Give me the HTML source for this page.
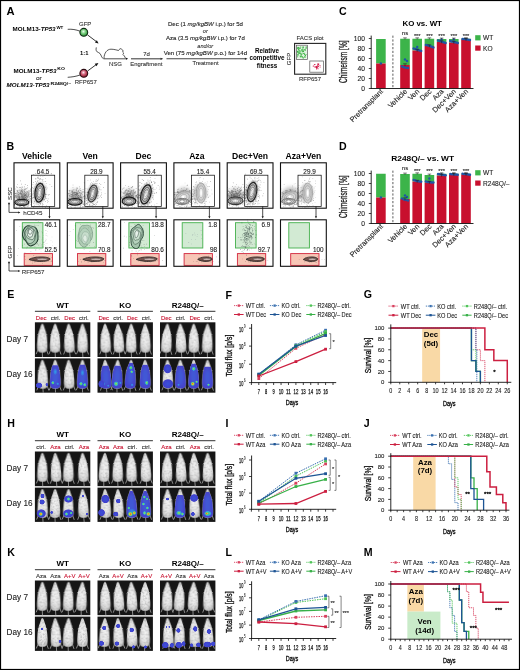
<!DOCTYPE html>
<html><head><meta charset="utf-8"><title>Figure</title>
<style>
html,body{margin:0;padding:0;background:#fff;}
body{width:520px;height:670px;overflow:hidden;font-family:"Liberation Sans", sans-serif;}
svg{display:block;will-change:transform;}
</style></head><body>
<svg width="520" height="670" viewBox="0 0 520 670" font-family='"Liberation Sans", sans-serif'>
<defs>
<radialGradient id="gG" cx="0.45" cy="0.4" r="0.6"><stop offset="0" stop-color="#e8fae8"/><stop offset="0.45" stop-color="#7ad080"/><stop offset="1" stop-color="#2a8a34"/></radialGradient>
<radialGradient id="gR" cx="0.45" cy="0.4" r="0.6"><stop offset="0" stop-color="#fce8ec"/><stop offset="0.45" stop-color="#d06078"/><stop offset="1" stop-color="#8a1828"/></radialGradient>
<radialGradient id="mouseG" cx="0.5" cy="0.5" r="0.62"><stop offset="0" stop-color="#f4f4f4"/><stop offset="0.55" stop-color="#e4e4e4"/><stop offset="0.85" stop-color="#c6c6c6"/><stop offset="1" stop-color="#8a8a8a"/></radialGradient>
<radialGradient id="blobB" cx="0.5" cy="0.5" r="0.5"><stop offset="0" stop-color="#3a50d8"/><stop offset="0.8" stop-color="#4040cc"/><stop offset="1" stop-color="#4646cc" stop-opacity="0"/></radialGradient>
<radialGradient id="blobL" cx="0.5" cy="0.5" r="0.5"><stop offset="0" stop-color="#30a0e8"/><stop offset="0.6" stop-color="#3a70dc"/><stop offset="1" stop-color="#4646cc" stop-opacity="0"/></radialGradient>
<radialGradient id="blobC" cx="0.5" cy="0.5" r="0.5"><stop offset="0" stop-color="#c8e040"/><stop offset="0.35" stop-color="#50d080"/><stop offset="0.7" stop-color="#30a0e0"/><stop offset="1" stop-color="#4646cc" stop-opacity="0"/></radialGradient>
<radialGradient id="blobH" cx="0.5" cy="0.5" r="0.5"><stop offset="0" stop-color="#e83020"/><stop offset="0.3" stop-color="#f0c020"/><stop offset="0.6" stop-color="#50d080"/><stop offset="1" stop-color="#4646cc" stop-opacity="0"/></radialGradient>
<filter id="mot0" x="-20%" y="-5%" width="140%" height="110%" color-interpolation-filters="sRGB"><feTurbulence type="fractalNoise" baseFrequency="0.5" numOctaves="2" seed="3" result="n"/><feColorMatrix in="n" type="matrix" values="0 0 0 0 0.55  0 0 0 0 0.55  0 0 0 0 0.55  1.1 0 0 0 -0.47" result="dk"/><feComposite in="dk" in2="SourceAlpha" operator="in" result="dk2"/><feMerge><feMergeNode in="SourceGraphic"/><feMergeNode in="dk2"/></feMerge></filter>
<filter id="mot1" x="-20%" y="-5%" width="140%" height="110%" color-interpolation-filters="sRGB"><feTurbulence type="fractalNoise" baseFrequency="0.5" numOctaves="2" seed="10" result="n"/><feColorMatrix in="n" type="matrix" values="0 0 0 0 0.55  0 0 0 0 0.55  0 0 0 0 0.55  1.1 0 0 0 -0.47" result="dk"/><feComposite in="dk" in2="SourceAlpha" operator="in" result="dk2"/><feMerge><feMergeNode in="SourceGraphic"/><feMergeNode in="dk2"/></feMerge></filter>
<filter id="mot2" x="-20%" y="-5%" width="140%" height="110%" color-interpolation-filters="sRGB"><feTurbulence type="fractalNoise" baseFrequency="0.5" numOctaves="2" seed="17" result="n"/><feColorMatrix in="n" type="matrix" values="0 0 0 0 0.55  0 0 0 0 0.55  0 0 0 0 0.55  1.1 0 0 0 -0.47" result="dk"/><feComposite in="dk" in2="SourceAlpha" operator="in" result="dk2"/><feMerge><feMergeNode in="SourceGraphic"/><feMergeNode in="dk2"/></feMerge></filter>
<filter id="mot3" x="-20%" y="-5%" width="140%" height="110%" color-interpolation-filters="sRGB"><feTurbulence type="fractalNoise" baseFrequency="0.5" numOctaves="2" seed="24" result="n"/><feColorMatrix in="n" type="matrix" values="0 0 0 0 0.55  0 0 0 0 0.55  0 0 0 0 0.55  1.1 0 0 0 -0.47" result="dk"/><feComposite in="dk" in2="SourceAlpha" operator="in" result="dk2"/><feMerge><feMergeNode in="SourceGraphic"/><feMergeNode in="dk2"/></feMerge></filter>
<filter id="mot4" x="-20%" y="-5%" width="140%" height="110%" color-interpolation-filters="sRGB"><feTurbulence type="fractalNoise" baseFrequency="0.5" numOctaves="2" seed="31" result="n"/><feColorMatrix in="n" type="matrix" values="0 0 0 0 0.55  0 0 0 0 0.55  0 0 0 0 0.55  1.1 0 0 0 -0.47" result="dk"/><feComposite in="dk" in2="SourceAlpha" operator="in" result="dk2"/><feMerge><feMergeNode in="SourceGraphic"/><feMergeNode in="dk2"/></feMerge></filter>
<filter id="mot5" x="-20%" y="-5%" width="140%" height="110%" color-interpolation-filters="sRGB"><feTurbulence type="fractalNoise" baseFrequency="0.5" numOctaves="2" seed="38" result="n"/><feColorMatrix in="n" type="matrix" values="0 0 0 0 0.55  0 0 0 0 0.55  0 0 0 0 0.55  1.1 0 0 0 -0.47" result="dk"/><feComposite in="dk" in2="SourceAlpha" operator="in" result="dk2"/><feMerge><feMergeNode in="SourceGraphic"/><feMergeNode in="dk2"/></feMerge></filter>
<filter id="bl1" x="-50%" y="-50%" width="200%" height="200%"><feGaussianBlur stdDeviation="1.2"/></filter>
<filter id="bl2" x="-50%" y="-50%" width="200%" height="200%"><feGaussianBlur stdDeviation="2.2"/></filter>
<radialGradient id="haze" cx="0.5" cy="0.5" r="0.5"><stop offset="0" stop-color="#777" stop-opacity="0.55"/><stop offset="1" stop-color="#999" stop-opacity="0"/></radialGradient>
<path id="mouse" d="M0,0 C0.7,0 1.3,1 1.7,2.6 C2.1,4 2.6,5.2 3.0,6.2 C3.6,7.4 3.9,8.6 3.9,9.6 C4.5,11 5.0,14 5.2,17.5 C5.5,21 5.7,24 5.3,26 C4.7,28 2.6,28.8 0,28.8 C-2.6,28.8 -4.7,28 -5.3,26 C-5.7,24 -5.5,21 -5.2,17.5 C-5.0,14 -4.5,11 -3.9,9.6 C-3.9,8.6 -3.6,7.4 -3.0,6.2 C-2.6,5.2 -2.1,4 -1.7,2.6 C-1.3,1 -0.7,0 0,0 Z"/>
</defs>
<rect x="0" y="0" width="520" height="670" fill="#fff"/>
<text x="6.40" y="15.00" font-size="10.6" font-weight="bold" textLength="8.1" lengthAdjust="spacingAndGlyphs">A</text>
<text x="12.6" y="30.9" font-size="6" font-weight="bold" textLength="43" lengthAdjust="spacingAndGlyphs">MOLM13-<tspan font-style="italic">TP53</tspan></text>
<text x="56.40" y="28.50" font-size="4.4" font-weight="bold" textLength="6.9" lengthAdjust="spacingAndGlyphs">WT</text>
<text x="13.5" y="72.5" font-size="6" font-weight="bold" textLength="43" lengthAdjust="spacingAndGlyphs">MOLM13-<tspan font-style="italic">TP53</tspan></text>
<text x="57.30" y="70.10" font-size="4.4" font-weight="bold" textLength="7.6" lengthAdjust="spacingAndGlyphs">KO</text>
<text x="35.90" y="79.80" font-size="5.6" fill="#333" stroke="#333" stroke-width="0.1" textLength="5.8" lengthAdjust="spacingAndGlyphs">or</text>
<text x="6.6" y="87.3" font-size="6" font-weight="bold" textLength="43" lengthAdjust="spacingAndGlyphs" font-style="italic">MOLM13-<tspan font-style="italic">TP53</tspan></text>
<text x="50.40" y="84.90" font-size="4.4" font-weight="bold" textLength="20.8" lengthAdjust="spacingAndGlyphs">R248Q/–</text>
<text x="85.20" y="25.50" font-size="6" text-anchor="middle" fill="#333" stroke="#333" stroke-width="0.1">GFP</text>
<text x="85.80" y="83.60" font-size="6" text-anchor="middle" fill="#333" stroke="#333" stroke-width="0.1">RFP657</text>
<path d="M67.7,29.3 C72,29 76,29.6 80,31.2" stroke="#222" stroke-width="0.8" fill="none"/>
<path d="M67.7,77.3 C72,77 76,76.5 80,75" stroke="#222" stroke-width="0.8" fill="none"/>
<path d="M87.4,34.8 L96.4,41.6" stroke="#111" stroke-width="0.85" fill="none"/>
<path d="M98.60,43.40 L94.96,42.58 L96.81,40.13 Z" fill="#111"/>
<path d="M87.6,71.0 L96.2,64.6" stroke="#111" stroke-width="0.85" fill="none"/>
<path d="M98.40,63.00 L96.55,66.24 L94.75,63.76 Z" fill="#111"/>
<circle cx="83.8" cy="32.3" r="3.9" fill="url(#gG)" stroke="#102a14" stroke-width="1.1"/>
<circle cx="83.8" cy="73.3" r="3.9" fill="url(#gR)" stroke="#2a0a10" stroke-width="1.1"/>
<text x="80.00" y="55.30" font-size="5.8" font-weight="bold">1:1</text>
<path d="M96.3,47.4 C95.6,50 96.3,52 98.6,52.6 C101,53.2 100.8,56.5 103,58.6" stroke="#222" stroke-width="0.75" fill="none"/>
<path d="M104,58.6 C104,53 107,49.2 111,49.2 C114,49.2 116.5,50 118.5,50.5 C119.5,48.5 121.6,48 121.8,49.6 C123,50 123.5,51.2 122.6,52 C124,52.8 123.6,54 122.8,54.4 C124,55.2 125,56.6 125.5,58.2" stroke="#222" stroke-width="0.75" fill="none"/>
<line x1="103.50" y1="58.80" x2="126.50" y2="58.80" stroke="#222" stroke-width="0.8"/>
<path d="M128.20,58.80 L126.00,59.79 L126.00,57.81 Z" fill="#111"/>
<text x="115.50" y="65.80" font-size="6" text-anchor="middle" fill="#333" stroke="#333" stroke-width="0.1">NSG</text>
<line x1="131.00" y1="58.80" x2="161.00" y2="58.80" stroke="#444" stroke-width="1.1"/>
<path d="M163.20,58.80 L160.60,59.97 L160.60,57.63 Z" fill="#222"/>
<text x="146.60" y="55.60" font-size="6" text-anchor="middle" fill="#333" stroke="#333" stroke-width="0.1">7d</text>
<text x="146.30" y="66.00" font-size="6" text-anchor="middle" fill="#333" stroke="#333" stroke-width="0.1" textLength="32" lengthAdjust="spacingAndGlyphs">Engraftment</text>
<line x1="166.50" y1="58.80" x2="245.00" y2="58.80" stroke="#444" stroke-width="1.1"/>
<path d="M247.50,58.80 L244.90,59.97 L244.90,57.63 Z" fill="#222"/>
<text x="205.50" y="65.30" font-size="6" text-anchor="middle" fill="#333" stroke="#333" stroke-width="0.1" textLength="26" lengthAdjust="spacingAndGlyphs">Treatment</text>
<text x="205.4" y="25.8" font-size="5.9" text-anchor="middle" fill="#1a1a1a" stroke="#1a1a1a" stroke-width="0.1" textLength="75" lengthAdjust="spacingAndGlyphs">Dec (1 <tspan font-style="italic">mg/kgBW</tspan> i.p.) for 5d</text>
<text x="205.30" y="33.20" font-size="5.6" text-anchor="middle" fill="#333" stroke="#333" stroke-width="0.1" font-style="italic">or</text>
<text x="205.4" y="40.3" font-size="5.9" text-anchor="middle" fill="#1a1a1a" stroke="#1a1a1a" stroke-width="0.1" textLength="78.8" lengthAdjust="spacingAndGlyphs">Aza (3.5 <tspan font-style="italic">mg/kgBW</tspan> i.p.) for 7d</text>
<text x="205.30" y="47.90" font-size="5.6" text-anchor="middle" fill="#333" stroke="#333" stroke-width="0.1" font-style="italic">and/or</text>
<text x="205.4" y="54.6" font-size="5.9" text-anchor="middle" fill="#1a1a1a" stroke="#1a1a1a" stroke-width="0.1" textLength="83.4" lengthAdjust="spacingAndGlyphs">Ven (75 <tspan font-style="italic">mg/kgBW</tspan> p.o.) for 14d</text>
<text x="267.00" y="53.20" font-size="6.3" font-weight="bold" text-anchor="middle">Relative</text>
<text x="267.00" y="60.40" font-size="6.3" font-weight="bold" text-anchor="middle">competitive</text>
<text x="267.00" y="67.90" font-size="6.3" font-weight="bold" text-anchor="middle">fitness</text>
<text x="310.00" y="39.70" font-size="6" text-anchor="middle" fill="#333" stroke="#333" stroke-width="0.1">FACS plot</text>
<rect x="294.60" y="43.40" width="31.20" height="30.80" fill="none" stroke="#222" stroke-width="1.1"/>
<rect x="296.40" y="45.20" width="11.20" height="14.40" fill="none" stroke="#555" stroke-width="0.7"/>
<rect x="309.80" y="61.00" width="13.80" height="11.20" fill="none" stroke="#555" stroke-width="0.7"/>
<rect x="297.2" y="46.2" width="9.6" height="12.4" fill="#dff2df"/>
<circle cx="300.3" cy="48.2" r="0.55" fill="#38b040"/>
<circle cx="303.3" cy="47.3" r="0.55" fill="#38b040"/>
<circle cx="302.2" cy="50.7" r="0.55" fill="#38b040"/>
<circle cx="297.9" cy="52.4" r="0.55" fill="#38b040"/>
<circle cx="297.7" cy="51.5" r="0.55" fill="#38b040"/>
<circle cx="298.0" cy="47.5" r="0.55" fill="#38b040"/>
<circle cx="301.2" cy="56.2" r="0.55" fill="#38b040"/>
<circle cx="298.5" cy="49.0" r="0.55" fill="#38b040"/>
<circle cx="303.0" cy="57.6" r="0.55" fill="#38b040"/>
<circle cx="302.6" cy="51.1" r="0.55" fill="#38b040"/>
<circle cx="306.2" cy="46.9" r="0.55" fill="#38b040"/>
<circle cx="305.1" cy="49.8" r="0.55" fill="#38b040"/>
<circle cx="298.7" cy="47.8" r="0.55" fill="#38b040"/>
<circle cx="300.2" cy="56.0" r="0.55" fill="#38b040"/>
<circle cx="299.0" cy="53.3" r="0.55" fill="#38b040"/>
<circle cx="303.2" cy="50.8" r="0.55" fill="#38b040"/>
<circle cx="302.3" cy="47.1" r="0.55" fill="#38b040"/>
<circle cx="297.9" cy="48.8" r="0.55" fill="#38b040"/>
<circle cx="303.5" cy="51.4" r="0.55" fill="#38b040"/>
<circle cx="300.2" cy="53.3" r="0.55" fill="#38b040"/>
<circle cx="301.5" cy="49.9" r="0.55" fill="#38b040"/>
<circle cx="304.5" cy="54.6" r="0.55" fill="#38b040"/>
<circle cx="299.6" cy="53.2" r="0.55" fill="#38b040"/>
<circle cx="302.1" cy="56.7" r="0.55" fill="#38b040"/>
<circle cx="304.0" cy="49.8" r="0.55" fill="#38b040"/>
<circle cx="306.2" cy="47.8" r="0.55" fill="#38b040"/>
<circle cx="301.2" cy="55.3" r="0.55" fill="#38b040"/>
<circle cx="298.8" cy="52.2" r="0.55" fill="#38b040"/>
<circle cx="297.8" cy="54.3" r="0.55" fill="#38b040"/>
<circle cx="304.3" cy="53.2" r="0.55" fill="#38b040"/>
<circle cx="305.3" cy="50.1" r="0.55" fill="#38b040"/>
<circle cx="303.7" cy="53.4" r="0.55" fill="#38b040"/>
<circle cx="302.6" cy="51.8" r="0.55" fill="#38b040"/>
<circle cx="305.0" cy="57.5" r="0.55" fill="#38b040"/>
<circle cx="301.7" cy="54.2" r="0.55" fill="#38b040"/>
<circle cx="297.9" cy="54.7" r="0.55" fill="#38b040"/>
<circle cx="303.2" cy="58.1" r="0.55" fill="#38b040"/>
<circle cx="304.8" cy="49.8" r="0.55" fill="#38b040"/>
<circle cx="300.9" cy="54.3" r="0.55" fill="#38b040"/>
<circle cx="297.6" cy="51.8" r="0.55" fill="#38b040"/>
<circle cx="298.9" cy="47.8" r="0.55" fill="#38b040"/>
<circle cx="297.9" cy="55.5" r="0.55" fill="#38b040"/>
<circle cx="298.6" cy="49.3" r="0.55" fill="#38b040"/>
<circle cx="300.9" cy="56.7" r="0.55" fill="#38b040"/>
<circle cx="298.1" cy="51.7" r="0.55" fill="#38b040"/>
<circle cx="302.3" cy="56.8" r="0.55" fill="#38b040"/>
<circle cx="304.8" cy="56.6" r="0.55" fill="#38b040"/>
<circle cx="299.9" cy="51.3" r="0.55" fill="#38b040"/>
<circle cx="300.6" cy="56.8" r="0.55" fill="#38b040"/>
<circle cx="306.0" cy="48.2" r="0.55" fill="#38b040"/>
<circle cx="299.0" cy="49.1" r="0.55" fill="#38b040"/>
<circle cx="299.5" cy="52.1" r="0.55" fill="#38b040"/>
<circle cx="302.7" cy="49.5" r="0.55" fill="#38b040"/>
<circle cx="297.4" cy="51.3" r="0.55" fill="#38b040"/>
<circle cx="300.7" cy="53.1" r="0.55" fill="#38b040"/>
<circle cx="306.0" cy="54.5" r="0.55" fill="#38b040"/>
<circle cx="302.0" cy="53.7" r="0.55" fill="#38b040"/>
<circle cx="303.5" cy="47.0" r="0.55" fill="#38b040"/>
<circle cx="305.5" cy="55.6" r="0.55" fill="#38b040"/>
<circle cx="305.3" cy="55.8" r="0.55" fill="#38b040"/>
<circle cx="300.9" cy="51.1" r="0.55" fill="#38b040"/>
<circle cx="298.3" cy="53.9" r="0.55" fill="#38b040"/>
<circle cx="298.0" cy="47.2" r="0.55" fill="#38b040"/>
<circle cx="299.3" cy="48.3" r="0.55" fill="#38b040"/>
<circle cx="300.5" cy="47.0" r="0.55" fill="#38b040"/>
<circle cx="297.4" cy="48.2" r="0.55" fill="#38b040"/>
<circle cx="298.3" cy="50.7" r="0.55" fill="#38b040"/>
<circle cx="297.6" cy="56.7" r="0.55" fill="#38b040"/>
<circle cx="302.9" cy="48.2" r="0.55" fill="#38b040"/>
<circle cx="299.7" cy="50.5" r="0.55" fill="#38b040"/>
<circle cx="316.2" cy="67.1" r="0.5" fill="#d01040"/>
<circle cx="318.8" cy="64.0" r="0.5" fill="#d01040"/>
<circle cx="314.8" cy="67.0" r="0.5" fill="#d01040"/>
<circle cx="317.2" cy="66.9" r="0.5" fill="#d01040"/>
<circle cx="316.1" cy="67.5" r="0.5" fill="#d01040"/>
<circle cx="317.1" cy="65.9" r="0.5" fill="#d01040"/>
<circle cx="320.1" cy="67.0" r="0.5" fill="#d01040"/>
<circle cx="315.9" cy="66.5" r="0.5" fill="#d01040"/>
<circle cx="316.3" cy="66.5" r="0.5" fill="#d01040"/>
<circle cx="313.2" cy="66.0" r="0.5" fill="#d01040"/>
<circle cx="318.4" cy="64.8" r="0.5" fill="#d01040"/>
<circle cx="316.6" cy="68.0" r="0.5" fill="#d01040"/>
<circle cx="318.1" cy="68.8" r="0.5" fill="#d01040"/>
<circle cx="313.9" cy="66.1" r="0.5" fill="#d01040"/>
<circle cx="316.2" cy="67.4" r="0.5" fill="#d01040"/>
<circle cx="318.0" cy="63.6" r="0.5" fill="#d01040"/>
<circle cx="318.5" cy="64.5" r="0.5" fill="#d01040"/>
<circle cx="317.8" cy="64.4" r="0.5" fill="#d01040"/>
<circle cx="317.0" cy="68.4" r="0.5" fill="#d01040"/>
<circle cx="316.5" cy="66.9" r="0.5" fill="#d01040"/>
<circle cx="317.9" cy="66.8" r="0.5" fill="#d01040"/>
<circle cx="316.6" cy="68.9" r="0.5" fill="#d01040"/>
<circle cx="318.4" cy="66.2" r="0.5" fill="#d01040"/>
<circle cx="320.0" cy="65.4" r="0.5" fill="#d01040"/>
<circle cx="318.1" cy="66.2" r="0.5" fill="#d01040"/>
<circle cx="316.9" cy="67.5" r="0.5" fill="#d01040"/>
<circle cx="317.0" cy="67.4" r="0.5" fill="#d01040"/>
<circle cx="314.4" cy="64.5" r="0.5" fill="#d01040"/>
<circle cx="317.7" cy="65.2" r="0.5" fill="#d01040"/>
<circle cx="315.0" cy="64.4" r="0.5" fill="#d01040"/>
<text x="291.30" y="59.00" font-size="6" text-anchor="middle" fill="#333" stroke="#333" stroke-width="0.1" transform="rotate(-90 291.30 59.00)">GFP</text>
<text x="310.00" y="80.90" font-size="6" text-anchor="middle" fill="#333" stroke="#333" stroke-width="0.1">RFP657</text>
<text x="6.60" y="149.60" font-size="10.6" font-weight="bold">B</text>
<text x="36.90" y="158.80" font-size="8.6" font-weight="bold" text-anchor="middle">Vehicle</text>
<clipPath id="ct0"><rect x="14.00" y="162.8" width="45.8" height="45.4"/></clipPath>
<g clip-path="url(#ct0)">
<ellipse cx="22.30" cy="197.30" rx="7.00" ry="7.5" fill="#7a7a7a" fill-opacity="0.45" filter="url(#bl2)"/>
<ellipse cx="39.60" cy="192.70" rx="5.75" ry="10.53" fill="#777" fill-opacity="0.65" filter="url(#bl1)" transform="rotate(6 39.60 192.70)"/>
<path d="M27.7,199.4h0.65v0.65h-0.65zM28.6,191.8h0.65v0.65h-0.65zM22.0,190.9h0.65v0.65h-0.65zM25.4,203.2h0.65v0.65h-0.65zM18.0,203.0h0.65v0.65h-0.65zM26.4,195.2h0.65v0.65h-0.65zM13.1,202.3h0.65v0.65h-0.65zM21.6,193.3h0.65v0.65h-0.65zM23.8,197.8h0.65v0.65h-0.65zM28.7,191.4h0.65v0.65h-0.65zM27.1,202.7h0.65v0.65h-0.65zM28.5,195.2h0.65v0.65h-0.65zM18.7,200.6h0.65v0.65h-0.65zM22.5,196.6h0.65v0.65h-0.65zM28.4,194.8h0.65v0.65h-0.65zM11.7,194.3h0.65v0.65h-0.65zM13.7,199.7h0.65v0.65h-0.65zM23.4,193.2h0.65v0.65h-0.65zM22.0,199.7h0.65v0.65h-0.65zM22.4,202.0h0.65v0.65h-0.65zM21.7,200.7h0.65v0.65h-0.65zM28.7,203.2h0.65v0.65h-0.65zM19.0,200.0h0.65v0.65h-0.65zM13.6,191.1h0.65v0.65h-0.65zM13.2,200.8h0.65v0.65h-0.65zM16.5,195.9h0.65v0.65h-0.65zM21.1,195.9h0.65v0.65h-0.65zM19.3,197.1h0.65v0.65h-0.65zM30.1,196.2h0.65v0.65h-0.65zM24.4,200.5h0.65v0.65h-0.65zM21.1,190.3h0.65v0.65h-0.65zM19.5,200.8h0.65v0.65h-0.65zM14.6,193.3h0.65v0.65h-0.65zM26.5,199.6h0.65v0.65h-0.65zM22.0,199.6h0.65v0.65h-0.65zM22.7,190.7h0.65v0.65h-0.65zM15.0,193.1h0.65v0.65h-0.65zM26.2,193.5h0.65v0.65h-0.65zM17.9,192.5h0.65v0.65h-0.65zM15.1,195.5h0.65v0.65h-0.65zM16.7,197.6h0.65v0.65h-0.65zM11.4,197.5h0.65v0.65h-0.65zM19.1,187.3h0.65v0.65h-0.65zM25.3,194.8h0.65v0.65h-0.65zM12.0,192.1h0.65v0.65h-0.65zM23.3,193.9h0.65v0.65h-0.65zM25.5,199.4h0.65v0.65h-0.65zM25.0,197.5h0.65v0.65h-0.65zM28.0,199.0h0.65v0.65h-0.65zM24.0,186.6h0.65v0.65h-0.65zM26.0,201.9h0.65v0.65h-0.65zM20.7,193.9h0.65v0.65h-0.65zM30.7,188.1h0.65v0.65h-0.65zM24.1,206.9h0.65v0.65h-0.65zM17.8,199.1h0.65v0.65h-0.65zM30.5,195.5h0.65v0.65h-0.65zM24.5,200.1h0.65v0.65h-0.65zM17.9,195.6h0.65v0.65h-0.65zM23.3,199.7h0.65v0.65h-0.65zM21.8,195.1h0.65v0.65h-0.65zM17.4,194.4h0.65v0.65h-0.65zM26.0,196.5h0.65v0.65h-0.65zM18.2,192.2h0.65v0.65h-0.65zM34.0,201.1h0.65v0.65h-0.65zM24.9,184.3h0.65v0.65h-0.65zM24.8,198.2h0.65v0.65h-0.65zM29.6,197.9h0.65v0.65h-0.65zM21.7,198.4h0.65v0.65h-0.65zM13.3,200.6h0.65v0.65h-0.65zM23.5,192.8h0.65v0.65h-0.65zM28.0,204.1h0.65v0.65h-0.65zM15.7,193.0h0.65v0.65h-0.65zM23.3,196.8h0.65v0.65h-0.65zM20.2,191.6h0.65v0.65h-0.65zM31.5,200.7h0.65v0.65h-0.65zM16.6,189.9h0.65v0.65h-0.65zM29.7,200.5h0.65v0.65h-0.65zM30.2,199.6h0.65v0.65h-0.65zM18.1,197.2h0.65v0.65h-0.65zM12.3,192.6h0.65v0.65h-0.65zM21.7,198.4h0.65v0.65h-0.65zM18.7,195.4h0.65v0.65h-0.65zM24.1,197.7h0.65v0.65h-0.65zM24.9,196.9h0.65v0.65h-0.65zM20.5,199.6h0.65v0.65h-0.65zM22.2,192.3h0.65v0.65h-0.65zM19.2,196.0h0.65v0.65h-0.65zM21.5,196.7h0.65v0.65h-0.65zM22.0,196.8h0.65v0.65h-0.65zM21.4,190.3h0.65v0.65h-0.65zM23.9,200.7h0.65v0.65h-0.65zM24.0,195.1h0.65v0.65h-0.65zM24.0,191.7h0.65v0.65h-0.65zM13.5,196.3h0.65v0.65h-0.65zM17.8,199.3h0.65v0.65h-0.65zM17.1,184.2h0.65v0.65h-0.65zM17.3,203.1h0.65v0.65h-0.65zM20.3,189.8h0.65v0.65h-0.65zM18.6,198.3h0.65v0.65h-0.65zM24.2,196.8h0.65v0.65h-0.65zM28.7,199.2h0.65v0.65h-0.65zM21.9,198.7h0.65v0.65h-0.65zM29.4,200.4h0.65v0.65h-0.65zM26.6,191.1h0.65v0.65h-0.65zM21.3,199.3h0.65v0.65h-0.65zM20.7,200.8h0.65v0.65h-0.65zM24.7,200.1h0.65v0.65h-0.65zM21.0,207.5h0.65v0.65h-0.65zM27.6,195.0h0.65v0.65h-0.65zM22.4,207.7h0.65v0.65h-0.65zM20.5,199.9h0.65v0.65h-0.65zM26.4,196.0h0.65v0.65h-0.65zM16.7,196.8h0.65v0.65h-0.65zM23.6,201.1h0.65v0.65h-0.65zM25.5,196.1h0.65v0.65h-0.65zM25.8,198.4h0.65v0.65h-0.65zM22.9,196.2h0.65v0.65h-0.65zM20.9,199.1h0.65v0.65h-0.65zM17.3,193.2h0.65v0.65h-0.65zM22.0,189.4h0.65v0.65h-0.65zM20.0,187.0h0.65v0.65h-0.65zM18.9,198.6h0.65v0.65h-0.65zM24.5,195.8h0.65v0.65h-0.65zM21.0,189.6h0.65v0.65h-0.65zM30.2,198.3h0.65v0.65h-0.65zM26.9,192.0h0.65v0.65h-0.65zM21.2,187.8h0.65v0.65h-0.65zM25.5,200.2h0.65v0.65h-0.65zM13.5,195.8h0.65v0.65h-0.65zM24.8,188.1h0.65v0.65h-0.65zM13.8,191.2h0.65v0.65h-0.65zM19.2,189.7h0.65v0.65h-0.65zM22.1,197.1h0.65v0.65h-0.65zM24.9,199.2h0.65v0.65h-0.65zM28.8,201.2h0.65v0.65h-0.65zM16.1,193.7h0.65v0.65h-0.65zM17.2,191.2h0.65v0.65h-0.65zM21.6,196.0h0.65v0.65h-0.65zM24.2,188.9h0.65v0.65h-0.65zM16.4,195.9h0.65v0.65h-0.65zM21.1,194.6h0.65v0.65h-0.65zM21.7,192.6h0.65v0.65h-0.65zM25.2,197.6h0.65v0.65h-0.65zM21.6,193.0h0.65v0.65h-0.65zM21.2,183.8h0.65v0.65h-0.65zM17.6,196.2h0.65v0.65h-0.65zM15.2,196.9h0.65v0.65h-0.65zM22.7,189.8h0.65v0.65h-0.65zM20.9,194.6h0.65v0.65h-0.65zM24.1,198.8h0.65v0.65h-0.65zM21.8,192.2h0.65v0.65h-0.65zM21.4,195.7h0.65v0.65h-0.65zM25.3,197.3h0.65v0.65h-0.65zM18.7,189.9h0.65v0.65h-0.65zM20.3,192.7h0.65v0.65h-0.65zM17.0,195.5h0.65v0.65h-0.65zM19.8,196.5h0.65v0.65h-0.65zM24.4,194.1h0.65v0.65h-0.65zM32.5,194.6h0.65v0.65h-0.65zM27.0,196.5h0.65v0.65h-0.65zM27.0,185.3h0.65v0.65h-0.65zM18.6,197.1h0.65v0.65h-0.65zM24.7,206.5h0.65v0.65h-0.65zM23.5,201.8h0.65v0.65h-0.65zM25.4,200.3h0.65v0.65h-0.65zM24.3,195.3h0.65v0.65h-0.65zM24.3,191.1h0.65v0.65h-0.65zM27.3,191.4h0.65v0.65h-0.65zM23.1,205.5h0.65v0.65h-0.65zM21.0,196.1h0.65v0.65h-0.65zM27.2,196.1h0.65v0.65h-0.65zM18.4,197.2h0.65v0.65h-0.65zM24.6,199.2h0.65v0.65h-0.65zM18.5,203.9h0.65v0.65h-0.65zM29.5,196.1h0.65v0.65h-0.65zM23.2,194.1h0.65v0.65h-0.65zM28.4,192.8h0.65v0.65h-0.65zM25.0,193.8h0.65v0.65h-0.65zM18.9,199.2h0.65v0.65h-0.65zM28.0,196.0h0.65v0.65h-0.65zM19.0,199.7h0.65v0.65h-0.65zM21.8,197.4h0.65v0.65h-0.65zM28.9,201.1h0.65v0.65h-0.65zM19.7,206.3h0.65v0.65h-0.65zM22.0,199.5h0.65v0.65h-0.65zM19.1,195.8h0.65v0.65h-0.65zM14.1,204.0h0.65v0.65h-0.65zM28.1,190.5h0.65v0.65h-0.65zM15.2,188.7h0.65v0.65h-0.65zM27.3,193.9h0.65v0.65h-0.65zM21.7,194.6h0.65v0.65h-0.65zM21.5,191.1h0.65v0.65h-0.65zM22.1,189.5h0.65v0.65h-0.65zM21.7,197.4h0.65v0.65h-0.65zM24.1,195.0h0.65v0.65h-0.65zM17.9,196.7h0.65v0.65h-0.65zM19.8,203.0h0.65v0.65h-0.65zM25.5,195.5h0.65v0.65h-0.65zM19.9,192.8h0.65v0.65h-0.65zM17.8,194.4h0.65v0.65h-0.65zM23.3,198.3h0.65v0.65h-0.65zM24.6,205.4h0.65v0.65h-0.65zM18.8,196.1h0.65v0.65h-0.65zM34.6,187.6h0.65v0.65h-0.65zM19.7,196.8h0.65v0.65h-0.65zM22.7,197.8h0.65v0.65h-0.65zM20.9,197.6h0.65v0.65h-0.65zM22.2,199.5h0.65v0.65h-0.65zM13.5,192.0h0.65v0.65h-0.65zM22.0,191.4h0.65v0.65h-0.65zM17.3,198.8h0.65v0.65h-0.65zM19.1,198.9h0.65v0.65h-0.65zM25.4,197.4h0.65v0.65h-0.65zM24.3,195.5h0.65v0.65h-0.65zM15.7,195.9h0.65v0.65h-0.65zM24.0,193.6h0.65v0.65h-0.65zM21.6,199.4h0.65v0.65h-0.65zM18.0,198.9h0.65v0.65h-0.65zM30.4,193.5h0.65v0.65h-0.65zM22.7,195.3h0.65v0.65h-0.65zM28.9,197.4h0.65v0.65h-0.65zM26.0,192.9h0.65v0.65h-0.65zM21.9,196.0h0.65v0.65h-0.65zM14.0,202.5h0.65v0.65h-0.65zM26.0,188.1h0.65v0.65h-0.65zM25.3,195.4h0.65v0.65h-0.65zM24.0,197.6h0.65v0.65h-0.65zM15.3,195.0h0.65v0.65h-0.65zM28.7,193.4h0.65v0.65h-0.65zM17.4,189.9h0.65v0.65h-0.65zM16.5,197.5h0.65v0.65h-0.65zM29.6,197.9h0.65v0.65h-0.65zM23.1,206.1h0.65v0.65h-0.65zM19.7,193.0h0.65v0.65h-0.65zM24.4,198.5h0.65v0.65h-0.65zM17.4,190.7h0.65v0.65h-0.65zM23.3,197.1h0.65v0.65h-0.65zM16.1,195.1h0.65v0.65h-0.65zM19.6,198.1h0.65v0.65h-0.65zM21.5,195.6h0.65v0.65h-0.65zM20.4,200.7h0.65v0.65h-0.65zM28.3,194.3h0.65v0.65h-0.65zM25.8,192.6h0.65v0.65h-0.65zM22.3,199.4h0.65v0.65h-0.65zM28.8,194.3h0.65v0.65h-0.65zM21.7,196.9h0.65v0.65h-0.65zM15.3,196.1h0.65v0.65h-0.65zM19.0,197.7h0.65v0.65h-0.65zM16.9,187.1h0.65v0.65h-0.65zM22.2,197.2h0.65v0.65h-0.65zM19.5,200.0h0.65v0.65h-0.65zM20.8,193.3h0.65v0.65h-0.65zM24.1,188.9h0.65v0.65h-0.65zM19.0,195.9h0.65v0.65h-0.65zM25.8,195.3h0.65v0.65h-0.65zM23.4,193.1h0.65v0.65h-0.65zM23.4,203.5h0.65v0.65h-0.65zM18.9,206.6h0.65v0.65h-0.65zM19.1,196.1h0.65v0.65h-0.65zM22.8,200.6h0.65v0.65h-0.65zM16.4,186.5h0.65v0.65h-0.65zM24.7,199.6h0.65v0.65h-0.65zM24.8,207.8h0.65v0.65h-0.65zM22.9,197.1h0.65v0.65h-0.65zM26.2,197.7h0.65v0.65h-0.65zM29.5,190.4h0.65v0.65h-0.65zM20.3,180.5h0.65v0.65h-0.65zM25.7,194.3h0.65v0.65h-0.65zM26.2,205.7h0.65v0.65h-0.65zM22.0,194.9h0.65v0.65h-0.65zM19.8,192.2h0.65v0.65h-0.65zM19.2,198.9h0.65v0.65h-0.65zM22.2,196.3h0.65v0.65h-0.65zM21.2,200.1h0.65v0.65h-0.65zM24.2,195.4h0.65v0.65h-0.65zM25.0,195.3h0.65v0.65h-0.65zM16.8,202.5h0.65v0.65h-0.65zM24.1,191.7h0.65v0.65h-0.65zM26.9,197.6h0.65v0.65h-0.65zM15.0,203.2h0.65v0.65h-0.65zM23.5,200.0h0.65v0.65h-0.65zM22.9,195.3h0.65v0.65h-0.65zM15.0,200.4h0.65v0.65h-0.65zM22.1,194.7h0.65v0.65h-0.65zM23.6,196.4h0.65v0.65h-0.65zM25.0,194.3h0.65v0.65h-0.65zM21.8,186.4h0.65v0.65h-0.65zM20.1,199.0h0.65v0.65h-0.65zM28.0,194.4h0.65v0.65h-0.65zM21.5,203.1h0.65v0.65h-0.65zM20.5,199.3h0.65v0.65h-0.65zM29.6,196.2h0.65v0.65h-0.65zM27.5,192.8h0.65v0.65h-0.65zM22.9,195.7h0.65v0.65h-0.65zM22.5,201.1h0.65v0.65h-0.65zM32.8,193.0h0.65v0.65h-0.65zM19.4,198.2h0.65v0.65h-0.65zM17.3,198.2h0.65v0.65h-0.65zM24.6,194.8h0.65v0.65h-0.65zM24.4,189.0h0.65v0.65h-0.65zM25.4,189.0h0.65v0.65h-0.65zM18.9,193.5h0.65v0.65h-0.65zM20.2,199.9h0.65v0.65h-0.65zM22.4,194.2h0.65v0.65h-0.65zM24.4,203.1h0.65v0.65h-0.65zM22.0,197.6h0.65v0.65h-0.65zM27.6,197.2h0.65v0.65h-0.65zM16.2,207.2h0.65v0.65h-0.65zM31.9,187.1h0.65v0.65h-0.65zM21.8,197.9h0.65v0.65h-0.65zM26.3,199.0h0.65v0.65h-0.65zM20.8,191.3h0.65v0.65h-0.65zM22.5,200.7h0.65v0.65h-0.65zM17.1,191.4h0.65v0.65h-0.65zM21.9,187.3h0.65v0.65h-0.65zM20.8,194.0h0.65v0.65h-0.65zM24.0,192.8h0.65v0.65h-0.65zM18.0,194.2h0.65v0.65h-0.65zM21.8,193.0h0.65v0.65h-0.65zM22.1,199.4h0.65v0.65h-0.65zM27.3,203.7h0.65v0.65h-0.65zM18.5,194.1h0.65v0.65h-0.65zM10.8,204.5h0.65v0.65h-0.65zM18.7,195.8h0.65v0.65h-0.65zM24.4,189.9h0.65v0.65h-0.65zM24.1,195.9h0.65v0.65h-0.65zM13.8,197.3h0.65v0.65h-0.65zM27.4,187.6h0.65v0.65h-0.65zM25.6,196.9h0.65v0.65h-0.65zM24.1,198.0h0.65v0.65h-0.65zM27.9,195.0h0.65v0.65h-0.65zM25.9,194.2h0.65v0.65h-0.65zM25.3,192.3h0.65v0.65h-0.65zM21.5,203.8h0.65v0.65h-0.65zM24.0,195.3h0.65v0.65h-0.65zM16.8,192.4h0.65v0.65h-0.65zM22.9,200.2h0.65v0.65h-0.65zM23.9,198.4h0.65v0.65h-0.65zM21.8,202.1h0.65v0.65h-0.65zM20.2,193.5h0.65v0.65h-0.65z" fill="#2a2a2a" fill-opacity="0.55"/>
<path d="M43.4,193.6h0.65v0.65h-0.65zM38.9,188.0h0.65v0.65h-0.65zM38.0,197.5h0.65v0.65h-0.65zM42.1,183.2h0.65v0.65h-0.65zM41.3,194.3h0.65v0.65h-0.65zM34.6,198.4h0.65v0.65h-0.65zM38.7,189.9h0.65v0.65h-0.65zM42.0,203.6h0.65v0.65h-0.65zM36.2,195.9h0.65v0.65h-0.65zM33.9,210.7h0.65v0.65h-0.65zM36.5,202.0h0.65v0.65h-0.65zM36.1,198.9h0.65v0.65h-0.65zM51.4,173.5h0.65v0.65h-0.65zM37.3,196.5h0.65v0.65h-0.65zM39.8,187.3h0.65v0.65h-0.65zM48.9,194.3h0.65v0.65h-0.65zM31.7,198.7h0.65v0.65h-0.65zM31.2,201.1h0.65v0.65h-0.65zM37.0,193.6h0.65v0.65h-0.65zM45.0,194.2h0.65v0.65h-0.65zM35.0,178.6h0.65v0.65h-0.65zM44.1,199.1h0.65v0.65h-0.65zM35.3,199.2h0.65v0.65h-0.65zM41.2,198.1h0.65v0.65h-0.65zM30.0,189.3h0.65v0.65h-0.65zM42.9,198.9h0.65v0.65h-0.65zM45.5,173.6h0.65v0.65h-0.65zM39.9,196.7h0.65v0.65h-0.65zM51.5,186.3h0.65v0.65h-0.65zM38.1,192.8h0.65v0.65h-0.65zM43.8,189.6h0.65v0.65h-0.65zM45.2,187.0h0.65v0.65h-0.65zM41.2,188.6h0.65v0.65h-0.65zM40.9,187.3h0.65v0.65h-0.65zM31.7,200.7h0.65v0.65h-0.65zM41.4,188.4h0.65v0.65h-0.65zM39.6,200.7h0.65v0.65h-0.65zM35.4,191.4h0.65v0.65h-0.65zM41.5,197.1h0.65v0.65h-0.65zM39.9,175.8h0.65v0.65h-0.65zM44.7,195.9h0.65v0.65h-0.65zM39.9,190.5h0.65v0.65h-0.65zM41.1,189.4h0.65v0.65h-0.65zM35.8,186.4h0.65v0.65h-0.65zM37.5,187.6h0.65v0.65h-0.65zM34.0,197.2h0.65v0.65h-0.65zM33.4,197.3h0.65v0.65h-0.65zM34.9,195.0h0.65v0.65h-0.65zM45.4,194.9h0.65v0.65h-0.65zM36.4,192.7h0.65v0.65h-0.65zM41.7,179.0h0.65v0.65h-0.65zM36.8,193.7h0.65v0.65h-0.65zM37.5,193.1h0.65v0.65h-0.65zM42.1,199.1h0.65v0.65h-0.65zM43.0,197.8h0.65v0.65h-0.65zM38.4,192.4h0.65v0.65h-0.65zM38.7,190.1h0.65v0.65h-0.65zM40.3,178.9h0.65v0.65h-0.65zM38.2,192.4h0.65v0.65h-0.65zM35.4,192.1h0.65v0.65h-0.65zM42.0,191.6h0.65v0.65h-0.65zM50.8,172.9h0.65v0.65h-0.65zM40.2,178.1h0.65v0.65h-0.65zM41.6,214.2h0.65v0.65h-0.65zM28.6,192.6h0.65v0.65h-0.65zM42.1,190.5h0.65v0.65h-0.65zM43.9,175.1h0.65v0.65h-0.65zM43.0,196.0h0.65v0.65h-0.65zM40.2,188.0h0.65v0.65h-0.65zM42.8,189.1h0.65v0.65h-0.65zM41.0,188.7h0.65v0.65h-0.65zM29.9,191.4h0.65v0.65h-0.65zM39.8,198.8h0.65v0.65h-0.65zM35.8,192.0h0.65v0.65h-0.65zM42.2,194.1h0.65v0.65h-0.65zM43.3,209.1h0.65v0.65h-0.65zM37.3,177.0h0.65v0.65h-0.65zM42.0,205.2h0.65v0.65h-0.65zM42.9,199.6h0.65v0.65h-0.65zM37.5,186.7h0.65v0.65h-0.65zM44.2,185.9h0.65v0.65h-0.65zM32.6,183.9h0.65v0.65h-0.65zM48.8,209.1h0.65v0.65h-0.65zM37.2,186.6h0.65v0.65h-0.65zM41.2,186.9h0.65v0.65h-0.65zM45.4,192.7h0.65v0.65h-0.65zM33.8,202.6h0.65v0.65h-0.65zM36.9,194.2h0.65v0.65h-0.65zM39.8,190.2h0.65v0.65h-0.65zM41.6,187.3h0.65v0.65h-0.65zM33.4,174.3h0.65v0.65h-0.65zM34.7,186.1h0.65v0.65h-0.65zM39.5,193.1h0.65v0.65h-0.65zM41.9,193.9h0.65v0.65h-0.65zM36.7,186.7h0.65v0.65h-0.65zM30.5,190.4h0.65v0.65h-0.65zM41.3,197.1h0.65v0.65h-0.65zM39.2,191.3h0.65v0.65h-0.65zM43.7,193.2h0.65v0.65h-0.65zM42.3,197.7h0.65v0.65h-0.65zM39.4,203.2h0.65v0.65h-0.65zM37.4,189.6h0.65v0.65h-0.65zM36.8,186.0h0.65v0.65h-0.65zM44.9,207.4h0.65v0.65h-0.65zM39.2,197.2h0.65v0.65h-0.65zM44.0,199.7h0.65v0.65h-0.65zM45.9,183.2h0.65v0.65h-0.65zM36.4,196.0h0.65v0.65h-0.65zM45.8,194.2h0.65v0.65h-0.65zM36.2,189.5h0.65v0.65h-0.65zM37.4,185.6h0.65v0.65h-0.65zM46.6,188.4h0.65v0.65h-0.65zM37.9,209.9h0.65v0.65h-0.65zM44.5,195.9h0.65v0.65h-0.65zM36.6,195.7h0.65v0.65h-0.65zM46.1,198.4h0.65v0.65h-0.65zM45.0,194.1h0.65v0.65h-0.65zM42.0,191.3h0.65v0.65h-0.65zM40.4,203.2h0.65v0.65h-0.65zM33.4,191.5h0.65v0.65h-0.65zM41.1,188.3h0.65v0.65h-0.65zM37.6,198.8h0.65v0.65h-0.65zM47.8,198.6h0.65v0.65h-0.65zM42.3,180.5h0.65v0.65h-0.65zM47.9,194.2h0.65v0.65h-0.65zM40.4,183.8h0.65v0.65h-0.65zM40.3,184.0h0.65v0.65h-0.65zM39.5,196.4h0.65v0.65h-0.65zM39.5,194.9h0.65v0.65h-0.65zM34.7,203.7h0.65v0.65h-0.65zM38.3,178.0h0.65v0.65h-0.65zM39.4,186.5h0.65v0.65h-0.65zM35.5,189.4h0.65v0.65h-0.65zM41.9,183.4h0.65v0.65h-0.65zM37.8,204.0h0.65v0.65h-0.65zM42.7,191.8h0.65v0.65h-0.65zM40.3,191.8h0.65v0.65h-0.65zM38.8,198.5h0.65v0.65h-0.65zM41.2,173.6h0.65v0.65h-0.65zM40.2,185.6h0.65v0.65h-0.65zM42.9,188.1h0.65v0.65h-0.65zM38.4,210.1h0.65v0.65h-0.65zM36.0,183.3h0.65v0.65h-0.65zM35.5,173.0h0.65v0.65h-0.65zM31.1,194.7h0.65v0.65h-0.65zM38.4,177.6h0.65v0.65h-0.65zM32.6,196.9h0.65v0.65h-0.65zM36.5,189.4h0.65v0.65h-0.65zM39.9,203.6h0.65v0.65h-0.65zM47.2,201.8h0.65v0.65h-0.65zM40.1,194.2h0.65v0.65h-0.65zM46.2,204.9h0.65v0.65h-0.65zM37.9,196.2h0.65v0.65h-0.65zM40.8,193.2h0.65v0.65h-0.65zM38.5,181.9h0.65v0.65h-0.65zM38.6,180.2h0.65v0.65h-0.65zM44.5,197.5h0.65v0.65h-0.65zM33.2,203.2h0.65v0.65h-0.65zM45.1,177.9h0.65v0.65h-0.65zM46.9,200.0h0.65v0.65h-0.65zM49.6,183.9h0.65v0.65h-0.65zM41.6,196.3h0.65v0.65h-0.65zM40.3,194.2h0.65v0.65h-0.65zM45.4,181.3h0.65v0.65h-0.65zM35.4,181.1h0.65v0.65h-0.65zM37.7,187.6h0.65v0.65h-0.65zM41.0,195.0h0.65v0.65h-0.65zM40.3,187.3h0.65v0.65h-0.65zM36.9,200.1h0.65v0.65h-0.65zM42.8,193.9h0.65v0.65h-0.65z" fill="#333" fill-opacity="0.55"/>
<path d="M20.0,206.0h0.6v0.6h-0.6zM18.5,203.9h0.6v0.6h-0.6zM28.3,201.7h0.6v0.6h-0.6zM26.4,199.6h0.6v0.6h-0.6zM27.5,202.8h0.6v0.6h-0.6zM12.9,203.9h0.6v0.6h-0.6zM16.8,205.4h0.6v0.6h-0.6zM18.0,201.9h0.6v0.6h-0.6zM23.4,201.5h0.6v0.6h-0.6zM23.3,201.0h0.6v0.6h-0.6zM25.6,202.3h0.6v0.6h-0.6zM23.0,195.7h0.6v0.6h-0.6zM28.3,202.4h0.6v0.6h-0.6zM11.8,202.5h0.6v0.6h-0.6zM24.4,204.9h0.6v0.6h-0.6zM15.7,206.0h0.6v0.6h-0.6zM20.9,208.0h0.6v0.6h-0.6zM21.0,203.9h0.6v0.6h-0.6zM19.7,199.6h0.6v0.6h-0.6zM27.9,204.5h0.6v0.6h-0.6zM30.4,204.4h0.6v0.6h-0.6zM18.6,198.3h0.6v0.6h-0.6zM18.2,200.7h0.6v0.6h-0.6zM17.2,203.7h0.6v0.6h-0.6zM23.6,201.7h0.6v0.6h-0.6zM22.8,202.0h0.6v0.6h-0.6zM23.0,204.1h0.6v0.6h-0.6zM27.2,200.7h0.6v0.6h-0.6zM13.4,205.7h0.6v0.6h-0.6zM22.4,205.0h0.6v0.6h-0.6zM12.6,201.5h0.6v0.6h-0.6zM22.0,198.8h0.6v0.6h-0.6zM18.9,204.0h0.6v0.6h-0.6zM27.8,206.1h0.6v0.6h-0.6zM17.0,198.9h0.6v0.6h-0.6zM24.7,204.6h0.6v0.6h-0.6zM22.9,199.2h0.6v0.6h-0.6zM26.2,204.2h0.6v0.6h-0.6zM24.9,201.1h0.6v0.6h-0.6zM23.5,204.2h0.6v0.6h-0.6zM18.7,197.9h0.6v0.6h-0.6zM23.6,203.5h0.6v0.6h-0.6zM21.9,204.4h0.6v0.6h-0.6zM18.5,202.1h0.6v0.6h-0.6zM20.1,203.7h0.6v0.6h-0.6zM30.7,201.7h0.6v0.6h-0.6zM33.3,206.0h0.6v0.6h-0.6zM26.2,203.7h0.6v0.6h-0.6zM31.7,201.9h0.6v0.6h-0.6zM21.2,199.7h0.6v0.6h-0.6zM24.4,205.5h0.6v0.6h-0.6zM24.8,203.3h0.6v0.6h-0.6zM20.7,202.7h0.6v0.6h-0.6zM13.8,204.8h0.6v0.6h-0.6zM19.5,199.6h0.6v0.6h-0.6zM17.6,200.3h0.6v0.6h-0.6zM26.6,204.8h0.6v0.6h-0.6zM14.2,204.5h0.6v0.6h-0.6zM26.8,200.9h0.6v0.6h-0.6zM13.5,200.5h0.6v0.6h-0.6zM18.3,203.1h0.6v0.6h-0.6zM19.8,197.4h0.6v0.6h-0.6zM23.1,198.6h0.6v0.6h-0.6zM26.9,199.4h0.6v0.6h-0.6zM17.9,200.2h0.6v0.6h-0.6zM18.8,205.4h0.6v0.6h-0.6zM26.6,203.7h0.6v0.6h-0.6zM23.6,198.6h0.6v0.6h-0.6zM18.9,201.0h0.6v0.6h-0.6zM16.3,203.5h0.6v0.6h-0.6zM17.6,200.6h0.6v0.6h-0.6zM16.0,197.4h0.6v0.6h-0.6zM25.1,205.5h0.6v0.6h-0.6zM22.8,200.0h0.6v0.6h-0.6zM6.7,202.7h0.6v0.6h-0.6zM28.6,203.0h0.6v0.6h-0.6zM27.0,205.8h0.6v0.6h-0.6zM28.1,201.2h0.6v0.6h-0.6zM27.7,204.2h0.6v0.6h-0.6zM13.2,201.3h0.6v0.6h-0.6zM13.8,202.0h0.6v0.6h-0.6zM25.0,199.7h0.6v0.6h-0.6zM10.3,205.4h0.6v0.6h-0.6zM23.9,205.8h0.6v0.6h-0.6zM14.4,204.8h0.6v0.6h-0.6zM33.4,207.1h0.6v0.6h-0.6zM20.6,202.9h0.6v0.6h-0.6zM20.9,204.7h0.6v0.6h-0.6zM27.6,202.5h0.6v0.6h-0.6zM14.2,204.1h0.6v0.6h-0.6zM19.2,203.8h0.6v0.6h-0.6zM23.3,206.2h0.6v0.6h-0.6zM28.2,201.2h0.6v0.6h-0.6zM23.8,206.5h0.6v0.6h-0.6zM18.8,203.3h0.6v0.6h-0.6zM28.5,205.3h0.6v0.6h-0.6zM24.7,199.1h0.6v0.6h-0.6zM14.7,202.9h0.6v0.6h-0.6zM24.0,208.4h0.6v0.6h-0.6zM17.0,205.0h0.6v0.6h-0.6zM26.1,198.3h0.6v0.6h-0.6zM17.2,202.7h0.6v0.6h-0.6zM19.0,201.9h0.6v0.6h-0.6zM24.4,200.4h0.6v0.6h-0.6zM24.4,200.8h0.6v0.6h-0.6zM18.7,203.6h0.6v0.6h-0.6zM18.6,203.0h0.6v0.6h-0.6zM30.8,202.4h0.6v0.6h-0.6zM21.0,204.1h0.6v0.6h-0.6zM19.8,204.9h0.6v0.6h-0.6z" fill="#222" fill-opacity="0.5"/>
<ellipse cx="21.80" cy="202.30" rx="7.00" ry="3.00" fill="#b4b4b4" fill-opacity="1.00" stroke="#1a1a1a" stroke-width="1.20" stroke-opacity="1.00" transform="rotate(0 21.80 202.30)"/>
<ellipse cx="21.80" cy="202.30" rx="5.04" ry="2.22" fill="#cfcfcf" fill-opacity="0.60" stroke="#2a2a2a" stroke-width="0.6" stroke-opacity="0.95" transform="rotate(0 21.80 202.30)"/>
<ellipse cx="21.80" cy="202.30" rx="3.22" ry="1.50" fill="#e8e8e8" stroke="#333" stroke-width="0.55" stroke-opacity="0.90" transform="rotate(0 21.80 202.30)"/>
<ellipse cx="21.80" cy="202.30" rx="1.40" ry="0.78" fill="#fff" stroke="#444" stroke-width="0.45" stroke-opacity="0.60" transform="rotate(0 21.80 202.30)"/>
<path d="M34.4,196.8h0.6v0.6h-0.6zM38.4,186.5h0.6v0.6h-0.6zM46.7,187.0h0.6v0.6h-0.6zM45.5,198.3h0.6v0.6h-0.6zM45.7,186.0h0.6v0.6h-0.6zM42.8,204.1h0.6v0.6h-0.6zM39.3,191.7h0.6v0.6h-0.6zM48.4,195.0h0.6v0.6h-0.6zM38.5,187.8h0.6v0.6h-0.6zM41.0,195.3h0.6v0.6h-0.6zM38.9,205.6h0.6v0.6h-0.6zM38.0,196.1h0.6v0.6h-0.6zM45.7,185.8h0.6v0.6h-0.6zM42.0,206.8h0.6v0.6h-0.6zM35.5,184.0h0.6v0.6h-0.6zM37.3,178.5h0.6v0.6h-0.6zM42.7,179.0h0.6v0.6h-0.6zM40.3,203.8h0.6v0.6h-0.6zM33.9,189.7h0.6v0.6h-0.6zM32.0,197.8h0.6v0.6h-0.6zM37.1,190.4h0.6v0.6h-0.6zM39.4,196.8h0.6v0.6h-0.6zM38.3,192.7h0.6v0.6h-0.6zM37.5,193.3h0.6v0.6h-0.6zM35.3,192.7h0.6v0.6h-0.6zM32.9,188.3h0.6v0.6h-0.6zM46.5,194.0h0.6v0.6h-0.6zM34.8,194.1h0.6v0.6h-0.6zM37.3,180.0h0.6v0.6h-0.6zM36.3,197.9h0.6v0.6h-0.6zM41.1,192.1h0.6v0.6h-0.6zM37.1,184.3h0.6v0.6h-0.6zM44.3,195.0h0.6v0.6h-0.6zM37.8,176.5h0.6v0.6h-0.6zM32.6,210.7h0.6v0.6h-0.6zM35.5,191.7h0.6v0.6h-0.6zM40.5,191.6h0.6v0.6h-0.6zM39.7,182.3h0.6v0.6h-0.6zM34.4,204.9h0.6v0.6h-0.6zM36.2,198.7h0.6v0.6h-0.6zM33.6,190.0h0.6v0.6h-0.6zM39.7,200.6h0.6v0.6h-0.6zM35.0,196.7h0.6v0.6h-0.6zM41.6,187.3h0.6v0.6h-0.6zM42.1,186.2h0.6v0.6h-0.6zM36.7,192.3h0.6v0.6h-0.6zM29.8,190.8h0.6v0.6h-0.6zM37.1,181.4h0.6v0.6h-0.6zM37.4,198.2h0.6v0.6h-0.6zM37.1,202.0h0.6v0.6h-0.6zM36.4,182.4h0.6v0.6h-0.6zM45.0,196.3h0.6v0.6h-0.6zM43.7,186.9h0.6v0.6h-0.6zM42.3,195.0h0.6v0.6h-0.6zM42.0,193.1h0.6v0.6h-0.6zM44.5,188.3h0.6v0.6h-0.6zM37.2,181.3h0.6v0.6h-0.6zM44.4,187.6h0.6v0.6h-0.6zM36.5,185.3h0.6v0.6h-0.6zM39.0,183.0h0.6v0.6h-0.6zM39.0,187.9h0.6v0.6h-0.6zM38.3,185.3h0.6v0.6h-0.6zM40.1,189.3h0.6v0.6h-0.6zM39.8,194.6h0.6v0.6h-0.6zM42.6,176.5h0.6v0.6h-0.6zM38.3,186.5h0.6v0.6h-0.6zM43.7,181.2h0.6v0.6h-0.6zM37.2,190.2h0.6v0.6h-0.6zM37.6,200.0h0.6v0.6h-0.6zM37.2,199.7h0.6v0.6h-0.6zM35.7,178.6h0.6v0.6h-0.6zM43.7,196.4h0.6v0.6h-0.6zM41.3,193.8h0.6v0.6h-0.6zM42.3,183.8h0.6v0.6h-0.6zM43.5,189.1h0.6v0.6h-0.6zM43.1,193.7h0.6v0.6h-0.6zM33.4,182.3h0.6v0.6h-0.6zM43.8,192.1h0.6v0.6h-0.6zM38.0,194.4h0.6v0.6h-0.6zM38.5,188.5h0.6v0.6h-0.6zM39.9,193.8h0.6v0.6h-0.6zM45.1,193.6h0.6v0.6h-0.6zM45.1,206.9h0.6v0.6h-0.6zM45.0,201.3h0.6v0.6h-0.6zM40.0,193.8h0.6v0.6h-0.6zM39.7,187.2h0.6v0.6h-0.6zM39.9,187.9h0.6v0.6h-0.6zM45.2,197.3h0.6v0.6h-0.6zM39.5,178.2h0.6v0.6h-0.6zM39.7,189.6h0.6v0.6h-0.6zM36.5,183.8h0.6v0.6h-0.6zM30.9,196.1h0.6v0.6h-0.6zM37.3,212.0h0.6v0.6h-0.6zM39.6,191.6h0.6v0.6h-0.6zM44.8,194.3h0.6v0.6h-0.6zM40.5,190.0h0.6v0.6h-0.6zM36.2,203.7h0.6v0.6h-0.6zM41.9,205.9h0.6v0.6h-0.6zM38.3,192.8h0.6v0.6h-0.6zM35.6,199.6h0.6v0.6h-0.6zM34.1,196.4h0.6v0.6h-0.6zM42.5,203.7h0.6v0.6h-0.6zM35.3,200.5h0.6v0.6h-0.6zM37.6,186.8h0.6v0.6h-0.6zM33.8,200.8h0.6v0.6h-0.6zM46.1,188.9h0.6v0.6h-0.6zM37.1,189.9h0.6v0.6h-0.6zM48.0,201.2h0.6v0.6h-0.6zM39.0,179.1h0.6v0.6h-0.6zM36.2,201.3h0.6v0.6h-0.6z" fill="#222" fill-opacity="0.5"/>
<ellipse cx="39.60" cy="192.70" rx="4.60" ry="9.40" fill="#b4b4b4" fill-opacity="1.00" stroke="#1a1a1a" stroke-width="1.20" stroke-opacity="1.00" transform="rotate(6 39.60 192.70)"/>
<ellipse cx="39.60" cy="192.70" rx="3.31" ry="6.96" fill="#cfcfcf" fill-opacity="0.60" stroke="#2a2a2a" stroke-width="0.6" stroke-opacity="0.95" transform="rotate(6 39.60 192.70)"/>
<ellipse cx="39.60" cy="192.70" rx="2.12" ry="4.70" fill="#e8e8e8" stroke="#333" stroke-width="0.55" stroke-opacity="0.90" transform="rotate(6 39.60 192.70)"/>
<ellipse cx="39.60" cy="192.70" rx="0.92" ry="2.44" fill="#fff" stroke="#444" stroke-width="0.45" stroke-opacity="0.60" transform="rotate(6 39.60 192.70)"/>
</g>
<rect x="14.00" y="162.80" width="45.80" height="45.40" fill="none" stroke="#111" stroke-width="1.1"/>
<rect x="31.50" y="175.20" width="23.20" height="31.20" fill="none" stroke="#111" stroke-width="0.75"/>
<text x="43.10" y="173.50" font-size="6.4" text-anchor="middle" fill="#1a1a1a" stroke="#1a1a1a" stroke-width="0.1">64.5</text>
<line x1="49.50" y1="206.40" x2="49.50" y2="216.60" stroke="#111" stroke-width="0.75"/>
<path d="M49.50,218.60 L48.42,216.20 L50.58,216.20 Z" fill="#111"/>
<rect x="22.30" y="222.70" width="20.60" height="25.30" fill="#d2ead3" stroke="#44b04c" stroke-width="0.9"/>
<rect x="24.20" y="253.60" width="28.30" height="11.80" fill="#f7c6b6" stroke="#d2263c" stroke-width="0.9"/>
<clipPath id="cb0"><rect x="14.00" y="219.8" width="45.8" height="46.5"/></clipPath>
<g clip-path="url(#cb0)">
<path d="M52.2,241.7h0.55v0.55h-0.55zM36.9,240.5h0.55v0.55h-0.55zM29.7,247.5h0.55v0.55h-0.55zM34.5,248.3h0.55v0.55h-0.55zM30.8,236.6h0.55v0.55h-0.55zM42.7,239.2h0.55v0.55h-0.55zM45.7,243.0h0.55v0.55h-0.55zM34.0,246.1h0.55v0.55h-0.55zM46.1,233.4h0.55v0.55h-0.55zM52.0,245.5h0.55v0.55h-0.55zM45.6,233.7h0.55v0.55h-0.55zM36.7,241.3h0.55v0.55h-0.55zM47.5,235.7h0.55v0.55h-0.55zM35.7,232.9h0.55v0.55h-0.55zM39.6,244.7h0.55v0.55h-0.55zM30.9,240.0h0.55v0.55h-0.55zM44.1,250.9h0.55v0.55h-0.55zM45.0,241.5h0.55v0.55h-0.55zM33.9,238.3h0.55v0.55h-0.55zM37.0,243.7h0.55v0.55h-0.55zM40.7,251.3h0.55v0.55h-0.55zM42.7,237.6h0.55v0.55h-0.55zM50.3,247.7h0.55v0.55h-0.55zM41.6,239.4h0.55v0.55h-0.55zM29.8,237.9h0.55v0.55h-0.55zM46.5,239.0h0.55v0.55h-0.55zM33.1,244.0h0.55v0.55h-0.55zM42.5,246.0h0.55v0.55h-0.55zM44.9,250.0h0.55v0.55h-0.55zM36.0,247.9h0.55v0.55h-0.55zM35.1,246.5h0.55v0.55h-0.55zM42.1,244.2h0.55v0.55h-0.55zM46.8,242.9h0.55v0.55h-0.55zM47.7,247.4h0.55v0.55h-0.55zM41.8,240.2h0.55v0.55h-0.55zM36.5,240.4h0.55v0.55h-0.55zM39.8,242.9h0.55v0.55h-0.55zM58.9,246.2h0.55v0.55h-0.55zM45.6,238.7h0.55v0.55h-0.55zM36.7,241.4h0.55v0.55h-0.55zM42.2,237.8h0.55v0.55h-0.55zM50.7,240.2h0.55v0.55h-0.55zM47.5,231.3h0.55v0.55h-0.55zM41.0,244.4h0.55v0.55h-0.55zM42.1,246.0h0.55v0.55h-0.55zM42.7,243.8h0.55v0.55h-0.55zM29.6,239.4h0.55v0.55h-0.55zM26.9,246.1h0.55v0.55h-0.55zM42.8,242.0h0.55v0.55h-0.55zM36.1,240.1h0.55v0.55h-0.55zM52.1,251.7h0.55v0.55h-0.55zM40.7,249.4h0.55v0.55h-0.55zM31.5,233.3h0.55v0.55h-0.55zM38.1,238.6h0.55v0.55h-0.55zM37.6,243.9h0.55v0.55h-0.55zM59.1,239.7h0.55v0.55h-0.55zM41.3,244.4h0.55v0.55h-0.55zM40.8,247.7h0.55v0.55h-0.55zM51.7,236.8h0.55v0.55h-0.55zM42.0,241.7h0.55v0.55h-0.55zM43.1,235.3h0.55v0.55h-0.55zM30.5,231.4h0.55v0.55h-0.55zM44.2,244.0h0.55v0.55h-0.55zM41.4,231.2h0.55v0.55h-0.55zM38.8,239.2h0.55v0.55h-0.55zM32.5,238.4h0.55v0.55h-0.55zM45.2,245.7h0.55v0.55h-0.55zM40.9,245.6h0.55v0.55h-0.55zM37.4,243.4h0.55v0.55h-0.55zM41.2,245.8h0.55v0.55h-0.55z" fill="#777" fill-opacity="0.45"/>
<path d="M30.1,234.2h0.6v0.6h-0.6zM29.7,229.8h0.6v0.6h-0.6zM45.5,239.9h0.6v0.6h-0.6zM33.5,255.3h0.6v0.6h-0.6zM39.9,221.9h0.6v0.6h-0.6zM35.2,242.7h0.6v0.6h-0.6zM43.2,246.8h0.6v0.6h-0.6zM35.7,225.2h0.6v0.6h-0.6zM24.8,237.7h0.6v0.6h-0.6zM34.0,226.5h0.6v0.6h-0.6zM28.0,231.9h0.6v0.6h-0.6zM31.0,238.3h0.6v0.6h-0.6zM28.7,224.7h0.6v0.6h-0.6zM38.9,249.2h0.6v0.6h-0.6zM29.9,244.3h0.6v0.6h-0.6zM33.6,241.1h0.6v0.6h-0.6zM33.8,228.8h0.6v0.6h-0.6zM34.4,244.2h0.6v0.6h-0.6zM24.6,252.4h0.6v0.6h-0.6zM44.5,251.2h0.6v0.6h-0.6zM43.8,241.8h0.6v0.6h-0.6zM28.3,230.2h0.6v0.6h-0.6zM25.2,236.4h0.6v0.6h-0.6zM30.4,241.2h0.6v0.6h-0.6zM17.1,255.4h0.6v0.6h-0.6zM45.8,235.2h0.6v0.6h-0.6zM35.1,239.5h0.6v0.6h-0.6zM32.4,233.6h0.6v0.6h-0.6zM29.8,228.3h0.6v0.6h-0.6zM31.8,235.2h0.6v0.6h-0.6zM32.7,228.0h0.6v0.6h-0.6zM30.9,235.8h0.6v0.6h-0.6zM34.6,226.2h0.6v0.6h-0.6zM33.4,243.9h0.6v0.6h-0.6zM34.6,232.2h0.6v0.6h-0.6zM27.3,233.4h0.6v0.6h-0.6zM35.5,248.9h0.6v0.6h-0.6zM29.5,229.8h0.6v0.6h-0.6zM33.1,237.2h0.6v0.6h-0.6zM24.6,229.0h0.6v0.6h-0.6zM29.9,241.2h0.6v0.6h-0.6zM22.7,226.6h0.6v0.6h-0.6zM33.9,224.8h0.6v0.6h-0.6zM31.3,238.5h0.6v0.6h-0.6zM29.9,226.6h0.6v0.6h-0.6zM30.2,232.5h0.6v0.6h-0.6zM32.8,228.1h0.6v0.6h-0.6zM37.9,220.9h0.6v0.6h-0.6zM29.4,235.5h0.6v0.6h-0.6zM37.0,230.1h0.6v0.6h-0.6zM34.2,230.5h0.6v0.6h-0.6zM35.5,250.5h0.6v0.6h-0.6zM27.9,239.2h0.6v0.6h-0.6zM24.4,243.8h0.6v0.6h-0.6zM38.7,235.7h0.6v0.6h-0.6zM23.0,238.9h0.6v0.6h-0.6zM38.3,244.8h0.6v0.6h-0.6zM36.0,219.5h0.6v0.6h-0.6zM26.1,247.7h0.6v0.6h-0.6zM22.4,245.2h0.6v0.6h-0.6zM43.1,242.0h0.6v0.6h-0.6zM38.1,232.5h0.6v0.6h-0.6zM22.4,234.5h0.6v0.6h-0.6zM29.3,235.0h0.6v0.6h-0.6zM35.2,234.1h0.6v0.6h-0.6zM31.9,239.1h0.6v0.6h-0.6zM30.6,251.4h0.6v0.6h-0.6zM33.5,236.1h0.6v0.6h-0.6zM29.2,230.0h0.6v0.6h-0.6zM39.6,236.7h0.6v0.6h-0.6zM23.4,230.5h0.6v0.6h-0.6zM29.7,231.5h0.6v0.6h-0.6zM37.8,225.3h0.6v0.6h-0.6zM33.9,236.6h0.6v0.6h-0.6zM22.8,235.8h0.6v0.6h-0.6zM30.0,239.7h0.6v0.6h-0.6zM27.6,238.0h0.6v0.6h-0.6zM19.5,226.0h0.6v0.6h-0.6zM35.8,244.4h0.6v0.6h-0.6zM30.5,230.2h0.6v0.6h-0.6zM37.8,217.3h0.6v0.6h-0.6zM25.3,241.2h0.6v0.6h-0.6zM34.9,226.5h0.6v0.6h-0.6zM18.0,248.0h0.6v0.6h-0.6zM31.6,227.6h0.6v0.6h-0.6zM31.0,243.2h0.6v0.6h-0.6zM13.3,245.0h0.6v0.6h-0.6zM35.5,217.4h0.6v0.6h-0.6zM35.7,220.0h0.6v0.6h-0.6zM38.2,238.9h0.6v0.6h-0.6zM45.6,230.1h0.6v0.6h-0.6zM30.6,244.5h0.6v0.6h-0.6zM26.3,229.3h0.6v0.6h-0.6zM28.1,234.8h0.6v0.6h-0.6zM23.4,239.6h0.6v0.6h-0.6zM34.2,236.0h0.6v0.6h-0.6zM41.9,232.6h0.6v0.6h-0.6zM39.3,230.7h0.6v0.6h-0.6zM35.6,218.6h0.6v0.6h-0.6zM31.9,233.9h0.6v0.6h-0.6zM27.3,230.1h0.6v0.6h-0.6zM28.3,229.2h0.6v0.6h-0.6zM16.0,230.2h0.6v0.6h-0.6zM26.9,230.9h0.6v0.6h-0.6zM23.6,234.2h0.6v0.6h-0.6zM35.8,233.2h0.6v0.6h-0.6zM27.3,247.2h0.6v0.6h-0.6zM37.1,243.4h0.6v0.6h-0.6zM38.3,232.6h0.6v0.6h-0.6zM29.7,245.1h0.6v0.6h-0.6zM26.9,234.4h0.6v0.6h-0.6zM33.1,238.6h0.6v0.6h-0.6zM28.8,243.9h0.6v0.6h-0.6zM29.4,241.7h0.6v0.6h-0.6z" fill="#2a3a30" fill-opacity="0.5"/>
<path d="M37.94,235.40 C37.99,236.75 38.15,238.27 37.85,239.54 C37.54,240.81 36.85,242.10 36.12,243.00 C35.39,243.91 34.39,244.46 33.47,244.95 C32.55,245.44 31.53,246.03 30.60,245.93 C29.67,245.82 28.65,245.08 27.91,244.34 C27.18,243.59 26.84,242.32 26.21,241.45 C25.59,240.57 24.77,240.09 24.15,239.09 C23.53,238.08 22.67,236.73 22.49,235.40 C22.31,234.07 22.66,232.40 23.06,231.09 C23.46,229.79 24.13,228.44 24.90,227.55 C25.68,226.65 26.75,225.92 27.70,225.74 C28.65,225.55 29.70,226.21 30.60,226.42 C31.50,226.64 32.23,226.76 33.12,227.03 C34.00,227.30 35.19,227.32 35.93,228.05 C36.67,228.79 37.22,230.21 37.55,231.43 C37.89,232.65 37.90,234.05 37.94,235.40 Z" fill="#9fbfa7" fill-opacity="0.97" stroke="#1e3a2c" stroke-width="1.07" stroke-opacity="0.96"/>
<path d="M35.84,234.50 C35.62,235.52 35.43,236.26 35.22,237.19 C35.01,238.13 34.96,239.26 34.57,240.10 C34.17,240.94 33.50,241.68 32.82,242.23 C32.15,242.79 31.32,243.29 30.50,243.43 C29.68,243.57 28.63,243.59 27.92,243.08 C27.21,242.57 26.67,241.32 26.23,240.38 C25.80,239.45 25.61,238.44 25.32,237.46 C25.02,236.48 24.51,235.51 24.47,234.50 C24.43,233.49 24.69,232.28 25.05,231.39 C25.41,230.50 26.09,229.88 26.63,229.16 C27.16,228.44 27.62,227.59 28.27,227.06 C28.91,226.54 29.73,226.09 30.50,226.00 C31.27,225.90 32.11,226.19 32.90,226.51 C33.70,226.83 34.67,227.16 35.27,227.92 C35.87,228.68 36.41,229.98 36.50,231.07 C36.59,232.17 36.05,233.48 35.84,234.50 Z" fill="#b8d4bf" fill-opacity="0.97" stroke="#1e3a2c" stroke-width="0.58" stroke-opacity="0.96"/>
<path d="M35.17,233.60 C35.13,234.44 34.87,235.22 34.65,236.03 C34.44,236.83 34.31,237.82 33.90,238.43 C33.50,239.04 32.82,239.57 32.24,239.71 C31.65,239.85 30.97,239.42 30.40,239.27 C29.83,239.12 29.36,239.03 28.84,238.80 C28.31,238.58 27.72,238.38 27.26,237.92 C26.81,237.47 26.43,236.78 26.09,236.06 C25.75,235.34 25.32,234.48 25.22,233.60 C25.12,232.72 25.17,231.54 25.51,230.81 C25.84,230.08 26.67,229.62 27.22,229.22 C27.78,228.82 28.32,228.70 28.85,228.43 C29.38,228.16 29.86,227.67 30.40,227.59 C30.94,227.51 31.56,227.68 32.10,227.94 C32.64,228.21 33.14,228.66 33.61,229.17 C34.09,229.68 34.67,230.27 34.93,231.01 C35.19,231.75 35.22,232.76 35.17,233.60 Z" fill="#cfe3d3" fill-opacity="0.97" stroke="#1e3a2c" stroke-width="0.58" stroke-opacity="0.96"/>
<path d="M33.34,232.70 C33.21,233.25 32.92,233.62 32.77,234.11 C32.61,234.60 32.63,235.17 32.43,235.64 C32.23,236.11 31.93,236.66 31.57,236.93 C31.22,237.20 30.73,237.22 30.30,237.24 C29.87,237.26 29.39,237.26 28.99,237.06 C28.59,236.85 28.16,236.47 27.89,236.02 C27.63,235.57 27.53,234.91 27.40,234.36 C27.26,233.81 27.10,233.26 27.08,232.70 C27.06,232.14 27.08,231.44 27.27,230.97 C27.47,230.50 27.93,230.20 28.25,229.88 C28.58,229.56 28.87,229.36 29.21,229.07 C29.55,228.79 29.90,228.30 30.30,228.17 C30.70,228.04 31.21,228.09 31.63,228.27 C32.05,228.45 32.48,228.83 32.80,229.25 C33.12,229.68 33.47,230.26 33.56,230.84 C33.65,231.41 33.47,232.15 33.34,232.70 Z" fill="#e9f3eb" fill-opacity="0.97" stroke="#1e3a2c" stroke-width="0.58" stroke-opacity="0.96"/>
<path d="M32.33,231.80 C32.33,232.14 32.12,232.54 31.96,232.80 C31.79,233.07 31.54,233.20 31.35,233.39 C31.16,233.57 31.02,233.77 30.83,233.89 C30.64,234.01 30.42,234.09 30.20,234.12 C29.98,234.15 29.76,234.12 29.52,234.06 C29.29,233.99 28.98,233.94 28.79,233.74 C28.60,233.54 28.45,233.16 28.39,232.84 C28.33,232.51 28.40,232.13 28.42,231.80 C28.44,231.47 28.42,231.13 28.49,230.83 C28.57,230.52 28.69,230.16 28.86,229.96 C29.04,229.76 29.32,229.70 29.55,229.63 C29.77,229.55 29.98,229.51 30.20,229.51 C30.42,229.50 30.66,229.49 30.86,229.59 C31.07,229.69 31.25,229.89 31.44,230.09 C31.63,230.29 31.85,230.49 32.00,230.77 C32.15,231.06 32.34,231.46 32.33,231.80 Z" fill="#e9f3eb" fill-opacity="0.97" stroke="#1e3a2c" stroke-width="0.58" stroke-opacity="0.96"/>
<path d="M33.3,259.3h0.55v0.55h-0.55zM38.7,259.3h0.55v0.55h-0.55zM32.0,261.6h0.55v0.55h-0.55zM40.1,261.2h0.55v0.55h-0.55zM34.3,259.5h0.55v0.55h-0.55zM44.8,259.3h0.55v0.55h-0.55zM40.0,258.6h0.55v0.55h-0.55zM51.1,260.6h0.55v0.55h-0.55zM37.4,259.6h0.55v0.55h-0.55zM34.3,260.4h0.55v0.55h-0.55zM39.2,258.7h0.55v0.55h-0.55zM42.0,262.9h0.55v0.55h-0.55zM39.2,258.6h0.55v0.55h-0.55zM36.4,260.5h0.55v0.55h-0.55zM35.6,257.7h0.55v0.55h-0.55zM46.4,257.3h0.55v0.55h-0.55zM29.2,259.1h0.55v0.55h-0.55zM39.1,257.0h0.55v0.55h-0.55zM28.6,259.8h0.55v0.55h-0.55zM35.9,256.4h0.55v0.55h-0.55zM48.4,261.4h0.55v0.55h-0.55zM50.2,259.5h0.55v0.55h-0.55zM33.2,258.6h0.55v0.55h-0.55zM47.5,259.0h0.55v0.55h-0.55zM29.9,260.6h0.55v0.55h-0.55zM45.5,258.0h0.55v0.55h-0.55zM34.5,260.5h0.55v0.55h-0.55zM29.8,260.0h0.55v0.55h-0.55zM37.8,260.7h0.55v0.55h-0.55zM33.7,258.9h0.55v0.55h-0.55zM34.7,261.6h0.55v0.55h-0.55zM43.8,258.1h0.55v0.55h-0.55zM35.7,259.7h0.55v0.55h-0.55zM38.3,260.1h0.55v0.55h-0.55zM32.1,258.6h0.55v0.55h-0.55zM51.6,261.1h0.55v0.55h-0.55zM34.1,261.8h0.55v0.55h-0.55zM47.9,256.4h0.55v0.55h-0.55zM41.4,260.8h0.55v0.55h-0.55zM40.3,259.3h0.55v0.55h-0.55zM47.3,259.9h0.55v0.55h-0.55zM25.3,259.5h0.55v0.55h-0.55zM40.7,257.7h0.55v0.55h-0.55zM47.1,259.4h0.55v0.55h-0.55zM30.0,259.2h0.55v0.55h-0.55zM34.9,260.2h0.55v0.55h-0.55zM34.6,258.7h0.55v0.55h-0.55zM48.5,258.7h0.55v0.55h-0.55zM36.7,259.3h0.55v0.55h-0.55zM35.0,260.4h0.55v0.55h-0.55zM31.9,258.7h0.55v0.55h-0.55zM51.4,256.9h0.55v0.55h-0.55zM32.7,259.5h0.55v0.55h-0.55zM24.6,256.1h0.55v0.55h-0.55zM35.2,260.8h0.55v0.55h-0.55zM41.1,258.6h0.55v0.55h-0.55zM32.3,262.9h0.55v0.55h-0.55zM43.0,257.9h0.55v0.55h-0.55zM49.8,261.3h0.55v0.55h-0.55zM35.2,257.0h0.55v0.55h-0.55z" fill="#222" fill-opacity="0.45"/>
<path d="M29.00,259.4 C33.20,256.4 46.85,256.0 50.00,258.6 C50.21,262.2 36.35,262.4 29.00,259.4 Z" fill="#5a3a36" fill-opacity="0.8" stroke="#1a1a1a" stroke-width="0.7"/>
<ellipse cx="42.12" cy="259.2" rx="5.25" ry="0.9" fill="#e8d0cc" stroke="#333" stroke-width="0.4"/>
</g>
<rect x="14.00" y="219.80" width="45.80" height="46.50" fill="none" stroke="#111" stroke-width="1.1"/>
<text x="57.20" y="227.20" font-size="6.4" text-anchor="end" fill="#1a1a1a" stroke="#1a1a1a" stroke-width="0.1">46.1</text>
<text x="57.20" y="252.20" font-size="6.4" text-anchor="end" fill="#1a1a1a" stroke="#1a1a1a" stroke-width="0.1">52.5</text>
<text x="90.20" y="158.80" font-size="8.6" font-weight="bold" text-anchor="middle">Ven</text>
<clipPath id="ct1"><rect x="67.30" y="162.8" width="45.8" height="45.4"/></clipPath>
<g clip-path="url(#ct1)">
<ellipse cx="75.40" cy="196.80" rx="7.20" ry="7.5" fill="#7a7a7a" fill-opacity="0.45" filter="url(#bl2)"/>
<ellipse cx="92.60" cy="193.50" rx="5.38" ry="9.63" fill="#777" fill-opacity="0.57" filter="url(#bl1)" transform="rotate(14 92.60 193.50)"/>
<path d="M84.7,195.5h0.65v0.65h-0.65zM73.0,197.1h0.65v0.65h-0.65zM74.0,200.8h0.65v0.65h-0.65zM72.4,195.9h0.65v0.65h-0.65zM77.9,201.3h0.65v0.65h-0.65zM72.0,193.7h0.65v0.65h-0.65zM81.7,195.8h0.65v0.65h-0.65zM79.8,197.1h0.65v0.65h-0.65zM76.2,192.6h0.65v0.65h-0.65zM75.2,195.7h0.65v0.65h-0.65zM72.4,203.5h0.65v0.65h-0.65zM69.6,192.8h0.65v0.65h-0.65zM77.0,200.6h0.65v0.65h-0.65zM72.0,194.9h0.65v0.65h-0.65zM72.0,192.0h0.65v0.65h-0.65zM81.2,195.9h0.65v0.65h-0.65zM73.4,197.1h0.65v0.65h-0.65zM79.5,201.8h0.65v0.65h-0.65zM76.9,197.2h0.65v0.65h-0.65zM77.9,200.4h0.65v0.65h-0.65zM78.1,190.9h0.65v0.65h-0.65zM75.9,194.6h0.65v0.65h-0.65zM83.0,196.6h0.65v0.65h-0.65zM72.1,201.9h0.65v0.65h-0.65zM73.6,198.0h0.65v0.65h-0.65zM75.1,197.9h0.65v0.65h-0.65zM80.2,192.9h0.65v0.65h-0.65zM72.4,199.7h0.65v0.65h-0.65zM74.2,196.9h0.65v0.65h-0.65zM79.9,192.5h0.65v0.65h-0.65zM80.0,194.9h0.65v0.65h-0.65zM72.8,193.9h0.65v0.65h-0.65zM85.3,198.6h0.65v0.65h-0.65zM77.7,193.2h0.65v0.65h-0.65zM82.0,191.5h0.65v0.65h-0.65zM73.3,201.3h0.65v0.65h-0.65zM80.4,194.8h0.65v0.65h-0.65zM78.5,195.0h0.65v0.65h-0.65zM69.8,200.2h0.65v0.65h-0.65zM76.0,199.5h0.65v0.65h-0.65zM79.0,192.6h0.65v0.65h-0.65zM76.2,193.0h0.65v0.65h-0.65zM77.3,199.4h0.65v0.65h-0.65zM80.0,206.1h0.65v0.65h-0.65zM73.8,201.1h0.65v0.65h-0.65zM79.5,199.4h0.65v0.65h-0.65zM71.9,198.8h0.65v0.65h-0.65zM77.4,196.8h0.65v0.65h-0.65zM77.2,192.6h0.65v0.65h-0.65zM75.4,198.7h0.65v0.65h-0.65zM74.6,199.0h0.65v0.65h-0.65zM81.8,197.3h0.65v0.65h-0.65zM73.9,198.0h0.65v0.65h-0.65zM74.8,194.3h0.65v0.65h-0.65zM74.2,203.8h0.65v0.65h-0.65zM78.7,199.2h0.65v0.65h-0.65zM79.5,189.6h0.65v0.65h-0.65zM77.6,199.2h0.65v0.65h-0.65zM74.5,192.0h0.65v0.65h-0.65zM78.3,195.3h0.65v0.65h-0.65zM80.4,194.5h0.65v0.65h-0.65zM76.0,200.5h0.65v0.65h-0.65zM80.1,200.7h0.65v0.65h-0.65zM74.6,204.8h0.65v0.65h-0.65zM71.6,193.9h0.65v0.65h-0.65zM75.4,201.6h0.65v0.65h-0.65zM77.4,204.1h0.65v0.65h-0.65zM79.2,199.5h0.65v0.65h-0.65zM71.9,195.1h0.65v0.65h-0.65zM75.9,192.0h0.65v0.65h-0.65zM72.1,191.5h0.65v0.65h-0.65zM73.6,199.8h0.65v0.65h-0.65zM77.7,197.3h0.65v0.65h-0.65zM77.6,193.1h0.65v0.65h-0.65zM74.2,194.3h0.65v0.65h-0.65zM71.4,194.5h0.65v0.65h-0.65zM71.5,196.0h0.65v0.65h-0.65zM78.9,197.4h0.65v0.65h-0.65zM75.6,198.1h0.65v0.65h-0.65zM74.5,192.7h0.65v0.65h-0.65zM67.2,201.2h0.65v0.65h-0.65zM76.8,187.6h0.65v0.65h-0.65zM76.8,194.3h0.65v0.65h-0.65zM75.1,197.0h0.65v0.65h-0.65zM72.5,190.5h0.65v0.65h-0.65zM72.5,199.4h0.65v0.65h-0.65zM71.5,190.6h0.65v0.65h-0.65zM75.4,204.0h0.65v0.65h-0.65zM71.5,200.7h0.65v0.65h-0.65zM76.2,197.9h0.65v0.65h-0.65zM81.5,192.5h0.65v0.65h-0.65zM75.0,194.8h0.65v0.65h-0.65zM77.9,196.6h0.65v0.65h-0.65zM76.5,199.3h0.65v0.65h-0.65zM74.4,196.8h0.65v0.65h-0.65zM72.9,201.5h0.65v0.65h-0.65zM79.0,203.1h0.65v0.65h-0.65zM68.8,193.2h0.65v0.65h-0.65zM75.2,200.4h0.65v0.65h-0.65zM73.6,192.5h0.65v0.65h-0.65zM83.8,196.0h0.65v0.65h-0.65zM75.9,192.7h0.65v0.65h-0.65zM83.8,198.2h0.65v0.65h-0.65zM74.2,195.2h0.65v0.65h-0.65zM75.4,198.0h0.65v0.65h-0.65zM76.1,193.3h0.65v0.65h-0.65zM81.7,192.5h0.65v0.65h-0.65zM81.2,199.3h0.65v0.65h-0.65zM69.4,200.2h0.65v0.65h-0.65zM77.0,193.1h0.65v0.65h-0.65zM84.5,201.3h0.65v0.65h-0.65zM66.1,200.4h0.65v0.65h-0.65zM72.7,189.7h0.65v0.65h-0.65zM78.3,190.9h0.65v0.65h-0.65zM73.9,196.4h0.65v0.65h-0.65zM73.8,191.9h0.65v0.65h-0.65zM65.0,195.3h0.65v0.65h-0.65zM80.6,201.0h0.65v0.65h-0.65zM82.0,197.7h0.65v0.65h-0.65zM76.5,193.0h0.65v0.65h-0.65zM63.9,192.9h0.65v0.65h-0.65zM71.6,192.1h0.65v0.65h-0.65zM75.3,197.4h0.65v0.65h-0.65zM72.4,199.3h0.65v0.65h-0.65zM76.5,199.4h0.65v0.65h-0.65zM79.9,200.9h0.65v0.65h-0.65zM73.7,193.3h0.65v0.65h-0.65zM75.6,201.0h0.65v0.65h-0.65zM65.4,199.3h0.65v0.65h-0.65zM73.0,198.8h0.65v0.65h-0.65zM77.2,194.5h0.65v0.65h-0.65zM71.6,194.6h0.65v0.65h-0.65zM77.6,191.2h0.65v0.65h-0.65zM75.5,193.5h0.65v0.65h-0.65zM72.3,191.2h0.65v0.65h-0.65zM67.9,197.7h0.65v0.65h-0.65zM76.4,194.2h0.65v0.65h-0.65zM74.3,199.8h0.65v0.65h-0.65zM75.7,197.4h0.65v0.65h-0.65zM74.7,198.7h0.65v0.65h-0.65zM73.8,191.7h0.65v0.65h-0.65zM78.3,198.4h0.65v0.65h-0.65zM71.1,196.8h0.65v0.65h-0.65zM76.2,197.4h0.65v0.65h-0.65zM89.3,196.9h0.65v0.65h-0.65zM75.3,194.3h0.65v0.65h-0.65zM72.7,184.7h0.65v0.65h-0.65zM73.3,195.2h0.65v0.65h-0.65zM70.5,196.3h0.65v0.65h-0.65zM77.4,200.8h0.65v0.65h-0.65zM85.4,196.5h0.65v0.65h-0.65zM71.4,191.4h0.65v0.65h-0.65zM81.3,193.6h0.65v0.65h-0.65zM75.3,199.1h0.65v0.65h-0.65zM76.0,196.7h0.65v0.65h-0.65zM76.6,188.2h0.65v0.65h-0.65zM74.5,198.5h0.65v0.65h-0.65zM69.7,189.9h0.65v0.65h-0.65zM77.7,194.9h0.65v0.65h-0.65zM77.1,188.4h0.65v0.65h-0.65zM75.1,192.3h0.65v0.65h-0.65zM78.7,203.1h0.65v0.65h-0.65zM73.5,199.6h0.65v0.65h-0.65zM71.2,194.7h0.65v0.65h-0.65zM76.9,193.3h0.65v0.65h-0.65zM80.9,197.4h0.65v0.65h-0.65zM69.5,190.5h0.65v0.65h-0.65zM72.6,187.4h0.65v0.65h-0.65zM80.2,194.4h0.65v0.65h-0.65zM72.7,196.0h0.65v0.65h-0.65zM73.5,201.2h0.65v0.65h-0.65zM81.3,199.0h0.65v0.65h-0.65zM77.8,199.8h0.65v0.65h-0.65zM77.2,195.7h0.65v0.65h-0.65zM80.0,197.1h0.65v0.65h-0.65zM77.9,202.2h0.65v0.65h-0.65zM83.9,196.1h0.65v0.65h-0.65zM80.2,190.3h0.65v0.65h-0.65zM72.0,197.5h0.65v0.65h-0.65zM72.4,191.8h0.65v0.65h-0.65zM71.7,197.8h0.65v0.65h-0.65zM69.1,198.3h0.65v0.65h-0.65zM79.8,188.1h0.65v0.65h-0.65zM77.2,199.0h0.65v0.65h-0.65zM69.9,197.9h0.65v0.65h-0.65zM73.6,198.2h0.65v0.65h-0.65zM78.7,197.9h0.65v0.65h-0.65zM63.7,198.7h0.65v0.65h-0.65zM82.9,191.5h0.65v0.65h-0.65zM86.7,194.3h0.65v0.65h-0.65zM69.3,190.8h0.65v0.65h-0.65zM81.6,198.3h0.65v0.65h-0.65zM72.4,193.8h0.65v0.65h-0.65zM65.3,191.6h0.65v0.65h-0.65zM68.9,196.7h0.65v0.65h-0.65zM74.0,199.6h0.65v0.65h-0.65zM76.1,195.4h0.65v0.65h-0.65zM77.8,201.8h0.65v0.65h-0.65zM73.5,196.6h0.65v0.65h-0.65zM73.0,192.6h0.65v0.65h-0.65zM71.2,193.9h0.65v0.65h-0.65zM69.6,195.0h0.65v0.65h-0.65zM73.5,197.2h0.65v0.65h-0.65zM79.3,203.9h0.65v0.65h-0.65zM73.2,195.4h0.65v0.65h-0.65zM77.5,193.6h0.65v0.65h-0.65zM79.9,198.9h0.65v0.65h-0.65zM75.2,200.8h0.65v0.65h-0.65zM72.3,195.0h0.65v0.65h-0.65zM73.3,195.1h0.65v0.65h-0.65zM69.3,195.5h0.65v0.65h-0.65zM79.3,198.0h0.65v0.65h-0.65zM79.6,198.0h0.65v0.65h-0.65zM79.0,192.1h0.65v0.65h-0.65zM73.6,189.2h0.65v0.65h-0.65zM85.6,204.3h0.65v0.65h-0.65zM74.9,194.1h0.65v0.65h-0.65zM77.5,192.4h0.65v0.65h-0.65zM80.7,205.2h0.65v0.65h-0.65zM68.1,193.3h0.65v0.65h-0.65zM80.4,201.4h0.65v0.65h-0.65zM78.4,197.1h0.65v0.65h-0.65zM74.8,196.5h0.65v0.65h-0.65zM72.7,194.4h0.65v0.65h-0.65zM73.1,202.2h0.65v0.65h-0.65zM66.9,199.9h0.65v0.65h-0.65zM68.7,190.2h0.65v0.65h-0.65zM66.0,192.4h0.65v0.65h-0.65zM77.2,194.2h0.65v0.65h-0.65zM75.2,192.2h0.65v0.65h-0.65zM75.9,189.8h0.65v0.65h-0.65zM76.4,194.1h0.65v0.65h-0.65zM70.2,200.8h0.65v0.65h-0.65zM82.1,193.9h0.65v0.65h-0.65zM81.2,197.5h0.65v0.65h-0.65zM79.9,199.0h0.65v0.65h-0.65zM76.0,194.1h0.65v0.65h-0.65zM81.3,193.2h0.65v0.65h-0.65zM75.2,198.7h0.65v0.65h-0.65zM67.2,198.6h0.65v0.65h-0.65zM73.4,195.0h0.65v0.65h-0.65zM77.5,196.3h0.65v0.65h-0.65zM76.2,193.5h0.65v0.65h-0.65zM71.8,194.9h0.65v0.65h-0.65zM73.6,192.3h0.65v0.65h-0.65zM81.0,202.6h0.65v0.65h-0.65zM68.6,194.5h0.65v0.65h-0.65zM79.2,186.6h0.65v0.65h-0.65zM79.4,196.3h0.65v0.65h-0.65zM78.4,200.0h0.65v0.65h-0.65zM80.9,190.7h0.65v0.65h-0.65zM78.1,196.6h0.65v0.65h-0.65zM78.1,190.3h0.65v0.65h-0.65zM71.3,198.9h0.65v0.65h-0.65zM80.0,202.7h0.65v0.65h-0.65zM68.1,201.2h0.65v0.65h-0.65zM73.9,194.9h0.65v0.65h-0.65zM73.8,198.5h0.65v0.65h-0.65zM80.0,192.6h0.65v0.65h-0.65zM77.9,196.7h0.65v0.65h-0.65zM72.1,199.6h0.65v0.65h-0.65zM71.4,194.1h0.65v0.65h-0.65zM75.0,196.4h0.65v0.65h-0.65zM71.7,194.2h0.65v0.65h-0.65zM80.2,196.6h0.65v0.65h-0.65zM76.7,195.9h0.65v0.65h-0.65zM79.4,200.9h0.65v0.65h-0.65zM74.8,199.3h0.65v0.65h-0.65zM71.8,196.0h0.65v0.65h-0.65zM70.3,193.9h0.65v0.65h-0.65zM88.8,192.6h0.65v0.65h-0.65zM80.9,197.1h0.65v0.65h-0.65zM76.5,187.7h0.65v0.65h-0.65zM76.3,190.2h0.65v0.65h-0.65zM72.5,193.1h0.65v0.65h-0.65zM73.7,203.2h0.65v0.65h-0.65zM82.7,189.0h0.65v0.65h-0.65zM73.7,192.8h0.65v0.65h-0.65zM75.9,189.3h0.65v0.65h-0.65zM68.9,195.7h0.65v0.65h-0.65zM71.9,200.2h0.65v0.65h-0.65zM74.0,196.8h0.65v0.65h-0.65zM73.2,199.1h0.65v0.65h-0.65zM80.4,195.7h0.65v0.65h-0.65zM73.0,198.3h0.65v0.65h-0.65zM75.7,199.8h0.65v0.65h-0.65zM75.7,196.4h0.65v0.65h-0.65zM78.7,192.7h0.65v0.65h-0.65zM69.8,197.8h0.65v0.65h-0.65zM74.4,198.4h0.65v0.65h-0.65zM78.8,197.4h0.65v0.65h-0.65zM72.7,202.2h0.65v0.65h-0.65zM65.3,192.9h0.65v0.65h-0.65zM69.8,203.8h0.65v0.65h-0.65zM73.7,195.2h0.65v0.65h-0.65zM77.9,200.9h0.65v0.65h-0.65zM79.5,195.7h0.65v0.65h-0.65zM76.0,191.7h0.65v0.65h-0.65zM76.4,194.9h0.65v0.65h-0.65zM65.7,196.9h0.65v0.65h-0.65z" fill="#2a2a2a" fill-opacity="0.55"/>
<path d="M90.8,198.8h0.65v0.65h-0.65zM94.8,194.7h0.65v0.65h-0.65zM89.2,204.3h0.65v0.65h-0.65zM91.6,200.7h0.65v0.65h-0.65zM92.0,203.1h0.65v0.65h-0.65zM98.3,186.7h0.65v0.65h-0.65zM92.0,204.9h0.65v0.65h-0.65zM98.4,192.6h0.65v0.65h-0.65zM97.4,201.3h0.65v0.65h-0.65zM96.3,189.6h0.65v0.65h-0.65zM93.4,197.4h0.65v0.65h-0.65zM85.6,188.2h0.65v0.65h-0.65zM90.0,179.7h0.65v0.65h-0.65zM91.9,199.8h0.65v0.65h-0.65zM95.1,183.2h0.65v0.65h-0.65zM86.2,198.3h0.65v0.65h-0.65zM91.4,195.4h0.65v0.65h-0.65zM91.3,194.4h0.65v0.65h-0.65zM91.2,188.3h0.65v0.65h-0.65zM87.2,192.5h0.65v0.65h-0.65zM90.4,201.4h0.65v0.65h-0.65zM101.3,197.1h0.65v0.65h-0.65zM83.9,182.6h0.65v0.65h-0.65zM96.9,198.2h0.65v0.65h-0.65zM93.6,187.1h0.65v0.65h-0.65zM94.0,196.3h0.65v0.65h-0.65zM94.5,204.0h0.65v0.65h-0.65zM97.0,202.0h0.65v0.65h-0.65zM87.2,196.5h0.65v0.65h-0.65zM89.5,187.7h0.65v0.65h-0.65zM91.6,184.7h0.65v0.65h-0.65zM86.9,202.9h0.65v0.65h-0.65zM89.5,204.6h0.65v0.65h-0.65zM96.2,181.4h0.65v0.65h-0.65zM87.3,204.3h0.65v0.65h-0.65zM97.2,193.5h0.65v0.65h-0.65zM89.6,201.8h0.65v0.65h-0.65zM94.9,192.6h0.65v0.65h-0.65zM97.0,195.1h0.65v0.65h-0.65zM91.3,182.4h0.65v0.65h-0.65zM80.8,207.8h0.65v0.65h-0.65zM90.6,205.5h0.65v0.65h-0.65zM93.2,194.6h0.65v0.65h-0.65zM93.1,195.6h0.65v0.65h-0.65zM87.6,192.1h0.65v0.65h-0.65zM92.7,209.8h0.65v0.65h-0.65zM90.4,196.1h0.65v0.65h-0.65zM92.9,204.6h0.65v0.65h-0.65zM95.2,192.0h0.65v0.65h-0.65zM98.8,197.4h0.65v0.65h-0.65zM88.1,213.8h0.65v0.65h-0.65zM86.9,192.2h0.65v0.65h-0.65zM86.0,203.1h0.65v0.65h-0.65zM88.8,194.2h0.65v0.65h-0.65zM94.6,192.0h0.65v0.65h-0.65zM93.1,190.9h0.65v0.65h-0.65zM91.6,187.2h0.65v0.65h-0.65zM94.0,191.8h0.65v0.65h-0.65zM89.6,189.7h0.65v0.65h-0.65zM103.0,187.3h0.65v0.65h-0.65zM91.5,189.4h0.65v0.65h-0.65zM91.2,199.0h0.65v0.65h-0.65zM89.5,194.9h0.65v0.65h-0.65zM91.7,205.4h0.65v0.65h-0.65zM91.7,188.3h0.65v0.65h-0.65zM95.4,194.0h0.65v0.65h-0.65zM90.9,191.2h0.65v0.65h-0.65zM100.5,184.0h0.65v0.65h-0.65zM88.9,205.1h0.65v0.65h-0.65zM95.3,188.7h0.65v0.65h-0.65zM88.6,200.1h0.65v0.65h-0.65zM95.1,191.3h0.65v0.65h-0.65zM92.6,184.2h0.65v0.65h-0.65zM86.9,195.0h0.65v0.65h-0.65zM95.4,190.7h0.65v0.65h-0.65zM96.5,189.7h0.65v0.65h-0.65zM97.5,180.0h0.65v0.65h-0.65zM92.6,207.2h0.65v0.65h-0.65zM96.0,194.1h0.65v0.65h-0.65zM94.4,194.5h0.65v0.65h-0.65zM93.2,193.5h0.65v0.65h-0.65zM95.1,191.8h0.65v0.65h-0.65zM93.2,190.3h0.65v0.65h-0.65zM93.2,203.6h0.65v0.65h-0.65zM94.8,197.7h0.65v0.65h-0.65zM99.5,189.4h0.65v0.65h-0.65zM104.1,182.2h0.65v0.65h-0.65zM95.2,195.3h0.65v0.65h-0.65zM96.8,183.4h0.65v0.65h-0.65zM96.7,196.6h0.65v0.65h-0.65zM91.2,201.1h0.65v0.65h-0.65zM93.0,194.5h0.65v0.65h-0.65zM96.1,194.0h0.65v0.65h-0.65zM94.7,191.4h0.65v0.65h-0.65zM90.4,193.3h0.65v0.65h-0.65zM89.9,194.9h0.65v0.65h-0.65zM92.6,189.6h0.65v0.65h-0.65zM94.3,185.1h0.65v0.65h-0.65zM94.3,198.5h0.65v0.65h-0.65zM83.6,191.7h0.65v0.65h-0.65zM90.0,197.1h0.65v0.65h-0.65zM101.4,192.5h0.65v0.65h-0.65zM93.6,187.8h0.65v0.65h-0.65zM92.7,198.8h0.65v0.65h-0.65zM93.4,194.7h0.65v0.65h-0.65zM88.6,192.1h0.65v0.65h-0.65zM89.7,190.3h0.65v0.65h-0.65zM98.5,195.7h0.65v0.65h-0.65zM91.6,185.5h0.65v0.65h-0.65zM87.6,188.8h0.65v0.65h-0.65zM101.0,193.9h0.65v0.65h-0.65zM93.5,186.3h0.65v0.65h-0.65zM89.2,199.8h0.65v0.65h-0.65zM96.8,193.3h0.65v0.65h-0.65zM88.3,197.5h0.65v0.65h-0.65zM96.5,215.6h0.65v0.65h-0.65zM97.9,195.2h0.65v0.65h-0.65zM95.9,191.7h0.65v0.65h-0.65zM90.7,188.3h0.65v0.65h-0.65zM91.6,198.2h0.65v0.65h-0.65zM96.0,204.0h0.65v0.65h-0.65zM98.2,178.8h0.65v0.65h-0.65zM97.6,198.3h0.65v0.65h-0.65zM87.7,202.0h0.65v0.65h-0.65zM89.8,190.8h0.65v0.65h-0.65zM92.8,193.5h0.65v0.65h-0.65zM95.9,179.6h0.65v0.65h-0.65zM87.5,191.6h0.65v0.65h-0.65zM95.5,194.1h0.65v0.65h-0.65zM90.2,183.9h0.65v0.65h-0.65zM86.1,200.1h0.65v0.65h-0.65zM87.5,197.9h0.65v0.65h-0.65zM89.8,185.4h0.65v0.65h-0.65zM87.9,201.9h0.65v0.65h-0.65zM90.2,191.5h0.65v0.65h-0.65zM91.1,189.3h0.65v0.65h-0.65z" fill="#333" fill-opacity="0.55"/>
<path d="M80.4,200.2h0.6v0.6h-0.6zM73.7,198.6h0.6v0.6h-0.6zM70.9,202.1h0.6v0.6h-0.6zM83.2,206.5h0.6v0.6h-0.6zM68.0,201.2h0.6v0.6h-0.6zM64.5,201.0h0.6v0.6h-0.6zM75.2,203.4h0.6v0.6h-0.6zM77.7,199.2h0.6v0.6h-0.6zM68.0,198.0h0.6v0.6h-0.6zM84.0,198.5h0.6v0.6h-0.6zM80.3,202.5h0.6v0.6h-0.6zM80.1,197.6h0.6v0.6h-0.6zM77.3,202.9h0.6v0.6h-0.6zM74.9,203.0h0.6v0.6h-0.6zM68.4,205.5h0.6v0.6h-0.6zM68.6,201.4h0.6v0.6h-0.6zM79.8,203.2h0.6v0.6h-0.6zM83.8,201.7h0.6v0.6h-0.6zM68.7,202.7h0.6v0.6h-0.6zM77.8,197.6h0.6v0.6h-0.6zM80.0,205.0h0.6v0.6h-0.6zM70.2,204.2h0.6v0.6h-0.6zM75.3,204.3h0.6v0.6h-0.6zM71.9,204.0h0.6v0.6h-0.6zM78.7,202.0h0.6v0.6h-0.6zM73.1,201.4h0.6v0.6h-0.6zM78.9,205.6h0.6v0.6h-0.6zM74.1,204.1h0.6v0.6h-0.6zM75.5,206.8h0.6v0.6h-0.6zM81.8,203.8h0.6v0.6h-0.6zM77.3,200.4h0.6v0.6h-0.6zM65.9,204.0h0.6v0.6h-0.6zM70.8,200.1h0.6v0.6h-0.6zM80.9,202.6h0.6v0.6h-0.6zM68.8,204.9h0.6v0.6h-0.6zM73.2,204.4h0.6v0.6h-0.6zM68.6,197.9h0.6v0.6h-0.6zM71.5,203.9h0.6v0.6h-0.6zM63.4,198.9h0.6v0.6h-0.6zM80.4,208.4h0.6v0.6h-0.6zM73.6,199.3h0.6v0.6h-0.6zM72.3,199.8h0.6v0.6h-0.6zM83.6,203.7h0.6v0.6h-0.6zM69.8,204.0h0.6v0.6h-0.6zM62.5,201.9h0.6v0.6h-0.6zM75.0,201.2h0.6v0.6h-0.6zM69.5,200.2h0.6v0.6h-0.6zM64.2,203.0h0.6v0.6h-0.6zM69.3,203.3h0.6v0.6h-0.6zM79.7,200.0h0.6v0.6h-0.6zM68.0,202.0h0.6v0.6h-0.6zM78.8,198.3h0.6v0.6h-0.6zM74.5,199.1h0.6v0.6h-0.6zM83.3,202.8h0.6v0.6h-0.6zM65.6,200.3h0.6v0.6h-0.6zM75.3,200.5h0.6v0.6h-0.6zM75.3,202.8h0.6v0.6h-0.6zM76.0,200.7h0.6v0.6h-0.6zM83.1,204.1h0.6v0.6h-0.6zM73.1,201.5h0.6v0.6h-0.6zM71.1,198.0h0.6v0.6h-0.6zM73.0,201.9h0.6v0.6h-0.6zM72.7,199.2h0.6v0.6h-0.6zM57.3,197.1h0.6v0.6h-0.6zM79.7,196.9h0.6v0.6h-0.6zM78.1,203.7h0.6v0.6h-0.6zM74.3,201.8h0.6v0.6h-0.6zM79.5,201.6h0.6v0.6h-0.6zM74.5,204.1h0.6v0.6h-0.6zM74.5,207.0h0.6v0.6h-0.6zM68.4,200.7h0.6v0.6h-0.6zM73.3,202.2h0.6v0.6h-0.6zM71.0,206.8h0.6v0.6h-0.6zM78.5,196.9h0.6v0.6h-0.6zM74.7,203.6h0.6v0.6h-0.6zM81.7,202.9h0.6v0.6h-0.6zM70.4,203.9h0.6v0.6h-0.6zM67.3,202.0h0.6v0.6h-0.6zM68.0,205.3h0.6v0.6h-0.6zM78.9,207.4h0.6v0.6h-0.6zM73.1,201.5h0.6v0.6h-0.6zM72.1,204.8h0.6v0.6h-0.6zM68.7,203.6h0.6v0.6h-0.6zM72.8,203.7h0.6v0.6h-0.6zM76.3,199.7h0.6v0.6h-0.6zM72.4,197.2h0.6v0.6h-0.6zM69.6,200.2h0.6v0.6h-0.6zM80.6,200.7h0.6v0.6h-0.6zM76.3,201.2h0.6v0.6h-0.6zM67.4,203.3h0.6v0.6h-0.6zM85.8,203.4h0.6v0.6h-0.6zM81.9,203.4h0.6v0.6h-0.6zM80.4,207.2h0.6v0.6h-0.6zM65.3,200.0h0.6v0.6h-0.6zM66.3,201.8h0.6v0.6h-0.6zM72.7,199.8h0.6v0.6h-0.6zM77.6,206.7h0.6v0.6h-0.6zM82.7,206.5h0.6v0.6h-0.6zM75.6,203.0h0.6v0.6h-0.6zM83.2,204.4h0.6v0.6h-0.6zM80.6,201.0h0.6v0.6h-0.6zM72.5,200.1h0.6v0.6h-0.6zM82.2,199.6h0.6v0.6h-0.6zM76.0,202.5h0.6v0.6h-0.6zM74.3,201.1h0.6v0.6h-0.6zM77.4,199.9h0.6v0.6h-0.6zM75.7,205.3h0.6v0.6h-0.6zM71.8,204.9h0.6v0.6h-0.6zM82.1,206.6h0.6v0.6h-0.6zM69.9,206.3h0.6v0.6h-0.6z" fill="#222" fill-opacity="0.5"/>
<ellipse cx="74.90" cy="201.80" rx="7.20" ry="3.30" fill="#b4b4b4" fill-opacity="1.00" stroke="#1a1a1a" stroke-width="1.20" stroke-opacity="1.00" transform="rotate(0 74.90 201.80)"/>
<ellipse cx="74.90" cy="201.80" rx="5.18" ry="2.44" fill="#cfcfcf" fill-opacity="0.60" stroke="#2a2a2a" stroke-width="0.6" stroke-opacity="0.95" transform="rotate(0 74.90 201.80)"/>
<ellipse cx="74.90" cy="201.80" rx="3.31" ry="1.65" fill="#e8e8e8" stroke="#333" stroke-width="0.55" stroke-opacity="0.90" transform="rotate(0 74.90 201.80)"/>
<ellipse cx="74.90" cy="201.80" rx="1.44" ry="0.86" fill="#fff" stroke="#444" stroke-width="0.45" stroke-opacity="0.60" transform="rotate(0 74.90 201.80)"/>
<path d="M93.6,204.1h0.6v0.6h-0.6zM96.1,193.5h0.6v0.6h-0.6zM95.5,195.6h0.6v0.6h-0.6zM92.0,189.5h0.6v0.6h-0.6zM91.4,192.3h0.6v0.6h-0.6zM86.8,194.6h0.6v0.6h-0.6zM87.0,196.7h0.6v0.6h-0.6zM95.3,202.9h0.6v0.6h-0.6zM95.4,205.4h0.6v0.6h-0.6zM100.6,195.1h0.6v0.6h-0.6zM90.1,191.9h0.6v0.6h-0.6zM87.1,201.8h0.6v0.6h-0.6zM84.8,191.9h0.6v0.6h-0.6zM94.7,198.5h0.6v0.6h-0.6zM97.3,187.4h0.6v0.6h-0.6zM91.4,192.4h0.6v0.6h-0.6zM93.3,198.0h0.6v0.6h-0.6zM99.6,186.7h0.6v0.6h-0.6zM89.9,208.8h0.6v0.6h-0.6zM96.6,196.4h0.6v0.6h-0.6zM95.9,193.0h0.6v0.6h-0.6zM98.0,191.3h0.6v0.6h-0.6zM95.0,196.1h0.6v0.6h-0.6zM89.8,194.5h0.6v0.6h-0.6zM93.5,189.3h0.6v0.6h-0.6zM94.6,188.2h0.6v0.6h-0.6zM95.6,198.1h0.6v0.6h-0.6zM94.9,199.2h0.6v0.6h-0.6zM95.8,185.0h0.6v0.6h-0.6zM91.6,193.7h0.6v0.6h-0.6zM91.2,192.9h0.6v0.6h-0.6zM92.2,190.4h0.6v0.6h-0.6zM90.6,189.9h0.6v0.6h-0.6zM87.4,199.6h0.6v0.6h-0.6zM92.8,197.3h0.6v0.6h-0.6zM95.9,192.0h0.6v0.6h-0.6zM99.1,183.1h0.6v0.6h-0.6zM90.6,193.5h0.6v0.6h-0.6zM96.4,202.6h0.6v0.6h-0.6zM94.2,199.5h0.6v0.6h-0.6zM91.2,192.3h0.6v0.6h-0.6zM90.4,193.8h0.6v0.6h-0.6zM89.2,190.8h0.6v0.6h-0.6zM90.3,196.4h0.6v0.6h-0.6zM90.1,195.6h0.6v0.6h-0.6zM93.4,197.5h0.6v0.6h-0.6zM96.7,188.5h0.6v0.6h-0.6zM93.2,192.9h0.6v0.6h-0.6zM96.9,191.7h0.6v0.6h-0.6zM95.8,185.4h0.6v0.6h-0.6zM92.8,188.8h0.6v0.6h-0.6zM93.6,189.6h0.6v0.6h-0.6zM92.1,195.1h0.6v0.6h-0.6zM88.2,197.7h0.6v0.6h-0.6zM87.4,206.6h0.6v0.6h-0.6zM95.3,198.9h0.6v0.6h-0.6zM90.8,202.5h0.6v0.6h-0.6zM96.3,183.5h0.6v0.6h-0.6zM94.4,196.0h0.6v0.6h-0.6zM87.6,180.5h0.6v0.6h-0.6zM96.5,197.0h0.6v0.6h-0.6zM93.3,181.5h0.6v0.6h-0.6zM86.7,202.9h0.6v0.6h-0.6zM84.4,195.3h0.6v0.6h-0.6zM100.2,196.5h0.6v0.6h-0.6zM88.8,196.4h0.6v0.6h-0.6zM94.1,196.7h0.6v0.6h-0.6zM94.6,183.4h0.6v0.6h-0.6zM93.1,198.9h0.6v0.6h-0.6zM93.2,197.3h0.6v0.6h-0.6zM91.7,199.5h0.6v0.6h-0.6zM104.8,192.9h0.6v0.6h-0.6zM95.4,186.4h0.6v0.6h-0.6zM86.8,192.2h0.6v0.6h-0.6zM98.8,188.6h0.6v0.6h-0.6zM92.0,189.8h0.6v0.6h-0.6zM90.3,183.2h0.6v0.6h-0.6zM93.6,190.7h0.6v0.6h-0.6zM93.5,187.3h0.6v0.6h-0.6zM93.5,209.4h0.6v0.6h-0.6zM92.5,183.1h0.6v0.6h-0.6zM94.4,203.9h0.6v0.6h-0.6zM100.7,189.6h0.6v0.6h-0.6zM95.5,180.8h0.6v0.6h-0.6zM96.1,185.4h0.6v0.6h-0.6zM85.6,197.0h0.6v0.6h-0.6zM97.3,180.7h0.6v0.6h-0.6zM86.0,209.1h0.6v0.6h-0.6z" fill="#222" fill-opacity="0.5"/>
<ellipse cx="92.60" cy="193.50" rx="4.30" ry="8.60" fill="#b4b4b4" fill-opacity="0.86" stroke="#1a1a1a" stroke-width="1.06" stroke-opacity="0.86" transform="rotate(14 92.60 193.50)"/>
<ellipse cx="92.60" cy="193.50" rx="3.10" ry="6.36" fill="#cfcfcf" fill-opacity="0.48" stroke="#2a2a2a" stroke-width="0.6" stroke-opacity="0.81" transform="rotate(14 92.60 193.50)"/>
<ellipse cx="92.60" cy="193.50" rx="1.98" ry="4.30" fill="#e8e8e8" stroke="#333" stroke-width="0.55" stroke-opacity="0.76" transform="rotate(14 92.60 193.50)"/>
<ellipse cx="92.60" cy="193.50" rx="0.86" ry="2.24" fill="#fff" stroke="#444" stroke-width="0.45" stroke-opacity="0.48" transform="rotate(14 92.60 193.50)"/>
</g>
<rect x="67.30" y="162.80" width="45.80" height="45.40" fill="none" stroke="#111" stroke-width="1.1"/>
<rect x="84.80" y="175.20" width="23.20" height="31.20" fill="none" stroke="#111" stroke-width="0.75"/>
<text x="96.40" y="173.50" font-size="6.4" text-anchor="middle" fill="#1a1a1a" stroke="#1a1a1a" stroke-width="0.1">28.9</text>
<line x1="102.80" y1="206.40" x2="102.80" y2="216.60" stroke="#111" stroke-width="0.75"/>
<path d="M102.80,218.60 L101.72,216.20 L103.88,216.20 Z" fill="#111"/>
<rect x="75.60" y="222.70" width="20.60" height="25.30" fill="#d2ead3" stroke="#44b04c" stroke-width="0.9"/>
<rect x="77.50" y="253.60" width="28.30" height="11.80" fill="#f7c6b6" stroke="#d2263c" stroke-width="0.9"/>
<clipPath id="cb1"><rect x="67.30" y="219.8" width="45.8" height="46.5"/></clipPath>
<g clip-path="url(#cb1)">
<path d="M69.8,231.0h0.6v0.6h-0.6zM97.8,251.5h0.6v0.6h-0.6zM86.3,228.6h0.6v0.6h-0.6zM87.6,229.7h0.6v0.6h-0.6zM87.4,245.0h0.6v0.6h-0.6zM85.7,246.1h0.6v0.6h-0.6zM93.4,227.8h0.6v0.6h-0.6zM83.5,226.5h0.6v0.6h-0.6zM87.5,219.5h0.6v0.6h-0.6zM78.8,215.4h0.6v0.6h-0.6zM88.1,227.1h0.6v0.6h-0.6zM93.1,242.3h0.6v0.6h-0.6zM88.1,228.2h0.6v0.6h-0.6zM74.9,225.6h0.6v0.6h-0.6zM85.3,234.6h0.6v0.6h-0.6zM83.9,235.5h0.6v0.6h-0.6zM94.2,246.2h0.6v0.6h-0.6zM77.4,241.5h0.6v0.6h-0.6zM79.4,237.6h0.6v0.6h-0.6zM86.5,243.8h0.6v0.6h-0.6zM90.1,224.8h0.6v0.6h-0.6zM84.4,239.2h0.6v0.6h-0.6zM83.8,249.5h0.6v0.6h-0.6zM76.2,240.2h0.6v0.6h-0.6zM86.3,231.0h0.6v0.6h-0.6zM84.3,233.0h0.6v0.6h-0.6zM86.9,230.1h0.6v0.6h-0.6zM82.9,258.3h0.6v0.6h-0.6zM82.1,240.4h0.6v0.6h-0.6zM91.9,227.4h0.6v0.6h-0.6zM90.2,229.7h0.6v0.6h-0.6zM68.9,235.4h0.6v0.6h-0.6zM65.7,234.2h0.6v0.6h-0.6zM89.6,251.5h0.6v0.6h-0.6zM89.3,245.0h0.6v0.6h-0.6zM89.1,235.4h0.6v0.6h-0.6zM91.8,232.0h0.6v0.6h-0.6zM86.9,228.9h0.6v0.6h-0.6zM83.3,238.8h0.6v0.6h-0.6zM72.9,229.5h0.6v0.6h-0.6zM78.8,234.6h0.6v0.6h-0.6zM97.5,227.0h0.6v0.6h-0.6zM83.8,232.2h0.6v0.6h-0.6zM80.1,228.4h0.6v0.6h-0.6zM91.0,233.1h0.6v0.6h-0.6zM80.2,224.4h0.6v0.6h-0.6zM79.5,243.2h0.6v0.6h-0.6zM78.8,217.5h0.6v0.6h-0.6z" fill="#2a3a30" fill-opacity="0.5"/>
<path d="M92.57,235.40 C92.45,236.80 92.05,238.32 91.52,239.39 C90.98,240.45 90.01,240.96 89.35,241.78 C88.69,242.60 88.27,243.43 87.56,244.31 C86.85,245.19 86.02,246.68 85.10,247.03 C84.18,247.38 82.96,246.99 82.06,246.39 C81.17,245.80 80.39,244.56 79.73,243.45 C79.08,242.34 78.41,241.06 78.14,239.72 C77.88,238.38 78.01,236.75 78.15,235.40 C78.29,234.05 78.68,232.87 78.99,231.60 C79.30,230.34 79.46,228.80 80.03,227.79 C80.59,226.78 81.54,225.94 82.38,225.55 C83.23,225.17 84.18,225.50 85.10,225.46 C86.02,225.41 86.95,225.03 87.90,225.27 C88.84,225.51 90.05,225.95 90.77,226.89 C91.50,227.84 91.95,229.54 92.25,230.96 C92.55,232.38 92.69,234.00 92.57,235.40 Z" fill="#9fbfa7" fill-opacity="0.70" stroke="#4a6a5a" stroke-width="0.70" stroke-opacity="0.58"/>
<path d="M90.31,236.40 C90.42,237.48 90.73,238.69 90.63,239.84 C90.52,240.98 90.23,242.51 89.68,243.27 C89.12,244.02 88.06,244.23 87.30,244.36 C86.54,244.49 85.79,244.23 85.10,244.07 C84.41,243.90 83.76,243.78 83.18,243.37 C82.59,242.96 82.13,242.27 81.61,241.63 C81.10,240.99 80.55,240.38 80.10,239.51 C79.65,238.63 79.01,237.48 78.93,236.40 C78.86,235.32 79.25,233.97 79.64,233.01 C80.02,232.04 80.70,231.37 81.25,230.63 C81.80,229.88 82.28,228.95 82.92,228.51 C83.56,228.07 84.41,227.86 85.10,227.98 C85.79,228.10 86.46,228.75 87.08,229.22 C87.70,229.70 88.33,230.14 88.81,230.83 C89.29,231.52 89.71,232.46 89.95,233.38 C90.20,234.31 90.20,235.32 90.31,236.40 Z" fill="#b8d4bf" fill-opacity="0.70" stroke="#4a6a5a" stroke-width="0.38" stroke-opacity="0.58"/>
<path d="M88.75,237.40 C88.62,238.14 88.49,238.77 88.29,239.38 C88.10,240.00 87.86,240.58 87.55,241.08 C87.25,241.58 86.88,241.93 86.47,242.36 C86.06,242.79 85.61,243.46 85.10,243.65 C84.59,243.85 83.87,243.89 83.40,243.55 C82.94,243.20 82.60,242.25 82.31,241.58 C82.02,240.91 81.85,240.23 81.67,239.53 C81.50,238.83 81.26,238.10 81.27,237.40 C81.28,236.70 81.51,235.94 81.72,235.30 C81.93,234.66 82.22,234.09 82.53,233.55 C82.85,233.01 83.20,232.36 83.63,232.06 C84.05,231.76 84.61,231.76 85.10,231.76 C85.59,231.76 86.06,231.89 86.57,232.06 C87.09,232.23 87.78,232.29 88.19,232.77 C88.60,233.25 88.94,234.18 89.04,234.95 C89.13,235.73 88.87,236.66 88.75,237.40 Z" fill="#cfe3d3" fill-opacity="0.70" stroke="#4a6a5a" stroke-width="0.38" stroke-opacity="0.58"/>
<path d="M86.95,238.40 C86.97,238.80 87.12,239.21 87.10,239.64 C87.08,240.08 87.02,240.66 86.84,241.01 C86.66,241.35 86.31,241.57 86.02,241.72 C85.73,241.86 85.39,241.92 85.10,241.86 C84.81,241.80 84.50,241.61 84.28,241.36 C84.06,241.12 83.95,240.69 83.77,240.39 C83.60,240.08 83.42,239.87 83.26,239.54 C83.10,239.21 82.86,238.80 82.83,238.40 C82.79,238.00 82.93,237.51 83.05,237.12 C83.17,236.74 83.37,236.41 83.56,236.09 C83.75,235.76 83.95,235.36 84.21,235.18 C84.47,234.99 84.81,234.95 85.10,234.99 C85.39,235.02 85.68,235.20 85.93,235.38 C86.19,235.56 86.48,235.76 86.65,236.07 C86.82,236.38 86.90,236.86 86.95,237.25 C87.00,237.64 86.92,238.00 86.95,238.40 Z" fill="#e9f3eb" fill-opacity="0.70" stroke="#4a6a5a" stroke-width="0.38" stroke-opacity="0.58"/>
<path d="M98.8,259.7h0.55v0.55h-0.55zM103.5,262.0h0.55v0.55h-0.55zM96.0,258.9h0.55v0.55h-0.55zM86.3,258.4h0.55v0.55h-0.55zM99.3,259.8h0.55v0.55h-0.55zM93.2,257.4h0.55v0.55h-0.55zM91.2,261.7h0.55v0.55h-0.55zM91.3,261.1h0.55v0.55h-0.55zM78.0,261.3h0.55v0.55h-0.55zM86.5,257.4h0.55v0.55h-0.55zM90.6,258.2h0.55v0.55h-0.55zM102.9,258.9h0.55v0.55h-0.55zM91.5,258.3h0.55v0.55h-0.55zM97.6,261.0h0.55v0.55h-0.55zM98.4,257.2h0.55v0.55h-0.55zM91.3,260.0h0.55v0.55h-0.55zM80.5,259.1h0.55v0.55h-0.55zM98.7,261.4h0.55v0.55h-0.55zM95.9,260.5h0.55v0.55h-0.55zM98.3,259.8h0.55v0.55h-0.55zM81.1,261.9h0.55v0.55h-0.55zM97.2,259.2h0.55v0.55h-0.55zM87.8,262.5h0.55v0.55h-0.55zM95.1,260.6h0.55v0.55h-0.55zM90.5,259.7h0.55v0.55h-0.55zM92.9,260.8h0.55v0.55h-0.55zM81.1,261.8h0.55v0.55h-0.55zM92.9,260.3h0.55v0.55h-0.55zM99.1,258.6h0.55v0.55h-0.55zM98.0,257.7h0.55v0.55h-0.55zM94.3,258.2h0.55v0.55h-0.55zM99.4,261.3h0.55v0.55h-0.55zM85.4,259.7h0.55v0.55h-0.55zM88.3,257.3h0.55v0.55h-0.55zM92.3,260.7h0.55v0.55h-0.55zM100.0,258.5h0.55v0.55h-0.55zM91.2,261.3h0.55v0.55h-0.55zM92.6,261.8h0.55v0.55h-0.55zM104.7,260.1h0.55v0.55h-0.55zM87.9,258.9h0.55v0.55h-0.55zM97.9,259.0h0.55v0.55h-0.55zM93.4,259.9h0.55v0.55h-0.55zM83.2,258.7h0.55v0.55h-0.55zM90.5,258.1h0.55v0.55h-0.55zM94.4,258.8h0.55v0.55h-0.55zM90.1,261.3h0.55v0.55h-0.55zM102.0,259.0h0.55v0.55h-0.55zM89.4,257.1h0.55v0.55h-0.55zM81.5,261.4h0.55v0.55h-0.55zM93.0,258.1h0.55v0.55h-0.55zM84.4,261.0h0.55v0.55h-0.55zM90.9,260.1h0.55v0.55h-0.55zM98.7,258.2h0.55v0.55h-0.55zM84.0,259.1h0.55v0.55h-0.55zM96.0,259.0h0.55v0.55h-0.55zM92.1,259.8h0.55v0.55h-0.55zM86.9,260.3h0.55v0.55h-0.55zM98.9,257.7h0.55v0.55h-0.55zM87.6,258.7h0.55v0.55h-0.55zM88.8,258.9h0.55v0.55h-0.55z" fill="#222" fill-opacity="0.45"/>
<path d="M82.80,259.4 C87.00,256.4 100.65,256.0 103.80,258.6 C104.01,262.2 90.15,262.4 82.80,259.4 Z" fill="#5a3a36" fill-opacity="0.8" stroke="#1a1a1a" stroke-width="0.7"/>
<ellipse cx="95.92" cy="259.2" rx="5.25" ry="0.9" fill="#e8d0cc" stroke="#333" stroke-width="0.4"/>
</g>
<rect x="67.30" y="219.80" width="45.80" height="46.50" fill="none" stroke="#111" stroke-width="1.1"/>
<text x="110.50" y="227.20" font-size="6.4" text-anchor="end" fill="#1a1a1a" stroke="#1a1a1a" stroke-width="0.1">28.7</text>
<text x="110.50" y="252.20" font-size="6.4" text-anchor="end" fill="#1a1a1a" stroke="#1a1a1a" stroke-width="0.1">70.8</text>
<text x="143.50" y="158.80" font-size="8.6" font-weight="bold" text-anchor="middle">Dec</text>
<clipPath id="ct2"><rect x="120.60" y="162.8" width="45.8" height="45.4"/></clipPath>
<g clip-path="url(#ct2)">
<ellipse cx="129.50" cy="196.20" rx="6.80" ry="7.5" fill="#7a7a7a" fill-opacity="0.45" filter="url(#bl2)"/>
<ellipse cx="145.90" cy="194.40" rx="6.00" ry="10.98" fill="#777" fill-opacity="0.65" filter="url(#bl1)" transform="rotate(15 145.90 194.40)"/>
<path d="M133.0,190.0h0.65v0.65h-0.65zM130.0,194.0h0.65v0.65h-0.65zM125.0,189.9h0.65v0.65h-0.65zM119.0,196.0h0.65v0.65h-0.65zM134.6,192.0h0.65v0.65h-0.65zM131.4,190.6h0.65v0.65h-0.65zM130.3,194.5h0.65v0.65h-0.65zM126.6,189.8h0.65v0.65h-0.65zM125.9,193.9h0.65v0.65h-0.65zM134.2,198.3h0.65v0.65h-0.65zM130.2,193.1h0.65v0.65h-0.65zM129.3,198.9h0.65v0.65h-0.65zM134.2,199.4h0.65v0.65h-0.65zM136.6,194.8h0.65v0.65h-0.65zM124.2,200.9h0.65v0.65h-0.65zM136.3,199.5h0.65v0.65h-0.65zM128.4,196.3h0.65v0.65h-0.65zM126.9,194.4h0.65v0.65h-0.65zM128.4,197.4h0.65v0.65h-0.65zM123.2,197.8h0.65v0.65h-0.65zM129.1,194.9h0.65v0.65h-0.65zM129.6,194.2h0.65v0.65h-0.65zM129.6,201.7h0.65v0.65h-0.65zM126.4,199.1h0.65v0.65h-0.65zM125.7,194.8h0.65v0.65h-0.65zM129.4,193.3h0.65v0.65h-0.65zM133.0,189.7h0.65v0.65h-0.65zM127.5,195.8h0.65v0.65h-0.65zM128.8,195.0h0.65v0.65h-0.65zM123.9,195.9h0.65v0.65h-0.65zM134.5,198.2h0.65v0.65h-0.65zM127.6,190.6h0.65v0.65h-0.65zM124.2,198.9h0.65v0.65h-0.65zM125.9,194.4h0.65v0.65h-0.65zM138.6,185.9h0.65v0.65h-0.65zM132.4,186.1h0.65v0.65h-0.65zM122.3,206.6h0.65v0.65h-0.65zM133.2,198.0h0.65v0.65h-0.65zM131.9,199.4h0.65v0.65h-0.65zM125.7,190.1h0.65v0.65h-0.65zM124.7,197.1h0.65v0.65h-0.65zM130.3,199.9h0.65v0.65h-0.65zM128.0,198.7h0.65v0.65h-0.65zM128.1,191.0h0.65v0.65h-0.65zM125.8,197.0h0.65v0.65h-0.65zM127.7,193.4h0.65v0.65h-0.65zM128.0,201.3h0.65v0.65h-0.65zM125.0,185.4h0.65v0.65h-0.65zM128.4,186.0h0.65v0.65h-0.65zM134.9,192.8h0.65v0.65h-0.65zM128.3,194.5h0.65v0.65h-0.65zM128.8,196.6h0.65v0.65h-0.65zM133.3,191.0h0.65v0.65h-0.65zM126.2,193.6h0.65v0.65h-0.65zM126.9,197.9h0.65v0.65h-0.65zM119.2,186.6h0.65v0.65h-0.65zM128.1,197.2h0.65v0.65h-0.65zM130.5,199.4h0.65v0.65h-0.65zM135.1,191.6h0.65v0.65h-0.65zM126.6,196.5h0.65v0.65h-0.65zM130.6,197.5h0.65v0.65h-0.65zM129.5,191.4h0.65v0.65h-0.65zM138.5,195.5h0.65v0.65h-0.65zM130.0,191.5h0.65v0.65h-0.65zM129.6,194.1h0.65v0.65h-0.65zM133.1,199.4h0.65v0.65h-0.65zM125.5,195.9h0.65v0.65h-0.65zM128.6,196.9h0.65v0.65h-0.65zM134.6,192.5h0.65v0.65h-0.65zM140.5,192.1h0.65v0.65h-0.65zM121.9,198.6h0.65v0.65h-0.65zM122.5,201.0h0.65v0.65h-0.65zM129.9,194.1h0.65v0.65h-0.65zM131.7,196.2h0.65v0.65h-0.65zM124.8,193.9h0.65v0.65h-0.65zM137.1,196.4h0.65v0.65h-0.65zM129.7,191.5h0.65v0.65h-0.65zM137.7,198.3h0.65v0.65h-0.65zM126.9,195.7h0.65v0.65h-0.65zM125.8,201.2h0.65v0.65h-0.65zM132.5,192.9h0.65v0.65h-0.65zM126.6,193.8h0.65v0.65h-0.65zM129.0,205.0h0.65v0.65h-0.65zM127.0,197.3h0.65v0.65h-0.65zM126.6,194.8h0.65v0.65h-0.65zM130.1,200.3h0.65v0.65h-0.65zM123.1,193.0h0.65v0.65h-0.65zM127.3,191.7h0.65v0.65h-0.65zM135.2,198.7h0.65v0.65h-0.65zM133.4,197.5h0.65v0.65h-0.65zM123.2,199.6h0.65v0.65h-0.65zM127.8,193.0h0.65v0.65h-0.65zM124.5,190.9h0.65v0.65h-0.65zM126.2,196.4h0.65v0.65h-0.65zM133.7,193.0h0.65v0.65h-0.65zM131.7,197.2h0.65v0.65h-0.65zM131.8,195.8h0.65v0.65h-0.65zM122.4,200.6h0.65v0.65h-0.65zM131.5,190.8h0.65v0.65h-0.65zM128.5,194.8h0.65v0.65h-0.65zM138.8,202.3h0.65v0.65h-0.65zM129.0,194.9h0.65v0.65h-0.65zM131.8,196.9h0.65v0.65h-0.65zM131.5,194.8h0.65v0.65h-0.65zM123.7,187.6h0.65v0.65h-0.65zM122.1,188.9h0.65v0.65h-0.65zM128.4,198.4h0.65v0.65h-0.65zM136.1,196.8h0.65v0.65h-0.65zM138.2,202.7h0.65v0.65h-0.65zM127.9,193.4h0.65v0.65h-0.65zM129.5,193.7h0.65v0.65h-0.65zM126.5,195.9h0.65v0.65h-0.65zM130.8,187.6h0.65v0.65h-0.65zM128.9,195.9h0.65v0.65h-0.65zM132.0,191.8h0.65v0.65h-0.65zM130.9,191.6h0.65v0.65h-0.65zM124.2,192.2h0.65v0.65h-0.65zM129.2,194.4h0.65v0.65h-0.65zM133.9,197.7h0.65v0.65h-0.65zM127.4,200.0h0.65v0.65h-0.65zM136.0,196.3h0.65v0.65h-0.65zM137.0,197.2h0.65v0.65h-0.65zM130.5,191.8h0.65v0.65h-0.65zM133.3,200.2h0.65v0.65h-0.65zM129.9,200.2h0.65v0.65h-0.65zM138.1,203.2h0.65v0.65h-0.65zM124.6,194.9h0.65v0.65h-0.65zM134.6,199.7h0.65v0.65h-0.65zM133.7,189.5h0.65v0.65h-0.65zM132.1,198.3h0.65v0.65h-0.65zM126.1,202.6h0.65v0.65h-0.65zM132.3,200.5h0.65v0.65h-0.65zM136.2,195.1h0.65v0.65h-0.65zM130.4,196.1h0.65v0.65h-0.65zM133.8,200.1h0.65v0.65h-0.65zM124.2,193.1h0.65v0.65h-0.65zM124.2,197.2h0.65v0.65h-0.65zM123.6,192.2h0.65v0.65h-0.65zM134.9,192.6h0.65v0.65h-0.65zM131.5,187.3h0.65v0.65h-0.65zM132.3,190.4h0.65v0.65h-0.65zM135.3,197.2h0.65v0.65h-0.65zM131.4,192.5h0.65v0.65h-0.65zM130.6,194.2h0.65v0.65h-0.65zM133.1,194.4h0.65v0.65h-0.65zM127.7,193.0h0.65v0.65h-0.65zM127.3,199.6h0.65v0.65h-0.65zM127.7,197.6h0.65v0.65h-0.65zM116.7,200.1h0.65v0.65h-0.65zM122.7,188.1h0.65v0.65h-0.65zM129.3,188.2h0.65v0.65h-0.65zM136.1,195.8h0.65v0.65h-0.65zM128.1,199.1h0.65v0.65h-0.65zM127.8,196.4h0.65v0.65h-0.65zM129.7,204.5h0.65v0.65h-0.65zM132.1,194.2h0.65v0.65h-0.65zM129.6,188.9h0.65v0.65h-0.65zM134.8,191.3h0.65v0.65h-0.65zM126.5,195.6h0.65v0.65h-0.65zM130.4,192.8h0.65v0.65h-0.65zM125.6,193.2h0.65v0.65h-0.65zM117.2,193.5h0.65v0.65h-0.65zM131.5,200.3h0.65v0.65h-0.65zM125.3,191.9h0.65v0.65h-0.65zM132.9,194.4h0.65v0.65h-0.65zM134.5,192.7h0.65v0.65h-0.65zM130.5,195.6h0.65v0.65h-0.65zM129.5,199.3h0.65v0.65h-0.65zM129.2,195.6h0.65v0.65h-0.65zM128.1,202.5h0.65v0.65h-0.65zM131.4,195.8h0.65v0.65h-0.65zM122.3,198.4h0.65v0.65h-0.65zM125.9,189.6h0.65v0.65h-0.65zM128.7,192.9h0.65v0.65h-0.65zM128.6,197.0h0.65v0.65h-0.65zM127.5,193.4h0.65v0.65h-0.65zM127.9,206.6h0.65v0.65h-0.65zM124.9,191.7h0.65v0.65h-0.65zM125.2,191.4h0.65v0.65h-0.65zM127.3,192.7h0.65v0.65h-0.65zM130.1,196.6h0.65v0.65h-0.65zM132.8,196.4h0.65v0.65h-0.65zM130.0,197.6h0.65v0.65h-0.65zM116.7,196.4h0.65v0.65h-0.65zM127.2,193.0h0.65v0.65h-0.65zM128.9,193.4h0.65v0.65h-0.65zM131.7,198.1h0.65v0.65h-0.65zM122.8,199.4h0.65v0.65h-0.65zM121.8,198.3h0.65v0.65h-0.65zM137.2,201.4h0.65v0.65h-0.65zM123.9,202.5h0.65v0.65h-0.65zM136.9,197.5h0.65v0.65h-0.65zM129.9,204.0h0.65v0.65h-0.65zM130.8,190.2h0.65v0.65h-0.65zM128.5,196.6h0.65v0.65h-0.65zM132.2,204.3h0.65v0.65h-0.65zM132.2,201.1h0.65v0.65h-0.65zM122.9,192.8h0.65v0.65h-0.65zM129.7,198.1h0.65v0.65h-0.65zM139.1,202.7h0.65v0.65h-0.65zM123.7,200.0h0.65v0.65h-0.65zM125.7,194.8h0.65v0.65h-0.65zM129.3,196.3h0.65v0.65h-0.65zM130.0,194.3h0.65v0.65h-0.65zM132.8,195.1h0.65v0.65h-0.65zM128.2,193.8h0.65v0.65h-0.65zM129.4,192.9h0.65v0.65h-0.65zM124.9,199.7h0.65v0.65h-0.65zM131.2,198.0h0.65v0.65h-0.65zM129.7,192.8h0.65v0.65h-0.65zM123.0,200.8h0.65v0.65h-0.65zM129.1,198.7h0.65v0.65h-0.65zM129.5,200.0h0.65v0.65h-0.65zM124.3,200.4h0.65v0.65h-0.65zM119.7,197.5h0.65v0.65h-0.65zM134.9,197.9h0.65v0.65h-0.65zM130.3,193.4h0.65v0.65h-0.65zM133.4,196.8h0.65v0.65h-0.65zM132.3,199.0h0.65v0.65h-0.65zM128.1,194.2h0.65v0.65h-0.65zM132.4,199.2h0.65v0.65h-0.65zM130.1,198.7h0.65v0.65h-0.65zM126.5,196.8h0.65v0.65h-0.65zM132.5,197.6h0.65v0.65h-0.65zM118.2,197.9h0.65v0.65h-0.65zM127.0,195.5h0.65v0.65h-0.65zM129.9,202.7h0.65v0.65h-0.65zM120.2,192.8h0.65v0.65h-0.65zM137.2,194.1h0.65v0.65h-0.65zM136.9,202.3h0.65v0.65h-0.65zM125.3,195.5h0.65v0.65h-0.65zM132.9,203.2h0.65v0.65h-0.65zM129.0,197.7h0.65v0.65h-0.65zM127.6,205.3h0.65v0.65h-0.65zM121.5,197.6h0.65v0.65h-0.65zM133.0,198.0h0.65v0.65h-0.65zM127.3,198.5h0.65v0.65h-0.65zM126.4,192.7h0.65v0.65h-0.65zM138.1,204.1h0.65v0.65h-0.65zM125.8,196.3h0.65v0.65h-0.65zM135.1,196.4h0.65v0.65h-0.65zM127.6,195.9h0.65v0.65h-0.65zM121.3,197.3h0.65v0.65h-0.65zM125.4,195.3h0.65v0.65h-0.65zM122.5,196.0h0.65v0.65h-0.65zM127.1,194.1h0.65v0.65h-0.65zM132.2,186.6h0.65v0.65h-0.65zM128.1,187.9h0.65v0.65h-0.65zM122.1,202.6h0.65v0.65h-0.65zM129.9,198.7h0.65v0.65h-0.65zM120.7,190.9h0.65v0.65h-0.65zM131.3,197.4h0.65v0.65h-0.65zM133.3,197.0h0.65v0.65h-0.65zM130.5,198.1h0.65v0.65h-0.65zM128.6,190.5h0.65v0.65h-0.65zM132.8,194.4h0.65v0.65h-0.65zM128.3,195.4h0.65v0.65h-0.65zM131.7,195.0h0.65v0.65h-0.65zM123.3,196.7h0.65v0.65h-0.65zM133.6,194.5h0.65v0.65h-0.65zM134.9,195.7h0.65v0.65h-0.65zM130.4,203.6h0.65v0.65h-0.65zM133.9,211.5h0.65v0.65h-0.65zM125.5,196.8h0.65v0.65h-0.65zM132.4,195.1h0.65v0.65h-0.65zM125.2,198.1h0.65v0.65h-0.65zM128.1,195.2h0.65v0.65h-0.65zM126.7,197.7h0.65v0.65h-0.65zM128.6,195.9h0.65v0.65h-0.65zM125.9,194.0h0.65v0.65h-0.65zM123.1,197.5h0.65v0.65h-0.65zM128.0,193.8h0.65v0.65h-0.65zM128.7,198.1h0.65v0.65h-0.65zM131.1,195.4h0.65v0.65h-0.65zM132.2,199.8h0.65v0.65h-0.65zM120.4,191.8h0.65v0.65h-0.65zM131.7,197.1h0.65v0.65h-0.65zM131.6,200.8h0.65v0.65h-0.65zM124.2,197.2h0.65v0.65h-0.65zM133.7,192.1h0.65v0.65h-0.65zM135.8,188.0h0.65v0.65h-0.65zM127.3,205.8h0.65v0.65h-0.65zM127.4,196.7h0.65v0.65h-0.65zM130.4,195.0h0.65v0.65h-0.65zM132.3,196.4h0.65v0.65h-0.65zM125.8,206.4h0.65v0.65h-0.65zM131.8,192.9h0.65v0.65h-0.65zM120.0,194.5h0.65v0.65h-0.65zM130.9,190.4h0.65v0.65h-0.65zM126.4,195.8h0.65v0.65h-0.65zM128.9,202.0h0.65v0.65h-0.65zM121.7,192.2h0.65v0.65h-0.65zM137.9,189.7h0.65v0.65h-0.65zM129.2,197.5h0.65v0.65h-0.65zM133.3,192.8h0.65v0.65h-0.65zM131.5,201.8h0.65v0.65h-0.65zM128.5,199.0h0.65v0.65h-0.65zM124.9,199.7h0.65v0.65h-0.65zM127.8,194.6h0.65v0.65h-0.65zM128.3,190.2h0.65v0.65h-0.65z" fill="#2a2a2a" fill-opacity="0.55"/>
<path d="M138.9,194.8h0.65v0.65h-0.65zM146.4,193.4h0.65v0.65h-0.65zM138.8,194.5h0.65v0.65h-0.65zM147.3,182.7h0.65v0.65h-0.65zM145.7,214.0h0.65v0.65h-0.65zM148.1,188.9h0.65v0.65h-0.65zM133.6,200.3h0.65v0.65h-0.65zM145.0,202.7h0.65v0.65h-0.65zM156.2,192.7h0.65v0.65h-0.65zM143.2,207.7h0.65v0.65h-0.65zM139.3,202.5h0.65v0.65h-0.65zM147.3,190.3h0.65v0.65h-0.65zM144.9,200.1h0.65v0.65h-0.65zM145.2,196.5h0.65v0.65h-0.65zM147.2,201.4h0.65v0.65h-0.65zM143.9,195.5h0.65v0.65h-0.65zM139.3,182.4h0.65v0.65h-0.65zM143.2,189.9h0.65v0.65h-0.65zM146.8,185.8h0.65v0.65h-0.65zM146.0,203.2h0.65v0.65h-0.65zM152.1,197.5h0.65v0.65h-0.65zM146.4,201.6h0.65v0.65h-0.65zM154.1,193.2h0.65v0.65h-0.65zM151.8,185.4h0.65v0.65h-0.65zM143.9,183.8h0.65v0.65h-0.65zM149.0,194.0h0.65v0.65h-0.65zM148.1,187.7h0.65v0.65h-0.65zM141.6,209.2h0.65v0.65h-0.65zM141.5,183.3h0.65v0.65h-0.65zM152.1,187.9h0.65v0.65h-0.65zM145.8,195.8h0.65v0.65h-0.65zM139.7,189.7h0.65v0.65h-0.65zM144.9,197.4h0.65v0.65h-0.65zM148.6,195.3h0.65v0.65h-0.65zM146.0,193.7h0.65v0.65h-0.65zM144.7,200.8h0.65v0.65h-0.65zM148.9,170.5h0.65v0.65h-0.65zM147.9,195.5h0.65v0.65h-0.65zM158.9,188.8h0.65v0.65h-0.65zM146.7,200.9h0.65v0.65h-0.65zM142.3,192.4h0.65v0.65h-0.65zM140.3,197.8h0.65v0.65h-0.65zM145.1,197.1h0.65v0.65h-0.65zM147.5,197.4h0.65v0.65h-0.65zM149.4,201.9h0.65v0.65h-0.65zM146.4,188.2h0.65v0.65h-0.65zM151.1,182.3h0.65v0.65h-0.65zM141.0,201.5h0.65v0.65h-0.65zM145.1,212.6h0.65v0.65h-0.65zM144.8,193.1h0.65v0.65h-0.65zM147.0,205.6h0.65v0.65h-0.65zM138.4,201.4h0.65v0.65h-0.65zM143.1,208.9h0.65v0.65h-0.65zM147.4,191.2h0.65v0.65h-0.65zM144.2,191.0h0.65v0.65h-0.65zM147.6,179.8h0.65v0.65h-0.65zM148.2,189.0h0.65v0.65h-0.65zM149.6,202.4h0.65v0.65h-0.65zM144.2,192.1h0.65v0.65h-0.65zM145.3,204.9h0.65v0.65h-0.65zM148.8,202.9h0.65v0.65h-0.65zM144.4,200.7h0.65v0.65h-0.65zM139.8,197.7h0.65v0.65h-0.65zM146.3,192.4h0.65v0.65h-0.65zM146.9,188.7h0.65v0.65h-0.65zM141.3,205.1h0.65v0.65h-0.65zM146.5,183.4h0.65v0.65h-0.65zM149.2,191.9h0.65v0.65h-0.65zM140.5,204.7h0.65v0.65h-0.65zM144.5,199.1h0.65v0.65h-0.65zM143.4,208.4h0.65v0.65h-0.65zM152.2,184.0h0.65v0.65h-0.65zM154.5,192.8h0.65v0.65h-0.65zM142.7,200.5h0.65v0.65h-0.65zM146.3,191.6h0.65v0.65h-0.65zM145.0,191.8h0.65v0.65h-0.65zM150.2,198.7h0.65v0.65h-0.65zM147.8,211.2h0.65v0.65h-0.65zM151.1,189.1h0.65v0.65h-0.65zM145.6,198.4h0.65v0.65h-0.65zM140.7,192.6h0.65v0.65h-0.65zM138.8,202.9h0.65v0.65h-0.65zM139.1,189.9h0.65v0.65h-0.65zM146.7,196.7h0.65v0.65h-0.65zM140.4,199.4h0.65v0.65h-0.65zM142.6,206.3h0.65v0.65h-0.65zM144.7,201.5h0.65v0.65h-0.65zM138.5,194.4h0.65v0.65h-0.65zM148.5,186.9h0.65v0.65h-0.65zM134.7,197.9h0.65v0.65h-0.65zM152.7,191.4h0.65v0.65h-0.65zM148.3,200.9h0.65v0.65h-0.65zM144.9,188.9h0.65v0.65h-0.65zM156.6,202.9h0.65v0.65h-0.65zM148.5,192.6h0.65v0.65h-0.65zM139.3,195.2h0.65v0.65h-0.65zM144.6,197.1h0.65v0.65h-0.65zM149.6,180.6h0.65v0.65h-0.65zM143.8,195.2h0.65v0.65h-0.65zM143.8,196.2h0.65v0.65h-0.65zM147.4,194.2h0.65v0.65h-0.65zM140.5,207.3h0.65v0.65h-0.65zM146.5,197.6h0.65v0.65h-0.65zM147.7,197.1h0.65v0.65h-0.65zM138.5,189.2h0.65v0.65h-0.65zM146.1,199.1h0.65v0.65h-0.65zM148.6,186.1h0.65v0.65h-0.65zM143.8,197.6h0.65v0.65h-0.65zM140.7,216.0h0.65v0.65h-0.65zM147.3,199.3h0.65v0.65h-0.65zM149.9,177.3h0.65v0.65h-0.65zM151.4,190.3h0.65v0.65h-0.65zM152.5,193.0h0.65v0.65h-0.65zM142.4,202.8h0.65v0.65h-0.65zM147.8,181.2h0.65v0.65h-0.65zM146.9,198.8h0.65v0.65h-0.65zM148.2,193.9h0.65v0.65h-0.65zM149.3,188.1h0.65v0.65h-0.65zM144.3,200.6h0.65v0.65h-0.65zM131.4,195.6h0.65v0.65h-0.65zM147.6,208.5h0.65v0.65h-0.65zM143.5,198.6h0.65v0.65h-0.65zM147.7,187.0h0.65v0.65h-0.65zM145.6,202.6h0.65v0.65h-0.65zM153.6,181.0h0.65v0.65h-0.65zM145.5,193.7h0.65v0.65h-0.65zM149.3,183.6h0.65v0.65h-0.65zM157.8,185.0h0.65v0.65h-0.65zM138.2,207.2h0.65v0.65h-0.65zM148.9,189.0h0.65v0.65h-0.65zM141.5,199.5h0.65v0.65h-0.65zM141.6,200.0h0.65v0.65h-0.65zM147.3,198.7h0.65v0.65h-0.65zM150.9,191.0h0.65v0.65h-0.65zM143.2,180.1h0.65v0.65h-0.65zM147.6,188.4h0.65v0.65h-0.65zM154.7,189.2h0.65v0.65h-0.65zM153.2,195.5h0.65v0.65h-0.65zM150.1,179.7h0.65v0.65h-0.65zM142.6,206.1h0.65v0.65h-0.65zM136.9,203.2h0.65v0.65h-0.65zM147.6,202.8h0.65v0.65h-0.65zM138.3,206.0h0.65v0.65h-0.65zM137.7,205.9h0.65v0.65h-0.65zM154.7,182.3h0.65v0.65h-0.65zM148.7,210.7h0.65v0.65h-0.65zM148.9,182.2h0.65v0.65h-0.65zM145.7,192.1h0.65v0.65h-0.65zM151.7,188.0h0.65v0.65h-0.65zM141.5,195.4h0.65v0.65h-0.65zM151.2,181.1h0.65v0.65h-0.65zM149.1,190.9h0.65v0.65h-0.65zM142.7,199.1h0.65v0.65h-0.65zM147.9,199.5h0.65v0.65h-0.65zM153.0,198.8h0.65v0.65h-0.65zM145.3,197.5h0.65v0.65h-0.65zM151.0,201.6h0.65v0.65h-0.65zM145.2,203.3h0.65v0.65h-0.65zM137.2,201.0h0.65v0.65h-0.65zM150.1,193.4h0.65v0.65h-0.65zM143.0,180.1h0.65v0.65h-0.65zM135.8,195.1h0.65v0.65h-0.65zM147.4,187.4h0.65v0.65h-0.65zM151.9,188.0h0.65v0.65h-0.65zM148.7,202.2h0.65v0.65h-0.65zM150.7,186.5h0.65v0.65h-0.65zM141.1,194.0h0.65v0.65h-0.65zM152.8,187.6h0.65v0.65h-0.65zM145.0,202.1h0.65v0.65h-0.65zM134.5,207.8h0.65v0.65h-0.65z" fill="#333" fill-opacity="0.55"/>
<path d="M128.1,199.6h0.6v0.6h-0.6zM130.2,200.8h0.6v0.6h-0.6zM124.1,199.4h0.6v0.6h-0.6zM127.8,197.9h0.6v0.6h-0.6zM134.5,203.3h0.6v0.6h-0.6zM133.1,196.1h0.6v0.6h-0.6zM126.6,203.0h0.6v0.6h-0.6zM128.7,195.4h0.6v0.6h-0.6zM131.2,207.7h0.6v0.6h-0.6zM134.8,201.0h0.6v0.6h-0.6zM122.7,204.6h0.6v0.6h-0.6zM132.3,200.3h0.6v0.6h-0.6zM127.4,203.9h0.6v0.6h-0.6zM128.6,199.2h0.6v0.6h-0.6zM122.9,200.1h0.6v0.6h-0.6zM127.5,199.6h0.6v0.6h-0.6zM152.6,197.3h0.6v0.6h-0.6zM120.0,199.1h0.6v0.6h-0.6zM133.9,207.6h0.6v0.6h-0.6zM120.3,199.5h0.6v0.6h-0.6zM132.5,199.0h0.6v0.6h-0.6zM132.3,200.2h0.6v0.6h-0.6zM135.4,201.8h0.6v0.6h-0.6zM138.4,197.1h0.6v0.6h-0.6zM135.2,200.1h0.6v0.6h-0.6zM135.4,199.5h0.6v0.6h-0.6zM133.8,204.7h0.6v0.6h-0.6zM130.9,198.0h0.6v0.6h-0.6zM125.6,199.7h0.6v0.6h-0.6zM128.1,204.5h0.6v0.6h-0.6zM122.9,200.9h0.6v0.6h-0.6zM129.5,201.4h0.6v0.6h-0.6zM124.4,205.5h0.6v0.6h-0.6zM129.0,198.8h0.6v0.6h-0.6zM128.8,205.1h0.6v0.6h-0.6zM132.3,205.1h0.6v0.6h-0.6zM132.0,200.0h0.6v0.6h-0.6zM121.5,198.6h0.6v0.6h-0.6zM129.0,196.2h0.6v0.6h-0.6zM127.9,198.7h0.6v0.6h-0.6zM135.5,195.0h0.6v0.6h-0.6zM141.4,203.7h0.6v0.6h-0.6zM126.8,201.7h0.6v0.6h-0.6zM137.8,203.6h0.6v0.6h-0.6zM127.7,199.6h0.6v0.6h-0.6zM121.5,202.3h0.6v0.6h-0.6zM133.9,201.2h0.6v0.6h-0.6zM129.4,198.8h0.6v0.6h-0.6zM130.0,203.0h0.6v0.6h-0.6zM122.6,203.6h0.6v0.6h-0.6zM127.9,203.0h0.6v0.6h-0.6zM129.5,202.5h0.6v0.6h-0.6zM130.7,203.8h0.6v0.6h-0.6zM125.5,201.1h0.6v0.6h-0.6zM123.2,201.6h0.6v0.6h-0.6zM135.2,200.6h0.6v0.6h-0.6zM134.8,200.0h0.6v0.6h-0.6zM131.3,205.3h0.6v0.6h-0.6zM131.0,202.7h0.6v0.6h-0.6zM136.6,203.4h0.6v0.6h-0.6zM134.4,200.5h0.6v0.6h-0.6zM125.5,203.9h0.6v0.6h-0.6zM124.0,205.1h0.6v0.6h-0.6zM126.6,202.4h0.6v0.6h-0.6zM133.7,198.1h0.6v0.6h-0.6zM139.6,201.5h0.6v0.6h-0.6zM128.3,198.2h0.6v0.6h-0.6zM120.6,196.0h0.6v0.6h-0.6zM124.3,203.2h0.6v0.6h-0.6zM126.9,205.1h0.6v0.6h-0.6zM124.4,196.7h0.6v0.6h-0.6zM131.9,200.6h0.6v0.6h-0.6zM121.9,205.9h0.6v0.6h-0.6zM130.9,197.1h0.6v0.6h-0.6zM126.8,198.6h0.6v0.6h-0.6zM135.5,199.8h0.6v0.6h-0.6zM126.2,202.4h0.6v0.6h-0.6zM137.7,205.7h0.6v0.6h-0.6zM129.4,200.5h0.6v0.6h-0.6zM126.2,204.5h0.6v0.6h-0.6zM123.8,201.3h0.6v0.6h-0.6zM133.0,199.4h0.6v0.6h-0.6zM116.7,199.7h0.6v0.6h-0.6zM125.0,198.4h0.6v0.6h-0.6zM126.3,203.9h0.6v0.6h-0.6zM121.6,197.6h0.6v0.6h-0.6zM128.7,204.3h0.6v0.6h-0.6zM125.1,203.2h0.6v0.6h-0.6zM134.8,199.1h0.6v0.6h-0.6zM128.2,204.0h0.6v0.6h-0.6zM130.4,199.5h0.6v0.6h-0.6zM128.6,200.6h0.6v0.6h-0.6zM129.7,202.2h0.6v0.6h-0.6zM130.0,199.5h0.6v0.6h-0.6zM129.3,202.3h0.6v0.6h-0.6zM128.2,206.4h0.6v0.6h-0.6zM126.8,194.3h0.6v0.6h-0.6zM135.5,199.9h0.6v0.6h-0.6zM131.1,200.5h0.6v0.6h-0.6zM134.2,199.7h0.6v0.6h-0.6zM132.2,206.2h0.6v0.6h-0.6zM132.4,198.7h0.6v0.6h-0.6zM138.2,204.8h0.6v0.6h-0.6zM129.2,196.9h0.6v0.6h-0.6zM130.5,201.1h0.6v0.6h-0.6zM131.6,201.8h0.6v0.6h-0.6zM137.5,201.9h0.6v0.6h-0.6zM127.2,200.1h0.6v0.6h-0.6zM130.8,202.9h0.6v0.6h-0.6zM122.7,198.2h0.6v0.6h-0.6z" fill="#222" fill-opacity="0.5"/>
<ellipse cx="129.00" cy="201.20" rx="6.80" ry="4.00" fill="#b4b4b4" fill-opacity="1.00" stroke="#1a1a1a" stroke-width="1.20" stroke-opacity="1.00" transform="rotate(0 129.00 201.20)"/>
<ellipse cx="129.00" cy="201.20" rx="4.90" ry="2.96" fill="#cfcfcf" fill-opacity="0.60" stroke="#2a2a2a" stroke-width="0.6" stroke-opacity="0.95" transform="rotate(0 129.00 201.20)"/>
<ellipse cx="129.00" cy="201.20" rx="3.13" ry="2.00" fill="#e8e8e8" stroke="#333" stroke-width="0.55" stroke-opacity="0.90" transform="rotate(0 129.00 201.20)"/>
<ellipse cx="129.00" cy="201.20" rx="1.36" ry="1.04" fill="#fff" stroke="#444" stroke-width="0.45" stroke-opacity="0.60" transform="rotate(0 129.00 201.20)"/>
<path d="M149.7,194.0h0.6v0.6h-0.6zM150.1,194.4h0.6v0.6h-0.6zM142.7,197.5h0.6v0.6h-0.6zM141.5,215.1h0.6v0.6h-0.6zM151.8,195.6h0.6v0.6h-0.6zM145.8,198.9h0.6v0.6h-0.6zM146.3,200.7h0.6v0.6h-0.6zM146.5,191.7h0.6v0.6h-0.6zM141.0,190.8h0.6v0.6h-0.6zM149.3,197.2h0.6v0.6h-0.6zM149.7,185.1h0.6v0.6h-0.6zM137.3,197.1h0.6v0.6h-0.6zM144.3,189.6h0.6v0.6h-0.6zM135.9,203.5h0.6v0.6h-0.6zM154.6,182.8h0.6v0.6h-0.6zM144.4,192.3h0.6v0.6h-0.6zM145.8,201.5h0.6v0.6h-0.6zM146.0,193.7h0.6v0.6h-0.6zM151.4,182.4h0.6v0.6h-0.6zM145.5,194.2h0.6v0.6h-0.6zM149.0,187.2h0.6v0.6h-0.6zM145.9,185.2h0.6v0.6h-0.6zM147.4,186.6h0.6v0.6h-0.6zM156.1,192.1h0.6v0.6h-0.6zM151.7,191.1h0.6v0.6h-0.6zM142.6,200.7h0.6v0.6h-0.6zM140.6,210.4h0.6v0.6h-0.6zM151.1,182.0h0.6v0.6h-0.6zM156.4,174.8h0.6v0.6h-0.6zM146.3,187.9h0.6v0.6h-0.6zM147.6,188.5h0.6v0.6h-0.6zM145.0,191.1h0.6v0.6h-0.6zM150.4,188.3h0.6v0.6h-0.6zM140.0,211.0h0.6v0.6h-0.6zM151.0,205.1h0.6v0.6h-0.6zM147.1,190.1h0.6v0.6h-0.6zM148.9,184.6h0.6v0.6h-0.6zM151.5,190.0h0.6v0.6h-0.6zM136.1,200.1h0.6v0.6h-0.6zM149.6,202.7h0.6v0.6h-0.6zM147.3,198.7h0.6v0.6h-0.6zM148.9,206.0h0.6v0.6h-0.6zM139.2,197.3h0.6v0.6h-0.6zM142.4,206.6h0.6v0.6h-0.6zM145.6,191.4h0.6v0.6h-0.6zM139.8,193.3h0.6v0.6h-0.6zM144.2,205.5h0.6v0.6h-0.6zM143.4,201.4h0.6v0.6h-0.6zM156.0,187.7h0.6v0.6h-0.6zM149.8,195.3h0.6v0.6h-0.6zM141.4,186.8h0.6v0.6h-0.6zM148.4,186.1h0.6v0.6h-0.6zM149.9,189.3h0.6v0.6h-0.6zM150.6,192.8h0.6v0.6h-0.6zM148.1,204.2h0.6v0.6h-0.6zM146.9,204.3h0.6v0.6h-0.6zM154.3,204.7h0.6v0.6h-0.6zM140.9,189.7h0.6v0.6h-0.6zM147.4,203.3h0.6v0.6h-0.6zM142.8,197.9h0.6v0.6h-0.6zM146.8,192.7h0.6v0.6h-0.6zM144.2,194.4h0.6v0.6h-0.6zM154.0,182.8h0.6v0.6h-0.6zM149.5,197.3h0.6v0.6h-0.6zM139.5,195.2h0.6v0.6h-0.6zM147.3,187.4h0.6v0.6h-0.6zM148.6,193.0h0.6v0.6h-0.6zM147.5,206.1h0.6v0.6h-0.6zM146.7,198.2h0.6v0.6h-0.6zM142.5,193.5h0.6v0.6h-0.6zM146.3,210.5h0.6v0.6h-0.6zM138.9,194.8h0.6v0.6h-0.6zM141.4,211.1h0.6v0.6h-0.6zM143.0,211.0h0.6v0.6h-0.6zM141.9,179.3h0.6v0.6h-0.6zM149.4,184.0h0.6v0.6h-0.6zM139.6,189.4h0.6v0.6h-0.6zM144.0,195.2h0.6v0.6h-0.6zM153.5,188.9h0.6v0.6h-0.6zM146.4,182.3h0.6v0.6h-0.6zM144.1,202.9h0.6v0.6h-0.6zM154.7,178.2h0.6v0.6h-0.6zM148.4,192.8h0.6v0.6h-0.6zM146.4,185.1h0.6v0.6h-0.6zM143.3,196.5h0.6v0.6h-0.6zM146.9,201.6h0.6v0.6h-0.6zM142.9,193.9h0.6v0.6h-0.6zM140.8,200.7h0.6v0.6h-0.6zM149.0,184.4h0.6v0.6h-0.6zM146.4,208.9h0.6v0.6h-0.6zM135.8,206.9h0.6v0.6h-0.6zM148.1,194.5h0.6v0.6h-0.6zM140.1,182.4h0.6v0.6h-0.6zM140.7,199.8h0.6v0.6h-0.6zM145.1,196.0h0.6v0.6h-0.6zM145.4,198.3h0.6v0.6h-0.6zM142.0,204.5h0.6v0.6h-0.6zM139.5,185.1h0.6v0.6h-0.6zM146.3,187.4h0.6v0.6h-0.6zM151.8,192.4h0.6v0.6h-0.6zM139.9,188.4h0.6v0.6h-0.6zM145.9,187.7h0.6v0.6h-0.6zM144.5,189.8h0.6v0.6h-0.6zM148.9,194.0h0.6v0.6h-0.6zM147.4,194.3h0.6v0.6h-0.6zM150.4,196.3h0.6v0.6h-0.6zM144.8,203.4h0.6v0.6h-0.6zM148.5,205.5h0.6v0.6h-0.6zM145.8,183.6h0.6v0.6h-0.6zM159.0,186.7h0.6v0.6h-0.6z" fill="#222" fill-opacity="0.5"/>
<ellipse cx="145.90" cy="194.40" rx="4.80" ry="9.80" fill="#b4b4b4" fill-opacity="1.00" stroke="#1a1a1a" stroke-width="1.20" stroke-opacity="1.00" transform="rotate(15 145.90 194.40)"/>
<ellipse cx="145.90" cy="194.40" rx="3.46" ry="7.25" fill="#cfcfcf" fill-opacity="0.60" stroke="#2a2a2a" stroke-width="0.6" stroke-opacity="0.95" transform="rotate(15 145.90 194.40)"/>
<ellipse cx="145.90" cy="194.40" rx="2.21" ry="4.90" fill="#e8e8e8" stroke="#333" stroke-width="0.55" stroke-opacity="0.90" transform="rotate(15 145.90 194.40)"/>
<ellipse cx="145.90" cy="194.40" rx="0.96" ry="2.55" fill="#fff" stroke="#444" stroke-width="0.45" stroke-opacity="0.60" transform="rotate(15 145.90 194.40)"/>
</g>
<rect x="120.60" y="162.80" width="45.80" height="45.40" fill="none" stroke="#111" stroke-width="1.1"/>
<rect x="138.10" y="175.20" width="23.20" height="31.20" fill="none" stroke="#111" stroke-width="0.75"/>
<text x="149.70" y="173.50" font-size="6.4" text-anchor="middle" fill="#1a1a1a" stroke="#1a1a1a" stroke-width="0.1">55.4</text>
<line x1="156.10" y1="206.40" x2="156.10" y2="216.60" stroke="#111" stroke-width="0.75"/>
<path d="M156.10,218.60 L155.02,216.20 L157.18,216.20 Z" fill="#111"/>
<rect x="128.90" y="222.70" width="20.60" height="25.30" fill="#d2ead3" stroke="#44b04c" stroke-width="0.9"/>
<rect x="130.80" y="253.60" width="28.30" height="11.80" fill="#f7c6b6" stroke="#d2263c" stroke-width="0.9"/>
<clipPath id="cb2"><rect x="120.60" y="219.8" width="45.8" height="46.5"/></clipPath>
<g clip-path="url(#cb2)">
<path d="M132.8,222.2h0.6v0.6h-0.6zM138.4,236.2h0.6v0.6h-0.6zM123.4,247.8h0.6v0.6h-0.6zM133.8,248.0h0.6v0.6h-0.6zM142.4,236.8h0.6v0.6h-0.6zM142.7,228.6h0.6v0.6h-0.6zM137.0,234.8h0.6v0.6h-0.6zM137.6,242.1h0.6v0.6h-0.6zM137.9,232.2h0.6v0.6h-0.6zM140.6,233.0h0.6v0.6h-0.6zM141.5,228.1h0.6v0.6h-0.6zM130.1,259.2h0.6v0.6h-0.6zM129.5,244.8h0.6v0.6h-0.6zM146.2,243.8h0.6v0.6h-0.6zM139.3,235.6h0.6v0.6h-0.6zM136.5,228.4h0.6v0.6h-0.6zM139.8,243.7h0.6v0.6h-0.6zM129.3,215.4h0.6v0.6h-0.6zM154.3,235.0h0.6v0.6h-0.6zM130.8,226.2h0.6v0.6h-0.6zM141.4,249.7h0.6v0.6h-0.6zM131.6,233.3h0.6v0.6h-0.6zM140.1,231.8h0.6v0.6h-0.6zM138.7,240.7h0.6v0.6h-0.6zM141.0,246.8h0.6v0.6h-0.6zM137.6,230.7h0.6v0.6h-0.6zM129.3,236.0h0.6v0.6h-0.6zM131.3,232.4h0.6v0.6h-0.6zM135.7,235.7h0.6v0.6h-0.6zM142.1,239.9h0.6v0.6h-0.6zM137.4,252.7h0.6v0.6h-0.6zM137.1,254.6h0.6v0.6h-0.6zM136.7,240.5h0.6v0.6h-0.6zM131.1,237.6h0.6v0.6h-0.6zM131.7,250.6h0.6v0.6h-0.6zM138.0,250.7h0.6v0.6h-0.6zM139.7,226.9h0.6v0.6h-0.6zM123.9,235.8h0.6v0.6h-0.6zM133.8,232.4h0.6v0.6h-0.6zM138.7,237.9h0.6v0.6h-0.6zM135.4,239.9h0.6v0.6h-0.6zM133.1,227.9h0.6v0.6h-0.6zM134.2,247.2h0.6v0.6h-0.6zM140.5,233.3h0.6v0.6h-0.6zM139.3,243.2h0.6v0.6h-0.6zM131.1,255.5h0.6v0.6h-0.6zM135.0,226.2h0.6v0.6h-0.6zM137.5,238.8h0.6v0.6h-0.6zM144.4,249.5h0.6v0.6h-0.6zM134.7,231.6h0.6v0.6h-0.6zM135.2,233.8h0.6v0.6h-0.6zM131.6,235.8h0.6v0.6h-0.6zM144.0,245.9h0.6v0.6h-0.6zM135.2,224.7h0.6v0.6h-0.6zM140.7,249.0h0.6v0.6h-0.6zM129.1,242.1h0.6v0.6h-0.6zM146.7,247.8h0.6v0.6h-0.6zM140.6,236.4h0.6v0.6h-0.6zM133.6,240.1h0.6v0.6h-0.6zM143.8,244.1h0.6v0.6h-0.6zM141.6,235.9h0.6v0.6h-0.6zM135.8,250.8h0.6v0.6h-0.6zM137.6,246.0h0.6v0.6h-0.6zM134.4,226.5h0.6v0.6h-0.6zM137.8,239.3h0.6v0.6h-0.6zM120.2,228.2h0.6v0.6h-0.6zM138.8,234.0h0.6v0.6h-0.6zM130.1,236.0h0.6v0.6h-0.6zM139.5,250.0h0.6v0.6h-0.6zM126.5,236.7h0.6v0.6h-0.6zM133.2,258.4h0.6v0.6h-0.6zM139.1,225.9h0.6v0.6h-0.6zM140.6,245.0h0.6v0.6h-0.6zM142.5,246.9h0.6v0.6h-0.6zM134.2,223.9h0.6v0.6h-0.6zM138.3,235.8h0.6v0.6h-0.6zM134.4,218.9h0.6v0.6h-0.6zM140.3,241.9h0.6v0.6h-0.6zM143.6,240.5h0.6v0.6h-0.6zM135.7,227.2h0.6v0.6h-0.6zM134.8,227.3h0.6v0.6h-0.6zM135.5,228.5h0.6v0.6h-0.6zM142.5,234.8h0.6v0.6h-0.6zM139.0,236.3h0.6v0.6h-0.6zM134.9,216.7h0.6v0.6h-0.6zM134.5,231.9h0.6v0.6h-0.6zM142.8,224.9h0.6v0.6h-0.6zM140.7,242.6h0.6v0.6h-0.6zM136.4,235.5h0.6v0.6h-0.6zM141.6,238.6h0.6v0.6h-0.6zM149.8,212.8h0.6v0.6h-0.6zM131.5,255.8h0.6v0.6h-0.6zM139.1,217.0h0.6v0.6h-0.6zM124.1,222.5h0.6v0.6h-0.6zM128.2,217.3h0.6v0.6h-0.6zM133.2,233.6h0.6v0.6h-0.6z" fill="#2a3a30" fill-opacity="0.5"/>
<path d="M143.09,236.20 C142.73,237.64 141.60,238.60 141.11,239.69 C140.62,240.79 140.48,241.58 140.13,242.80 C139.77,244.01 139.58,246.04 138.99,246.99 C138.40,247.95 137.43,248.36 136.60,248.52 C135.77,248.68 134.82,248.47 134.00,247.96 C133.17,247.45 132.17,246.68 131.66,245.45 C131.15,244.22 131.07,242.13 130.94,240.59 C130.81,239.05 130.89,237.69 130.86,236.20 C130.82,234.71 130.47,232.96 130.73,231.65 C130.99,230.34 131.76,229.10 132.40,228.35 C133.05,227.60 133.90,227.71 134.60,227.16 C135.30,226.60 135.83,225.44 136.60,225.00 C137.37,224.56 138.38,224.16 139.19,224.51 C140.00,224.86 140.79,226.00 141.47,227.09 C142.15,228.18 142.98,229.53 143.25,231.05 C143.52,232.57 143.44,234.76 143.09,236.20 Z" fill="#9fbfa7" fill-opacity="0.90" stroke="#1e3a2c" stroke-width="0.97" stroke-opacity="0.86"/>
<path d="M141.59,235.45 C141.33,236.67 140.83,237.52 140.51,238.48 C140.20,239.45 140.08,240.51 139.70,241.25 C139.32,241.99 138.77,242.47 138.25,242.90 C137.73,243.33 137.20,243.62 136.60,243.85 C136.00,244.08 135.23,244.59 134.65,244.28 C134.06,243.97 133.51,242.89 133.11,241.98 C132.71,241.07 132.56,239.91 132.25,238.82 C131.94,237.73 131.35,236.64 131.26,235.45 C131.17,234.26 131.33,232.62 131.71,231.66 C132.09,230.71 132.98,230.26 133.54,229.72 C134.09,229.18 134.53,228.78 135.04,228.42 C135.56,228.07 136.06,227.66 136.60,227.57 C137.14,227.47 137.65,227.72 138.28,227.85 C138.92,227.97 139.77,227.78 140.40,228.34 C141.04,228.89 141.90,230.00 142.10,231.19 C142.30,232.37 141.86,234.23 141.59,235.45 Z" fill="#b8d4bf" fill-opacity="0.90" stroke="#1e3a2c" stroke-width="0.53" stroke-opacity="0.86"/>
<path d="M140.57,234.70 C140.51,235.58 140.12,236.49 139.85,237.22 C139.58,237.95 139.30,238.65 138.94,239.08 C138.59,239.51 138.11,239.64 137.72,239.78 C137.33,239.91 137.00,239.77 136.60,239.88 C136.20,240.00 135.74,240.54 135.33,240.45 C134.91,240.37 134.38,239.96 134.10,239.38 C133.81,238.81 133.78,237.78 133.63,237.00 C133.47,236.22 133.23,235.53 133.15,234.70 C133.07,233.87 132.95,232.77 133.12,232.00 C133.29,231.24 133.78,230.61 134.15,230.12 C134.53,229.64 134.95,229.30 135.36,229.10 C135.77,228.90 136.22,228.77 136.60,228.94 C136.98,229.11 137.27,229.81 137.62,230.11 C137.96,230.42 138.26,230.49 138.69,230.79 C139.12,231.09 139.86,231.28 140.18,231.93 C140.49,232.58 140.62,233.82 140.57,234.70 Z" fill="#cfe3d3" fill-opacity="0.90" stroke="#1e3a2c" stroke-width="0.53" stroke-opacity="0.86"/>
<path d="M138.45,233.95 C138.34,234.41 138.20,234.74 138.08,235.10 C137.96,235.45 137.88,235.81 137.74,236.09 C137.60,236.37 137.42,236.52 137.23,236.78 C137.04,237.03 136.85,237.42 136.60,237.60 C136.35,237.78 135.97,238.03 135.73,237.87 C135.49,237.71 135.29,237.08 135.16,236.64 C135.03,236.20 135.02,235.68 134.95,235.23 C134.87,234.78 134.71,234.38 134.71,233.95 C134.70,233.52 134.80,233.02 134.92,232.65 C135.03,232.27 135.24,232.02 135.41,231.72 C135.57,231.42 135.71,231.02 135.91,230.83 C136.11,230.64 136.37,230.57 136.60,230.57 C136.83,230.57 137.04,230.74 137.29,230.82 C137.55,230.91 137.90,230.83 138.13,231.08 C138.37,231.33 138.64,231.85 138.70,232.33 C138.75,232.80 138.55,233.49 138.45,233.95 Z" fill="#e9f3eb" fill-opacity="0.90" stroke="#1e3a2c" stroke-width="0.53" stroke-opacity="0.86"/>
<path d="M149.7,261.0h0.55v0.55h-0.55zM144.9,261.8h0.55v0.55h-0.55zM143.4,257.1h0.55v0.55h-0.55zM141.9,259.3h0.55v0.55h-0.55zM153.3,258.6h0.55v0.55h-0.55zM142.9,260.2h0.55v0.55h-0.55zM138.5,260.7h0.55v0.55h-0.55zM149.6,257.9h0.55v0.55h-0.55zM146.1,258.4h0.55v0.55h-0.55zM140.9,259.8h0.55v0.55h-0.55zM144.5,260.6h0.55v0.55h-0.55zM146.9,257.1h0.55v0.55h-0.55zM147.8,260.4h0.55v0.55h-0.55zM148.6,257.4h0.55v0.55h-0.55zM142.6,257.6h0.55v0.55h-0.55zM144.9,258.4h0.55v0.55h-0.55zM152.1,259.9h0.55v0.55h-0.55zM162.4,260.1h0.55v0.55h-0.55zM137.3,259.1h0.55v0.55h-0.55zM157.7,258.9h0.55v0.55h-0.55zM147.3,260.7h0.55v0.55h-0.55zM155.3,261.0h0.55v0.55h-0.55zM146.0,257.8h0.55v0.55h-0.55zM143.2,260.2h0.55v0.55h-0.55zM136.7,259.6h0.55v0.55h-0.55zM156.3,257.7h0.55v0.55h-0.55zM151.2,258.3h0.55v0.55h-0.55zM141.8,260.0h0.55v0.55h-0.55zM150.6,259.3h0.55v0.55h-0.55zM149.4,260.4h0.55v0.55h-0.55zM157.5,258.1h0.55v0.55h-0.55zM140.6,261.8h0.55v0.55h-0.55zM151.7,258.5h0.55v0.55h-0.55zM150.4,261.7h0.55v0.55h-0.55zM144.4,259.9h0.55v0.55h-0.55zM152.2,258.5h0.55v0.55h-0.55zM139.8,260.5h0.55v0.55h-0.55zM146.6,259.7h0.55v0.55h-0.55zM141.9,260.3h0.55v0.55h-0.55zM152.7,259.5h0.55v0.55h-0.55zM147.0,258.1h0.55v0.55h-0.55zM142.8,257.6h0.55v0.55h-0.55zM147.1,259.7h0.55v0.55h-0.55zM142.6,257.7h0.55v0.55h-0.55zM145.5,260.3h0.55v0.55h-0.55zM155.1,257.0h0.55v0.55h-0.55zM147.5,261.2h0.55v0.55h-0.55zM141.6,258.8h0.55v0.55h-0.55zM152.0,259.7h0.55v0.55h-0.55zM141.3,257.9h0.55v0.55h-0.55zM143.4,259.4h0.55v0.55h-0.55zM147.9,260.6h0.55v0.55h-0.55zM141.4,260.1h0.55v0.55h-0.55zM149.2,259.0h0.55v0.55h-0.55zM151.3,259.3h0.55v0.55h-0.55zM149.5,258.6h0.55v0.55h-0.55zM141.4,258.7h0.55v0.55h-0.55zM157.5,260.0h0.55v0.55h-0.55zM148.5,258.4h0.55v0.55h-0.55zM147.8,257.8h0.55v0.55h-0.55z" fill="#222" fill-opacity="0.45"/>
<path d="M136.10,259.4 C140.30,256.4 153.95,256.0 157.10,258.6 C157.31,262.2 143.45,262.4 136.10,259.4 Z" fill="#5a3a36" fill-opacity="0.8" stroke="#1a1a1a" stroke-width="0.7"/>
<ellipse cx="149.22" cy="259.2" rx="5.25" ry="0.9" fill="#e8d0cc" stroke="#333" stroke-width="0.4"/>
</g>
<rect x="120.60" y="219.80" width="45.80" height="46.50" fill="none" stroke="#111" stroke-width="1.1"/>
<text x="163.80" y="227.20" font-size="6.4" text-anchor="end" fill="#1a1a1a" stroke="#1a1a1a" stroke-width="0.1">18.8</text>
<text x="163.80" y="252.20" font-size="6.4" text-anchor="end" fill="#1a1a1a" stroke="#1a1a1a" stroke-width="0.1">80.6</text>
<text x="196.80" y="158.80" font-size="8.6" font-weight="bold" text-anchor="middle">Aza</text>
<clipPath id="ct3"><rect x="173.90" y="162.8" width="45.8" height="45.4"/></clipPath>
<g clip-path="url(#ct3)">
<ellipse cx="184.00" cy="195.50" rx="7.60" ry="7.5" fill="#7a7a7a" fill-opacity="0.56" filter="url(#bl2)"/>
<ellipse cx="200.40" cy="192.80" rx="7.25" ry="9.63" fill="#777" fill-opacity="0.37" filter="url(#bl1)" transform="rotate(0 200.40 192.80)"/>
<path d="M185.6,196.9h0.65v0.65h-0.65zM181.1,198.8h0.65v0.65h-0.65zM177.5,192.4h0.65v0.65h-0.65zM187.5,193.0h0.65v0.65h-0.65zM176.8,201.4h0.65v0.65h-0.65zM187.1,198.8h0.65v0.65h-0.65zM184.0,193.0h0.65v0.65h-0.65zM186.2,196.9h0.65v0.65h-0.65zM180.4,197.6h0.65v0.65h-0.65zM186.2,197.0h0.65v0.65h-0.65zM188.1,198.9h0.65v0.65h-0.65zM178.2,198.8h0.65v0.65h-0.65zM181.9,202.7h0.65v0.65h-0.65zM169.1,195.9h0.65v0.65h-0.65zM187.0,200.9h0.65v0.65h-0.65zM178.8,197.1h0.65v0.65h-0.65zM186.2,195.0h0.65v0.65h-0.65zM187.5,194.5h0.65v0.65h-0.65zM180.2,201.5h0.65v0.65h-0.65zM179.9,195.8h0.65v0.65h-0.65zM195.2,201.7h0.65v0.65h-0.65zM182.1,198.4h0.65v0.65h-0.65zM180.3,193.2h0.65v0.65h-0.65zM181.7,200.0h0.65v0.65h-0.65zM186.6,194.2h0.65v0.65h-0.65zM172.5,201.7h0.65v0.65h-0.65zM180.5,199.9h0.65v0.65h-0.65zM188.0,201.7h0.65v0.65h-0.65zM181.0,193.5h0.65v0.65h-0.65zM180.7,198.5h0.65v0.65h-0.65zM185.3,193.0h0.65v0.65h-0.65zM186.4,193.8h0.65v0.65h-0.65zM183.8,196.1h0.65v0.65h-0.65zM186.4,206.4h0.65v0.65h-0.65zM180.6,191.9h0.65v0.65h-0.65zM178.0,197.1h0.65v0.65h-0.65zM184.9,199.2h0.65v0.65h-0.65zM179.0,192.4h0.65v0.65h-0.65zM183.5,202.4h0.65v0.65h-0.65zM188.6,200.9h0.65v0.65h-0.65zM186.9,200.9h0.65v0.65h-0.65zM181.3,201.4h0.65v0.65h-0.65zM187.9,200.2h0.65v0.65h-0.65zM181.8,195.7h0.65v0.65h-0.65zM181.0,202.3h0.65v0.65h-0.65zM176.9,195.5h0.65v0.65h-0.65zM185.2,192.2h0.65v0.65h-0.65zM184.9,201.0h0.65v0.65h-0.65zM187.2,192.8h0.65v0.65h-0.65zM184.0,193.4h0.65v0.65h-0.65zM170.7,200.2h0.65v0.65h-0.65zM187.2,192.1h0.65v0.65h-0.65zM189.6,200.2h0.65v0.65h-0.65zM195.9,198.8h0.65v0.65h-0.65zM192.2,195.9h0.65v0.65h-0.65zM182.8,204.2h0.65v0.65h-0.65zM188.2,203.3h0.65v0.65h-0.65zM183.0,196.9h0.65v0.65h-0.65zM188.3,194.4h0.65v0.65h-0.65zM187.8,192.0h0.65v0.65h-0.65zM173.7,195.5h0.65v0.65h-0.65zM187.2,204.7h0.65v0.65h-0.65zM183.3,197.7h0.65v0.65h-0.65zM182.9,198.2h0.65v0.65h-0.65zM190.5,199.3h0.65v0.65h-0.65zM186.1,198.5h0.65v0.65h-0.65zM182.8,199.9h0.65v0.65h-0.65zM193.9,193.1h0.65v0.65h-0.65zM194.8,188.7h0.65v0.65h-0.65zM175.2,199.5h0.65v0.65h-0.65zM181.6,205.4h0.65v0.65h-0.65zM187.1,191.4h0.65v0.65h-0.65zM184.2,198.6h0.65v0.65h-0.65zM189.8,194.8h0.65v0.65h-0.65zM175.9,192.2h0.65v0.65h-0.65zM188.9,201.6h0.65v0.65h-0.65zM174.9,198.5h0.65v0.65h-0.65zM180.6,197.7h0.65v0.65h-0.65zM188.0,196.2h0.65v0.65h-0.65zM183.6,189.9h0.65v0.65h-0.65zM184.0,202.8h0.65v0.65h-0.65zM180.9,198.6h0.65v0.65h-0.65zM186.6,206.1h0.65v0.65h-0.65zM179.7,200.3h0.65v0.65h-0.65zM182.7,197.0h0.65v0.65h-0.65zM184.1,190.8h0.65v0.65h-0.65zM187.4,194.5h0.65v0.65h-0.65zM185.1,200.4h0.65v0.65h-0.65zM183.0,191.5h0.65v0.65h-0.65zM178.6,199.5h0.65v0.65h-0.65zM190.6,203.9h0.65v0.65h-0.65zM177.8,197.8h0.65v0.65h-0.65zM184.7,194.6h0.65v0.65h-0.65zM183.1,193.6h0.65v0.65h-0.65zM184.8,195.5h0.65v0.65h-0.65zM182.7,202.3h0.65v0.65h-0.65zM178.8,197.4h0.65v0.65h-0.65zM180.7,195.8h0.65v0.65h-0.65zM183.6,197.1h0.65v0.65h-0.65zM185.1,194.3h0.65v0.65h-0.65zM187.1,192.8h0.65v0.65h-0.65zM178.0,193.9h0.65v0.65h-0.65zM190.3,201.6h0.65v0.65h-0.65zM181.2,204.2h0.65v0.65h-0.65zM185.7,191.5h0.65v0.65h-0.65zM186.1,193.3h0.65v0.65h-0.65zM177.9,188.8h0.65v0.65h-0.65zM184.8,198.6h0.65v0.65h-0.65zM178.6,199.4h0.65v0.65h-0.65zM186.1,199.1h0.65v0.65h-0.65zM187.4,194.2h0.65v0.65h-0.65zM185.9,198.9h0.65v0.65h-0.65zM180.9,195.9h0.65v0.65h-0.65zM177.5,197.7h0.65v0.65h-0.65zM178.1,198.6h0.65v0.65h-0.65zM184.4,196.4h0.65v0.65h-0.65zM187.1,195.9h0.65v0.65h-0.65zM192.6,198.5h0.65v0.65h-0.65zM178.0,195.0h0.65v0.65h-0.65zM185.7,203.4h0.65v0.65h-0.65zM181.0,202.7h0.65v0.65h-0.65zM184.8,201.8h0.65v0.65h-0.65zM180.9,194.1h0.65v0.65h-0.65zM182.0,197.2h0.65v0.65h-0.65zM178.9,192.5h0.65v0.65h-0.65zM187.7,200.9h0.65v0.65h-0.65zM183.6,195.3h0.65v0.65h-0.65zM189.5,190.6h0.65v0.65h-0.65zM187.7,197.9h0.65v0.65h-0.65zM187.4,198.4h0.65v0.65h-0.65zM189.1,199.2h0.65v0.65h-0.65zM183.9,200.2h0.65v0.65h-0.65zM179.0,197.9h0.65v0.65h-0.65zM185.9,191.2h0.65v0.65h-0.65zM186.7,198.8h0.65v0.65h-0.65zM188.6,197.2h0.65v0.65h-0.65zM190.2,200.6h0.65v0.65h-0.65zM187.2,184.8h0.65v0.65h-0.65zM184.3,198.0h0.65v0.65h-0.65zM184.1,193.1h0.65v0.65h-0.65zM188.7,195.4h0.65v0.65h-0.65zM183.1,198.3h0.65v0.65h-0.65zM189.9,195.6h0.65v0.65h-0.65zM178.7,198.5h0.65v0.65h-0.65zM185.1,190.0h0.65v0.65h-0.65zM180.6,197.4h0.65v0.65h-0.65zM174.7,201.4h0.65v0.65h-0.65zM177.4,200.0h0.65v0.65h-0.65zM178.5,195.5h0.65v0.65h-0.65zM180.4,195.7h0.65v0.65h-0.65zM174.1,194.4h0.65v0.65h-0.65zM188.3,198.7h0.65v0.65h-0.65zM194.5,189.9h0.65v0.65h-0.65zM191.2,197.4h0.65v0.65h-0.65zM177.1,191.7h0.65v0.65h-0.65zM181.2,197.4h0.65v0.65h-0.65zM181.3,202.6h0.65v0.65h-0.65zM183.4,194.5h0.65v0.65h-0.65zM179.1,192.7h0.65v0.65h-0.65zM183.3,196.3h0.65v0.65h-0.65zM179.6,198.2h0.65v0.65h-0.65zM180.0,195.1h0.65v0.65h-0.65zM189.3,201.0h0.65v0.65h-0.65zM181.8,203.5h0.65v0.65h-0.65zM181.6,201.4h0.65v0.65h-0.65zM184.8,195.3h0.65v0.65h-0.65zM183.7,195.6h0.65v0.65h-0.65zM185.0,196.7h0.65v0.65h-0.65zM183.1,193.5h0.65v0.65h-0.65zM186.2,200.4h0.65v0.65h-0.65zM178.5,197.0h0.65v0.65h-0.65zM188.5,200.2h0.65v0.65h-0.65zM179.6,206.3h0.65v0.65h-0.65zM179.7,199.7h0.65v0.65h-0.65zM185.8,206.8h0.65v0.65h-0.65zM180.6,201.9h0.65v0.65h-0.65zM186.5,193.7h0.65v0.65h-0.65zM184.0,194.0h0.65v0.65h-0.65zM185.1,197.7h0.65v0.65h-0.65zM173.8,199.4h0.65v0.65h-0.65zM185.5,200.9h0.65v0.65h-0.65zM184.2,194.0h0.65v0.65h-0.65zM187.5,200.7h0.65v0.65h-0.65zM172.8,201.0h0.65v0.65h-0.65zM187.0,195.3h0.65v0.65h-0.65zM178.8,195.5h0.65v0.65h-0.65zM189.5,197.9h0.65v0.65h-0.65zM187.7,195.4h0.65v0.65h-0.65zM176.8,194.0h0.65v0.65h-0.65zM194.9,200.3h0.65v0.65h-0.65zM187.3,199.0h0.65v0.65h-0.65zM183.7,196.3h0.65v0.65h-0.65zM182.0,198.4h0.65v0.65h-0.65zM183.0,197.1h0.65v0.65h-0.65zM186.1,199.2h0.65v0.65h-0.65zM185.9,197.8h0.65v0.65h-0.65zM186.1,201.3h0.65v0.65h-0.65zM190.3,202.3h0.65v0.65h-0.65zM180.4,198.4h0.65v0.65h-0.65zM184.5,204.2h0.65v0.65h-0.65zM192.2,198.8h0.65v0.65h-0.65zM194.2,202.2h0.65v0.65h-0.65zM178.0,199.8h0.65v0.65h-0.65zM185.5,195.7h0.65v0.65h-0.65zM191.3,199.3h0.65v0.65h-0.65zM176.8,193.9h0.65v0.65h-0.65zM182.8,201.3h0.65v0.65h-0.65zM186.1,200.7h0.65v0.65h-0.65zM182.5,201.9h0.65v0.65h-0.65zM182.6,199.9h0.65v0.65h-0.65zM182.5,195.8h0.65v0.65h-0.65zM185.8,192.8h0.65v0.65h-0.65zM184.2,198.8h0.65v0.65h-0.65zM177.7,196.8h0.65v0.65h-0.65zM182.9,193.4h0.65v0.65h-0.65zM174.5,201.1h0.65v0.65h-0.65zM181.7,207.4h0.65v0.65h-0.65zM196.4,189.9h0.65v0.65h-0.65zM187.7,196.0h0.65v0.65h-0.65zM186.7,192.3h0.65v0.65h-0.65zM189.1,209.4h0.65v0.65h-0.65zM178.2,191.5h0.65v0.65h-0.65zM181.9,196.5h0.65v0.65h-0.65zM186.0,195.2h0.65v0.65h-0.65zM183.5,202.2h0.65v0.65h-0.65zM185.9,200.9h0.65v0.65h-0.65zM183.4,195.4h0.65v0.65h-0.65zM182.6,195.5h0.65v0.65h-0.65zM176.4,197.8h0.65v0.65h-0.65zM183.3,196.0h0.65v0.65h-0.65zM188.7,205.9h0.65v0.65h-0.65zM179.6,199.5h0.65v0.65h-0.65zM178.2,201.1h0.65v0.65h-0.65zM183.4,191.6h0.65v0.65h-0.65zM178.3,199.8h0.65v0.65h-0.65zM180.5,196.8h0.65v0.65h-0.65zM196.8,194.0h0.65v0.65h-0.65zM186.7,185.4h0.65v0.65h-0.65zM174.1,198.5h0.65v0.65h-0.65zM184.4,203.2h0.65v0.65h-0.65zM181.2,188.4h0.65v0.65h-0.65zM189.3,190.3h0.65v0.65h-0.65zM182.9,203.6h0.65v0.65h-0.65zM179.4,197.5h0.65v0.65h-0.65zM177.5,201.9h0.65v0.65h-0.65zM189.5,191.0h0.65v0.65h-0.65zM182.3,195.0h0.65v0.65h-0.65zM187.7,201.0h0.65v0.65h-0.65zM185.0,200.3h0.65v0.65h-0.65zM186.3,198.3h0.65v0.65h-0.65zM183.1,194.4h0.65v0.65h-0.65zM186.6,194.3h0.65v0.65h-0.65zM186.5,194.4h0.65v0.65h-0.65zM183.3,200.7h0.65v0.65h-0.65zM189.5,197.3h0.65v0.65h-0.65zM183.3,197.4h0.65v0.65h-0.65zM187.2,194.2h0.65v0.65h-0.65zM197.2,197.0h0.65v0.65h-0.65zM184.4,199.8h0.65v0.65h-0.65zM186.3,197.3h0.65v0.65h-0.65zM182.2,192.2h0.65v0.65h-0.65zM180.0,196.9h0.65v0.65h-0.65zM180.7,206.7h0.65v0.65h-0.65zM172.9,205.1h0.65v0.65h-0.65zM186.0,195.7h0.65v0.65h-0.65zM184.5,196.4h0.65v0.65h-0.65zM181.6,190.4h0.65v0.65h-0.65zM181.7,192.5h0.65v0.65h-0.65zM185.1,195.0h0.65v0.65h-0.65zM179.9,196.3h0.65v0.65h-0.65zM181.1,198.4h0.65v0.65h-0.65zM182.1,192.3h0.65v0.65h-0.65zM185.2,191.8h0.65v0.65h-0.65zM174.3,192.1h0.65v0.65h-0.65zM186.5,192.5h0.65v0.65h-0.65zM178.4,204.6h0.65v0.65h-0.65zM182.2,198.3h0.65v0.65h-0.65zM179.8,202.1h0.65v0.65h-0.65zM190.8,194.7h0.65v0.65h-0.65zM177.4,189.5h0.65v0.65h-0.65zM184.9,193.0h0.65v0.65h-0.65zM175.3,198.5h0.65v0.65h-0.65zM182.9,198.6h0.65v0.65h-0.65zM176.9,192.3h0.65v0.65h-0.65zM184.0,202.7h0.65v0.65h-0.65zM186.0,195.8h0.65v0.65h-0.65zM187.9,200.3h0.65v0.65h-0.65zM177.4,204.9h0.65v0.65h-0.65zM189.6,196.9h0.65v0.65h-0.65zM185.9,191.9h0.65v0.65h-0.65zM190.4,205.9h0.65v0.65h-0.65zM184.9,198.3h0.65v0.65h-0.65zM182.9,197.2h0.65v0.65h-0.65zM178.5,197.5h0.65v0.65h-0.65zM189.1,195.9h0.65v0.65h-0.65zM189.3,191.7h0.65v0.65h-0.65zM180.6,195.6h0.65v0.65h-0.65zM181.8,201.1h0.65v0.65h-0.65zM177.9,200.3h0.65v0.65h-0.65zM179.3,196.9h0.65v0.65h-0.65zM170.1,189.1h0.65v0.65h-0.65zM185.3,200.2h0.65v0.65h-0.65zM186.2,197.1h0.65v0.65h-0.65zM189.1,198.3h0.65v0.65h-0.65zM188.1,192.0h0.65v0.65h-0.65zM193.7,195.5h0.65v0.65h-0.65zM178.0,194.5h0.65v0.65h-0.65zM189.0,197.3h0.65v0.65h-0.65zM183.4,202.2h0.65v0.65h-0.65zM189.9,198.9h0.65v0.65h-0.65zM179.6,200.1h0.65v0.65h-0.65zM181.9,198.0h0.65v0.65h-0.65zM182.8,190.3h0.65v0.65h-0.65zM181.8,195.9h0.65v0.65h-0.65zM175.3,192.6h0.65v0.65h-0.65zM192.7,196.5h0.65v0.65h-0.65zM194.2,199.2h0.65v0.65h-0.65zM181.8,194.4h0.65v0.65h-0.65zM192.5,193.6h0.65v0.65h-0.65zM187.0,195.3h0.65v0.65h-0.65zM179.4,195.3h0.65v0.65h-0.65zM181.4,203.1h0.65v0.65h-0.65zM180.4,194.7h0.65v0.65h-0.65zM172.3,194.7h0.65v0.65h-0.65zM173.3,193.6h0.65v0.65h-0.65zM168.9,192.3h0.65v0.65h-0.65zM189.6,197.8h0.65v0.65h-0.65zM175.9,195.1h0.65v0.65h-0.65zM191.1,196.0h0.65v0.65h-0.65zM176.5,197.7h0.65v0.65h-0.65zM175.9,195.8h0.65v0.65h-0.65zM184.7,196.8h0.65v0.65h-0.65zM179.3,203.9h0.65v0.65h-0.65zM192.5,199.4h0.65v0.65h-0.65zM191.3,198.0h0.65v0.65h-0.65zM185.1,194.4h0.65v0.65h-0.65zM181.1,198.8h0.65v0.65h-0.65zM182.1,192.6h0.65v0.65h-0.65zM180.2,195.0h0.65v0.65h-0.65zM172.7,192.2h0.65v0.65h-0.65zM186.3,187.9h0.65v0.65h-0.65zM184.0,201.5h0.65v0.65h-0.65zM180.3,199.3h0.65v0.65h-0.65zM185.0,194.8h0.65v0.65h-0.65zM175.5,194.7h0.65v0.65h-0.65zM184.8,196.7h0.65v0.65h-0.65zM183.1,201.3h0.65v0.65h-0.65zM186.8,196.1h0.65v0.65h-0.65zM186.8,193.8h0.65v0.65h-0.65zM172.4,194.5h0.65v0.65h-0.65zM188.2,198.3h0.65v0.65h-0.65zM185.5,198.7h0.65v0.65h-0.65zM181.2,202.5h0.65v0.65h-0.65zM181.6,196.1h0.65v0.65h-0.65zM185.9,192.8h0.65v0.65h-0.65zM190.0,202.4h0.65v0.65h-0.65zM185.5,194.6h0.65v0.65h-0.65zM192.8,194.5h0.65v0.65h-0.65zM183.9,197.2h0.65v0.65h-0.65zM190.5,191.8h0.65v0.65h-0.65zM191.2,200.7h0.65v0.65h-0.65zM185.0,191.7h0.65v0.65h-0.65zM191.4,187.6h0.65v0.65h-0.65zM179.2,203.3h0.65v0.65h-0.65zM187.9,195.5h0.65v0.65h-0.65zM180.7,191.8h0.65v0.65h-0.65zM187.9,193.1h0.65v0.65h-0.65zM183.3,199.8h0.65v0.65h-0.65zM181.2,196.5h0.65v0.65h-0.65zM190.9,190.9h0.65v0.65h-0.65zM184.3,202.8h0.65v0.65h-0.65zM182.7,195.3h0.65v0.65h-0.65zM185.5,190.7h0.65v0.65h-0.65zM183.1,198.6h0.65v0.65h-0.65zM182.1,203.3h0.65v0.65h-0.65zM174.5,198.4h0.65v0.65h-0.65zM185.2,198.5h0.65v0.65h-0.65zM177.6,203.3h0.65v0.65h-0.65zM185.0,198.2h0.65v0.65h-0.65zM183.9,195.4h0.65v0.65h-0.65zM182.8,195.6h0.65v0.65h-0.65zM184.1,202.5h0.65v0.65h-0.65zM187.7,194.3h0.65v0.65h-0.65zM182.6,197.3h0.65v0.65h-0.65zM181.8,199.4h0.65v0.65h-0.65zM185.9,191.2h0.65v0.65h-0.65zM185.3,192.5h0.65v0.65h-0.65zM183.0,195.1h0.65v0.65h-0.65zM180.6,199.1h0.65v0.65h-0.65zM182.2,203.0h0.65v0.65h-0.65zM184.9,200.2h0.65v0.65h-0.65zM181.8,204.3h0.65v0.65h-0.65zM180.0,193.7h0.65v0.65h-0.65zM175.3,202.8h0.65v0.65h-0.65zM189.2,195.5h0.65v0.65h-0.65zM174.4,194.0h0.65v0.65h-0.65zM183.7,199.9h0.65v0.65h-0.65zM188.8,199.7h0.65v0.65h-0.65zM184.3,194.8h0.65v0.65h-0.65zM169.3,201.7h0.65v0.65h-0.65zM178.8,197.4h0.65v0.65h-0.65zM189.8,190.3h0.65v0.65h-0.65zM182.0,198.4h0.65v0.65h-0.65zM178.3,192.3h0.65v0.65h-0.65zM190.7,194.4h0.65v0.65h-0.65zM181.7,201.2h0.65v0.65h-0.65zM182.6,201.0h0.65v0.65h-0.65zM172.6,198.6h0.65v0.65h-0.65zM193.9,192.2h0.65v0.65h-0.65zM170.5,198.3h0.65v0.65h-0.65zM191.5,203.5h0.65v0.65h-0.65zM177.1,191.1h0.65v0.65h-0.65zM170.1,203.0h0.65v0.65h-0.65zM194.0,198.1h0.65v0.65h-0.65zM186.0,193.7h0.65v0.65h-0.65zM185.6,194.7h0.65v0.65h-0.65zM184.0,192.8h0.65v0.65h-0.65zM181.0,198.3h0.65v0.65h-0.65zM186.5,191.2h0.65v0.65h-0.65zM196.2,202.5h0.65v0.65h-0.65zM184.8,200.6h0.65v0.65h-0.65zM178.0,199.5h0.65v0.65h-0.65zM193.7,191.3h0.65v0.65h-0.65zM180.5,194.3h0.65v0.65h-0.65zM185.4,197.9h0.65v0.65h-0.65zM177.0,196.4h0.65v0.65h-0.65zM169.8,200.5h0.65v0.65h-0.65zM179.7,198.8h0.65v0.65h-0.65zM181.1,198.1h0.65v0.65h-0.65zM190.4,195.1h0.65v0.65h-0.65zM178.6,196.0h0.65v0.65h-0.65zM183.9,200.3h0.65v0.65h-0.65zM178.2,197.2h0.65v0.65h-0.65zM190.6,196.4h0.65v0.65h-0.65zM184.4,198.2h0.65v0.65h-0.65zM186.5,199.9h0.65v0.65h-0.65zM186.1,189.3h0.65v0.65h-0.65zM184.7,203.5h0.65v0.65h-0.65zM177.8,198.7h0.65v0.65h-0.65zM182.4,196.8h0.65v0.65h-0.65z" fill="#2a2a2a" fill-opacity="0.55"/>
<path d="M207.9,197.2h0.65v0.65h-0.65zM198.4,186.2h0.65v0.65h-0.65zM209.3,186.2h0.65v0.65h-0.65zM199.7,195.4h0.65v0.65h-0.65zM192.8,189.3h0.65v0.65h-0.65zM200.7,195.0h0.65v0.65h-0.65zM199.0,193.0h0.65v0.65h-0.65zM199.8,182.6h0.65v0.65h-0.65zM199.3,200.6h0.65v0.65h-0.65zM200.8,197.5h0.65v0.65h-0.65zM204.6,205.0h0.65v0.65h-0.65zM192.0,196.2h0.65v0.65h-0.65zM194.7,203.6h0.65v0.65h-0.65zM193.8,186.8h0.65v0.65h-0.65zM194.9,198.7h0.65v0.65h-0.65zM205.8,211.2h0.65v0.65h-0.65zM197.2,184.8h0.65v0.65h-0.65zM198.8,190.2h0.65v0.65h-0.65zM198.4,197.4h0.65v0.65h-0.65zM200.9,191.8h0.65v0.65h-0.65zM190.0,197.8h0.65v0.65h-0.65zM202.2,181.4h0.65v0.65h-0.65zM199.1,197.8h0.65v0.65h-0.65zM199.1,186.9h0.65v0.65h-0.65zM199.5,186.1h0.65v0.65h-0.65zM200.9,183.3h0.65v0.65h-0.65zM206.8,173.3h0.65v0.65h-0.65zM188.7,207.6h0.65v0.65h-0.65zM211.7,193.7h0.65v0.65h-0.65zM207.2,194.5h0.65v0.65h-0.65zM193.2,200.9h0.65v0.65h-0.65zM198.9,197.4h0.65v0.65h-0.65zM201.9,183.8h0.65v0.65h-0.65zM200.6,184.3h0.65v0.65h-0.65zM209.6,195.7h0.65v0.65h-0.65zM201.6,200.9h0.65v0.65h-0.65zM204.7,192.8h0.65v0.65h-0.65zM195.7,182.1h0.65v0.65h-0.65zM196.5,186.8h0.65v0.65h-0.65zM199.5,182.0h0.65v0.65h-0.65zM202.3,201.5h0.65v0.65h-0.65zM193.1,186.0h0.65v0.65h-0.65zM201.9,198.8h0.65v0.65h-0.65zM199.0,195.5h0.65v0.65h-0.65zM195.2,202.4h0.65v0.65h-0.65zM197.4,190.7h0.65v0.65h-0.65zM200.1,189.2h0.65v0.65h-0.65zM200.4,188.7h0.65v0.65h-0.65zM203.8,196.0h0.65v0.65h-0.65zM196.0,192.3h0.65v0.65h-0.65zM210.1,181.3h0.65v0.65h-0.65z" fill="#333" fill-opacity="0.55"/>
<path d="M184.2,206.1h0.65v0.65h-0.65zM178.2,193.0h0.65v0.65h-0.65zM187.6,209.3h0.65v0.65h-0.65zM184.4,196.9h0.65v0.65h-0.65zM182.0,202.3h0.65v0.65h-0.65zM187.6,201.3h0.65v0.65h-0.65zM184.3,196.4h0.65v0.65h-0.65zM185.0,192.8h0.65v0.65h-0.65zM198.2,192.5h0.65v0.65h-0.65zM184.1,201.0h0.65v0.65h-0.65zM189.4,198.6h0.65v0.65h-0.65zM187.3,198.3h0.65v0.65h-0.65zM185.9,203.7h0.65v0.65h-0.65zM178.5,201.0h0.65v0.65h-0.65zM171.3,200.8h0.65v0.65h-0.65zM180.7,193.6h0.65v0.65h-0.65zM192.2,189.2h0.65v0.65h-0.65zM175.5,198.3h0.65v0.65h-0.65zM182.6,200.4h0.65v0.65h-0.65zM188.7,190.4h0.65v0.65h-0.65zM198.5,198.7h0.65v0.65h-0.65zM184.4,196.2h0.65v0.65h-0.65zM180.5,194.8h0.65v0.65h-0.65zM170.1,200.6h0.65v0.65h-0.65zM180.5,203.9h0.65v0.65h-0.65zM180.1,195.7h0.65v0.65h-0.65zM177.0,196.0h0.65v0.65h-0.65zM187.6,195.4h0.65v0.65h-0.65zM182.4,196.4h0.65v0.65h-0.65zM183.8,200.0h0.65v0.65h-0.65zM190.2,200.2h0.65v0.65h-0.65zM191.9,202.8h0.65v0.65h-0.65zM192.7,198.1h0.65v0.65h-0.65zM184.9,194.7h0.65v0.65h-0.65zM188.9,204.4h0.65v0.65h-0.65zM168.8,205.8h0.65v0.65h-0.65zM181.5,203.0h0.65v0.65h-0.65zM188.9,193.9h0.65v0.65h-0.65zM196.5,189.8h0.65v0.65h-0.65zM188.3,202.1h0.65v0.65h-0.65zM186.2,195.4h0.65v0.65h-0.65zM187.5,188.1h0.65v0.65h-0.65zM180.8,191.1h0.65v0.65h-0.65zM200.1,198.9h0.65v0.65h-0.65zM194.9,198.6h0.65v0.65h-0.65zM180.8,193.8h0.65v0.65h-0.65zM178.8,194.2h0.65v0.65h-0.65zM182.8,196.1h0.65v0.65h-0.65zM188.7,193.1h0.65v0.65h-0.65zM183.9,191.4h0.65v0.65h-0.65zM184.1,192.9h0.65v0.65h-0.65zM181.8,197.8h0.65v0.65h-0.65zM180.7,198.7h0.65v0.65h-0.65zM187.6,189.4h0.65v0.65h-0.65zM169.4,209.9h0.65v0.65h-0.65zM197.9,187.1h0.65v0.65h-0.65zM194.1,197.4h0.65v0.65h-0.65zM179.5,191.6h0.65v0.65h-0.65zM199.1,192.4h0.65v0.65h-0.65zM175.9,203.3h0.65v0.65h-0.65zM184.1,193.1h0.65v0.65h-0.65zM199.3,193.4h0.65v0.65h-0.65zM183.7,199.0h0.65v0.65h-0.65zM202.5,203.3h0.65v0.65h-0.65zM181.8,194.4h0.65v0.65h-0.65zM195.4,202.0h0.65v0.65h-0.65zM176.7,194.0h0.65v0.65h-0.65zM189.6,199.2h0.65v0.65h-0.65zM183.9,197.2h0.65v0.65h-0.65zM181.7,199.1h0.65v0.65h-0.65zM186.6,196.2h0.65v0.65h-0.65zM194.8,189.9h0.65v0.65h-0.65zM182.6,196.2h0.65v0.65h-0.65zM178.6,193.4h0.65v0.65h-0.65zM179.7,199.2h0.65v0.65h-0.65zM171.0,201.8h0.65v0.65h-0.65zM195.7,200.8h0.65v0.65h-0.65zM179.5,201.2h0.65v0.65h-0.65zM186.0,202.5h0.65v0.65h-0.65zM176.1,194.7h0.65v0.65h-0.65zM188.2,191.4h0.65v0.65h-0.65zM162.7,204.6h0.65v0.65h-0.65zM184.0,198.2h0.65v0.65h-0.65zM182.1,202.2h0.65v0.65h-0.65zM189.8,198.9h0.65v0.65h-0.65zM199.2,193.8h0.65v0.65h-0.65zM169.9,204.1h0.65v0.65h-0.65zM176.9,191.7h0.65v0.65h-0.65zM182.1,193.4h0.65v0.65h-0.65zM181.5,194.6h0.65v0.65h-0.65zM174.0,198.8h0.65v0.65h-0.65zM182.9,194.4h0.65v0.65h-0.65zM179.3,207.7h0.65v0.65h-0.65zM184.7,182.7h0.65v0.65h-0.65zM187.7,198.3h0.65v0.65h-0.65zM193.8,198.8h0.65v0.65h-0.65zM180.4,190.8h0.65v0.65h-0.65zM182.6,191.3h0.65v0.65h-0.65zM167.6,199.1h0.65v0.65h-0.65zM175.3,194.3h0.65v0.65h-0.65zM175.5,197.3h0.65v0.65h-0.65zM181.3,191.2h0.65v0.65h-0.65zM189.8,199.1h0.65v0.65h-0.65zM178.0,202.5h0.65v0.65h-0.65zM176.8,198.2h0.65v0.65h-0.65zM179.1,202.9h0.65v0.65h-0.65zM174.6,211.7h0.65v0.65h-0.65zM184.6,197.5h0.65v0.65h-0.65zM180.3,193.3h0.65v0.65h-0.65zM175.6,203.0h0.65v0.65h-0.65zM181.1,201.5h0.65v0.65h-0.65zM197.5,192.9h0.65v0.65h-0.65zM188.0,194.0h0.65v0.65h-0.65zM177.9,200.8h0.65v0.65h-0.65zM198.2,195.7h0.65v0.65h-0.65zM184.8,193.4h0.65v0.65h-0.65zM186.0,204.9h0.65v0.65h-0.65zM183.5,191.5h0.65v0.65h-0.65zM180.5,201.3h0.65v0.65h-0.65zM183.8,186.9h0.65v0.65h-0.65z" fill="#666" fill-opacity="0.45"/>
<ellipse cx="183.40" cy="197.50" rx="8.60" ry="6.00" fill="#cdcdcd" fill-opacity="0.8" stroke="#999" stroke-width="0.7" transform="rotate(-22 183.40 197.50)"/>
<ellipse cx="183.40" cy="197.50" rx="6.02" ry="4.32" fill="#d8d8d8" stroke="#999" stroke-width="0.55" transform="rotate(-22 183.40 197.50)"/>
<ellipse cx="183.40" cy="197.50" rx="3.61" ry="2.88" fill="#e6e6e6" stroke="#999" stroke-width="0.5" transform="rotate(-22 183.40 197.50)"/>
<ellipse cx="183.40" cy="197.50" rx="1.38" ry="1.80" fill="#fff" transform="rotate(-22 183.40 197.50)"/>
<path d="M183.8,200.4h0.65v0.65h-0.65zM168.6,197.3h0.65v0.65h-0.65zM180.7,198.6h0.65v0.65h-0.65zM183.3,202.1h0.65v0.65h-0.65zM181.9,200.4h0.65v0.65h-0.65zM185.1,197.9h0.65v0.65h-0.65zM170.4,202.3h0.65v0.65h-0.65zM189.2,199.9h0.65v0.65h-0.65zM188.2,203.4h0.65v0.65h-0.65zM178.4,202.3h0.65v0.65h-0.65zM190.3,199.6h0.65v0.65h-0.65zM185.0,202.7h0.65v0.65h-0.65zM178.1,204.2h0.65v0.65h-0.65zM179.4,203.8h0.65v0.65h-0.65zM183.5,199.9h0.65v0.65h-0.65zM181.2,199.2h0.65v0.65h-0.65zM195.1,199.3h0.65v0.65h-0.65zM178.5,204.5h0.65v0.65h-0.65zM186.5,203.1h0.65v0.65h-0.65zM176.4,198.9h0.65v0.65h-0.65zM181.3,202.0h0.65v0.65h-0.65zM187.2,203.7h0.65v0.65h-0.65zM184.4,203.3h0.65v0.65h-0.65zM173.2,197.7h0.65v0.65h-0.65zM177.8,201.2h0.65v0.65h-0.65zM178.2,200.3h0.65v0.65h-0.65zM182.8,199.9h0.65v0.65h-0.65zM181.6,204.1h0.65v0.65h-0.65zM184.9,200.6h0.65v0.65h-0.65zM183.2,202.7h0.65v0.65h-0.65zM183.2,203.6h0.65v0.65h-0.65zM174.6,204.0h0.65v0.65h-0.65zM176.9,203.0h0.65v0.65h-0.65zM174.4,204.1h0.65v0.65h-0.65zM186.9,199.9h0.65v0.65h-0.65zM185.9,200.5h0.65v0.65h-0.65zM188.9,201.0h0.65v0.65h-0.65zM179.8,199.1h0.65v0.65h-0.65zM181.7,202.8h0.65v0.65h-0.65zM186.1,199.8h0.65v0.65h-0.65zM180.1,198.7h0.65v0.65h-0.65zM178.3,201.1h0.65v0.65h-0.65zM184.3,203.5h0.65v0.65h-0.65zM179.2,198.5h0.65v0.65h-0.65zM190.9,201.5h0.65v0.65h-0.65zM180.2,201.8h0.65v0.65h-0.65zM181.9,203.2h0.65v0.65h-0.65zM185.2,198.5h0.65v0.65h-0.65zM180.1,203.1h0.65v0.65h-0.65zM180.9,203.4h0.65v0.65h-0.65zM176.5,205.1h0.65v0.65h-0.65zM184.2,197.6h0.65v0.65h-0.65zM188.2,198.9h0.65v0.65h-0.65zM183.4,201.9h0.65v0.65h-0.65zM184.3,203.1h0.65v0.65h-0.65zM171.8,200.6h0.65v0.65h-0.65zM177.0,200.0h0.65v0.65h-0.65zM182.9,208.6h0.65v0.65h-0.65zM182.2,199.1h0.65v0.65h-0.65zM197.3,203.5h0.65v0.65h-0.65z" fill="#666" fill-opacity="0.45"/>
<ellipse cx="182.10" cy="201.40" rx="6.60" ry="3.00" fill="#cdcdcd" fill-opacity="0.8" stroke="#555" stroke-width="0.7" transform="rotate(0 182.10 201.40)"/>
<ellipse cx="182.10" cy="201.40" rx="4.62" ry="2.16" fill="#d8d8d8" stroke="#555" stroke-width="0.55" transform="rotate(0 182.10 201.40)"/>
<ellipse cx="182.10" cy="201.40" rx="2.77" ry="1.44" fill="#e6e6e6" stroke="#555" stroke-width="0.5" transform="rotate(0 182.10 201.40)"/>
<ellipse cx="182.10" cy="201.40" rx="1.06" ry="0.90" fill="#fff" transform="rotate(0 182.10 201.40)"/>
<path d="M200.8,209.5h0.65v0.65h-0.65zM205.5,201.3h0.65v0.65h-0.65zM195.8,207.0h0.65v0.65h-0.65zM200.6,196.7h0.65v0.65h-0.65zM203.4,207.6h0.65v0.65h-0.65zM206.9,191.4h0.65v0.65h-0.65zM199.7,186.7h0.65v0.65h-0.65zM200.9,196.6h0.65v0.65h-0.65zM202.3,192.8h0.65v0.65h-0.65zM198.2,187.9h0.65v0.65h-0.65zM202.8,201.4h0.65v0.65h-0.65zM203.9,190.3h0.65v0.65h-0.65zM204.0,203.3h0.65v0.65h-0.65zM198.4,184.5h0.65v0.65h-0.65zM204.7,208.6h0.65v0.65h-0.65zM203.0,196.4h0.65v0.65h-0.65zM201.4,203.2h0.65v0.65h-0.65zM196.0,194.6h0.65v0.65h-0.65zM199.9,175.2h0.65v0.65h-0.65zM199.9,193.5h0.65v0.65h-0.65zM201.5,191.6h0.65v0.65h-0.65zM200.2,197.3h0.65v0.65h-0.65zM195.4,184.1h0.65v0.65h-0.65zM203.5,198.1h0.65v0.65h-0.65zM204.8,182.5h0.65v0.65h-0.65zM205.9,201.2h0.65v0.65h-0.65zM202.2,184.6h0.65v0.65h-0.65zM204.5,203.3h0.65v0.65h-0.65zM200.2,197.1h0.65v0.65h-0.65zM203.2,200.4h0.65v0.65h-0.65zM203.9,199.0h0.65v0.65h-0.65zM196.2,189.6h0.65v0.65h-0.65zM195.1,201.7h0.65v0.65h-0.65zM204.2,197.0h0.65v0.65h-0.65zM208.5,186.1h0.65v0.65h-0.65zM207.2,186.1h0.65v0.65h-0.65zM194.1,189.7h0.65v0.65h-0.65zM199.3,191.1h0.65v0.65h-0.65zM201.0,196.8h0.65v0.65h-0.65zM203.6,187.7h0.65v0.65h-0.65zM196.9,198.8h0.65v0.65h-0.65zM206.2,200.9h0.65v0.65h-0.65zM203.2,178.5h0.65v0.65h-0.65zM203.7,188.0h0.65v0.65h-0.65zM205.3,204.4h0.65v0.65h-0.65zM199.7,185.3h0.65v0.65h-0.65zM199.8,197.1h0.65v0.65h-0.65zM203.3,184.8h0.65v0.65h-0.65zM202.5,185.8h0.65v0.65h-0.65zM199.0,202.2h0.65v0.65h-0.65zM200.9,175.4h0.65v0.65h-0.65zM197.3,203.4h0.65v0.65h-0.65zM194.4,202.6h0.65v0.65h-0.65zM201.4,182.2h0.65v0.65h-0.65zM199.0,198.2h0.65v0.65h-0.65zM206.6,182.9h0.65v0.65h-0.65zM200.5,196.4h0.65v0.65h-0.65zM204.7,213.6h0.65v0.65h-0.65zM208.3,196.8h0.65v0.65h-0.65zM196.0,191.0h0.65v0.65h-0.65zM197.0,190.9h0.65v0.65h-0.65zM199.4,191.7h0.65v0.65h-0.65zM202.8,191.1h0.65v0.65h-0.65zM205.0,202.7h0.65v0.65h-0.65zM196.4,181.1h0.65v0.65h-0.65zM197.8,174.6h0.65v0.65h-0.65zM201.7,193.4h0.65v0.65h-0.65zM201.7,207.7h0.65v0.65h-0.65zM204.0,201.6h0.65v0.65h-0.65zM201.4,188.1h0.65v0.65h-0.65zM192.5,189.9h0.65v0.65h-0.65zM201.0,184.4h0.65v0.65h-0.65zM197.8,193.9h0.65v0.65h-0.65zM208.0,189.4h0.65v0.65h-0.65zM199.6,186.4h0.65v0.65h-0.65zM200.6,183.2h0.65v0.65h-0.65zM202.3,185.3h0.65v0.65h-0.65zM205.7,184.3h0.65v0.65h-0.65zM196.1,196.3h0.65v0.65h-0.65zM202.8,183.2h0.65v0.65h-0.65zM201.6,192.7h0.65v0.65h-0.65zM206.3,184.9h0.65v0.65h-0.65zM193.2,194.1h0.65v0.65h-0.65zM203.3,199.2h0.65v0.65h-0.65zM199.4,177.6h0.65v0.65h-0.65zM192.0,212.5h0.65v0.65h-0.65zM200.4,190.9h0.65v0.65h-0.65zM202.3,195.4h0.65v0.65h-0.65zM197.8,189.8h0.65v0.65h-0.65zM200.8,202.2h0.65v0.65h-0.65zM209.0,201.8h0.65v0.65h-0.65zM203.8,183.8h0.65v0.65h-0.65zM197.8,195.5h0.65v0.65h-0.65zM198.1,188.3h0.65v0.65h-0.65zM211.2,189.7h0.65v0.65h-0.65zM200.0,177.3h0.65v0.65h-0.65zM203.0,195.0h0.65v0.65h-0.65zM199.9,196.6h0.65v0.65h-0.65zM190.6,204.6h0.65v0.65h-0.65zM206.3,174.5h0.65v0.65h-0.65zM201.6,198.9h0.65v0.65h-0.65zM204.3,194.0h0.65v0.65h-0.65zM205.8,196.6h0.65v0.65h-0.65zM199.2,205.1h0.65v0.65h-0.65zM196.0,188.7h0.65v0.65h-0.65zM199.1,206.2h0.65v0.65h-0.65zM198.7,180.5h0.65v0.65h-0.65zM196.6,194.7h0.65v0.65h-0.65zM200.8,195.4h0.65v0.65h-0.65zM195.6,195.5h0.65v0.65h-0.65zM204.3,208.5h0.65v0.65h-0.65zM206.9,181.5h0.65v0.65h-0.65zM203.0,184.0h0.65v0.65h-0.65zM202.6,199.0h0.65v0.65h-0.65zM200.2,168.5h0.65v0.65h-0.65zM201.4,193.6h0.65v0.65h-0.65zM198.8,199.3h0.65v0.65h-0.65zM199.5,190.6h0.65v0.65h-0.65zM203.2,186.6h0.65v0.65h-0.65zM204.2,188.9h0.65v0.65h-0.65z" fill="#666" fill-opacity="0.45"/>
<ellipse cx="201.10" cy="193.00" rx="4.80" ry="10.00" fill="#cdcdcd" fill-opacity="0.8" stroke="#9a9a9a" stroke-width="0.7" transform="rotate(0 201.10 193.00)"/>
<ellipse cx="201.10" cy="193.00" rx="3.36" ry="7.20" fill="#d8d8d8" stroke="#9a9a9a" stroke-width="0.55" transform="rotate(0 201.10 193.00)"/>
<ellipse cx="201.10" cy="193.00" rx="2.02" ry="4.80" fill="#e6e6e6" stroke="#9a9a9a" stroke-width="0.5" transform="rotate(0 201.10 193.00)"/>
<ellipse cx="201.10" cy="193.00" rx="0.77" ry="3.00" fill="#fff" transform="rotate(0 201.10 193.00)"/>
</g>
<rect x="173.90" y="162.80" width="45.80" height="45.40" fill="none" stroke="#111" stroke-width="1.1"/>
<rect x="191.40" y="175.20" width="23.20" height="31.20" fill="none" stroke="#111" stroke-width="0.75"/>
<text x="203.00" y="173.50" font-size="6.4" text-anchor="middle" fill="#1a1a1a" stroke="#1a1a1a" stroke-width="0.1">15.4</text>
<line x1="209.40" y1="206.40" x2="209.40" y2="216.60" stroke="#111" stroke-width="0.75"/>
<path d="M209.40,218.60 L208.32,216.20 L210.48,216.20 Z" fill="#111"/>
<rect x="182.20" y="222.70" width="20.60" height="25.30" fill="#d2ead3" stroke="#44b04c" stroke-width="0.9"/>
<rect x="184.10" y="253.60" width="28.30" height="11.80" fill="#f7c6b6" stroke="#d2263c" stroke-width="0.9"/>
<clipPath id="cb3"><rect x="173.90" y="219.8" width="45.8" height="46.5"/></clipPath>
<g clip-path="url(#cb3)">
<path d="M191.1,239.5h0.55v0.55h-0.55zM197.1,234.3h0.55v0.55h-0.55zM192.6,234.1h0.55v0.55h-0.55zM185.6,233.4h0.55v0.55h-0.55zM201.2,234.6h0.55v0.55h-0.55zM195.0,239.5h0.55v0.55h-0.55zM196.8,235.9h0.55v0.55h-0.55zM194.8,234.8h0.55v0.55h-0.55zM201.4,238.3h0.55v0.55h-0.55zM191.5,243.7h0.55v0.55h-0.55zM188.5,242.1h0.55v0.55h-0.55zM200.8,230.1h0.55v0.55h-0.55zM194.1,232.8h0.55v0.55h-0.55zM192.2,235.0h0.55v0.55h-0.55z" fill="#557" fill-opacity="0.5"/>
<path d="M195.9,261.1h0.55v0.55h-0.55zM204.8,260.7h0.55v0.55h-0.55zM202.1,258.9h0.55v0.55h-0.55zM203.3,257.4h0.55v0.55h-0.55zM212.9,261.2h0.55v0.55h-0.55zM210.9,260.3h0.55v0.55h-0.55zM203.5,260.0h0.55v0.55h-0.55zM218.2,261.7h0.55v0.55h-0.55zM206.4,257.9h0.55v0.55h-0.55zM208.1,255.8h0.55v0.55h-0.55zM209.7,258.6h0.55v0.55h-0.55zM204.1,261.1h0.55v0.55h-0.55zM211.8,259.1h0.55v0.55h-0.55zM200.9,257.0h0.55v0.55h-0.55zM200.3,260.4h0.55v0.55h-0.55zM206.6,258.6h0.55v0.55h-0.55zM205.5,259.2h0.55v0.55h-0.55zM199.4,259.0h0.55v0.55h-0.55zM210.8,261.9h0.55v0.55h-0.55zM202.3,259.7h0.55v0.55h-0.55zM200.0,260.4h0.55v0.55h-0.55zM204.6,259.4h0.55v0.55h-0.55zM210.6,260.6h0.55v0.55h-0.55zM207.1,260.2h0.55v0.55h-0.55zM207.9,256.8h0.55v0.55h-0.55zM206.9,258.8h0.55v0.55h-0.55zM212.1,259.5h0.55v0.55h-0.55zM201.6,258.6h0.55v0.55h-0.55zM209.5,259.6h0.55v0.55h-0.55zM205.4,261.3h0.55v0.55h-0.55zM207.8,259.3h0.55v0.55h-0.55zM210.8,260.4h0.55v0.55h-0.55zM207.3,260.0h0.55v0.55h-0.55zM193.2,260.9h0.55v0.55h-0.55zM203.2,260.5h0.55v0.55h-0.55zM202.4,259.5h0.55v0.55h-0.55zM199.4,260.7h0.55v0.55h-0.55zM201.4,261.6h0.55v0.55h-0.55zM205.7,260.0h0.55v0.55h-0.55zM201.6,258.3h0.55v0.55h-0.55zM206.7,259.1h0.55v0.55h-0.55zM204.7,257.3h0.55v0.55h-0.55zM203.3,259.9h0.55v0.55h-0.55zM199.3,257.9h0.55v0.55h-0.55zM200.1,259.7h0.55v0.55h-0.55zM202.6,257.6h0.55v0.55h-0.55zM202.4,259.8h0.55v0.55h-0.55zM199.6,259.8h0.55v0.55h-0.55zM216.1,256.6h0.55v0.55h-0.55zM201.3,259.0h0.55v0.55h-0.55zM205.9,261.3h0.55v0.55h-0.55zM204.7,258.3h0.55v0.55h-0.55zM198.9,254.5h0.55v0.55h-0.55zM197.0,261.5h0.55v0.55h-0.55zM199.1,260.2h0.55v0.55h-0.55zM206.8,258.7h0.55v0.55h-0.55zM197.9,262.7h0.55v0.55h-0.55zM208.3,259.9h0.55v0.55h-0.55zM197.8,259.7h0.55v0.55h-0.55zM198.1,257.0h0.55v0.55h-0.55z" fill="#222" fill-opacity="0.45"/>
<path d="M197.70,259.4 C200.58,256.4 209.94,256.0 212.10,258.6 C212.24,262.2 202.74,262.4 197.70,259.4 Z" fill="#5a3a36" fill-opacity="0.8" stroke="#1a1a1a" stroke-width="0.7"/>
<ellipse cx="206.70" cy="259.2" rx="3.60" ry="0.9" fill="#e8d0cc" stroke="#333" stroke-width="0.4"/>
</g>
<rect x="173.90" y="219.80" width="45.80" height="46.50" fill="none" stroke="#111" stroke-width="1.1"/>
<text x="217.10" y="227.20" font-size="6.4" text-anchor="end" fill="#1a1a1a" stroke="#1a1a1a" stroke-width="0.1">1.8</text>
<text x="217.10" y="252.20" font-size="6.4" text-anchor="end" fill="#1a1a1a" stroke="#1a1a1a" stroke-width="0.1">98</text>
<text x="250.10" y="158.80" font-size="8.6" font-weight="bold" text-anchor="middle">Dec+Ven</text>
<clipPath id="ct4"><rect x="227.20" y="162.8" width="45.8" height="45.4"/></clipPath>
<g clip-path="url(#ct4)">
<ellipse cx="235.90" cy="195.80" rx="7.60" ry="7.5" fill="#7a7a7a" fill-opacity="0.51" filter="url(#bl2)"/>
<ellipse cx="252.00" cy="192.00" rx="5.75" ry="10.98" fill="#777" fill-opacity="0.61" filter="url(#bl1)" transform="rotate(10 252.00 192.00)"/>
<path d="M235.1,195.8h0.65v0.65h-0.65zM236.4,196.5h0.65v0.65h-0.65zM234.2,196.4h0.65v0.65h-0.65zM228.4,195.0h0.65v0.65h-0.65zM238.0,204.5h0.65v0.65h-0.65zM224.6,201.9h0.65v0.65h-0.65zM230.9,200.9h0.65v0.65h-0.65zM231.5,195.1h0.65v0.65h-0.65zM235.3,195.6h0.65v0.65h-0.65zM235.2,200.0h0.65v0.65h-0.65zM239.4,192.4h0.65v0.65h-0.65zM239.2,196.9h0.65v0.65h-0.65zM228.4,190.8h0.65v0.65h-0.65zM241.8,201.0h0.65v0.65h-0.65zM230.6,199.5h0.65v0.65h-0.65zM230.6,198.3h0.65v0.65h-0.65zM246.1,195.4h0.65v0.65h-0.65zM242.1,192.4h0.65v0.65h-0.65zM234.4,193.6h0.65v0.65h-0.65zM244.2,197.9h0.65v0.65h-0.65zM232.0,190.4h0.65v0.65h-0.65zM233.7,199.3h0.65v0.65h-0.65zM240.5,193.4h0.65v0.65h-0.65zM239.6,196.5h0.65v0.65h-0.65zM234.1,197.4h0.65v0.65h-0.65zM245.6,194.7h0.65v0.65h-0.65zM235.4,195.6h0.65v0.65h-0.65zM233.1,197.1h0.65v0.65h-0.65zM233.9,187.9h0.65v0.65h-0.65zM237.3,188.3h0.65v0.65h-0.65zM235.8,196.5h0.65v0.65h-0.65zM243.0,200.8h0.65v0.65h-0.65zM238.0,191.2h0.65v0.65h-0.65zM236.1,204.8h0.65v0.65h-0.65zM238.3,198.7h0.65v0.65h-0.65zM249.1,196.2h0.65v0.65h-0.65zM228.0,199.9h0.65v0.65h-0.65zM237.2,190.4h0.65v0.65h-0.65zM243.6,195.4h0.65v0.65h-0.65zM246.4,190.9h0.65v0.65h-0.65zM242.3,199.7h0.65v0.65h-0.65zM235.8,199.9h0.65v0.65h-0.65zM227.3,207.3h0.65v0.65h-0.65zM240.0,197.8h0.65v0.65h-0.65zM246.9,207.2h0.65v0.65h-0.65zM227.6,196.2h0.65v0.65h-0.65zM226.9,195.0h0.65v0.65h-0.65zM232.6,200.0h0.65v0.65h-0.65zM234.9,189.0h0.65v0.65h-0.65zM238.4,193.5h0.65v0.65h-0.65zM239.8,190.0h0.65v0.65h-0.65zM230.7,194.0h0.65v0.65h-0.65zM233.4,195.3h0.65v0.65h-0.65zM238.7,198.2h0.65v0.65h-0.65zM236.3,197.0h0.65v0.65h-0.65zM233.6,188.9h0.65v0.65h-0.65zM232.7,194.0h0.65v0.65h-0.65zM233.6,187.7h0.65v0.65h-0.65zM232.6,193.8h0.65v0.65h-0.65zM230.7,194.2h0.65v0.65h-0.65zM234.9,198.5h0.65v0.65h-0.65zM239.8,191.2h0.65v0.65h-0.65zM237.9,194.9h0.65v0.65h-0.65zM234.7,201.3h0.65v0.65h-0.65zM239.1,197.4h0.65v0.65h-0.65zM229.8,194.7h0.65v0.65h-0.65zM240.6,192.8h0.65v0.65h-0.65zM231.0,191.5h0.65v0.65h-0.65zM236.2,191.8h0.65v0.65h-0.65zM248.9,196.0h0.65v0.65h-0.65zM235.9,193.7h0.65v0.65h-0.65zM237.8,198.1h0.65v0.65h-0.65zM233.8,194.0h0.65v0.65h-0.65zM240.8,196.7h0.65v0.65h-0.65zM239.0,196.1h0.65v0.65h-0.65zM232.8,198.1h0.65v0.65h-0.65zM239.0,196.1h0.65v0.65h-0.65zM235.4,200.0h0.65v0.65h-0.65zM231.2,198.2h0.65v0.65h-0.65zM234.8,196.8h0.65v0.65h-0.65zM239.4,189.7h0.65v0.65h-0.65zM234.8,196.0h0.65v0.65h-0.65zM236.3,205.6h0.65v0.65h-0.65zM232.0,196.8h0.65v0.65h-0.65zM239.6,187.4h0.65v0.65h-0.65zM239.3,199.7h0.65v0.65h-0.65zM232.9,195.2h0.65v0.65h-0.65zM232.3,201.7h0.65v0.65h-0.65zM232.0,190.4h0.65v0.65h-0.65zM231.7,193.0h0.65v0.65h-0.65zM236.0,196.3h0.65v0.65h-0.65zM240.3,188.3h0.65v0.65h-0.65zM236.8,195.0h0.65v0.65h-0.65zM235.6,193.3h0.65v0.65h-0.65zM233.3,198.5h0.65v0.65h-0.65zM240.9,189.6h0.65v0.65h-0.65zM237.6,192.2h0.65v0.65h-0.65zM238.7,194.6h0.65v0.65h-0.65zM228.7,193.0h0.65v0.65h-0.65zM235.7,200.4h0.65v0.65h-0.65zM242.2,200.7h0.65v0.65h-0.65zM236.3,198.2h0.65v0.65h-0.65zM234.0,202.3h0.65v0.65h-0.65zM231.3,191.8h0.65v0.65h-0.65zM240.1,190.0h0.65v0.65h-0.65zM236.7,201.4h0.65v0.65h-0.65zM237.0,198.9h0.65v0.65h-0.65zM236.4,197.4h0.65v0.65h-0.65zM229.2,203.6h0.65v0.65h-0.65zM234.0,194.4h0.65v0.65h-0.65zM236.5,201.9h0.65v0.65h-0.65zM234.1,195.8h0.65v0.65h-0.65zM240.4,199.2h0.65v0.65h-0.65zM233.6,194.9h0.65v0.65h-0.65zM235.7,192.7h0.65v0.65h-0.65zM230.1,193.1h0.65v0.65h-0.65zM228.9,205.2h0.65v0.65h-0.65zM231.1,198.9h0.65v0.65h-0.65zM226.2,193.8h0.65v0.65h-0.65zM243.5,195.4h0.65v0.65h-0.65zM227.7,194.3h0.65v0.65h-0.65zM227.2,187.3h0.65v0.65h-0.65zM243.3,194.6h0.65v0.65h-0.65zM236.5,201.7h0.65v0.65h-0.65zM231.9,197.2h0.65v0.65h-0.65zM235.9,192.9h0.65v0.65h-0.65zM233.8,190.9h0.65v0.65h-0.65zM228.4,199.1h0.65v0.65h-0.65zM232.9,182.6h0.65v0.65h-0.65zM243.9,195.9h0.65v0.65h-0.65zM234.6,202.7h0.65v0.65h-0.65zM223.6,196.3h0.65v0.65h-0.65zM230.9,197.4h0.65v0.65h-0.65zM240.6,196.8h0.65v0.65h-0.65zM231.1,195.2h0.65v0.65h-0.65zM239.6,199.2h0.65v0.65h-0.65zM237.9,197.2h0.65v0.65h-0.65zM231.0,197.4h0.65v0.65h-0.65zM229.2,196.0h0.65v0.65h-0.65zM233.2,197.6h0.65v0.65h-0.65zM241.4,196.7h0.65v0.65h-0.65zM239.1,195.3h0.65v0.65h-0.65zM232.6,199.2h0.65v0.65h-0.65zM234.9,190.8h0.65v0.65h-0.65zM235.3,195.6h0.65v0.65h-0.65zM237.4,198.3h0.65v0.65h-0.65zM231.9,199.3h0.65v0.65h-0.65zM225.7,203.7h0.65v0.65h-0.65zM229.3,198.2h0.65v0.65h-0.65zM242.0,194.5h0.65v0.65h-0.65zM227.6,191.3h0.65v0.65h-0.65zM234.5,197.1h0.65v0.65h-0.65zM241.0,194.5h0.65v0.65h-0.65zM233.6,195.2h0.65v0.65h-0.65zM235.1,191.6h0.65v0.65h-0.65zM232.7,193.1h0.65v0.65h-0.65zM239.3,193.9h0.65v0.65h-0.65zM233.5,205.4h0.65v0.65h-0.65zM235.9,199.5h0.65v0.65h-0.65zM221.5,197.0h0.65v0.65h-0.65zM237.7,198.1h0.65v0.65h-0.65zM235.7,194.3h0.65v0.65h-0.65zM227.9,200.0h0.65v0.65h-0.65zM233.2,188.2h0.65v0.65h-0.65zM242.8,202.4h0.65v0.65h-0.65zM229.6,202.5h0.65v0.65h-0.65zM225.1,197.7h0.65v0.65h-0.65zM231.5,196.5h0.65v0.65h-0.65zM238.5,200.3h0.65v0.65h-0.65zM238.0,196.8h0.65v0.65h-0.65zM239.7,191.8h0.65v0.65h-0.65zM237.0,194.0h0.65v0.65h-0.65zM229.8,196.6h0.65v0.65h-0.65zM238.2,198.2h0.65v0.65h-0.65zM242.1,192.6h0.65v0.65h-0.65zM228.5,195.7h0.65v0.65h-0.65zM243.0,187.4h0.65v0.65h-0.65zM233.9,195.2h0.65v0.65h-0.65zM237.2,194.1h0.65v0.65h-0.65zM235.4,198.4h0.65v0.65h-0.65zM228.8,195.5h0.65v0.65h-0.65zM229.9,197.3h0.65v0.65h-0.65zM240.1,201.5h0.65v0.65h-0.65zM231.1,195.1h0.65v0.65h-0.65zM241.0,186.8h0.65v0.65h-0.65zM247.7,189.9h0.65v0.65h-0.65zM239.6,197.9h0.65v0.65h-0.65zM231.6,197.1h0.65v0.65h-0.65zM234.8,186.2h0.65v0.65h-0.65zM238.9,200.1h0.65v0.65h-0.65zM245.2,194.1h0.65v0.65h-0.65zM233.0,196.6h0.65v0.65h-0.65zM229.5,197.5h0.65v0.65h-0.65zM235.9,193.2h0.65v0.65h-0.65zM232.6,208.8h0.65v0.65h-0.65zM241.9,196.5h0.65v0.65h-0.65zM241.9,200.2h0.65v0.65h-0.65zM225.3,200.7h0.65v0.65h-0.65zM236.9,205.1h0.65v0.65h-0.65zM235.4,197.4h0.65v0.65h-0.65zM236.9,196.9h0.65v0.65h-0.65zM225.2,203.7h0.65v0.65h-0.65zM230.5,201.7h0.65v0.65h-0.65zM240.9,197.2h0.65v0.65h-0.65zM233.1,195.5h0.65v0.65h-0.65zM230.6,193.6h0.65v0.65h-0.65zM230.9,203.5h0.65v0.65h-0.65zM234.3,193.9h0.65v0.65h-0.65zM236.5,196.9h0.65v0.65h-0.65zM234.6,202.4h0.65v0.65h-0.65zM247.8,193.7h0.65v0.65h-0.65zM236.9,194.3h0.65v0.65h-0.65zM237.4,188.6h0.65v0.65h-0.65zM219.3,198.5h0.65v0.65h-0.65zM233.2,194.7h0.65v0.65h-0.65zM235.7,198.3h0.65v0.65h-0.65zM230.0,192.0h0.65v0.65h-0.65zM235.6,195.5h0.65v0.65h-0.65zM248.3,196.7h0.65v0.65h-0.65zM234.9,199.5h0.65v0.65h-0.65zM236.8,194.4h0.65v0.65h-0.65zM238.0,186.8h0.65v0.65h-0.65zM229.0,193.7h0.65v0.65h-0.65zM241.9,196.2h0.65v0.65h-0.65zM228.9,190.9h0.65v0.65h-0.65zM232.8,195.8h0.65v0.65h-0.65zM236.4,202.5h0.65v0.65h-0.65zM237.2,197.0h0.65v0.65h-0.65zM235.2,204.0h0.65v0.65h-0.65zM230.8,194.8h0.65v0.65h-0.65zM241.5,194.7h0.65v0.65h-0.65zM235.6,201.8h0.65v0.65h-0.65zM238.1,192.6h0.65v0.65h-0.65zM229.3,198.4h0.65v0.65h-0.65zM242.1,195.5h0.65v0.65h-0.65zM237.9,201.4h0.65v0.65h-0.65zM232.8,200.6h0.65v0.65h-0.65zM235.0,195.1h0.65v0.65h-0.65zM231.0,195.8h0.65v0.65h-0.65zM227.9,191.1h0.65v0.65h-0.65zM228.5,197.3h0.65v0.65h-0.65zM234.3,199.4h0.65v0.65h-0.65zM229.2,195.6h0.65v0.65h-0.65zM236.6,203.6h0.65v0.65h-0.65zM230.6,196.0h0.65v0.65h-0.65zM235.0,204.6h0.65v0.65h-0.65zM244.6,189.9h0.65v0.65h-0.65zM235.2,197.7h0.65v0.65h-0.65zM234.5,195.3h0.65v0.65h-0.65zM239.8,190.7h0.65v0.65h-0.65zM232.5,200.2h0.65v0.65h-0.65zM234.0,193.6h0.65v0.65h-0.65zM229.5,201.9h0.65v0.65h-0.65zM232.5,190.6h0.65v0.65h-0.65zM237.9,197.9h0.65v0.65h-0.65zM235.1,197.1h0.65v0.65h-0.65zM231.1,191.5h0.65v0.65h-0.65zM240.7,193.4h0.65v0.65h-0.65zM240.0,193.5h0.65v0.65h-0.65zM231.3,195.6h0.65v0.65h-0.65zM224.0,198.4h0.65v0.65h-0.65zM234.9,196.0h0.65v0.65h-0.65zM233.2,198.4h0.65v0.65h-0.65zM231.1,192.2h0.65v0.65h-0.65zM224.2,197.6h0.65v0.65h-0.65zM235.4,194.1h0.65v0.65h-0.65zM242.6,197.3h0.65v0.65h-0.65zM229.4,192.3h0.65v0.65h-0.65zM233.9,196.0h0.65v0.65h-0.65zM226.4,198.6h0.65v0.65h-0.65zM234.0,195.2h0.65v0.65h-0.65zM242.7,202.9h0.65v0.65h-0.65zM232.4,195.2h0.65v0.65h-0.65zM232.2,186.1h0.65v0.65h-0.65zM239.8,191.1h0.65v0.65h-0.65zM235.9,194.2h0.65v0.65h-0.65zM226.5,197.9h0.65v0.65h-0.65zM233.7,198.1h0.65v0.65h-0.65zM240.3,190.7h0.65v0.65h-0.65zM237.0,196.1h0.65v0.65h-0.65zM223.9,192.1h0.65v0.65h-0.65zM227.8,189.8h0.65v0.65h-0.65zM240.2,199.6h0.65v0.65h-0.65zM237.0,199.7h0.65v0.65h-0.65zM238.4,200.1h0.65v0.65h-0.65zM242.0,197.9h0.65v0.65h-0.65zM228.8,188.2h0.65v0.65h-0.65zM235.4,194.2h0.65v0.65h-0.65zM239.3,191.9h0.65v0.65h-0.65zM240.4,194.0h0.65v0.65h-0.65zM241.8,199.4h0.65v0.65h-0.65zM241.7,207.5h0.65v0.65h-0.65zM225.0,193.6h0.65v0.65h-0.65zM230.9,196.2h0.65v0.65h-0.65zM231.2,190.0h0.65v0.65h-0.65zM231.4,196.9h0.65v0.65h-0.65zM228.4,199.4h0.65v0.65h-0.65zM235.6,198.6h0.65v0.65h-0.65zM228.1,196.7h0.65v0.65h-0.65zM238.7,197.5h0.65v0.65h-0.65zM239.0,195.4h0.65v0.65h-0.65zM235.8,192.2h0.65v0.65h-0.65zM240.0,198.7h0.65v0.65h-0.65zM241.0,190.3h0.65v0.65h-0.65zM242.5,198.1h0.65v0.65h-0.65zM231.1,192.4h0.65v0.65h-0.65zM232.2,191.3h0.65v0.65h-0.65zM238.3,202.3h0.65v0.65h-0.65zM238.1,198.8h0.65v0.65h-0.65zM239.0,191.3h0.65v0.65h-0.65zM227.5,195.5h0.65v0.65h-0.65zM230.4,196.2h0.65v0.65h-0.65zM234.2,195.7h0.65v0.65h-0.65zM234.4,197.0h0.65v0.65h-0.65zM245.8,195.7h0.65v0.65h-0.65zM233.6,193.8h0.65v0.65h-0.65zM237.6,193.1h0.65v0.65h-0.65zM237.6,189.9h0.65v0.65h-0.65zM228.9,191.5h0.65v0.65h-0.65zM234.2,204.5h0.65v0.65h-0.65zM227.3,194.0h0.65v0.65h-0.65zM237.2,193.1h0.65v0.65h-0.65zM231.3,198.3h0.65v0.65h-0.65zM244.0,200.3h0.65v0.65h-0.65zM233.0,191.2h0.65v0.65h-0.65zM225.6,193.4h0.65v0.65h-0.65zM239.4,197.8h0.65v0.65h-0.65zM232.9,190.9h0.65v0.65h-0.65zM231.4,196.1h0.65v0.65h-0.65zM236.4,202.6h0.65v0.65h-0.65zM229.0,204.9h0.65v0.65h-0.65zM245.7,189.1h0.65v0.65h-0.65zM234.2,201.3h0.65v0.65h-0.65zM238.8,198.6h0.65v0.65h-0.65zM240.3,198.4h0.65v0.65h-0.65zM243.2,194.0h0.65v0.65h-0.65zM232.6,198.7h0.65v0.65h-0.65zM236.7,195.4h0.65v0.65h-0.65zM240.6,188.7h0.65v0.65h-0.65zM246.1,200.6h0.65v0.65h-0.65zM232.3,192.5h0.65v0.65h-0.65zM229.2,198.8h0.65v0.65h-0.65zM225.5,194.5h0.65v0.65h-0.65zM238.6,193.6h0.65v0.65h-0.65zM243.7,196.4h0.65v0.65h-0.65zM230.9,190.7h0.65v0.65h-0.65zM236.9,196.8h0.65v0.65h-0.65zM238.9,193.5h0.65v0.65h-0.65zM222.3,198.1h0.65v0.65h-0.65zM237.5,202.0h0.65v0.65h-0.65zM241.0,198.2h0.65v0.65h-0.65zM235.0,193.4h0.65v0.65h-0.65zM236.0,184.2h0.65v0.65h-0.65zM239.2,188.9h0.65v0.65h-0.65zM242.5,193.7h0.65v0.65h-0.65zM226.5,193.5h0.65v0.65h-0.65zM237.6,190.1h0.65v0.65h-0.65zM233.7,193.5h0.65v0.65h-0.65zM232.9,199.4h0.65v0.65h-0.65zM240.6,189.9h0.65v0.65h-0.65zM231.3,209.9h0.65v0.65h-0.65zM236.8,196.6h0.65v0.65h-0.65zM234.3,197.6h0.65v0.65h-0.65zM239.6,194.7h0.65v0.65h-0.65zM227.9,201.7h0.65v0.65h-0.65zM228.5,194.7h0.65v0.65h-0.65zM230.2,197.8h0.65v0.65h-0.65zM239.0,195.0h0.65v0.65h-0.65zM229.7,195.2h0.65v0.65h-0.65zM236.9,198.0h0.65v0.65h-0.65zM226.5,195.7h0.65v0.65h-0.65zM233.7,196.6h0.65v0.65h-0.65zM237.6,195.0h0.65v0.65h-0.65zM236.3,195.1h0.65v0.65h-0.65zM233.6,194.0h0.65v0.65h-0.65zM234.9,200.7h0.65v0.65h-0.65zM235.4,191.2h0.65v0.65h-0.65zM230.9,198.2h0.65v0.65h-0.65zM231.3,195.5h0.65v0.65h-0.65zM238.2,195.2h0.65v0.65h-0.65zM239.3,200.2h0.65v0.65h-0.65zM230.6,201.8h0.65v0.65h-0.65zM242.3,197.7h0.65v0.65h-0.65zM227.9,203.8h0.65v0.65h-0.65zM233.6,200.6h0.65v0.65h-0.65zM232.7,201.1h0.65v0.65h-0.65zM233.8,202.6h0.65v0.65h-0.65zM228.7,199.7h0.65v0.65h-0.65zM233.8,200.8h0.65v0.65h-0.65zM227.9,193.5h0.65v0.65h-0.65zM232.2,192.1h0.65v0.65h-0.65zM237.2,197.1h0.65v0.65h-0.65zM237.1,198.3h0.65v0.65h-0.65zM238.1,202.1h0.65v0.65h-0.65zM229.4,204.3h0.65v0.65h-0.65zM235.6,199.4h0.65v0.65h-0.65zM236.3,198.3h0.65v0.65h-0.65zM232.5,190.6h0.65v0.65h-0.65zM235.1,204.2h0.65v0.65h-0.65zM232.9,191.7h0.65v0.65h-0.65zM229.6,191.9h0.65v0.65h-0.65zM233.2,196.7h0.65v0.65h-0.65zM227.4,204.2h0.65v0.65h-0.65zM230.3,200.6h0.65v0.65h-0.65zM242.3,200.1h0.65v0.65h-0.65zM238.3,192.7h0.65v0.65h-0.65zM231.1,199.9h0.65v0.65h-0.65zM235.2,199.1h0.65v0.65h-0.65zM240.3,201.0h0.65v0.65h-0.65zM223.0,195.3h0.65v0.65h-0.65zM244.9,193.9h0.65v0.65h-0.65zM243.9,193.1h0.65v0.65h-0.65zM237.7,196.4h0.65v0.65h-0.65zM245.0,194.6h0.65v0.65h-0.65zM230.1,191.8h0.65v0.65h-0.65zM230.5,197.8h0.65v0.65h-0.65zM238.9,200.5h0.65v0.65h-0.65zM234.8,198.3h0.65v0.65h-0.65zM239.6,191.7h0.65v0.65h-0.65zM238.1,193.4h0.65v0.65h-0.65zM231.7,194.3h0.65v0.65h-0.65zM236.8,193.3h0.65v0.65h-0.65zM231.5,191.4h0.65v0.65h-0.65zM234.3,197.6h0.65v0.65h-0.65zM229.3,196.5h0.65v0.65h-0.65zM236.6,193.2h0.65v0.65h-0.65zM236.8,199.5h0.65v0.65h-0.65zM236.3,192.9h0.65v0.65h-0.65zM234.4,195.1h0.65v0.65h-0.65zM241.9,199.5h0.65v0.65h-0.65zM232.8,196.0h0.65v0.65h-0.65zM223.8,197.8h0.65v0.65h-0.65zM230.4,199.6h0.65v0.65h-0.65zM230.1,198.6h0.65v0.65h-0.65zM244.9,198.5h0.65v0.65h-0.65zM231.2,194.0h0.65v0.65h-0.65zM234.5,198.8h0.65v0.65h-0.65zM243.7,192.5h0.65v0.65h-0.65zM230.4,200.2h0.65v0.65h-0.65zM232.1,195.0h0.65v0.65h-0.65z" fill="#2a2a2a" fill-opacity="0.55"/>
<path d="M258.4,196.0h0.65v0.65h-0.65zM253.3,201.5h0.65v0.65h-0.65zM252.9,192.3h0.65v0.65h-0.65zM253.4,202.8h0.65v0.65h-0.65zM244.9,173.8h0.65v0.65h-0.65zM250.7,183.1h0.65v0.65h-0.65zM262.5,195.6h0.65v0.65h-0.65zM243.3,191.6h0.65v0.65h-0.65zM259.2,197.5h0.65v0.65h-0.65zM248.9,192.3h0.65v0.65h-0.65zM250.3,193.6h0.65v0.65h-0.65zM249.9,188.7h0.65v0.65h-0.65zM252.1,187.0h0.65v0.65h-0.65zM251.7,181.0h0.65v0.65h-0.65zM252.9,172.0h0.65v0.65h-0.65zM248.1,203.6h0.65v0.65h-0.65zM242.9,201.2h0.65v0.65h-0.65zM257.5,180.2h0.65v0.65h-0.65zM250.0,187.8h0.65v0.65h-0.65zM263.6,181.9h0.65v0.65h-0.65zM256.1,190.3h0.65v0.65h-0.65zM256.8,181.4h0.65v0.65h-0.65zM258.3,180.3h0.65v0.65h-0.65zM247.5,193.6h0.65v0.65h-0.65zM255.8,180.8h0.65v0.65h-0.65zM244.2,186.4h0.65v0.65h-0.65zM252.6,192.4h0.65v0.65h-0.65zM250.0,192.5h0.65v0.65h-0.65zM253.5,189.2h0.65v0.65h-0.65zM255.0,188.4h0.65v0.65h-0.65zM255.0,203.1h0.65v0.65h-0.65zM251.4,184.1h0.65v0.65h-0.65zM248.5,185.3h0.65v0.65h-0.65zM257.4,189.8h0.65v0.65h-0.65zM247.8,188.9h0.65v0.65h-0.65zM245.2,197.6h0.65v0.65h-0.65zM255.6,201.0h0.65v0.65h-0.65zM259.6,187.1h0.65v0.65h-0.65zM248.5,189.3h0.65v0.65h-0.65zM253.2,194.4h0.65v0.65h-0.65zM244.1,186.4h0.65v0.65h-0.65zM254.5,188.4h0.65v0.65h-0.65zM254.6,177.1h0.65v0.65h-0.65zM243.2,192.5h0.65v0.65h-0.65zM252.3,199.1h0.65v0.65h-0.65zM245.3,189.6h0.65v0.65h-0.65zM248.1,193.6h0.65v0.65h-0.65zM255.9,186.4h0.65v0.65h-0.65zM248.8,194.4h0.65v0.65h-0.65zM245.1,192.2h0.65v0.65h-0.65zM246.3,200.5h0.65v0.65h-0.65zM251.3,191.9h0.65v0.65h-0.65zM255.7,191.0h0.65v0.65h-0.65zM242.6,184.3h0.65v0.65h-0.65zM251.9,194.9h0.65v0.65h-0.65zM251.9,196.7h0.65v0.65h-0.65zM256.5,184.6h0.65v0.65h-0.65zM255.0,194.3h0.65v0.65h-0.65zM249.4,191.2h0.65v0.65h-0.65zM245.8,208.1h0.65v0.65h-0.65zM248.7,193.5h0.65v0.65h-0.65zM250.7,189.4h0.65v0.65h-0.65zM246.1,189.4h0.65v0.65h-0.65zM255.6,198.3h0.65v0.65h-0.65zM247.2,204.2h0.65v0.65h-0.65zM247.1,178.8h0.65v0.65h-0.65zM250.4,188.4h0.65v0.65h-0.65zM252.6,204.2h0.65v0.65h-0.65zM253.1,189.4h0.65v0.65h-0.65zM248.4,194.8h0.65v0.65h-0.65zM242.9,193.9h0.65v0.65h-0.65zM246.3,185.9h0.65v0.65h-0.65zM253.5,185.5h0.65v0.65h-0.65zM249.9,186.1h0.65v0.65h-0.65zM246.5,192.7h0.65v0.65h-0.65zM251.5,187.5h0.65v0.65h-0.65zM254.1,188.1h0.65v0.65h-0.65zM246.2,206.2h0.65v0.65h-0.65zM256.2,192.0h0.65v0.65h-0.65zM253.3,191.5h0.65v0.65h-0.65zM255.0,191.0h0.65v0.65h-0.65zM258.6,196.3h0.65v0.65h-0.65zM253.7,204.3h0.65v0.65h-0.65zM254.2,192.6h0.65v0.65h-0.65zM250.4,194.5h0.65v0.65h-0.65zM247.9,192.7h0.65v0.65h-0.65zM253.3,182.4h0.65v0.65h-0.65zM260.7,190.0h0.65v0.65h-0.65zM253.7,208.9h0.65v0.65h-0.65zM257.5,186.3h0.65v0.65h-0.65zM249.6,190.7h0.65v0.65h-0.65zM249.8,197.0h0.65v0.65h-0.65zM252.1,203.0h0.65v0.65h-0.65zM246.5,203.9h0.65v0.65h-0.65zM246.0,183.9h0.65v0.65h-0.65zM257.6,201.6h0.65v0.65h-0.65zM246.0,190.4h0.65v0.65h-0.65zM250.3,204.7h0.65v0.65h-0.65zM245.0,198.3h0.65v0.65h-0.65zM250.4,189.4h0.65v0.65h-0.65zM247.5,204.6h0.65v0.65h-0.65zM257.8,194.2h0.65v0.65h-0.65zM246.1,187.2h0.65v0.65h-0.65zM248.2,199.8h0.65v0.65h-0.65zM244.6,192.7h0.65v0.65h-0.65zM255.8,197.2h0.65v0.65h-0.65zM249.7,202.9h0.65v0.65h-0.65zM250.8,197.5h0.65v0.65h-0.65zM250.0,209.5h0.65v0.65h-0.65zM243.9,203.8h0.65v0.65h-0.65zM252.8,185.5h0.65v0.65h-0.65zM251.5,191.5h0.65v0.65h-0.65zM258.4,188.2h0.65v0.65h-0.65zM254.8,199.1h0.65v0.65h-0.65zM245.5,191.2h0.65v0.65h-0.65zM246.6,209.0h0.65v0.65h-0.65zM251.2,189.6h0.65v0.65h-0.65zM258.5,177.2h0.65v0.65h-0.65zM247.6,203.8h0.65v0.65h-0.65zM260.0,179.9h0.65v0.65h-0.65zM258.2,200.0h0.65v0.65h-0.65zM249.5,206.8h0.65v0.65h-0.65zM251.6,183.2h0.65v0.65h-0.65zM259.8,184.6h0.65v0.65h-0.65zM263.0,193.2h0.65v0.65h-0.65zM246.8,185.0h0.65v0.65h-0.65zM251.2,184.4h0.65v0.65h-0.65zM246.9,191.2h0.65v0.65h-0.65zM251.6,198.4h0.65v0.65h-0.65zM259.0,179.7h0.65v0.65h-0.65zM252.0,179.8h0.65v0.65h-0.65zM246.5,190.3h0.65v0.65h-0.65zM251.9,191.1h0.65v0.65h-0.65zM240.0,197.6h0.65v0.65h-0.65zM251.8,201.1h0.65v0.65h-0.65zM254.4,195.5h0.65v0.65h-0.65zM252.8,190.2h0.65v0.65h-0.65zM256.8,178.4h0.65v0.65h-0.65zM255.1,187.7h0.65v0.65h-0.65zM256.4,189.4h0.65v0.65h-0.65zM240.9,196.4h0.65v0.65h-0.65zM246.4,187.5h0.65v0.65h-0.65zM252.2,192.6h0.65v0.65h-0.65zM251.1,195.8h0.65v0.65h-0.65zM254.4,186.7h0.65v0.65h-0.65zM258.8,189.8h0.65v0.65h-0.65zM252.3,204.5h0.65v0.65h-0.65zM248.2,200.8h0.65v0.65h-0.65zM258.0,200.4h0.65v0.65h-0.65zM255.2,181.7h0.65v0.65h-0.65zM251.8,184.8h0.65v0.65h-0.65zM253.7,197.7h0.65v0.65h-0.65zM253.5,181.4h0.65v0.65h-0.65z" fill="#333" fill-opacity="0.55"/>
<path d="M238.4,202.5h0.6v0.6h-0.6zM234.4,200.9h0.6v0.6h-0.6zM241.8,201.7h0.6v0.6h-0.6zM243.9,205.6h0.6v0.6h-0.6zM242.4,204.5h0.6v0.6h-0.6zM236.9,198.3h0.6v0.6h-0.6zM217.1,198.3h0.6v0.6h-0.6zM230.9,198.8h0.6v0.6h-0.6zM240.1,200.4h0.6v0.6h-0.6zM240.4,200.1h0.6v0.6h-0.6zM230.7,202.1h0.6v0.6h-0.6zM228.1,195.7h0.6v0.6h-0.6zM234.0,199.0h0.6v0.6h-0.6zM245.1,200.5h0.6v0.6h-0.6zM223.6,200.6h0.6v0.6h-0.6zM241.8,203.4h0.6v0.6h-0.6zM237.8,195.7h0.6v0.6h-0.6zM234.4,199.8h0.6v0.6h-0.6zM230.6,201.1h0.6v0.6h-0.6zM230.6,198.9h0.6v0.6h-0.6zM228.1,201.8h0.6v0.6h-0.6zM224.5,197.4h0.6v0.6h-0.6zM234.4,203.2h0.6v0.6h-0.6zM236.6,202.2h0.6v0.6h-0.6zM243.4,195.3h0.6v0.6h-0.6zM239.4,202.8h0.6v0.6h-0.6zM245.4,197.4h0.6v0.6h-0.6zM254.3,199.5h0.6v0.6h-0.6zM234.7,201.9h0.6v0.6h-0.6zM235.4,204.4h0.6v0.6h-0.6zM240.0,201.0h0.6v0.6h-0.6zM226.3,201.6h0.6v0.6h-0.6zM237.2,202.1h0.6v0.6h-0.6zM234.1,202.0h0.6v0.6h-0.6zM237.4,201.8h0.6v0.6h-0.6zM239.2,194.9h0.6v0.6h-0.6zM246.0,202.3h0.6v0.6h-0.6zM240.3,197.1h0.6v0.6h-0.6zM231.9,206.2h0.6v0.6h-0.6zM237.0,201.3h0.6v0.6h-0.6zM239.5,200.2h0.6v0.6h-0.6zM244.2,198.2h0.6v0.6h-0.6zM238.0,201.2h0.6v0.6h-0.6zM233.3,199.4h0.6v0.6h-0.6zM230.8,196.9h0.6v0.6h-0.6zM236.2,204.2h0.6v0.6h-0.6zM238.3,206.8h0.6v0.6h-0.6zM229.0,197.4h0.6v0.6h-0.6zM233.8,200.1h0.6v0.6h-0.6zM243.4,197.3h0.6v0.6h-0.6zM227.3,200.4h0.6v0.6h-0.6zM225.2,201.0h0.6v0.6h-0.6zM230.6,200.3h0.6v0.6h-0.6zM231.2,200.6h0.6v0.6h-0.6zM242.8,200.9h0.6v0.6h-0.6zM242.1,197.3h0.6v0.6h-0.6zM237.2,204.3h0.6v0.6h-0.6zM228.5,198.8h0.6v0.6h-0.6zM228.4,201.7h0.6v0.6h-0.6zM230.7,195.0h0.6v0.6h-0.6zM224.8,200.3h0.6v0.6h-0.6zM234.1,199.4h0.6v0.6h-0.6zM235.1,203.4h0.6v0.6h-0.6zM231.1,203.6h0.6v0.6h-0.6zM229.5,211.0h0.6v0.6h-0.6zM234.8,197.9h0.6v0.6h-0.6zM231.1,194.2h0.6v0.6h-0.6zM240.0,204.4h0.6v0.6h-0.6zM241.1,200.0h0.6v0.6h-0.6zM243.3,197.0h0.6v0.6h-0.6zM234.0,202.3h0.6v0.6h-0.6zM237.6,197.8h0.6v0.6h-0.6zM231.4,203.5h0.6v0.6h-0.6zM233.6,194.4h0.6v0.6h-0.6zM244.4,198.2h0.6v0.6h-0.6zM238.0,203.4h0.6v0.6h-0.6zM239.5,200.9h0.6v0.6h-0.6zM233.4,202.4h0.6v0.6h-0.6zM232.2,201.0h0.6v0.6h-0.6zM231.8,198.2h0.6v0.6h-0.6zM235.6,205.4h0.6v0.6h-0.6zM234.8,201.4h0.6v0.6h-0.6z" fill="#222" fill-opacity="0.5"/>
<ellipse cx="235.40" cy="200.80" rx="7.60" ry="3.80" fill="#b4b4b4" fill-opacity="0.82" stroke="#1a1a1a" stroke-width="1.02" stroke-opacity="0.82" transform="rotate(0 235.40 200.80)"/>
<ellipse cx="235.40" cy="200.80" rx="5.47" ry="2.81" fill="#cfcfcf" fill-opacity="0.45" stroke="#2a2a2a" stroke-width="0.6" stroke-opacity="0.77" transform="rotate(0 235.40 200.80)"/>
<ellipse cx="235.40" cy="200.80" rx="3.50" ry="1.90" fill="#e8e8e8" stroke="#333" stroke-width="0.55" stroke-opacity="0.72" transform="rotate(0 235.40 200.80)"/>
<ellipse cx="235.40" cy="200.80" rx="1.52" ry="0.99" fill="#fff" stroke="#444" stroke-width="0.45" stroke-opacity="0.45" transform="rotate(0 235.40 200.80)"/>
<path d="M257.1,181.6h0.6v0.6h-0.6zM255.0,187.9h0.6v0.6h-0.6zM249.4,203.8h0.6v0.6h-0.6zM254.9,209.0h0.6v0.6h-0.6zM250.8,183.5h0.6v0.6h-0.6zM254.5,194.5h0.6v0.6h-0.6zM241.2,200.5h0.6v0.6h-0.6zM253.5,200.7h0.6v0.6h-0.6zM258.8,203.2h0.6v0.6h-0.6zM254.4,177.9h0.6v0.6h-0.6zM252.8,187.1h0.6v0.6h-0.6zM251.7,194.2h0.6v0.6h-0.6zM250.8,190.7h0.6v0.6h-0.6zM252.1,196.6h0.6v0.6h-0.6zM258.8,186.4h0.6v0.6h-0.6zM246.3,211.6h0.6v0.6h-0.6zM252.4,195.8h0.6v0.6h-0.6zM245.5,200.6h0.6v0.6h-0.6zM255.8,200.8h0.6v0.6h-0.6zM246.4,187.1h0.6v0.6h-0.6zM251.1,193.8h0.6v0.6h-0.6zM255.5,200.0h0.6v0.6h-0.6zM246.0,190.3h0.6v0.6h-0.6zM251.9,198.1h0.6v0.6h-0.6zM251.1,206.9h0.6v0.6h-0.6zM252.1,187.6h0.6v0.6h-0.6zM252.2,189.8h0.6v0.6h-0.6zM249.0,192.8h0.6v0.6h-0.6zM254.7,179.8h0.6v0.6h-0.6zM251.9,187.1h0.6v0.6h-0.6zM256.5,195.8h0.6v0.6h-0.6zM252.0,191.0h0.6v0.6h-0.6zM258.5,178.7h0.6v0.6h-0.6zM247.9,198.7h0.6v0.6h-0.6zM249.7,176.8h0.6v0.6h-0.6zM250.8,184.0h0.6v0.6h-0.6zM254.1,183.2h0.6v0.6h-0.6zM256.1,194.8h0.6v0.6h-0.6zM248.6,195.1h0.6v0.6h-0.6zM249.4,195.0h0.6v0.6h-0.6zM247.6,203.4h0.6v0.6h-0.6zM256.0,186.9h0.6v0.6h-0.6zM253.6,188.9h0.6v0.6h-0.6zM246.3,189.7h0.6v0.6h-0.6zM254.0,184.6h0.6v0.6h-0.6zM253.5,209.9h0.6v0.6h-0.6zM249.2,184.2h0.6v0.6h-0.6zM250.4,194.9h0.6v0.6h-0.6zM249.3,188.0h0.6v0.6h-0.6zM257.4,185.5h0.6v0.6h-0.6zM253.9,182.0h0.6v0.6h-0.6zM252.8,187.9h0.6v0.6h-0.6zM256.8,192.6h0.6v0.6h-0.6zM250.6,188.8h0.6v0.6h-0.6zM255.6,199.4h0.6v0.6h-0.6zM253.2,180.5h0.6v0.6h-0.6zM250.3,200.9h0.6v0.6h-0.6zM254.5,181.1h0.6v0.6h-0.6zM253.6,190.4h0.6v0.6h-0.6zM252.3,190.8h0.6v0.6h-0.6zM250.0,184.7h0.6v0.6h-0.6zM254.7,196.2h0.6v0.6h-0.6zM250.8,177.9h0.6v0.6h-0.6zM255.1,197.0h0.6v0.6h-0.6zM253.2,188.4h0.6v0.6h-0.6zM260.7,181.8h0.6v0.6h-0.6zM249.9,196.2h0.6v0.6h-0.6zM252.8,196.6h0.6v0.6h-0.6zM246.0,197.0h0.6v0.6h-0.6zM256.9,188.9h0.6v0.6h-0.6zM256.1,190.3h0.6v0.6h-0.6zM252.0,191.9h0.6v0.6h-0.6zM251.2,192.7h0.6v0.6h-0.6zM254.6,203.2h0.6v0.6h-0.6zM253.5,196.7h0.6v0.6h-0.6zM247.9,189.7h0.6v0.6h-0.6zM253.6,193.0h0.6v0.6h-0.6zM251.6,184.7h0.6v0.6h-0.6zM254.6,197.4h0.6v0.6h-0.6zM238.3,212.0h0.6v0.6h-0.6zM253.9,193.8h0.6v0.6h-0.6zM255.3,197.1h0.6v0.6h-0.6zM258.7,189.8h0.6v0.6h-0.6zM254.3,198.8h0.6v0.6h-0.6zM242.8,207.4h0.6v0.6h-0.6zM252.5,181.6h0.6v0.6h-0.6zM250.4,200.2h0.6v0.6h-0.6zM248.7,190.1h0.6v0.6h-0.6zM250.8,190.4h0.6v0.6h-0.6zM240.7,201.2h0.6v0.6h-0.6zM247.6,196.8h0.6v0.6h-0.6zM254.6,177.9h0.6v0.6h-0.6zM253.0,184.4h0.6v0.6h-0.6zM252.3,186.9h0.6v0.6h-0.6zM251.7,191.0h0.6v0.6h-0.6zM252.0,196.6h0.6v0.6h-0.6zM246.7,201.5h0.6v0.6h-0.6zM259.0,195.4h0.6v0.6h-0.6zM257.6,203.6h0.6v0.6h-0.6z" fill="#222" fill-opacity="0.5"/>
<ellipse cx="252.00" cy="192.00" rx="4.60" ry="9.80" fill="#b4b4b4" fill-opacity="0.93" stroke="#1a1a1a" stroke-width="1.13" stroke-opacity="0.93" transform="rotate(10 252.00 192.00)"/>
<ellipse cx="252.00" cy="192.00" rx="3.31" ry="7.25" fill="#cfcfcf" fill-opacity="0.54" stroke="#2a2a2a" stroke-width="0.6" stroke-opacity="0.88" transform="rotate(10 252.00 192.00)"/>
<ellipse cx="252.00" cy="192.00" rx="2.12" ry="4.90" fill="#e8e8e8" stroke="#333" stroke-width="0.55" stroke-opacity="0.83" transform="rotate(10 252.00 192.00)"/>
<ellipse cx="252.00" cy="192.00" rx="0.92" ry="2.55" fill="#fff" stroke="#444" stroke-width="0.45" stroke-opacity="0.54" transform="rotate(10 252.00 192.00)"/>
</g>
<rect x="227.20" y="162.80" width="45.80" height="45.40" fill="none" stroke="#111" stroke-width="1.1"/>
<rect x="244.70" y="175.20" width="23.20" height="31.20" fill="none" stroke="#111" stroke-width="0.75"/>
<text x="256.30" y="173.50" font-size="6.4" text-anchor="middle" fill="#1a1a1a" stroke="#1a1a1a" stroke-width="0.1">69.5</text>
<line x1="262.70" y1="206.40" x2="262.70" y2="216.60" stroke="#111" stroke-width="0.75"/>
<path d="M262.70,218.60 L261.62,216.20 L263.78,216.20 Z" fill="#111"/>
<rect x="235.50" y="222.70" width="20.60" height="25.30" fill="#d2ead3" stroke="#44b04c" stroke-width="0.9"/>
<rect x="237.40" y="253.60" width="28.30" height="11.80" fill="#f7c6b6" stroke="#d2263c" stroke-width="0.9"/>
<clipPath id="cb4"><rect x="227.20" y="219.8" width="45.8" height="46.5"/></clipPath>
<g clip-path="url(#cb4)">
<path d="M251.2,233.0h0.65v0.65h-0.65zM253.6,221.5h0.65v0.65h-0.65zM241.5,239.1h0.65v0.65h-0.65zM250.9,239.2h0.65v0.65h-0.65zM246.7,224.8h0.65v0.65h-0.65zM247.3,238.1h0.65v0.65h-0.65zM244.1,233.3h0.65v0.65h-0.65zM247.5,231.1h0.65v0.65h-0.65zM242.8,226.2h0.65v0.65h-0.65zM244.2,249.1h0.65v0.65h-0.65zM251.5,233.6h0.65v0.65h-0.65zM244.1,237.8h0.65v0.65h-0.65zM245.8,236.0h0.65v0.65h-0.65zM248.5,238.6h0.65v0.65h-0.65zM246.8,250.0h0.65v0.65h-0.65zM241.4,246.2h0.65v0.65h-0.65zM243.5,228.4h0.65v0.65h-0.65zM251.9,229.2h0.65v0.65h-0.65zM245.0,236.9h0.65v0.65h-0.65zM245.7,232.6h0.65v0.65h-0.65zM248.0,233.7h0.65v0.65h-0.65zM246.8,230.1h0.65v0.65h-0.65zM243.5,239.3h0.65v0.65h-0.65zM255.8,234.6h0.65v0.65h-0.65zM240.2,249.1h0.65v0.65h-0.65zM250.7,233.7h0.65v0.65h-0.65zM246.0,233.3h0.65v0.65h-0.65zM249.7,227.5h0.65v0.65h-0.65zM251.1,219.1h0.65v0.65h-0.65zM246.1,227.0h0.65v0.65h-0.65zM246.2,234.1h0.65v0.65h-0.65zM246.2,236.0h0.65v0.65h-0.65zM246.2,254.8h0.65v0.65h-0.65zM245.6,238.0h0.65v0.65h-0.65zM246.2,236.3h0.65v0.65h-0.65zM246.5,231.9h0.65v0.65h-0.65zM245.8,245.9h0.65v0.65h-0.65zM247.7,235.0h0.65v0.65h-0.65zM248.5,225.9h0.65v0.65h-0.65zM244.4,235.6h0.65v0.65h-0.65zM249.5,236.5h0.65v0.65h-0.65zM245.1,234.0h0.65v0.65h-0.65zM249.6,235.7h0.65v0.65h-0.65zM252.2,225.0h0.65v0.65h-0.65zM249.8,227.5h0.65v0.65h-0.65zM242.3,234.5h0.65v0.65h-0.65zM247.8,239.3h0.65v0.65h-0.65zM250.0,236.8h0.65v0.65h-0.65zM240.0,239.5h0.65v0.65h-0.65zM250.2,232.8h0.65v0.65h-0.65zM246.0,235.3h0.65v0.65h-0.65zM249.1,226.6h0.65v0.65h-0.65zM247.0,249.1h0.65v0.65h-0.65zM248.5,237.1h0.65v0.65h-0.65zM237.9,237.2h0.65v0.65h-0.65zM247.5,240.2h0.65v0.65h-0.65zM249.2,229.2h0.65v0.65h-0.65zM247.8,235.0h0.65v0.65h-0.65zM246.0,241.8h0.65v0.65h-0.65zM248.5,232.9h0.65v0.65h-0.65zM247.6,221.4h0.65v0.65h-0.65zM252.2,234.3h0.65v0.65h-0.65zM249.4,238.7h0.65v0.65h-0.65zM246.7,239.2h0.65v0.65h-0.65zM244.8,247.5h0.65v0.65h-0.65zM246.4,233.5h0.65v0.65h-0.65zM246.4,238.1h0.65v0.65h-0.65zM252.2,230.8h0.65v0.65h-0.65zM240.1,237.4h0.65v0.65h-0.65zM249.1,235.2h0.65v0.65h-0.65zM246.1,240.3h0.65v0.65h-0.65zM246.3,227.9h0.65v0.65h-0.65zM243.2,233.1h0.65v0.65h-0.65zM245.3,233.9h0.65v0.65h-0.65zM247.5,219.2h0.65v0.65h-0.65zM249.4,238.7h0.65v0.65h-0.65zM247.9,245.4h0.65v0.65h-0.65zM241.5,240.4h0.65v0.65h-0.65zM247.5,218.6h0.65v0.65h-0.65zM245.2,230.1h0.65v0.65h-0.65zM252.2,234.3h0.65v0.65h-0.65zM246.0,238.3h0.65v0.65h-0.65zM248.3,234.4h0.65v0.65h-0.65zM254.1,228.7h0.65v0.65h-0.65zM247.2,219.6h0.65v0.65h-0.65zM245.5,227.2h0.65v0.65h-0.65zM246.3,232.2h0.65v0.65h-0.65zM249.7,242.0h0.65v0.65h-0.65zM245.7,236.4h0.65v0.65h-0.65zM245.8,233.0h0.65v0.65h-0.65zM243.6,250.4h0.65v0.65h-0.65zM245.8,226.6h0.65v0.65h-0.65zM249.8,228.6h0.65v0.65h-0.65zM244.1,237.3h0.65v0.65h-0.65zM242.3,244.9h0.65v0.65h-0.65zM249.7,231.7h0.65v0.65h-0.65zM247.8,230.5h0.65v0.65h-0.65zM250.9,236.9h0.65v0.65h-0.65zM249.0,229.1h0.65v0.65h-0.65zM251.3,236.0h0.65v0.65h-0.65zM243.0,246.3h0.65v0.65h-0.65zM248.7,232.3h0.65v0.65h-0.65zM250.4,231.9h0.65v0.65h-0.65zM245.3,242.5h0.65v0.65h-0.65zM244.5,233.2h0.65v0.65h-0.65zM246.4,237.9h0.65v0.65h-0.65zM246.3,226.4h0.65v0.65h-0.65zM247.8,228.4h0.65v0.65h-0.65zM247.7,234.5h0.65v0.65h-0.65zM247.3,236.6h0.65v0.65h-0.65zM244.9,231.9h0.65v0.65h-0.65zM245.8,244.5h0.65v0.65h-0.65zM247.9,235.7h0.65v0.65h-0.65zM253.1,233.0h0.65v0.65h-0.65zM249.6,240.7h0.65v0.65h-0.65zM244.1,234.4h0.65v0.65h-0.65zM251.0,227.1h0.65v0.65h-0.65zM251.6,232.2h0.65v0.65h-0.65zM248.7,233.9h0.65v0.65h-0.65zM249.4,229.9h0.65v0.65h-0.65zM252.5,230.1h0.65v0.65h-0.65zM251.9,233.8h0.65v0.65h-0.65zM243.6,240.6h0.65v0.65h-0.65zM247.9,233.1h0.65v0.65h-0.65zM244.5,232.5h0.65v0.65h-0.65zM248.1,228.8h0.65v0.65h-0.65zM245.5,227.4h0.65v0.65h-0.65zM242.8,242.4h0.65v0.65h-0.65zM250.1,231.9h0.65v0.65h-0.65zM244.6,233.5h0.65v0.65h-0.65zM249.3,230.8h0.65v0.65h-0.65zM245.1,242.5h0.65v0.65h-0.65zM247.1,231.8h0.65v0.65h-0.65zM250.4,235.0h0.65v0.65h-0.65zM248.5,227.9h0.65v0.65h-0.65zM249.4,237.3h0.65v0.65h-0.65zM246.5,233.9h0.65v0.65h-0.65zM250.8,235.0h0.65v0.65h-0.65zM246.5,235.8h0.65v0.65h-0.65zM245.8,242.2h0.65v0.65h-0.65zM247.1,231.6h0.65v0.65h-0.65zM245.1,235.6h0.65v0.65h-0.65zM244.6,230.3h0.65v0.65h-0.65zM243.3,233.2h0.65v0.65h-0.65zM246.9,233.2h0.65v0.65h-0.65zM247.1,228.1h0.65v0.65h-0.65zM251.2,218.3h0.65v0.65h-0.65zM241.8,246.3h0.65v0.65h-0.65zM245.4,246.1h0.65v0.65h-0.65zM251.8,237.0h0.65v0.65h-0.65zM244.0,237.6h0.65v0.65h-0.65zM244.7,235.1h0.65v0.65h-0.65zM245.3,246.8h0.65v0.65h-0.65zM247.0,233.6h0.65v0.65h-0.65zM242.9,252.2h0.65v0.65h-0.65zM245.5,241.4h0.65v0.65h-0.65zM245.7,231.7h0.65v0.65h-0.65zM255.5,230.2h0.65v0.65h-0.65zM247.6,239.6h0.65v0.65h-0.65zM247.0,242.8h0.65v0.65h-0.65zM244.1,246.1h0.65v0.65h-0.65zM248.3,233.8h0.65v0.65h-0.65zM248.3,236.3h0.65v0.65h-0.65zM245.9,239.1h0.65v0.65h-0.65zM244.4,237.9h0.65v0.65h-0.65zM250.3,216.3h0.65v0.65h-0.65zM250.1,235.0h0.65v0.65h-0.65zM247.0,232.3h0.65v0.65h-0.65zM245.2,224.9h0.65v0.65h-0.65zM248.8,233.1h0.65v0.65h-0.65zM247.1,249.7h0.65v0.65h-0.65zM248.3,223.4h0.65v0.65h-0.65zM249.5,240.4h0.65v0.65h-0.65zM250.9,238.1h0.65v0.65h-0.65zM249.1,229.4h0.65v0.65h-0.65zM251.3,236.6h0.65v0.65h-0.65zM250.8,236.1h0.65v0.65h-0.65zM244.6,240.1h0.65v0.65h-0.65zM253.5,218.2h0.65v0.65h-0.65zM245.2,239.1h0.65v0.65h-0.65zM249.9,235.9h0.65v0.65h-0.65zM244.7,237.3h0.65v0.65h-0.65zM250.4,214.7h0.65v0.65h-0.65zM241.7,237.2h0.65v0.65h-0.65zM244.1,239.5h0.65v0.65h-0.65zM253.3,217.5h0.65v0.65h-0.65zM249.8,224.1h0.65v0.65h-0.65zM253.0,221.5h0.65v0.65h-0.65zM250.8,233.5h0.65v0.65h-0.65zM246.9,236.0h0.65v0.65h-0.65zM245.1,233.8h0.65v0.65h-0.65zM255.2,237.3h0.65v0.65h-0.65zM241.7,251.0h0.65v0.65h-0.65zM249.4,236.7h0.65v0.65h-0.65zM250.3,224.9h0.65v0.65h-0.65zM247.4,227.7h0.65v0.65h-0.65zM249.6,243.9h0.65v0.65h-0.65zM249.2,227.2h0.65v0.65h-0.65zM244.0,229.6h0.65v0.65h-0.65zM244.2,235.2h0.65v0.65h-0.65zM242.8,235.8h0.65v0.65h-0.65zM248.4,228.9h0.65v0.65h-0.65zM249.1,228.6h0.65v0.65h-0.65zM247.4,228.9h0.65v0.65h-0.65zM254.3,226.2h0.65v0.65h-0.65zM249.1,228.5h0.65v0.65h-0.65zM244.3,241.4h0.65v0.65h-0.65zM246.9,234.2h0.65v0.65h-0.65zM242.6,229.6h0.65v0.65h-0.65zM250.8,242.6h0.65v0.65h-0.65zM241.6,222.6h0.65v0.65h-0.65zM249.0,223.8h0.65v0.65h-0.65zM248.9,227.8h0.65v0.65h-0.65zM248.8,246.0h0.65v0.65h-0.65zM251.9,227.9h0.65v0.65h-0.65zM246.0,244.1h0.65v0.65h-0.65zM244.9,234.4h0.65v0.65h-0.65zM244.3,235.4h0.65v0.65h-0.65zM251.0,235.0h0.65v0.65h-0.65zM253.2,234.3h0.65v0.65h-0.65z" fill="#1a2a2a" fill-opacity="0.6"/>
<path d="M251.5,248.6h0.55v0.55h-0.55zM246.2,246.7h0.55v0.55h-0.55zM244.7,242.1h0.55v0.55h-0.55zM247.8,248.3h0.55v0.55h-0.55zM245.6,247.8h0.55v0.55h-0.55zM244.9,244.2h0.55v0.55h-0.55zM251.6,243.9h0.55v0.55h-0.55zM255.6,244.2h0.55v0.55h-0.55zM244.9,243.3h0.55v0.55h-0.55zM252.3,238.5h0.55v0.55h-0.55zM242.5,249.8h0.55v0.55h-0.55zM245.5,247.1h0.55v0.55h-0.55zM250.6,241.5h0.55v0.55h-0.55zM246.7,245.4h0.55v0.55h-0.55zM247.5,246.6h0.55v0.55h-0.55zM249.8,243.1h0.55v0.55h-0.55zM254.5,243.6h0.55v0.55h-0.55zM245.2,242.4h0.55v0.55h-0.55zM247.6,248.9h0.55v0.55h-0.55zM251.3,241.9h0.55v0.55h-0.55zM247.1,244.0h0.55v0.55h-0.55zM249.2,249.9h0.55v0.55h-0.55zM247.2,241.5h0.55v0.55h-0.55zM248.0,242.5h0.55v0.55h-0.55zM252.0,244.1h0.55v0.55h-0.55zM247.5,243.1h0.55v0.55h-0.55zM246.6,243.3h0.55v0.55h-0.55zM248.8,248.9h0.55v0.55h-0.55zM246.0,247.8h0.55v0.55h-0.55zM249.2,241.1h0.55v0.55h-0.55z" fill="#555" fill-opacity="0.45"/>
<path d="M265.6,259.9h0.55v0.55h-0.55zM248.3,258.8h0.55v0.55h-0.55zM252.5,257.8h0.55v0.55h-0.55zM255.8,259.3h0.55v0.55h-0.55zM262.7,259.0h0.55v0.55h-0.55zM245.1,261.1h0.55v0.55h-0.55zM261.1,258.2h0.55v0.55h-0.55zM262.9,259.5h0.55v0.55h-0.55zM249.1,260.4h0.55v0.55h-0.55zM256.6,258.7h0.55v0.55h-0.55zM257.9,258.4h0.55v0.55h-0.55zM255.2,259.8h0.55v0.55h-0.55zM258.6,260.1h0.55v0.55h-0.55zM242.3,258.8h0.55v0.55h-0.55zM257.3,260.4h0.55v0.55h-0.55zM249.7,260.8h0.55v0.55h-0.55zM250.2,261.1h0.55v0.55h-0.55zM256.2,259.7h0.55v0.55h-0.55zM247.4,258.3h0.55v0.55h-0.55zM256.4,259.7h0.55v0.55h-0.55zM254.2,259.0h0.55v0.55h-0.55zM262.8,258.4h0.55v0.55h-0.55zM258.2,260.6h0.55v0.55h-0.55zM257.4,259.6h0.55v0.55h-0.55zM248.4,261.7h0.55v0.55h-0.55zM263.0,258.1h0.55v0.55h-0.55zM250.4,258.0h0.55v0.55h-0.55zM247.2,259.3h0.55v0.55h-0.55zM249.6,259.4h0.55v0.55h-0.55zM257.6,258.4h0.55v0.55h-0.55zM248.3,260.6h0.55v0.55h-0.55zM260.1,259.1h0.55v0.55h-0.55zM250.1,260.0h0.55v0.55h-0.55zM256.5,260.7h0.55v0.55h-0.55zM256.1,258.5h0.55v0.55h-0.55zM250.7,259.6h0.55v0.55h-0.55zM246.8,258.3h0.55v0.55h-0.55zM260.0,260.5h0.55v0.55h-0.55zM258.2,261.3h0.55v0.55h-0.55zM253.5,258.5h0.55v0.55h-0.55zM255.8,260.6h0.55v0.55h-0.55zM249.7,262.0h0.55v0.55h-0.55zM262.1,257.6h0.55v0.55h-0.55zM250.4,260.4h0.55v0.55h-0.55zM257.0,260.9h0.55v0.55h-0.55zM257.5,259.2h0.55v0.55h-0.55zM252.3,260.0h0.55v0.55h-0.55zM257.8,258.4h0.55v0.55h-0.55zM253.4,259.4h0.55v0.55h-0.55zM252.8,257.8h0.55v0.55h-0.55zM258.0,257.3h0.55v0.55h-0.55zM255.0,258.3h0.55v0.55h-0.55zM255.2,261.3h0.55v0.55h-0.55zM267.6,260.4h0.55v0.55h-0.55zM254.0,257.8h0.55v0.55h-0.55zM253.8,259.8h0.55v0.55h-0.55zM246.2,258.6h0.55v0.55h-0.55zM257.1,259.8h0.55v0.55h-0.55zM252.8,258.0h0.55v0.55h-0.55zM256.7,258.0h0.55v0.55h-0.55z" fill="#222" fill-opacity="0.45"/>
<path d="M246.00,259.4 C249.68,256.4 261.64,256.0 264.40,258.6 C264.58,262.2 252.44,262.4 246.00,259.4 Z" fill="#5a3a36" fill-opacity="0.8" stroke="#1a1a1a" stroke-width="0.7"/>
<ellipse cx="257.50" cy="259.2" rx="4.60" ry="0.9" fill="#e8d0cc" stroke="#333" stroke-width="0.4"/>
</g>
<rect x="227.20" y="219.80" width="45.80" height="46.50" fill="none" stroke="#111" stroke-width="1.1"/>
<text x="270.40" y="227.20" font-size="6.4" text-anchor="end" fill="#1a1a1a" stroke="#1a1a1a" stroke-width="0.1">6.9</text>
<text x="270.40" y="252.20" font-size="6.4" text-anchor="end" fill="#1a1a1a" stroke="#1a1a1a" stroke-width="0.1">92.7</text>
<text x="303.40" y="158.80" font-size="8.6" font-weight="bold" text-anchor="middle">Aza+Ven</text>
<clipPath id="ct5"><rect x="280.50" y="162.8" width="45.8" height="45.4"/></clipPath>
<g clip-path="url(#ct5)">
<ellipse cx="290.80" cy="194.80" rx="8.40" ry="7.5" fill="#7a7a7a" fill-opacity="0.55" filter="url(#bl2)"/>
<ellipse cx="306.70" cy="193.00" rx="6.75" ry="9.86" fill="#777" fill-opacity="0.39" filter="url(#bl1)" transform="rotate(0 306.70 193.00)"/>
<path d="M301.1,196.2h0.65v0.65h-0.65zM287.7,201.2h0.65v0.65h-0.65zM285.6,194.9h0.65v0.65h-0.65zM293.9,191.7h0.65v0.65h-0.65zM292.2,194.4h0.65v0.65h-0.65zM283.9,196.9h0.65v0.65h-0.65zM289.7,196.7h0.65v0.65h-0.65zM292.7,193.2h0.65v0.65h-0.65zM296.1,203.2h0.65v0.65h-0.65zM282.4,194.9h0.65v0.65h-0.65zM290.0,191.8h0.65v0.65h-0.65zM292.0,196.3h0.65v0.65h-0.65zM288.9,198.9h0.65v0.65h-0.65zM288.1,195.0h0.65v0.65h-0.65zM293.3,197.4h0.65v0.65h-0.65zM293.5,201.2h0.65v0.65h-0.65zM284.9,198.2h0.65v0.65h-0.65zM296.9,197.4h0.65v0.65h-0.65zM290.4,198.6h0.65v0.65h-0.65zM293.3,197.7h0.65v0.65h-0.65zM287.9,198.3h0.65v0.65h-0.65zM287.4,197.5h0.65v0.65h-0.65zM289.5,189.4h0.65v0.65h-0.65zM289.6,198.3h0.65v0.65h-0.65zM292.6,196.7h0.65v0.65h-0.65zM285.3,191.9h0.65v0.65h-0.65zM279.5,197.8h0.65v0.65h-0.65zM295.5,201.8h0.65v0.65h-0.65zM299.8,192.6h0.65v0.65h-0.65zM293.8,193.7h0.65v0.65h-0.65zM280.3,196.5h0.65v0.65h-0.65zM287.6,199.0h0.65v0.65h-0.65zM294.0,197.5h0.65v0.65h-0.65zM298.2,203.7h0.65v0.65h-0.65zM288.7,200.3h0.65v0.65h-0.65zM298.4,196.1h0.65v0.65h-0.65zM288.2,197.7h0.65v0.65h-0.65zM287.6,199.3h0.65v0.65h-0.65zM295.7,195.8h0.65v0.65h-0.65zM294.6,196.5h0.65v0.65h-0.65zM301.3,199.4h0.65v0.65h-0.65zM298.7,200.0h0.65v0.65h-0.65zM287.0,195.3h0.65v0.65h-0.65zM293.3,193.6h0.65v0.65h-0.65zM297.2,196.5h0.65v0.65h-0.65zM301.9,194.0h0.65v0.65h-0.65zM284.8,201.0h0.65v0.65h-0.65zM289.4,191.6h0.65v0.65h-0.65zM298.4,197.8h0.65v0.65h-0.65zM290.8,194.5h0.65v0.65h-0.65zM292.1,197.8h0.65v0.65h-0.65zM288.1,196.5h0.65v0.65h-0.65zM293.6,193.8h0.65v0.65h-0.65zM299.0,196.8h0.65v0.65h-0.65zM287.5,198.0h0.65v0.65h-0.65zM284.1,199.3h0.65v0.65h-0.65zM297.6,190.9h0.65v0.65h-0.65zM290.0,197.7h0.65v0.65h-0.65zM286.4,192.1h0.65v0.65h-0.65zM284.8,191.6h0.65v0.65h-0.65zM293.3,192.1h0.65v0.65h-0.65zM291.7,195.3h0.65v0.65h-0.65zM297.8,195.2h0.65v0.65h-0.65zM293.1,198.3h0.65v0.65h-0.65zM287.7,194.5h0.65v0.65h-0.65zM294.4,195.8h0.65v0.65h-0.65zM284.3,197.4h0.65v0.65h-0.65zM294.7,195.8h0.65v0.65h-0.65zM297.1,193.2h0.65v0.65h-0.65zM279.0,193.2h0.65v0.65h-0.65zM297.0,192.8h0.65v0.65h-0.65zM289.0,196.7h0.65v0.65h-0.65zM291.9,202.3h0.65v0.65h-0.65zM296.1,200.6h0.65v0.65h-0.65zM287.5,200.0h0.65v0.65h-0.65zM294.9,190.5h0.65v0.65h-0.65zM290.4,192.9h0.65v0.65h-0.65zM275.6,194.5h0.65v0.65h-0.65zM296.9,194.7h0.65v0.65h-0.65zM300.4,200.8h0.65v0.65h-0.65zM293.0,197.5h0.65v0.65h-0.65zM288.6,194.9h0.65v0.65h-0.65zM290.7,191.3h0.65v0.65h-0.65zM296.3,204.1h0.65v0.65h-0.65zM298.2,196.9h0.65v0.65h-0.65zM299.9,196.2h0.65v0.65h-0.65zM280.8,198.2h0.65v0.65h-0.65zM298.0,194.8h0.65v0.65h-0.65zM294.9,198.8h0.65v0.65h-0.65zM289.1,193.6h0.65v0.65h-0.65zM293.4,200.6h0.65v0.65h-0.65zM294.3,200.3h0.65v0.65h-0.65zM297.4,200.5h0.65v0.65h-0.65zM293.3,205.6h0.65v0.65h-0.65zM296.3,200.3h0.65v0.65h-0.65zM288.3,195.0h0.65v0.65h-0.65zM285.9,193.6h0.65v0.65h-0.65zM288.0,195.4h0.65v0.65h-0.65zM280.6,198.0h0.65v0.65h-0.65zM287.6,195.1h0.65v0.65h-0.65zM285.1,203.7h0.65v0.65h-0.65zM296.2,198.4h0.65v0.65h-0.65zM285.0,196.7h0.65v0.65h-0.65zM293.0,197.0h0.65v0.65h-0.65zM293.7,193.5h0.65v0.65h-0.65zM289.0,201.0h0.65v0.65h-0.65zM292.5,197.5h0.65v0.65h-0.65zM294.7,191.4h0.65v0.65h-0.65zM292.0,200.1h0.65v0.65h-0.65zM294.6,198.5h0.65v0.65h-0.65zM281.8,196.2h0.65v0.65h-0.65zM280.3,196.7h0.65v0.65h-0.65zM297.3,196.9h0.65v0.65h-0.65zM293.2,197.5h0.65v0.65h-0.65zM289.2,195.2h0.65v0.65h-0.65zM291.9,196.3h0.65v0.65h-0.65zM306.8,201.2h0.65v0.65h-0.65zM284.9,199.6h0.65v0.65h-0.65zM288.3,195.9h0.65v0.65h-0.65zM287.9,200.1h0.65v0.65h-0.65zM289.8,190.5h0.65v0.65h-0.65zM289.4,194.8h0.65v0.65h-0.65zM279.2,199.0h0.65v0.65h-0.65zM292.7,200.1h0.65v0.65h-0.65zM277.7,188.8h0.65v0.65h-0.65zM298.4,197.9h0.65v0.65h-0.65zM284.2,198.1h0.65v0.65h-0.65zM291.8,195.6h0.65v0.65h-0.65zM286.8,195.1h0.65v0.65h-0.65zM290.8,191.1h0.65v0.65h-0.65zM287.9,198.1h0.65v0.65h-0.65zM291.3,191.2h0.65v0.65h-0.65zM282.5,194.6h0.65v0.65h-0.65zM294.2,196.1h0.65v0.65h-0.65zM287.0,190.7h0.65v0.65h-0.65zM289.4,205.1h0.65v0.65h-0.65zM285.4,205.6h0.65v0.65h-0.65zM278.2,192.0h0.65v0.65h-0.65zM297.3,192.7h0.65v0.65h-0.65zM286.5,200.0h0.65v0.65h-0.65zM282.4,193.5h0.65v0.65h-0.65zM280.8,201.0h0.65v0.65h-0.65zM291.8,201.4h0.65v0.65h-0.65zM292.5,198.8h0.65v0.65h-0.65zM290.1,198.1h0.65v0.65h-0.65zM283.9,194.8h0.65v0.65h-0.65zM283.1,201.1h0.65v0.65h-0.65zM282.9,195.4h0.65v0.65h-0.65zM294.5,198.7h0.65v0.65h-0.65zM293.6,197.3h0.65v0.65h-0.65zM292.2,195.4h0.65v0.65h-0.65zM286.3,194.9h0.65v0.65h-0.65zM285.5,190.3h0.65v0.65h-0.65zM297.0,188.5h0.65v0.65h-0.65zM295.7,196.2h0.65v0.65h-0.65zM299.4,196.5h0.65v0.65h-0.65zM289.7,200.3h0.65v0.65h-0.65zM280.5,195.9h0.65v0.65h-0.65zM299.5,201.6h0.65v0.65h-0.65zM287.1,192.6h0.65v0.65h-0.65zM286.2,199.0h0.65v0.65h-0.65zM283.6,200.3h0.65v0.65h-0.65zM282.7,199.1h0.65v0.65h-0.65zM292.1,195.9h0.65v0.65h-0.65zM302.9,198.1h0.65v0.65h-0.65zM293.9,203.4h0.65v0.65h-0.65zM287.4,198.5h0.65v0.65h-0.65zM296.0,197.3h0.65v0.65h-0.65zM289.1,196.3h0.65v0.65h-0.65zM294.8,197.2h0.65v0.65h-0.65zM296.9,192.8h0.65v0.65h-0.65zM290.3,200.8h0.65v0.65h-0.65zM283.4,199.9h0.65v0.65h-0.65zM289.4,200.4h0.65v0.65h-0.65zM286.6,196.9h0.65v0.65h-0.65zM282.6,199.7h0.65v0.65h-0.65zM288.7,197.0h0.65v0.65h-0.65zM286.5,201.0h0.65v0.65h-0.65zM291.1,200.7h0.65v0.65h-0.65zM285.8,195.7h0.65v0.65h-0.65zM294.9,204.0h0.65v0.65h-0.65zM301.0,200.3h0.65v0.65h-0.65zM296.0,199.7h0.65v0.65h-0.65zM285.3,195.9h0.65v0.65h-0.65zM282.8,191.5h0.65v0.65h-0.65zM289.7,198.2h0.65v0.65h-0.65zM293.8,204.3h0.65v0.65h-0.65zM283.3,193.3h0.65v0.65h-0.65zM286.9,199.1h0.65v0.65h-0.65zM288.0,192.5h0.65v0.65h-0.65zM293.2,195.8h0.65v0.65h-0.65zM286.1,201.8h0.65v0.65h-0.65zM295.4,194.7h0.65v0.65h-0.65zM291.1,195.2h0.65v0.65h-0.65zM287.5,194.4h0.65v0.65h-0.65zM289.0,194.0h0.65v0.65h-0.65zM292.1,199.7h0.65v0.65h-0.65zM289.1,191.2h0.65v0.65h-0.65zM295.1,195.0h0.65v0.65h-0.65zM299.3,199.7h0.65v0.65h-0.65zM290.2,203.0h0.65v0.65h-0.65zM284.8,197.3h0.65v0.65h-0.65zM294.2,197.5h0.65v0.65h-0.65zM290.4,192.8h0.65v0.65h-0.65zM297.5,192.4h0.65v0.65h-0.65zM275.8,194.7h0.65v0.65h-0.65zM295.8,197.1h0.65v0.65h-0.65zM288.8,196.7h0.65v0.65h-0.65zM292.6,195.5h0.65v0.65h-0.65zM286.8,195.6h0.65v0.65h-0.65zM286.2,199.8h0.65v0.65h-0.65zM289.7,199.2h0.65v0.65h-0.65zM286.8,192.4h0.65v0.65h-0.65zM302.8,201.9h0.65v0.65h-0.65zM293.4,198.7h0.65v0.65h-0.65zM289.5,200.5h0.65v0.65h-0.65zM279.2,197.5h0.65v0.65h-0.65zM296.0,199.9h0.65v0.65h-0.65zM287.6,195.0h0.65v0.65h-0.65zM287.0,200.2h0.65v0.65h-0.65zM297.4,192.8h0.65v0.65h-0.65zM288.5,197.2h0.65v0.65h-0.65zM284.4,202.4h0.65v0.65h-0.65zM285.7,198.5h0.65v0.65h-0.65zM289.5,196.2h0.65v0.65h-0.65zM285.7,192.4h0.65v0.65h-0.65zM294.6,199.5h0.65v0.65h-0.65zM293.0,194.7h0.65v0.65h-0.65zM285.8,196.4h0.65v0.65h-0.65zM285.6,195.8h0.65v0.65h-0.65zM283.8,204.1h0.65v0.65h-0.65zM283.8,184.2h0.65v0.65h-0.65zM287.5,200.6h0.65v0.65h-0.65zM283.5,202.6h0.65v0.65h-0.65zM285.2,201.2h0.65v0.65h-0.65zM293.4,201.2h0.65v0.65h-0.65zM289.1,205.2h0.65v0.65h-0.65zM281.8,203.9h0.65v0.65h-0.65zM286.1,195.6h0.65v0.65h-0.65zM279.0,194.3h0.65v0.65h-0.65zM287.1,190.4h0.65v0.65h-0.65zM283.8,194.9h0.65v0.65h-0.65zM296.8,202.5h0.65v0.65h-0.65zM285.7,192.8h0.65v0.65h-0.65zM287.5,203.0h0.65v0.65h-0.65zM286.0,196.4h0.65v0.65h-0.65zM299.5,196.7h0.65v0.65h-0.65zM286.2,190.5h0.65v0.65h-0.65zM288.8,193.5h0.65v0.65h-0.65zM301.5,194.7h0.65v0.65h-0.65zM287.8,193.5h0.65v0.65h-0.65zM288.9,197.0h0.65v0.65h-0.65zM298.1,192.5h0.65v0.65h-0.65zM285.6,194.6h0.65v0.65h-0.65zM290.9,196.3h0.65v0.65h-0.65zM287.3,198.7h0.65v0.65h-0.65zM286.7,194.8h0.65v0.65h-0.65zM281.7,192.0h0.65v0.65h-0.65zM288.3,198.0h0.65v0.65h-0.65zM300.4,197.6h0.65v0.65h-0.65zM284.9,197.8h0.65v0.65h-0.65zM292.9,197.3h0.65v0.65h-0.65zM301.7,197.0h0.65v0.65h-0.65zM294.9,198.0h0.65v0.65h-0.65zM283.7,197.8h0.65v0.65h-0.65zM291.8,202.3h0.65v0.65h-0.65zM280.8,188.7h0.65v0.65h-0.65zM294.2,198.7h0.65v0.65h-0.65zM294.0,198.9h0.65v0.65h-0.65zM290.8,197.9h0.65v0.65h-0.65zM292.0,194.2h0.65v0.65h-0.65zM290.2,190.1h0.65v0.65h-0.65zM290.8,196.2h0.65v0.65h-0.65zM281.7,193.2h0.65v0.65h-0.65zM285.7,193.2h0.65v0.65h-0.65zM281.8,200.1h0.65v0.65h-0.65zM285.7,196.3h0.65v0.65h-0.65zM284.6,197.1h0.65v0.65h-0.65zM293.5,202.2h0.65v0.65h-0.65zM294.4,192.3h0.65v0.65h-0.65zM295.8,197.2h0.65v0.65h-0.65zM290.8,195.0h0.65v0.65h-0.65zM282.5,196.8h0.65v0.65h-0.65zM285.9,196.3h0.65v0.65h-0.65zM298.6,197.6h0.65v0.65h-0.65zM294.1,201.4h0.65v0.65h-0.65zM282.2,196.1h0.65v0.65h-0.65zM301.3,203.5h0.65v0.65h-0.65zM290.4,189.4h0.65v0.65h-0.65zM293.8,202.5h0.65v0.65h-0.65zM284.6,201.0h0.65v0.65h-0.65zM288.8,193.4h0.65v0.65h-0.65zM295.8,195.7h0.65v0.65h-0.65zM282.4,198.2h0.65v0.65h-0.65zM297.0,203.5h0.65v0.65h-0.65zM285.1,203.8h0.65v0.65h-0.65zM292.2,198.5h0.65v0.65h-0.65zM287.2,195.5h0.65v0.65h-0.65zM287.2,197.9h0.65v0.65h-0.65zM289.1,190.9h0.65v0.65h-0.65zM289.4,195.1h0.65v0.65h-0.65zM297.1,198.4h0.65v0.65h-0.65zM297.8,199.9h0.65v0.65h-0.65zM278.8,194.5h0.65v0.65h-0.65zM293.7,192.0h0.65v0.65h-0.65zM293.4,193.1h0.65v0.65h-0.65zM290.0,198.3h0.65v0.65h-0.65zM288.3,191.7h0.65v0.65h-0.65zM286.3,193.7h0.65v0.65h-0.65zM279.2,199.3h0.65v0.65h-0.65zM288.4,198.4h0.65v0.65h-0.65zM299.0,195.1h0.65v0.65h-0.65zM302.6,190.4h0.65v0.65h-0.65zM287.7,197.8h0.65v0.65h-0.65zM284.4,197.2h0.65v0.65h-0.65zM283.5,201.3h0.65v0.65h-0.65zM290.5,206.9h0.65v0.65h-0.65zM291.5,200.0h0.65v0.65h-0.65zM292.3,194.6h0.65v0.65h-0.65zM289.8,194.0h0.65v0.65h-0.65zM285.5,199.3h0.65v0.65h-0.65zM290.7,204.0h0.65v0.65h-0.65zM301.6,193.9h0.65v0.65h-0.65zM291.1,197.7h0.65v0.65h-0.65zM282.5,199.3h0.65v0.65h-0.65zM277.7,194.2h0.65v0.65h-0.65zM298.4,196.6h0.65v0.65h-0.65zM290.1,200.8h0.65v0.65h-0.65zM295.3,198.5h0.65v0.65h-0.65zM290.5,193.7h0.65v0.65h-0.65zM293.1,201.3h0.65v0.65h-0.65zM296.5,193.7h0.65v0.65h-0.65zM294.8,199.5h0.65v0.65h-0.65zM291.8,203.8h0.65v0.65h-0.65zM285.5,199.0h0.65v0.65h-0.65zM293.7,194.8h0.65v0.65h-0.65zM276.5,200.3h0.65v0.65h-0.65zM288.2,201.4h0.65v0.65h-0.65zM287.7,194.3h0.65v0.65h-0.65zM286.7,194.2h0.65v0.65h-0.65zM293.8,192.8h0.65v0.65h-0.65zM289.5,192.2h0.65v0.65h-0.65zM288.8,193.5h0.65v0.65h-0.65zM293.5,199.9h0.65v0.65h-0.65zM290.1,197.6h0.65v0.65h-0.65zM291.3,192.5h0.65v0.65h-0.65zM282.4,197.7h0.65v0.65h-0.65zM293.0,197.8h0.65v0.65h-0.65zM290.2,195.9h0.65v0.65h-0.65zM294.8,193.7h0.65v0.65h-0.65zM300.7,195.5h0.65v0.65h-0.65zM286.5,198.9h0.65v0.65h-0.65zM282.3,199.6h0.65v0.65h-0.65zM282.4,198.4h0.65v0.65h-0.65zM299.2,196.7h0.65v0.65h-0.65zM281.9,196.5h0.65v0.65h-0.65zM283.6,197.2h0.65v0.65h-0.65zM279.7,201.2h0.65v0.65h-0.65zM297.3,196.6h0.65v0.65h-0.65zM288.2,196.4h0.65v0.65h-0.65zM279.4,193.5h0.65v0.65h-0.65zM290.9,203.5h0.65v0.65h-0.65zM290.3,202.9h0.65v0.65h-0.65zM289.1,201.9h0.65v0.65h-0.65zM290.7,196.1h0.65v0.65h-0.65zM293.9,193.1h0.65v0.65h-0.65zM290.7,200.2h0.65v0.65h-0.65zM282.4,194.9h0.65v0.65h-0.65zM291.4,198.3h0.65v0.65h-0.65zM291.4,202.3h0.65v0.65h-0.65zM283.2,200.6h0.65v0.65h-0.65zM289.8,193.4h0.65v0.65h-0.65zM288.0,195.9h0.65v0.65h-0.65zM284.6,193.6h0.65v0.65h-0.65zM291.2,202.5h0.65v0.65h-0.65zM299.5,204.7h0.65v0.65h-0.65zM279.2,194.5h0.65v0.65h-0.65zM288.7,194.7h0.65v0.65h-0.65zM289.7,191.9h0.65v0.65h-0.65zM284.7,201.0h0.65v0.65h-0.65zM291.0,191.4h0.65v0.65h-0.65zM293.2,206.5h0.65v0.65h-0.65zM295.2,194.8h0.65v0.65h-0.65zM305.4,191.7h0.65v0.65h-0.65zM288.6,199.0h0.65v0.65h-0.65zM290.7,201.3h0.65v0.65h-0.65zM292.9,199.2h0.65v0.65h-0.65zM290.4,196.3h0.65v0.65h-0.65zM286.4,194.5h0.65v0.65h-0.65zM289.5,194.2h0.65v0.65h-0.65zM286.9,197.3h0.65v0.65h-0.65zM300.9,197.7h0.65v0.65h-0.65zM287.6,199.3h0.65v0.65h-0.65zM295.1,195.6h0.65v0.65h-0.65zM287.7,196.5h0.65v0.65h-0.65zM281.4,201.0h0.65v0.65h-0.65zM294.9,190.8h0.65v0.65h-0.65zM293.8,195.6h0.65v0.65h-0.65zM293.1,197.6h0.65v0.65h-0.65zM286.6,193.2h0.65v0.65h-0.65z" fill="#2a2a2a" fill-opacity="0.55"/>
<path d="M301.2,201.6h0.65v0.65h-0.65zM308.0,203.1h0.65v0.65h-0.65zM304.3,195.0h0.65v0.65h-0.65zM307.2,188.3h0.65v0.65h-0.65zM309.4,181.0h0.65v0.65h-0.65zM301.5,196.2h0.65v0.65h-0.65zM307.5,196.9h0.65v0.65h-0.65zM305.1,186.2h0.65v0.65h-0.65zM302.2,190.2h0.65v0.65h-0.65zM306.4,197.4h0.65v0.65h-0.65zM307.1,185.1h0.65v0.65h-0.65zM312.7,205.4h0.65v0.65h-0.65zM308.8,197.4h0.65v0.65h-0.65zM310.3,201.0h0.65v0.65h-0.65zM306.9,191.2h0.65v0.65h-0.65zM313.8,187.7h0.65v0.65h-0.65zM309.3,186.2h0.65v0.65h-0.65zM304.6,194.3h0.65v0.65h-0.65zM305.9,208.1h0.65v0.65h-0.65zM304.3,208.7h0.65v0.65h-0.65zM312.5,178.4h0.65v0.65h-0.65zM310.1,199.1h0.65v0.65h-0.65zM308.9,187.4h0.65v0.65h-0.65zM306.7,194.5h0.65v0.65h-0.65zM300.4,191.0h0.65v0.65h-0.65zM307.6,198.6h0.65v0.65h-0.65zM304.6,189.6h0.65v0.65h-0.65zM309.0,178.2h0.65v0.65h-0.65zM304.3,194.9h0.65v0.65h-0.65zM302.8,190.3h0.65v0.65h-0.65zM313.1,200.2h0.65v0.65h-0.65zM302.9,190.8h0.65v0.65h-0.65zM306.8,205.0h0.65v0.65h-0.65zM310.8,189.5h0.65v0.65h-0.65zM303.6,190.3h0.65v0.65h-0.65zM300.1,195.1h0.65v0.65h-0.65zM304.3,202.6h0.65v0.65h-0.65zM305.2,192.4h0.65v0.65h-0.65zM310.6,198.2h0.65v0.65h-0.65zM310.6,200.5h0.65v0.65h-0.65zM300.7,187.2h0.65v0.65h-0.65zM312.0,186.2h0.65v0.65h-0.65zM307.0,189.3h0.65v0.65h-0.65zM315.0,180.7h0.65v0.65h-0.65zM298.6,185.4h0.65v0.65h-0.65zM301.5,190.5h0.65v0.65h-0.65zM309.8,200.2h0.65v0.65h-0.65zM304.6,180.0h0.65v0.65h-0.65zM311.6,187.4h0.65v0.65h-0.65zM311.4,190.6h0.65v0.65h-0.65zM312.1,193.9h0.65v0.65h-0.65zM298.2,189.7h0.65v0.65h-0.65zM306.8,194.7h0.65v0.65h-0.65zM306.1,188.2h0.65v0.65h-0.65zM310.7,185.2h0.65v0.65h-0.65zM310.8,199.8h0.65v0.65h-0.65zM307.2,187.7h0.65v0.65h-0.65zM308.4,192.3h0.65v0.65h-0.65zM310.8,201.1h0.65v0.65h-0.65z" fill="#333" fill-opacity="0.55"/>
<path d="M283.6,193.4h0.65v0.65h-0.65zM293.4,194.4h0.65v0.65h-0.65zM298.7,195.9h0.65v0.65h-0.65zM287.5,203.0h0.65v0.65h-0.65zM281.3,208.0h0.65v0.65h-0.65zM290.6,205.5h0.65v0.65h-0.65zM284.3,198.0h0.65v0.65h-0.65zM293.7,193.8h0.65v0.65h-0.65zM289.8,201.0h0.65v0.65h-0.65zM284.0,191.9h0.65v0.65h-0.65zM288.5,200.2h0.65v0.65h-0.65zM283.9,197.1h0.65v0.65h-0.65zM279.7,199.1h0.65v0.65h-0.65zM292.1,196.7h0.65v0.65h-0.65zM292.2,186.6h0.65v0.65h-0.65zM294.8,197.6h0.65v0.65h-0.65zM280.1,206.1h0.65v0.65h-0.65zM288.3,211.0h0.65v0.65h-0.65zM304.6,198.0h0.65v0.65h-0.65zM299.5,196.3h0.65v0.65h-0.65zM300.1,191.9h0.65v0.65h-0.65zM294.5,193.0h0.65v0.65h-0.65zM302.9,189.0h0.65v0.65h-0.65zM291.5,206.2h0.65v0.65h-0.65zM293.4,194.2h0.65v0.65h-0.65zM283.0,206.3h0.65v0.65h-0.65zM274.5,198.3h0.65v0.65h-0.65zM284.1,202.3h0.65v0.65h-0.65zM294.0,199.7h0.65v0.65h-0.65zM292.7,193.4h0.65v0.65h-0.65zM297.6,188.4h0.65v0.65h-0.65zM284.1,197.9h0.65v0.65h-0.65zM293.4,196.2h0.65v0.65h-0.65zM293.8,183.7h0.65v0.65h-0.65zM295.0,194.4h0.65v0.65h-0.65zM295.9,192.8h0.65v0.65h-0.65zM283.1,209.2h0.65v0.65h-0.65zM291.7,189.3h0.65v0.65h-0.65zM290.2,200.0h0.65v0.65h-0.65zM293.5,200.0h0.65v0.65h-0.65zM295.5,202.0h0.65v0.65h-0.65zM289.4,201.3h0.65v0.65h-0.65zM293.4,192.5h0.65v0.65h-0.65zM290.9,197.1h0.65v0.65h-0.65zM288.3,197.8h0.65v0.65h-0.65zM288.4,197.7h0.65v0.65h-0.65zM281.3,202.5h0.65v0.65h-0.65zM285.1,198.5h0.65v0.65h-0.65zM295.2,182.9h0.65v0.65h-0.65zM292.0,184.9h0.65v0.65h-0.65zM296.1,194.1h0.65v0.65h-0.65zM282.7,198.9h0.65v0.65h-0.65zM289.8,194.3h0.65v0.65h-0.65zM293.2,202.2h0.65v0.65h-0.65zM268.4,201.6h0.65v0.65h-0.65zM289.8,198.0h0.65v0.65h-0.65zM282.0,208.0h0.65v0.65h-0.65zM298.1,198.0h0.65v0.65h-0.65zM277.4,196.4h0.65v0.65h-0.65zM288.0,205.0h0.65v0.65h-0.65zM305.8,186.8h0.65v0.65h-0.65zM283.7,198.1h0.65v0.65h-0.65zM281.1,193.9h0.65v0.65h-0.65zM283.1,192.8h0.65v0.65h-0.65zM284.0,205.7h0.65v0.65h-0.65zM288.2,201.5h0.65v0.65h-0.65zM298.4,198.2h0.65v0.65h-0.65zM294.0,199.8h0.65v0.65h-0.65zM289.8,202.6h0.65v0.65h-0.65zM276.7,210.4h0.65v0.65h-0.65zM281.2,199.9h0.65v0.65h-0.65zM284.5,203.8h0.65v0.65h-0.65zM291.1,190.9h0.65v0.65h-0.65zM283.6,199.7h0.65v0.65h-0.65zM293.1,199.8h0.65v0.65h-0.65zM295.5,197.7h0.65v0.65h-0.65zM297.3,196.0h0.65v0.65h-0.65zM286.6,197.7h0.65v0.65h-0.65zM288.2,192.2h0.65v0.65h-0.65zM283.5,196.1h0.65v0.65h-0.65zM290.0,189.5h0.65v0.65h-0.65zM297.9,199.1h0.65v0.65h-0.65zM292.1,205.7h0.65v0.65h-0.65zM287.7,201.3h0.65v0.65h-0.65zM310.5,192.6h0.65v0.65h-0.65zM294.8,198.4h0.65v0.65h-0.65zM291.7,196.1h0.65v0.65h-0.65zM285.0,202.7h0.65v0.65h-0.65zM282.0,192.1h0.65v0.65h-0.65zM295.6,194.5h0.65v0.65h-0.65zM294.7,197.5h0.65v0.65h-0.65zM295.4,195.4h0.65v0.65h-0.65zM276.8,194.8h0.65v0.65h-0.65zM295.2,197.9h0.65v0.65h-0.65zM295.3,190.7h0.65v0.65h-0.65zM288.3,199.4h0.65v0.65h-0.65zM294.9,196.8h0.65v0.65h-0.65zM287.8,197.1h0.65v0.65h-0.65zM277.4,202.4h0.65v0.65h-0.65zM295.6,195.3h0.65v0.65h-0.65zM283.4,204.1h0.65v0.65h-0.65zM286.2,190.8h0.65v0.65h-0.65zM285.1,201.5h0.65v0.65h-0.65zM283.2,195.9h0.65v0.65h-0.65zM296.5,192.0h0.65v0.65h-0.65zM279.9,197.4h0.65v0.65h-0.65zM282.4,201.3h0.65v0.65h-0.65zM283.0,193.9h0.65v0.65h-0.65zM295.8,195.1h0.65v0.65h-0.65zM271.8,205.4h0.65v0.65h-0.65zM291.2,190.6h0.65v0.65h-0.65zM289.7,200.9h0.65v0.65h-0.65zM284.8,202.5h0.65v0.65h-0.65zM285.9,200.9h0.65v0.65h-0.65zM281.5,201.8h0.65v0.65h-0.65zM299.6,198.4h0.65v0.65h-0.65zM287.7,194.9h0.65v0.65h-0.65zM290.5,198.8h0.65v0.65h-0.65zM280.5,202.8h0.65v0.65h-0.65zM283.7,203.9h0.65v0.65h-0.65z" fill="#666" fill-opacity="0.45"/>
<ellipse cx="290.00" cy="197.50" rx="8.60" ry="6.00" fill="#cdcdcd" fill-opacity="0.8" stroke="#999" stroke-width="0.7" transform="rotate(-22 290.00 197.50)"/>
<ellipse cx="290.00" cy="197.50" rx="6.02" ry="4.32" fill="#d8d8d8" stroke="#999" stroke-width="0.55" transform="rotate(-22 290.00 197.50)"/>
<ellipse cx="290.00" cy="197.50" rx="3.61" ry="2.88" fill="#e6e6e6" stroke="#999" stroke-width="0.5" transform="rotate(-22 290.00 197.50)"/>
<ellipse cx="290.00" cy="197.50" rx="1.38" ry="1.80" fill="#fff" transform="rotate(-22 290.00 197.50)"/>
<path d="M287.4,200.9h0.65v0.65h-0.65zM295.0,202.4h0.65v0.65h-0.65zM296.5,199.6h0.65v0.65h-0.65zM284.6,202.1h0.65v0.65h-0.65zM294.2,204.1h0.65v0.65h-0.65zM289.2,198.9h0.65v0.65h-0.65zM292.6,202.4h0.65v0.65h-0.65zM286.1,197.2h0.65v0.65h-0.65zM279.2,204.5h0.65v0.65h-0.65zM287.8,201.8h0.65v0.65h-0.65zM292.0,206.5h0.65v0.65h-0.65zM288.0,200.4h0.65v0.65h-0.65zM287.4,203.9h0.65v0.65h-0.65zM287.4,201.5h0.65v0.65h-0.65zM294.8,199.9h0.65v0.65h-0.65zM288.6,202.0h0.65v0.65h-0.65zM276.9,198.8h0.65v0.65h-0.65zM286.5,196.5h0.65v0.65h-0.65zM294.5,198.7h0.65v0.65h-0.65zM293.2,202.2h0.65v0.65h-0.65zM283.6,200.1h0.65v0.65h-0.65zM289.1,202.3h0.65v0.65h-0.65zM294.2,198.6h0.65v0.65h-0.65zM286.8,204.1h0.65v0.65h-0.65zM290.9,200.4h0.65v0.65h-0.65zM285.9,200.1h0.65v0.65h-0.65zM297.0,198.8h0.65v0.65h-0.65zM293.9,200.6h0.65v0.65h-0.65zM283.8,201.3h0.65v0.65h-0.65zM280.4,206.5h0.65v0.65h-0.65zM306.4,199.9h0.65v0.65h-0.65zM294.2,199.8h0.65v0.65h-0.65zM282.2,196.7h0.65v0.65h-0.65zM277.3,203.8h0.65v0.65h-0.65zM290.0,199.4h0.65v0.65h-0.65zM283.2,204.4h0.65v0.65h-0.65zM290.9,203.1h0.65v0.65h-0.65zM289.6,202.5h0.65v0.65h-0.65zM305.0,196.6h0.65v0.65h-0.65zM291.5,198.7h0.65v0.65h-0.65zM288.5,197.5h0.65v0.65h-0.65zM282.4,202.5h0.65v0.65h-0.65zM291.6,202.8h0.65v0.65h-0.65zM285.8,203.4h0.65v0.65h-0.65zM286.4,199.8h0.65v0.65h-0.65zM289.6,206.6h0.65v0.65h-0.65zM291.3,195.6h0.65v0.65h-0.65zM289.4,199.7h0.65v0.65h-0.65zM278.1,201.8h0.65v0.65h-0.65zM290.1,199.7h0.65v0.65h-0.65zM281.3,201.8h0.65v0.65h-0.65zM292.9,201.5h0.65v0.65h-0.65zM288.3,197.6h0.65v0.65h-0.65zM281.8,202.5h0.65v0.65h-0.65zM283.6,201.0h0.65v0.65h-0.65zM296.6,203.5h0.65v0.65h-0.65zM289.5,198.7h0.65v0.65h-0.65zM290.0,196.7h0.65v0.65h-0.65zM285.0,197.1h0.65v0.65h-0.65zM290.3,201.2h0.65v0.65h-0.65z" fill="#666" fill-opacity="0.45"/>
<ellipse cx="288.70" cy="201.40" rx="6.60" ry="3.00" fill="#cdcdcd" fill-opacity="0.8" stroke="#555" stroke-width="0.7" transform="rotate(0 288.70 201.40)"/>
<ellipse cx="288.70" cy="201.40" rx="4.62" ry="2.16" fill="#d8d8d8" stroke="#555" stroke-width="0.55" transform="rotate(0 288.70 201.40)"/>
<ellipse cx="288.70" cy="201.40" rx="2.77" ry="1.44" fill="#e6e6e6" stroke="#555" stroke-width="0.5" transform="rotate(0 288.70 201.40)"/>
<ellipse cx="288.70" cy="201.40" rx="1.06" ry="0.90" fill="#fff" transform="rotate(0 288.70 201.40)"/>
<path d="M311.9,189.7h0.65v0.65h-0.65zM308.9,179.3h0.65v0.65h-0.65zM312.1,199.6h0.65v0.65h-0.65zM313.3,200.3h0.65v0.65h-0.65zM305.6,200.0h0.65v0.65h-0.65zM306.6,208.3h0.65v0.65h-0.65zM305.5,187.5h0.65v0.65h-0.65zM307.6,187.6h0.65v0.65h-0.65zM309.5,182.0h0.65v0.65h-0.65zM308.3,181.3h0.65v0.65h-0.65zM314.0,191.8h0.65v0.65h-0.65zM302.4,195.6h0.65v0.65h-0.65zM304.6,190.2h0.65v0.65h-0.65zM305.2,207.3h0.65v0.65h-0.65zM312.1,172.9h0.65v0.65h-0.65zM305.8,183.7h0.65v0.65h-0.65zM302.7,201.1h0.65v0.65h-0.65zM301.9,176.6h0.65v0.65h-0.65zM307.6,184.6h0.65v0.65h-0.65zM307.5,195.5h0.65v0.65h-0.65zM308.5,184.2h0.65v0.65h-0.65zM306.6,194.7h0.65v0.65h-0.65zM299.0,193.5h0.65v0.65h-0.65zM306.6,206.8h0.65v0.65h-0.65zM308.0,180.5h0.65v0.65h-0.65zM305.2,189.3h0.65v0.65h-0.65zM305.2,183.0h0.65v0.65h-0.65zM312.5,190.9h0.65v0.65h-0.65zM302.3,207.6h0.65v0.65h-0.65zM305.1,187.5h0.65v0.65h-0.65zM306.3,189.0h0.65v0.65h-0.65zM310.9,209.4h0.65v0.65h-0.65zM300.6,196.5h0.65v0.65h-0.65zM308.7,202.4h0.65v0.65h-0.65zM308.3,208.3h0.65v0.65h-0.65zM304.4,188.1h0.65v0.65h-0.65zM305.6,196.9h0.65v0.65h-0.65zM309.2,205.6h0.65v0.65h-0.65zM307.0,196.7h0.65v0.65h-0.65zM304.3,199.1h0.65v0.65h-0.65zM311.7,192.4h0.65v0.65h-0.65zM298.7,206.0h0.65v0.65h-0.65zM306.9,183.7h0.65v0.65h-0.65zM305.4,196.6h0.65v0.65h-0.65zM310.4,200.9h0.65v0.65h-0.65zM306.5,189.9h0.65v0.65h-0.65zM305.2,193.8h0.65v0.65h-0.65zM304.7,188.3h0.65v0.65h-0.65zM304.1,180.2h0.65v0.65h-0.65zM304.4,197.7h0.65v0.65h-0.65zM310.2,195.8h0.65v0.65h-0.65zM302.4,182.3h0.65v0.65h-0.65zM314.9,210.8h0.65v0.65h-0.65zM311.0,188.8h0.65v0.65h-0.65zM301.8,189.9h0.65v0.65h-0.65zM305.8,200.1h0.65v0.65h-0.65zM306.9,183.4h0.65v0.65h-0.65zM302.9,197.2h0.65v0.65h-0.65zM311.1,199.4h0.65v0.65h-0.65zM307.0,197.9h0.65v0.65h-0.65zM301.4,191.0h0.65v0.65h-0.65zM303.0,191.4h0.65v0.65h-0.65zM305.6,185.2h0.65v0.65h-0.65zM310.5,192.3h0.65v0.65h-0.65zM313.0,193.6h0.65v0.65h-0.65zM306.4,185.1h0.65v0.65h-0.65zM304.7,197.6h0.65v0.65h-0.65zM308.0,208.0h0.65v0.65h-0.65zM309.9,187.8h0.65v0.65h-0.65zM303.5,189.3h0.65v0.65h-0.65zM312.2,203.2h0.65v0.65h-0.65zM295.5,187.8h0.65v0.65h-0.65zM315.1,183.1h0.65v0.65h-0.65zM307.6,197.1h0.65v0.65h-0.65zM308.4,189.2h0.65v0.65h-0.65zM306.7,188.1h0.65v0.65h-0.65zM307.3,190.3h0.65v0.65h-0.65zM314.7,201.9h0.65v0.65h-0.65zM303.3,192.1h0.65v0.65h-0.65zM314.7,190.4h0.65v0.65h-0.65zM308.7,206.1h0.65v0.65h-0.65zM304.3,199.3h0.65v0.65h-0.65zM306.6,198.6h0.65v0.65h-0.65zM306.6,199.4h0.65v0.65h-0.65zM310.8,209.0h0.65v0.65h-0.65zM303.9,200.5h0.65v0.65h-0.65zM310.0,181.1h0.65v0.65h-0.65zM313.3,210.5h0.65v0.65h-0.65zM314.8,186.2h0.65v0.65h-0.65zM304.0,207.1h0.65v0.65h-0.65zM307.1,191.3h0.65v0.65h-0.65zM303.2,202.2h0.65v0.65h-0.65zM298.2,187.3h0.65v0.65h-0.65zM309.7,177.4h0.65v0.65h-0.65zM311.4,192.0h0.65v0.65h-0.65zM307.9,192.7h0.65v0.65h-0.65zM308.2,189.5h0.65v0.65h-0.65zM303.3,193.0h0.65v0.65h-0.65zM312.9,198.3h0.65v0.65h-0.65zM308.4,187.1h0.65v0.65h-0.65zM307.9,207.6h0.65v0.65h-0.65zM306.9,192.7h0.65v0.65h-0.65zM304.3,212.1h0.65v0.65h-0.65zM307.2,199.9h0.65v0.65h-0.65zM299.6,198.4h0.65v0.65h-0.65zM309.2,185.2h0.65v0.65h-0.65zM307.2,191.3h0.65v0.65h-0.65zM311.3,196.3h0.65v0.65h-0.65zM306.2,189.5h0.65v0.65h-0.65zM315.4,197.4h0.65v0.65h-0.65zM308.2,195.6h0.65v0.65h-0.65zM309.1,194.8h0.65v0.65h-0.65zM306.5,203.9h0.65v0.65h-0.65zM305.8,187.2h0.65v0.65h-0.65zM304.0,192.3h0.65v0.65h-0.65zM306.0,191.0h0.65v0.65h-0.65zM307.6,192.9h0.65v0.65h-0.65zM310.2,190.3h0.65v0.65h-0.65zM305.2,191.2h0.65v0.65h-0.65zM304.7,195.3h0.65v0.65h-0.65z" fill="#666" fill-opacity="0.45"/>
<ellipse cx="307.70" cy="193.00" rx="4.80" ry="10.00" fill="#cdcdcd" fill-opacity="0.8" stroke="#9a9a9a" stroke-width="0.7" transform="rotate(0 307.70 193.00)"/>
<ellipse cx="307.70" cy="193.00" rx="3.36" ry="7.20" fill="#d8d8d8" stroke="#9a9a9a" stroke-width="0.55" transform="rotate(0 307.70 193.00)"/>
<ellipse cx="307.70" cy="193.00" rx="2.02" ry="4.80" fill="#e6e6e6" stroke="#9a9a9a" stroke-width="0.5" transform="rotate(0 307.70 193.00)"/>
<ellipse cx="307.70" cy="193.00" rx="0.77" ry="3.00" fill="#fff" transform="rotate(0 307.70 193.00)"/>
</g>
<rect x="280.50" y="162.80" width="45.80" height="45.40" fill="none" stroke="#111" stroke-width="1.1"/>
<rect x="298.00" y="175.20" width="23.20" height="31.20" fill="none" stroke="#111" stroke-width="0.75"/>
<text x="309.60" y="173.50" font-size="6.4" text-anchor="middle" fill="#1a1a1a" stroke="#1a1a1a" stroke-width="0.1">29.9</text>
<line x1="316.00" y1="206.40" x2="316.00" y2="216.60" stroke="#111" stroke-width="0.75"/>
<path d="M316.00,218.60 L314.92,216.20 L317.08,216.20 Z" fill="#111"/>
<rect x="288.80" y="222.70" width="20.60" height="25.30" fill="#d2ead3" stroke="#44b04c" stroke-width="0.9"/>
<rect x="290.70" y="253.60" width="28.30" height="11.80" fill="#f7c6b6" stroke="#d2263c" stroke-width="0.9"/>
<clipPath id="cb5"><rect x="280.50" y="219.8" width="45.8" height="46.5"/></clipPath>
<g clip-path="url(#cb5)">
<path d="M305.7,257.5h0.55v0.55h-0.55zM317.0,256.3h0.55v0.55h-0.55zM305.3,259.9h0.55v0.55h-0.55zM308.4,260.3h0.55v0.55h-0.55zM298.9,259.2h0.55v0.55h-0.55zM317.2,260.2h0.55v0.55h-0.55zM307.9,261.1h0.55v0.55h-0.55zM309.8,261.6h0.55v0.55h-0.55zM306.8,259.4h0.55v0.55h-0.55zM310.1,259.4h0.55v0.55h-0.55zM318.2,261.2h0.55v0.55h-0.55zM314.3,260.1h0.55v0.55h-0.55zM309.9,259.1h0.55v0.55h-0.55zM313.2,259.0h0.55v0.55h-0.55zM315.0,259.0h0.55v0.55h-0.55zM305.5,258.4h0.55v0.55h-0.55zM314.9,260.3h0.55v0.55h-0.55zM310.5,256.9h0.55v0.55h-0.55zM309.9,257.3h0.55v0.55h-0.55zM313.6,260.4h0.55v0.55h-0.55zM309.3,259.4h0.55v0.55h-0.55zM310.7,258.8h0.55v0.55h-0.55zM307.4,259.0h0.55v0.55h-0.55zM316.0,262.4h0.55v0.55h-0.55zM305.4,257.8h0.55v0.55h-0.55zM306.1,258.3h0.55v0.55h-0.55zM311.6,259.0h0.55v0.55h-0.55zM308.3,260.1h0.55v0.55h-0.55zM306.9,258.6h0.55v0.55h-0.55zM313.3,258.9h0.55v0.55h-0.55zM309.3,262.5h0.55v0.55h-0.55zM309.7,257.9h0.55v0.55h-0.55zM305.6,261.0h0.55v0.55h-0.55zM314.6,261.2h0.55v0.55h-0.55zM311.6,261.9h0.55v0.55h-0.55zM319.1,260.8h0.55v0.55h-0.55zM311.1,259.2h0.55v0.55h-0.55zM315.6,262.0h0.55v0.55h-0.55zM312.0,258.3h0.55v0.55h-0.55zM312.3,257.6h0.55v0.55h-0.55zM310.6,261.5h0.55v0.55h-0.55zM308.4,259.8h0.55v0.55h-0.55zM314.6,257.6h0.55v0.55h-0.55zM310.7,260.9h0.55v0.55h-0.55zM308.8,258.2h0.55v0.55h-0.55zM310.2,261.1h0.55v0.55h-0.55zM312.3,259.2h0.55v0.55h-0.55zM310.4,261.0h0.55v0.55h-0.55zM324.0,259.0h0.55v0.55h-0.55zM316.7,259.5h0.55v0.55h-0.55zM312.4,260.1h0.55v0.55h-0.55zM313.8,260.6h0.55v0.55h-0.55zM321.7,259.3h0.55v0.55h-0.55zM304.3,261.6h0.55v0.55h-0.55zM309.9,258.9h0.55v0.55h-0.55zM313.3,258.7h0.55v0.55h-0.55zM312.8,259.3h0.55v0.55h-0.55zM314.7,258.4h0.55v0.55h-0.55zM307.8,259.3h0.55v0.55h-0.55zM303.2,259.6h0.55v0.55h-0.55z" fill="#222" fill-opacity="0.45"/>
<path d="M303.30,259.4 C306.18,256.4 315.54,256.0 317.70,258.6 C317.84,262.2 308.34,262.4 303.30,259.4 Z" fill="#5a3a36" fill-opacity="0.8" stroke="#1a1a1a" stroke-width="0.7"/>
<ellipse cx="312.30" cy="259.2" rx="3.60" ry="0.9" fill="#e8d0cc" stroke="#333" stroke-width="0.4"/>
</g>
<rect x="280.50" y="219.80" width="45.80" height="46.50" fill="none" stroke="#111" stroke-width="1.1"/>
<text x="323.70" y="252.20" font-size="6.4" text-anchor="end" fill="#1a1a1a" stroke="#1a1a1a" stroke-width="0.1">100</text>
<text x="11.60" y="193.50" font-size="6.2" text-anchor="middle" fill="#333" stroke="#333" stroke-width="0.1" transform="rotate(-90 11.60 193.50)">SSC</text>
<path d="M9,203 L9,212.4 L18.6,212.4" stroke="#111" stroke-width="0.75" fill="none"/>
<path d="M9.00,202.00 L9.99,204.20 L8.01,204.20 Z" fill="#111"/>
<path d="M20.40,212.40 L18.20,213.39 L18.20,211.41 Z" fill="#111"/>
<text x="23.20" y="215.20" font-size="6.2" fill="#333" stroke="#333" stroke-width="0.1">hCD45</text>
<text x="11.60" y="252.00" font-size="6.2" text-anchor="middle" fill="#333" stroke="#333" stroke-width="0.1" transform="rotate(-90 11.60 252.00)">GFP</text>
<path d="M9,262 L9,271 L18.6,271" stroke="#111" stroke-width="0.75" fill="none"/>
<path d="M9.00,261.00 L9.99,263.20 L8.01,263.20 Z" fill="#111"/>
<path d="M20.40,271.00 L18.20,271.99 L18.20,270.01 Z" fill="#111"/>
<text x="21.80" y="273.60" font-size="6.2" fill="#333" stroke="#333" stroke-width="0.1">RFP657</text>
<text x="339.00" y="15.00" font-size="10.6" font-weight="bold">C</text>
<text x="422.20" y="26.00" font-size="7.6" font-weight="bold" text-anchor="middle" textLength="39.5" lengthAdjust="spacingAndGlyphs">KO vs. WT</text>
<rect x="376.10" y="39.00" width="9.60" height="24.50" fill="#3cb44a"/>
<rect x="376.10" y="63.50" width="9.60" height="25.00" fill="#c8102e"/>
<circle cx="380.90" cy="63.50" r="1.2" fill="#1f55a5"/>
<rect x="400.20" y="38.75" width="9.60" height="26.25" fill="#3cb44a"/>
<rect x="400.20" y="65.00" width="9.60" height="23.50" fill="#c8102e"/>
<circle cx="402.00" cy="66.50" r="1.2" fill="#1f55a5"/>
<circle cx="404.00" cy="67.25" r="1.2" fill="#1f55a5"/>
<circle cx="406.00" cy="67.75" r="1.2" fill="#1f55a5"/>
<circle cx="408.00" cy="68.00" r="1.2" fill="#1f55a5"/>
<circle cx="405.00" cy="59.50" r="1.2" fill="#1f55a5"/>
<circle cx="407.00" cy="61.00" r="1.2" fill="#1f55a5"/>
<line x1="403.20" y1="63.80" x2="406.80" y2="63.80" stroke="#222" stroke-width="0.6"/>
<line x1="405.00" y1="63.80" x2="405.00" y2="66.20" stroke="#222" stroke-width="0.6"/>
<line x1="403.20" y1="37.85" x2="406.80" y2="37.85" stroke="#222" stroke-width="0.6"/>
<line x1="405.00" y1="37.85" x2="405.00" y2="39.35" stroke="#222" stroke-width="0.6"/>
<text x="405.00" y="35.30" font-size="6.0" text-anchor="middle" fill="#222" stroke="#222" stroke-width="0.1">ns</text>
<rect x="412.40" y="38.75" width="9.60" height="11.75" fill="#3cb44a"/>
<rect x="412.40" y="50.50" width="9.60" height="38.00" fill="#c8102e"/>
<circle cx="413.70" cy="48.50" r="1.2" fill="#1f55a5"/>
<circle cx="415.20" cy="49.00" r="1.2" fill="#1f55a5"/>
<circle cx="416.70" cy="49.50" r="1.2" fill="#1f55a5"/>
<circle cx="418.20" cy="50.00" r="1.2" fill="#1f55a5"/>
<circle cx="419.70" cy="50.50" r="1.2" fill="#1f55a5"/>
<circle cx="421.20" cy="51.00" r="1.2" fill="#1f55a5"/>
<circle cx="417.20" cy="47.00" r="1.2" fill="#1f55a5"/>
<line x1="415.40" y1="49.30" x2="419.00" y2="49.30" stroke="#222" stroke-width="0.6"/>
<line x1="417.20" y1="49.30" x2="417.20" y2="51.70" stroke="#222" stroke-width="0.6"/>
<line x1="415.40" y1="37.85" x2="419.00" y2="37.85" stroke="#222" stroke-width="0.6"/>
<line x1="417.20" y1="37.85" x2="417.20" y2="39.35" stroke="#222" stroke-width="0.6"/>
<text x="417.20" y="37.90" font-size="5.6" text-anchor="middle" fill="#222" stroke="#222" stroke-width="0.1">***</text>
<rect x="424.60" y="38.75" width="9.60" height="7.25" fill="#3cb44a"/>
<rect x="424.60" y="46.00" width="9.60" height="42.50" fill="#c8102e"/>
<circle cx="425.90" cy="45.00" r="1.2" fill="#1f55a5"/>
<circle cx="427.40" cy="45.25" r="1.2" fill="#1f55a5"/>
<circle cx="428.90" cy="45.75" r="1.2" fill="#1f55a5"/>
<circle cx="430.40" cy="46.25" r="1.2" fill="#1f55a5"/>
<circle cx="431.90" cy="46.75" r="1.2" fill="#1f55a5"/>
<circle cx="433.40" cy="47.50" r="1.2" fill="#1f55a5"/>
<line x1="427.60" y1="44.80" x2="431.20" y2="44.80" stroke="#222" stroke-width="0.6"/>
<line x1="429.40" y1="44.80" x2="429.40" y2="47.20" stroke="#222" stroke-width="0.6"/>
<line x1="427.60" y1="37.85" x2="431.20" y2="37.85" stroke="#222" stroke-width="0.6"/>
<line x1="429.40" y1="37.85" x2="429.40" y2="39.35" stroke="#222" stroke-width="0.6"/>
<text x="429.40" y="37.90" font-size="5.6" text-anchor="middle" fill="#222" stroke="#222" stroke-width="0.1">***</text>
<rect x="436.80" y="39.00" width="9.60" height="3.00" fill="#3cb44a"/>
<rect x="436.80" y="42.00" width="9.60" height="46.50" fill="#c8102e"/>
<circle cx="438.10" cy="40.50" r="1.2" fill="#1f55a5"/>
<circle cx="439.60" cy="41.00" r="1.2" fill="#1f55a5"/>
<circle cx="441.10" cy="41.50" r="1.2" fill="#1f55a5"/>
<circle cx="442.60" cy="42.00" r="1.2" fill="#1f55a5"/>
<circle cx="444.10" cy="42.50" r="1.2" fill="#1f55a5"/>
<circle cx="445.60" cy="43.00" r="1.2" fill="#1f55a5"/>
<circle cx="441.60" cy="39.50" r="1.2" fill="#1f55a5"/>
<line x1="439.80" y1="40.80" x2="443.40" y2="40.80" stroke="#222" stroke-width="0.6"/>
<line x1="441.60" y1="40.80" x2="441.60" y2="43.20" stroke="#222" stroke-width="0.6"/>
<line x1="439.80" y1="38.10" x2="443.40" y2="38.10" stroke="#222" stroke-width="0.6"/>
<line x1="441.60" y1="38.10" x2="441.60" y2="39.60" stroke="#222" stroke-width="0.6"/>
<text x="441.60" y="37.90" font-size="5.6" text-anchor="middle" fill="#222" stroke="#222" stroke-width="0.1">***</text>
<rect x="449.00" y="39.00" width="9.60" height="3.50" fill="#3cb44a"/>
<rect x="449.00" y="42.50" width="9.60" height="46.00" fill="#c8102e"/>
<circle cx="450.30" cy="41.00" r="1.2" fill="#1f55a5"/>
<circle cx="451.80" cy="41.50" r="1.2" fill="#1f55a5"/>
<circle cx="453.30" cy="41.75" r="1.2" fill="#1f55a5"/>
<circle cx="454.80" cy="42.25" r="1.2" fill="#1f55a5"/>
<circle cx="456.30" cy="42.50" r="1.2" fill="#1f55a5"/>
<circle cx="457.80" cy="43.00" r="1.2" fill="#1f55a5"/>
<circle cx="453.80" cy="39.50" r="1.2" fill="#1f55a5"/>
<line x1="452.00" y1="41.30" x2="455.60" y2="41.30" stroke="#222" stroke-width="0.6"/>
<line x1="453.80" y1="41.30" x2="453.80" y2="43.70" stroke="#222" stroke-width="0.6"/>
<line x1="452.00" y1="38.10" x2="455.60" y2="38.10" stroke="#222" stroke-width="0.6"/>
<line x1="453.80" y1="38.10" x2="453.80" y2="39.60" stroke="#222" stroke-width="0.6"/>
<text x="453.80" y="37.90" font-size="5.6" text-anchor="middle" fill="#222" stroke="#222" stroke-width="0.1">***</text>
<rect x="461.20" y="38.75" width="9.60" height="0.75" fill="#3cb44a"/>
<rect x="461.20" y="39.50" width="9.60" height="49.00" fill="#c8102e"/>
<circle cx="462.50" cy="39.00" r="1.2" fill="#1f55a5"/>
<circle cx="464.00" cy="39.00" r="1.2" fill="#1f55a5"/>
<circle cx="465.50" cy="39.25" r="1.2" fill="#1f55a5"/>
<circle cx="467.00" cy="39.50" r="1.2" fill="#1f55a5"/>
<circle cx="468.50" cy="39.75" r="1.2" fill="#1f55a5"/>
<circle cx="470.00" cy="40.00" r="1.2" fill="#1f55a5"/>
<line x1="464.20" y1="38.30" x2="467.80" y2="38.30" stroke="#222" stroke-width="0.6"/>
<line x1="466.00" y1="38.30" x2="466.00" y2="40.70" stroke="#222" stroke-width="0.6"/>
<line x1="464.20" y1="37.85" x2="467.80" y2="37.85" stroke="#222" stroke-width="0.6"/>
<line x1="466.00" y1="37.85" x2="466.00" y2="39.35" stroke="#222" stroke-width="0.6"/>
<text x="466.00" y="37.90" font-size="5.6" text-anchor="middle" fill="#222" stroke="#222" stroke-width="0.1">***</text>
<line x1="392.90" y1="35.60" x2="392.90" y2="88.50" stroke="#333" stroke-width="0.8" stroke-dasharray="2.2,1.6"/>
<line x1="371.20" y1="35.60" x2="371.20" y2="88.90" stroke="#111" stroke-width="0.9"/>
<line x1="370.80" y1="88.50" x2="473.50" y2="88.50" stroke="#111" stroke-width="0.9"/>
<line x1="368.80" y1="88.50" x2="371.20" y2="88.50" stroke="#111" stroke-width="0.8"/>
<text x="364.90" y="90.90" font-size="6.7" text-anchor="end" fill="#222" stroke="#222" stroke-width="0.1">0</text>
<line x1="368.80" y1="78.50" x2="371.20" y2="78.50" stroke="#111" stroke-width="0.8"/>
<text x="364.90" y="80.90" font-size="6.7" text-anchor="end" fill="#222" stroke="#222" stroke-width="0.1">20</text>
<line x1="368.80" y1="68.50" x2="371.20" y2="68.50" stroke="#111" stroke-width="0.8"/>
<text x="364.90" y="70.90" font-size="6.7" text-anchor="end" fill="#222" stroke="#222" stroke-width="0.1">40</text>
<line x1="368.80" y1="58.50" x2="371.20" y2="58.50" stroke="#111" stroke-width="0.8"/>
<text x="364.90" y="60.90" font-size="6.7" text-anchor="end" fill="#222" stroke="#222" stroke-width="0.1">60</text>
<line x1="368.80" y1="48.50" x2="371.20" y2="48.50" stroke="#111" stroke-width="0.8"/>
<text x="364.90" y="50.90" font-size="6.7" text-anchor="end" fill="#222" stroke="#222" stroke-width="0.1">80</text>
<line x1="368.80" y1="38.50" x2="371.20" y2="38.50" stroke="#111" stroke-width="0.8"/>
<text x="364.90" y="40.90" font-size="6.7" text-anchor="end" fill="#222" stroke="#222" stroke-width="0.1">100</text>
<text x="347.30" y="61.70" font-size="10" text-anchor="middle" fill="#1a1a1a" stroke="#1a1a1a" stroke-width="0.3" textLength="42.4" lengthAdjust="spacingAndGlyphs" transform="rotate(-90 347.30 61.70)">Chimerism [%]</text>
<rect x="475.20" y="35.20" width="5.40" height="5.20" fill="#3cb44a"/>
<rect x="475.20" y="45.50" width="5.40" height="5.20" fill="#c8102e"/>
<text x="483.00" y="40.40" font-size="6.6" fill="#222" stroke="#222" stroke-width="0.1">WT</text>
<text x="483.00" y="50.70" font-size="6.6" fill="#222" stroke="#222" stroke-width="0.1">KO</text>
<text x="383.50" y="91.90" font-size="7.3" text-anchor="end" fill="#1a1a1a" stroke="#1a1a1a" stroke-width="0.1" transform="rotate(-45 383.50 91.90)">Pretransplant</text>
<text x="407.60" y="91.90" font-size="7.3" text-anchor="end" fill="#1a1a1a" stroke="#1a1a1a" stroke-width="0.1" transform="rotate(-45 407.60 91.90)">Vehicle</text>
<text x="419.80" y="91.90" font-size="7.3" text-anchor="end" fill="#1a1a1a" stroke="#1a1a1a" stroke-width="0.1" transform="rotate(-45 419.80 91.90)">Ven</text>
<text x="432.00" y="91.90" font-size="7.3" text-anchor="end" fill="#1a1a1a" stroke="#1a1a1a" stroke-width="0.1" transform="rotate(-45 432.00 91.90)">Dec</text>
<text x="444.20" y="91.90" font-size="7.3" text-anchor="end" fill="#1a1a1a" stroke="#1a1a1a" stroke-width="0.1" transform="rotate(-45 444.20 91.90)">Aza</text>
<text x="456.40" y="91.90" font-size="7.3" text-anchor="end" fill="#1a1a1a" stroke="#1a1a1a" stroke-width="0.1" transform="rotate(-45 456.40 91.90)">Dec+Ven</text>
<text x="468.60" y="91.90" font-size="7.3" text-anchor="end" fill="#1a1a1a" stroke="#1a1a1a" stroke-width="0.1" transform="rotate(-45 468.60 91.90)">Aza+Ven</text>
<text x="339.00" y="150.00" font-size="10.6" font-weight="bold">D</text>
<text x="422.70" y="161.00" font-size="7.6" font-weight="bold" text-anchor="middle" textLength="63" lengthAdjust="spacingAndGlyphs">R248Q/– vs. WT</text>
<rect x="376.10" y="173.75" width="9.60" height="23.75" fill="#3cb44a"/>
<rect x="376.10" y="197.50" width="9.60" height="26.00" fill="#c8102e"/>
<circle cx="380.90" cy="197.50" r="1.2" fill="#1f55a5"/>
<rect x="400.20" y="174.00" width="9.60" height="25.00" fill="#3cb44a"/>
<rect x="400.20" y="199.00" width="9.60" height="24.50" fill="#c8102e"/>
<circle cx="402.00" cy="198.50" r="1.2" fill="#1f55a5"/>
<circle cx="404.00" cy="199.50" r="1.2" fill="#1f55a5"/>
<circle cx="406.00" cy="200.00" r="1.2" fill="#1f55a5"/>
<circle cx="408.00" cy="200.50" r="1.2" fill="#1f55a5"/>
<circle cx="405.00" cy="195.50" r="1.2" fill="#1f55a5"/>
<circle cx="407.00" cy="197.00" r="1.2" fill="#1f55a5"/>
<line x1="403.20" y1="197.80" x2="406.80" y2="197.80" stroke="#222" stroke-width="0.6"/>
<line x1="405.00" y1="197.80" x2="405.00" y2="200.20" stroke="#222" stroke-width="0.6"/>
<line x1="403.20" y1="173.10" x2="406.80" y2="173.10" stroke="#222" stroke-width="0.6"/>
<line x1="405.00" y1="173.10" x2="405.00" y2="174.60" stroke="#222" stroke-width="0.6"/>
<text x="405.00" y="170.30" font-size="6.0" text-anchor="middle" fill="#222" stroke="#222" stroke-width="0.1">ns</text>
<rect x="412.40" y="173.75" width="9.60" height="7.75" fill="#3cb44a"/>
<rect x="412.40" y="181.50" width="9.60" height="42.00" fill="#c8102e"/>
<circle cx="413.70" cy="180.00" r="1.2" fill="#1f55a5"/>
<circle cx="415.20" cy="180.50" r="1.2" fill="#1f55a5"/>
<circle cx="416.70" cy="181.00" r="1.2" fill="#1f55a5"/>
<circle cx="418.20" cy="181.25" r="1.2" fill="#1f55a5"/>
<circle cx="419.70" cy="181.50" r="1.2" fill="#1f55a5"/>
<circle cx="421.20" cy="181.75" r="1.2" fill="#1f55a5"/>
<line x1="415.40" y1="180.30" x2="419.00" y2="180.30" stroke="#222" stroke-width="0.6"/>
<line x1="417.20" y1="180.30" x2="417.20" y2="182.70" stroke="#222" stroke-width="0.6"/>
<line x1="415.40" y1="172.85" x2="419.00" y2="172.85" stroke="#222" stroke-width="0.6"/>
<line x1="417.20" y1="172.85" x2="417.20" y2="174.35" stroke="#222" stroke-width="0.6"/>
<text x="417.20" y="172.90" font-size="5.6" text-anchor="middle" fill="#222" stroke="#222" stroke-width="0.1">***</text>
<rect x="424.60" y="175.00" width="9.60" height="7.50" fill="#3cb44a"/>
<rect x="424.60" y="182.50" width="9.60" height="41.00" fill="#c8102e"/>
<circle cx="425.90" cy="181.50" r="1.2" fill="#1f55a5"/>
<circle cx="427.40" cy="182.00" r="1.2" fill="#1f55a5"/>
<circle cx="428.90" cy="182.00" r="1.2" fill="#1f55a5"/>
<circle cx="430.40" cy="182.25" r="1.2" fill="#1f55a5"/>
<circle cx="431.90" cy="182.50" r="1.2" fill="#1f55a5"/>
<circle cx="433.40" cy="182.50" r="1.2" fill="#1f55a5"/>
<circle cx="429.40" cy="178.50" r="1.2" fill="#1f55a5"/>
<line x1="427.60" y1="181.30" x2="431.20" y2="181.30" stroke="#222" stroke-width="0.6"/>
<line x1="429.40" y1="181.30" x2="429.40" y2="183.70" stroke="#222" stroke-width="0.6"/>
<line x1="427.60" y1="174.10" x2="431.20" y2="174.10" stroke="#222" stroke-width="0.6"/>
<line x1="429.40" y1="174.10" x2="429.40" y2="175.60" stroke="#222" stroke-width="0.6"/>
<text x="429.40" y="172.90" font-size="5.6" text-anchor="middle" fill="#222" stroke="#222" stroke-width="0.1">***</text>
<rect x="436.80" y="173.75" width="9.60" height="1.75" fill="#3cb44a"/>
<rect x="436.80" y="175.50" width="9.60" height="48.00" fill="#c8102e"/>
<circle cx="438.10" cy="174.00" r="1.2" fill="#1f55a5"/>
<circle cx="439.60" cy="174.25" r="1.2" fill="#1f55a5"/>
<circle cx="441.10" cy="174.50" r="1.2" fill="#1f55a5"/>
<circle cx="442.60" cy="174.75" r="1.2" fill="#1f55a5"/>
<circle cx="444.10" cy="175.00" r="1.2" fill="#1f55a5"/>
<circle cx="445.60" cy="175.25" r="1.2" fill="#1f55a5"/>
<line x1="439.80" y1="174.30" x2="443.40" y2="174.30" stroke="#222" stroke-width="0.6"/>
<line x1="441.60" y1="174.30" x2="441.60" y2="176.70" stroke="#222" stroke-width="0.6"/>
<line x1="439.80" y1="172.85" x2="443.40" y2="172.85" stroke="#222" stroke-width="0.6"/>
<line x1="441.60" y1="172.85" x2="441.60" y2="174.35" stroke="#222" stroke-width="0.6"/>
<text x="441.60" y="172.90" font-size="5.6" text-anchor="middle" fill="#222" stroke="#222" stroke-width="0.1">***</text>
<rect x="449.00" y="173.75" width="9.60" height="0.75" fill="#3cb44a"/>
<rect x="449.00" y="174.50" width="9.60" height="49.00" fill="#c8102e"/>
<circle cx="450.30" cy="174.00" r="1.2" fill="#1f55a5"/>
<circle cx="451.80" cy="174.25" r="1.2" fill="#1f55a5"/>
<circle cx="453.30" cy="174.25" r="1.2" fill="#1f55a5"/>
<circle cx="454.80" cy="174.50" r="1.2" fill="#1f55a5"/>
<circle cx="456.30" cy="174.50" r="1.2" fill="#1f55a5"/>
<circle cx="457.80" cy="174.75" r="1.2" fill="#1f55a5"/>
<line x1="452.00" y1="173.30" x2="455.60" y2="173.30" stroke="#222" stroke-width="0.6"/>
<line x1="453.80" y1="173.30" x2="453.80" y2="175.70" stroke="#222" stroke-width="0.6"/>
<line x1="452.00" y1="172.85" x2="455.60" y2="172.85" stroke="#222" stroke-width="0.6"/>
<line x1="453.80" y1="172.85" x2="453.80" y2="174.35" stroke="#222" stroke-width="0.6"/>
<text x="453.80" y="172.90" font-size="5.6" text-anchor="middle" fill="#222" stroke="#222" stroke-width="0.1">***</text>
<rect x="461.20" y="173.75" width="9.60" height="0.75" fill="#3cb44a"/>
<rect x="461.20" y="174.50" width="9.60" height="49.00" fill="#c8102e"/>
<circle cx="462.50" cy="173.75" r="1.2" fill="#1f55a5"/>
<circle cx="464.00" cy="174.00" r="1.2" fill="#1f55a5"/>
<circle cx="465.50" cy="174.00" r="1.2" fill="#1f55a5"/>
<circle cx="467.00" cy="174.25" r="1.2" fill="#1f55a5"/>
<circle cx="468.50" cy="174.50" r="1.2" fill="#1f55a5"/>
<circle cx="470.00" cy="174.75" r="1.2" fill="#1f55a5"/>
<line x1="464.20" y1="173.30" x2="467.80" y2="173.30" stroke="#222" stroke-width="0.6"/>
<line x1="466.00" y1="173.30" x2="466.00" y2="175.70" stroke="#222" stroke-width="0.6"/>
<line x1="464.20" y1="172.85" x2="467.80" y2="172.85" stroke="#222" stroke-width="0.6"/>
<line x1="466.00" y1="172.85" x2="466.00" y2="174.35" stroke="#222" stroke-width="0.6"/>
<text x="466.00" y="172.90" font-size="5.6" text-anchor="middle" fill="#222" stroke="#222" stroke-width="0.1">***</text>
<line x1="392.90" y1="170.60" x2="392.90" y2="223.50" stroke="#333" stroke-width="0.8" stroke-dasharray="2.2,1.6"/>
<line x1="371.20" y1="170.60" x2="371.20" y2="223.90" stroke="#111" stroke-width="0.9"/>
<line x1="370.80" y1="223.50" x2="473.50" y2="223.50" stroke="#111" stroke-width="0.9"/>
<line x1="368.80" y1="223.50" x2="371.20" y2="223.50" stroke="#111" stroke-width="0.8"/>
<text x="364.90" y="225.90" font-size="6.7" text-anchor="end" fill="#222" stroke="#222" stroke-width="0.1">0</text>
<line x1="368.80" y1="213.50" x2="371.20" y2="213.50" stroke="#111" stroke-width="0.8"/>
<text x="364.90" y="215.90" font-size="6.7" text-anchor="end" fill="#222" stroke="#222" stroke-width="0.1">20</text>
<line x1="368.80" y1="203.50" x2="371.20" y2="203.50" stroke="#111" stroke-width="0.8"/>
<text x="364.90" y="205.90" font-size="6.7" text-anchor="end" fill="#222" stroke="#222" stroke-width="0.1">40</text>
<line x1="368.80" y1="193.50" x2="371.20" y2="193.50" stroke="#111" stroke-width="0.8"/>
<text x="364.90" y="195.90" font-size="6.7" text-anchor="end" fill="#222" stroke="#222" stroke-width="0.1">60</text>
<line x1="368.80" y1="183.50" x2="371.20" y2="183.50" stroke="#111" stroke-width="0.8"/>
<text x="364.90" y="185.90" font-size="6.7" text-anchor="end" fill="#222" stroke="#222" stroke-width="0.1">80</text>
<line x1="368.80" y1="173.50" x2="371.20" y2="173.50" stroke="#111" stroke-width="0.8"/>
<text x="364.90" y="175.90" font-size="6.7" text-anchor="end" fill="#222" stroke="#222" stroke-width="0.1">100</text>
<text x="347.30" y="196.70" font-size="10" text-anchor="middle" fill="#1a1a1a" stroke="#1a1a1a" stroke-width="0.3" textLength="42.4" lengthAdjust="spacingAndGlyphs" transform="rotate(-90 347.30 196.70)">Chimerism [%]</text>
<rect x="475.20" y="170.20" width="5.40" height="5.20" fill="#3cb44a"/>
<rect x="475.20" y="180.50" width="5.40" height="5.20" fill="#c8102e"/>
<text x="483.00" y="175.40" font-size="6.6" fill="#222" stroke="#222" stroke-width="0.1">WT</text>
<text x="483.00" y="185.70" font-size="6.6" fill="#222" stroke="#222" stroke-width="0.1">R248Q/–</text>
<text x="383.50" y="226.90" font-size="7.3" text-anchor="end" fill="#1a1a1a" stroke="#1a1a1a" stroke-width="0.1" transform="rotate(-45 383.50 226.90)">Pretransplant</text>
<text x="407.60" y="226.90" font-size="7.3" text-anchor="end" fill="#1a1a1a" stroke="#1a1a1a" stroke-width="0.1" transform="rotate(-45 407.60 226.90)">Vehicle</text>
<text x="419.80" y="226.90" font-size="7.3" text-anchor="end" fill="#1a1a1a" stroke="#1a1a1a" stroke-width="0.1" transform="rotate(-45 419.80 226.90)">Ven</text>
<text x="432.00" y="226.90" font-size="7.3" text-anchor="end" fill="#1a1a1a" stroke="#1a1a1a" stroke-width="0.1" transform="rotate(-45 432.00 226.90)">Dec</text>
<text x="444.20" y="226.90" font-size="7.3" text-anchor="end" fill="#1a1a1a" stroke="#1a1a1a" stroke-width="0.1" transform="rotate(-45 444.20 226.90)">Aza</text>
<text x="456.40" y="226.90" font-size="7.3" text-anchor="end" fill="#1a1a1a" stroke="#1a1a1a" stroke-width="0.1" transform="rotate(-45 456.40 226.90)">Dec+Ven</text>
<text x="468.60" y="226.90" font-size="7.3" text-anchor="end" fill="#1a1a1a" stroke="#1a1a1a" stroke-width="0.1" transform="rotate(-45 468.60 226.90)">Aza+Ven</text>
<text x="7.20" y="297.60" font-size="10.6" font-weight="bold">E</text>
<text x="62.60" y="307.80" font-size="8.0" font-weight="bold" text-anchor="middle">WT</text>
<line x1="34.90" y1="311.40" x2="90.30" y2="311.40" stroke="#5a5a5a" stroke-width="1.3"/>
<text x="41.20" y="319.60" font-size="6.0" text-anchor="middle" fill="#c8102e" stroke="#c8102e" stroke-width="0.1">Dec</text>
<text x="55.50" y="319.60" font-size="6.0" text-anchor="middle" fill="#333" stroke="#333" stroke-width="0.1">ctrl.</text>
<text x="69.70" y="319.60" font-size="6.0" text-anchor="middle" fill="#c8102e" stroke="#c8102e" stroke-width="0.1">Dec</text>
<text x="83.90" y="319.60" font-size="6.0" text-anchor="middle" fill="#333" stroke="#333" stroke-width="0.1">ctrl.</text>
<rect x="34.90" y="322.30" width="55.40" height="34.70" fill="#161616"/>
<clipPath id="mcE00"><rect x="34.9" y="322.30" width="55.4" height="34.7"/></clipPath>
<g clip-path="url(#mcE00)">
<g transform="translate(42.40 323.70) rotate(0.3) scale(0.96 1)">
<path d="M-4.2,25.5 L-6.4,30.5 M4.2,25.5 L6.2,30.8 M0,28 L0.3,34 M-3.6,9.8 L-5.0,11.2 M3.6,9.8 L5.0,11.2" stroke="#9a9a9a" stroke-width="0.9" fill="none"/>
<use href="#mouse" fill="url(#mouseG)" filter="url(#mot3)"/>
</g>
<g transform="translate(55.20 323.70) rotate(0.2) scale(0.96 1)">
<path d="M-4.2,25.5 L-6.4,30.5 M4.2,25.5 L6.2,30.8 M0,28 L0.3,34 M-3.6,9.8 L-5.0,11.2 M3.6,9.8 L5.0,11.2" stroke="#9a9a9a" stroke-width="0.9" fill="none"/>
<use href="#mouse" fill="url(#mouseG)" filter="url(#mot3)"/>
</g>
<g transform="translate(68.60 323.70) rotate(-2.2) scale(0.96 1)">
<path d="M-4.2,25.5 L-6.4,30.5 M4.2,25.5 L6.2,30.8 M0,28 L0.3,34 M-3.6,9.8 L-5.0,11.2 M3.6,9.8 L5.0,11.2" stroke="#9a9a9a" stroke-width="0.9" fill="none"/>
<use href="#mouse" fill="url(#mouseG)" filter="url(#mot5)"/>
</g>
<g transform="translate(82.50 323.70) rotate(-0.2) scale(0.96 1)">
<path d="M-4.2,25.5 L-6.4,30.5 M4.2,25.5 L6.2,30.8 M0,28 L0.3,34 M-3.6,9.8 L-5.0,11.2 M3.6,9.8 L5.0,11.2" stroke="#9a9a9a" stroke-width="0.9" fill="none"/>
<use href="#mouse" fill="url(#mouseG)" filter="url(#mot0)"/>
</g>
</g>
<rect x="34.90" y="358.40" width="55.40" height="34.30" fill="#161616"/>
<clipPath id="mcE01"><rect x="34.9" y="358.40" width="55.4" height="34.3"/></clipPath>
<g clip-path="url(#mcE01)">
<g transform="translate(42.40 359.80) rotate(-1.0) scale(0.96 1)">
<path d="M-4.2,25.5 L-6.4,30.5 M4.2,25.5 L6.2,30.8 M0,28 L0.3,34 M-3.6,9.8 L-5.0,11.2 M3.6,9.8 L5.0,11.2" stroke="#9a9a9a" stroke-width="0.9" fill="none"/>
<use href="#mouse" fill="url(#mouseG)" filter="url(#mot3)"/>
<ellipse cx="-4" cy="25.5" rx="3.6" ry="3" fill="url(#blobB)"/>
<ellipse cx="4.2" cy="25" rx="1.6" ry="1.8" fill="url(#blobB)"/>
</g>
<g transform="translate(55.20 359.80) rotate(-0.2) scale(0.96 1)">
<path d="M-4.2,25.5 L-6.4,30.5 M4.2,25.5 L6.2,30.8 M0,28 L0.3,34 M-3.6,9.8 L-5.0,11.2 M3.6,9.8 L5.0,11.2" stroke="#9a9a9a" stroke-width="0.9" fill="none"/>
<use href="#mouse" fill="url(#mouseG)" filter="url(#mot5)"/>
<use href="#mouse" fill="#4646cc" clip-path="url(#bc5_5)"/>
<ellipse cx="0" cy="16.8" rx="3.2" ry="8.7" fill="#3c6ee0" fill-opacity="0.45" filter="url(#bl1)"/>
<ellipse cx="0" cy="12" rx="2.6" ry="4" fill="url(#blobL)"/>
<ellipse cx="-2.5" cy="23" rx="2" ry="2" fill="url(#blobC)"/>
<ellipse cx="2.5" cy="24" rx="1.8" ry="1.8" fill="url(#blobL)"/>
</g>
<g transform="translate(68.60 359.80) rotate(-1.5) scale(0.96 1)">
<path d="M-4.2,25.5 L-6.4,30.5 M4.2,25.5 L6.2,30.8 M0,28 L0.3,34 M-3.6,9.8 L-5.0,11.2 M3.6,9.8 L5.0,11.2" stroke="#9a9a9a" stroke-width="0.9" fill="none"/>
<use href="#mouse" fill="url(#mouseG)" filter="url(#mot2)"/>
</g>
<g transform="translate(82.50 359.80) rotate(0.2) scale(0.96 1)">
<path d="M-4.2,25.5 L-6.4,30.5 M4.2,25.5 L6.2,30.8 M0,28 L0.3,34 M-3.6,9.8 L-5.0,11.2 M3.6,9.8 L5.0,11.2" stroke="#9a9a9a" stroke-width="0.9" fill="none"/>
<use href="#mouse" fill="url(#mouseG)" filter="url(#mot5)"/>
<use href="#mouse" fill="#4646cc" clip-path="url(#bc5_0)"/>
<ellipse cx="0" cy="16.5" rx="3.2" ry="8.8" fill="#3c6ee0" fill-opacity="0.45" filter="url(#bl1)"/>
<ellipse cx="0" cy="13" rx="2.5" ry="4" fill="url(#blobL)"/>
<ellipse cx="-1.5" cy="24" rx="2.2" ry="2.2" fill="url(#blobC)"/>
<ellipse cx="2.5" cy="25" rx="2" ry="2" fill="url(#blobC)"/>
</g>
</g>
<text x="125.20" y="307.80" font-size="8.0" font-weight="bold" text-anchor="middle">KO</text>
<line x1="97.50" y1="311.40" x2="152.90" y2="311.40" stroke="#5a5a5a" stroke-width="1.3"/>
<text x="103.80" y="319.60" font-size="6.0" text-anchor="middle" fill="#c8102e" stroke="#c8102e" stroke-width="0.1">Dec</text>
<text x="118.10" y="319.60" font-size="6.0" text-anchor="middle" fill="#333" stroke="#333" stroke-width="0.1">ctrl.</text>
<text x="132.30" y="319.60" font-size="6.0" text-anchor="middle" fill="#c8102e" stroke="#c8102e" stroke-width="0.1">Dec</text>
<text x="146.50" y="319.60" font-size="6.0" text-anchor="middle" fill="#333" stroke="#333" stroke-width="0.1">ctrl.</text>
<rect x="97.50" y="322.30" width="55.40" height="34.70" fill="#161616"/>
<clipPath id="mcE10"><rect x="97.5" y="322.30" width="55.4" height="34.7"/></clipPath>
<g clip-path="url(#mcE10)">
<g transform="translate(105.00 323.70) rotate(-1.6) scale(0.96 1)">
<path d="M-4.2,25.5 L-6.4,30.5 M4.2,25.5 L6.2,30.8 M0,28 L0.3,34 M-3.6,9.8 L-5.0,11.2 M3.6,9.8 L5.0,11.2" stroke="#9a9a9a" stroke-width="0.9" fill="none"/>
<use href="#mouse" fill="url(#mouseG)" filter="url(#mot5)"/>
</g>
<g transform="translate(117.80 323.70) rotate(-2.9) scale(0.96 1)">
<path d="M-4.2,25.5 L-6.4,30.5 M4.2,25.5 L6.2,30.8 M0,28 L0.3,34 M-3.6,9.8 L-5.0,11.2 M3.6,9.8 L5.0,11.2" stroke="#9a9a9a" stroke-width="0.9" fill="none"/>
<use href="#mouse" fill="url(#mouseG)" filter="url(#mot3)"/>
</g>
<g transform="translate(131.20 323.70) rotate(-0.1) scale(0.96 1)">
<path d="M-4.2,25.5 L-6.4,30.5 M4.2,25.5 L6.2,30.8 M0,28 L0.3,34 M-3.6,9.8 L-5.0,11.2 M3.6,9.8 L5.0,11.2" stroke="#9a9a9a" stroke-width="0.9" fill="none"/>
<use href="#mouse" fill="url(#mouseG)" filter="url(#mot3)"/>
</g>
<g transform="translate(145.10 323.70) rotate(-0.7) scale(0.96 1)">
<path d="M-4.2,25.5 L-6.4,30.5 M4.2,25.5 L6.2,30.8 M0,28 L0.3,34 M-3.6,9.8 L-5.0,11.2 M3.6,9.8 L5.0,11.2" stroke="#9a9a9a" stroke-width="0.9" fill="none"/>
<use href="#mouse" fill="url(#mouseG)" filter="url(#mot1)"/>
</g>
</g>
<rect x="97.50" y="358.40" width="55.40" height="34.30" fill="#161616"/>
<clipPath id="mcE11"><rect x="97.5" y="358.40" width="55.4" height="34.3"/></clipPath>
<g clip-path="url(#mcE11)">
<g transform="translate(105.00 359.80) rotate(-2.9) scale(0.96 1)">
<path d="M-4.2,25.5 L-6.4,30.5 M4.2,25.5 L6.2,30.8 M0,28 L0.3,34 M-3.6,9.8 L-5.0,11.2 M3.6,9.8 L5.0,11.2" stroke="#9a9a9a" stroke-width="0.9" fill="none"/>
<use href="#mouse" fill="url(#mouseG)" filter="url(#mot1)"/>
<use href="#mouse" fill="#4646cc" clip-path="url(#bc6_0)"/>
<ellipse cx="0" cy="17.0" rx="3.2" ry="8.5" fill="#3c6ee0" fill-opacity="0.45" filter="url(#bl1)"/>
<ellipse cx="-4" cy="24" rx="3" ry="3" fill="url(#blobC)"/>
<ellipse cx="2" cy="26" rx="1.5" ry="1.5" fill="url(#blobL)"/>
<ellipse cx="-5" cy="24" rx="3.5" ry="4" fill="url(#blobB)"/>
</g>
<g transform="translate(117.80 359.80) rotate(1.8) scale(0.96 1)">
<path d="M-4.2,25.5 L-6.4,30.5 M4.2,25.5 L6.2,30.8 M0,28 L0.3,34 M-3.6,9.8 L-5.0,11.2 M3.6,9.8 L5.0,11.2" stroke="#9a9a9a" stroke-width="0.9" fill="none"/>
<use href="#mouse" fill="url(#mouseG)" filter="url(#mot5)"/>
<use href="#mouse" fill="#4646cc" clip-path="url(#bc6_0)"/>
<ellipse cx="0" cy="17.0" rx="3.2" ry="8.5" fill="#3c6ee0" fill-opacity="0.45" filter="url(#bl1)"/>
<ellipse cx="-1" cy="24" rx="2.8" ry="2.8" fill="url(#blobC)"/>
<ellipse cx="3.5" cy="23" rx="1.6" ry="1.6" fill="url(#blobL)"/>
</g>
<g transform="translate(131.20 359.80) rotate(2.3) scale(0.96 1)">
<path d="M-4.2,25.5 L-6.4,30.5 M4.2,25.5 L6.2,30.8 M0,28 L0.3,34 M-3.6,9.8 L-5.0,11.2 M3.6,9.8 L5.0,11.2" stroke="#9a9a9a" stroke-width="0.9" fill="none"/>
<use href="#mouse" fill="url(#mouseG)" filter="url(#mot5)"/>
<use href="#mouse" fill="#4646cc" clip-path="url(#bc3_0)"/>
<ellipse cx="0" cy="15.5" rx="3.2" ry="9.6" fill="#3c6ee0" fill-opacity="0.45" filter="url(#bl1)"/>
<ellipse cx="0" cy="8" rx="2.2" ry="2.2" fill="url(#blobC)"/>
<ellipse cx="1" cy="12" rx="1.8" ry="1.8" fill="url(#blobC)"/>
<ellipse cx="2" cy="25" rx="1.8" ry="1.8" fill="url(#blobL)"/>
</g>
<g transform="translate(145.10 359.80) rotate(-0.5) scale(0.96 1)">
<path d="M-4.2,25.5 L-6.4,30.5 M4.2,25.5 L6.2,30.8 M0,28 L0.3,34 M-3.6,9.8 L-5.0,11.2 M3.6,9.8 L5.0,11.2" stroke="#9a9a9a" stroke-width="0.9" fill="none"/>
<use href="#mouse" fill="url(#mouseG)" filter="url(#mot0)"/>
<use href="#mouse" fill="#4646cc" clip-path="url(#bc5_0)"/>
<ellipse cx="0" cy="16.5" rx="3.2" ry="8.8" fill="#3c6ee0" fill-opacity="0.45" filter="url(#bl1)"/>
<ellipse cx="1.5" cy="23" rx="2.2" ry="2.6" fill="url(#blobC)"/>
</g>
</g>
<text x="187.70" y="307.80" font-size="8.0" font-weight="bold" text-anchor="middle">R248Q/–</text>
<line x1="160.00" y1="311.40" x2="215.40" y2="311.40" stroke="#5a5a5a" stroke-width="1.3"/>
<text x="166.30" y="319.60" font-size="6.0" text-anchor="middle" fill="#c8102e" stroke="#c8102e" stroke-width="0.1">Dec</text>
<text x="180.60" y="319.60" font-size="6.0" text-anchor="middle" fill="#333" stroke="#333" stroke-width="0.1">ctrl.</text>
<text x="194.80" y="319.60" font-size="6.0" text-anchor="middle" fill="#c8102e" stroke="#c8102e" stroke-width="0.1">Dec</text>
<text x="209.00" y="319.60" font-size="6.0" text-anchor="middle" fill="#333" stroke="#333" stroke-width="0.1">ctrl.</text>
<rect x="160.00" y="322.30" width="55.40" height="34.70" fill="#161616"/>
<clipPath id="mcE20"><rect x="160.0" y="322.30" width="55.4" height="34.7"/></clipPath>
<g clip-path="url(#mcE20)">
<g transform="translate(167.50 323.70) rotate(3.0) scale(0.96 1)">
<path d="M-4.2,25.5 L-6.4,30.5 M4.2,25.5 L6.2,30.8 M0,28 L0.3,34 M-3.6,9.8 L-5.0,11.2 M3.6,9.8 L5.0,11.2" stroke="#9a9a9a" stroke-width="0.9" fill="none"/>
<use href="#mouse" fill="url(#mouseG)" filter="url(#mot4)"/>
</g>
<g transform="translate(180.30 323.70) rotate(-2.1) scale(0.96 1)">
<path d="M-4.2,25.5 L-6.4,30.5 M4.2,25.5 L6.2,30.8 M0,28 L0.3,34 M-3.6,9.8 L-5.0,11.2 M3.6,9.8 L5.0,11.2" stroke="#9a9a9a" stroke-width="0.9" fill="none"/>
<use href="#mouse" fill="url(#mouseG)" filter="url(#mot1)"/>
</g>
<g transform="translate(193.70 323.70) rotate(-0.4) scale(0.96 1)">
<path d="M-4.2,25.5 L-6.4,30.5 M4.2,25.5 L6.2,30.8 M0,28 L0.3,34 M-3.6,9.8 L-5.0,11.2 M3.6,9.8 L5.0,11.2" stroke="#9a9a9a" stroke-width="0.9" fill="none"/>
<use href="#mouse" fill="url(#mouseG)" filter="url(#mot5)"/>
</g>
<g transform="translate(207.60 323.70) rotate(0.7) scale(0.96 1)">
<path d="M-4.2,25.5 L-6.4,30.5 M4.2,25.5 L6.2,30.8 M0,28 L0.3,34 M-3.6,9.8 L-5.0,11.2 M3.6,9.8 L5.0,11.2" stroke="#9a9a9a" stroke-width="0.9" fill="none"/>
<use href="#mouse" fill="url(#mouseG)" filter="url(#mot0)"/>
</g>
</g>
<rect x="160.00" y="358.40" width="55.40" height="34.30" fill="#161616"/>
<clipPath id="mcE21"><rect x="160.0" y="358.40" width="55.4" height="34.3"/></clipPath>
<g clip-path="url(#mcE21)">
<g transform="translate(167.50 359.80) rotate(-1.0) scale(0.96 1)">
<path d="M-4.2,25.5 L-6.4,30.5 M4.2,25.5 L6.2,30.8 M0,28 L0.3,34 M-3.6,9.8 L-5.0,11.2 M3.6,9.8 L5.0,11.2" stroke="#9a9a9a" stroke-width="0.9" fill="none"/>
<use href="#mouse" fill="url(#mouseG)" filter="url(#mot1)"/>
<ellipse cx="0" cy="9" rx="4.5" ry="5" fill="url(#blobB)"/>
<ellipse cx="0" cy="24" rx="6" ry="5" fill="url(#blobB)"/>
</g>
<g transform="translate(180.30 359.80) rotate(-0.4) scale(0.96 1)">
<path d="M-4.2,25.5 L-6.4,30.5 M4.2,25.5 L6.2,30.8 M0,28 L0.3,34 M-3.6,9.8 L-5.0,11.2 M3.6,9.8 L5.0,11.2" stroke="#9a9a9a" stroke-width="0.9" fill="none"/>
<use href="#mouse" fill="url(#mouseG)" filter="url(#mot1)"/>
<use href="#mouse" fill="#4646cc" clip-path="url(#bc6_0)"/>
<ellipse cx="0" cy="17.0" rx="3.2" ry="8.5" fill="#3c6ee0" fill-opacity="0.45" filter="url(#bl1)"/>
<ellipse cx="-2" cy="25" rx="1.6" ry="1.6" fill="url(#blobL)"/>
</g>
<g transform="translate(193.70 359.80) rotate(0.0) scale(0.96 1)">
<path d="M-4.2,25.5 L-6.4,30.5 M4.2,25.5 L6.2,30.8 M0,28 L0.3,34 M-3.6,9.8 L-5.0,11.2 M3.6,9.8 L5.0,11.2" stroke="#9a9a9a" stroke-width="0.9" fill="none"/>
<use href="#mouse" fill="url(#mouseG)" filter="url(#mot5)"/>
<use href="#mouse" fill="#4646cc" clip-path="url(#bc4_0)"/>
<ellipse cx="0" cy="16.0" rx="3.2" ry="9.2" fill="#3c6ee0" fill-opacity="0.45" filter="url(#bl1)"/>
<ellipse cx="0" cy="9" rx="2.4" ry="2.4" fill="url(#blobC)"/>
<ellipse cx="-1" cy="24" rx="2.6" ry="2.6" fill="url(#blobH)"/>
<ellipse cx="3" cy="22" rx="1.6" ry="1.6" fill="url(#blobC)"/>
</g>
<g transform="translate(207.60 359.80) rotate(0.1) scale(0.96 1)">
<path d="M-4.2,25.5 L-6.4,30.5 M4.2,25.5 L6.2,30.8 M0,28 L0.3,34 M-3.6,9.8 L-5.0,11.2 M3.6,9.8 L5.0,11.2" stroke="#9a9a9a" stroke-width="0.9" fill="none"/>
<use href="#mouse" fill="url(#mouseG)" filter="url(#mot2)"/>
<use href="#mouse" fill="#4646cc" clip-path="url(#bc7_0)"/>
<ellipse cx="0" cy="17.5" rx="3.2" ry="8.1" fill="#3c6ee0" fill-opacity="0.45" filter="url(#bl1)"/>
<ellipse cx="1" cy="25" rx="1.6" ry="1.6" fill="url(#blobC)"/>
</g>
</g>
<text x="6.60" y="342.00" font-size="8.2" fill="#222" stroke="#222" stroke-width="0.1">Day 7</text>
<text x="6.60" y="377.00" font-size="8.2" fill="#222" stroke="#222" stroke-width="0.1">Day 16</text>
<text x="7.20" y="426.80" font-size="10.6" font-weight="bold">H</text>
<text x="62.60" y="437.00" font-size="8.0" font-weight="bold" text-anchor="middle">WT</text>
<line x1="34.90" y1="440.60" x2="90.30" y2="440.60" stroke="#5a5a5a" stroke-width="1.3"/>
<text x="41.20" y="448.80" font-size="6.0" text-anchor="middle" fill="#333" stroke="#333" stroke-width="0.1">ctrl.</text>
<text x="55.50" y="448.80" font-size="6.0" text-anchor="middle" fill="#c8102e" stroke="#c8102e" stroke-width="0.1">Aza</text>
<text x="69.70" y="448.80" font-size="6.0" text-anchor="middle" fill="#333" stroke="#333" stroke-width="0.1">ctrl.</text>
<text x="83.90" y="448.80" font-size="6.0" text-anchor="middle" fill="#c8102e" stroke="#c8102e" stroke-width="0.1">Aza</text>
<rect x="34.90" y="451.50" width="55.40" height="34.70" fill="#161616"/>
<clipPath id="mcH00"><rect x="34.9" y="451.50" width="55.4" height="34.7"/></clipPath>
<g clip-path="url(#mcH00)">
<g transform="translate(42.40 452.90) rotate(-0.2) scale(0.96 1)">
<path d="M-4.2,25.5 L-6.4,30.5 M4.2,25.5 L6.2,30.8 M0,28 L0.3,34 M-3.6,9.8 L-5.0,11.2 M3.6,9.8 L5.0,11.2" stroke="#9a9a9a" stroke-width="0.9" fill="none"/>
<use href="#mouse" fill="url(#mouseG)" filter="url(#mot2)"/>
</g>
<g transform="translate(55.20 452.90) rotate(-2.4) scale(0.96 1)">
<path d="M-4.2,25.5 L-6.4,30.5 M4.2,25.5 L6.2,30.8 M0,28 L0.3,34 M-3.6,9.8 L-5.0,11.2 M3.6,9.8 L5.0,11.2" stroke="#9a9a9a" stroke-width="0.9" fill="none"/>
<use href="#mouse" fill="url(#mouseG)" filter="url(#mot2)"/>
</g>
<g transform="translate(68.60 452.90) rotate(0.5) scale(0.96 1)">
<path d="M-4.2,25.5 L-6.4,30.5 M4.2,25.5 L6.2,30.8 M0,28 L0.3,34 M-3.6,9.8 L-5.0,11.2 M3.6,9.8 L5.0,11.2" stroke="#9a9a9a" stroke-width="0.9" fill="none"/>
<use href="#mouse" fill="url(#mouseG)" filter="url(#mot1)"/>
</g>
<g transform="translate(82.50 452.90) rotate(-2.5) scale(0.96 1)">
<path d="M-4.2,25.5 L-6.4,30.5 M4.2,25.5 L6.2,30.8 M0,28 L0.3,34 M-3.6,9.8 L-5.0,11.2 M3.6,9.8 L5.0,11.2" stroke="#9a9a9a" stroke-width="0.9" fill="none"/>
<use href="#mouse" fill="url(#mouseG)" filter="url(#mot4)"/>
</g>
</g>
<rect x="34.90" y="487.60" width="55.40" height="34.30" fill="#161616"/>
<clipPath id="mcH01"><rect x="34.9" y="487.60" width="55.4" height="34.3"/></clipPath>
<g clip-path="url(#mcH01)">
<g transform="translate(42.40 489.00) rotate(-0.7) scale(0.96 1)">
<path d="M-4.2,25.5 L-6.4,30.5 M4.2,25.5 L6.2,30.8 M0,28 L0.3,34 M-3.6,9.8 L-5.0,11.2 M3.6,9.8 L5.0,11.2" stroke="#9a9a9a" stroke-width="0.9" fill="none"/>
<use href="#mouse" fill="url(#mouseG)" filter="url(#mot3)"/>
<ellipse cx="0" cy="7" rx="2.4" ry="2.4" fill="url(#blobB)"/>
<ellipse cx="-0.5" cy="13" rx="3" ry="2.8" fill="url(#blobB)"/>
<ellipse cx="-1.5" cy="24.5" rx="5.2" ry="4.6" fill="url(#blobB)"/>
<ellipse cx="-2" cy="25" rx="2.6" ry="2.4" fill="url(#blobH)"/>
</g>
<g transform="translate(55.20 489.00) rotate(0.5) scale(0.96 1)">
<path d="M-4.2,25.5 L-6.4,30.5 M4.2,25.5 L6.2,30.8 M0,28 L0.3,34 M-3.6,9.8 L-5.0,11.2 M3.6,9.8 L5.0,11.2" stroke="#9a9a9a" stroke-width="0.9" fill="none"/>
<use href="#mouse" fill="url(#mouseG)" filter="url(#mot1)"/>
<ellipse cx="-3.5" cy="23.5" rx="1.6" ry="1.6" fill="url(#blobB)"/>
</g>
<g transform="translate(68.60 489.00) rotate(0.6) scale(0.96 1)">
<path d="M-4.2,25.5 L-6.4,30.5 M4.2,25.5 L6.2,30.8 M0,28 L0.3,34 M-3.6,9.8 L-5.0,11.2 M3.6,9.8 L5.0,11.2" stroke="#9a9a9a" stroke-width="0.9" fill="none"/>
<use href="#mouse" fill="url(#mouseG)" filter="url(#mot3)"/>
<ellipse cx="0" cy="10" rx="5" ry="4" fill="url(#blobB)"/>
<ellipse cx="0" cy="10" rx="2.2" ry="2" fill="url(#blobC)"/>
<ellipse cx="0" cy="24.5" rx="6" ry="4.5" fill="url(#blobB)"/>
<ellipse cx="-2" cy="25" rx="2" ry="2" fill="url(#blobC)"/>
<ellipse cx="3" cy="24" rx="1.6" ry="1.6" fill="url(#blobC)"/>
</g>
<g transform="translate(82.50 489.00) rotate(-2.5) scale(0.96 1)">
<path d="M-4.2,25.5 L-6.4,30.5 M4.2,25.5 L6.2,30.8 M0,28 L0.3,34 M-3.6,9.8 L-5.0,11.2 M3.6,9.8 L5.0,11.2" stroke="#9a9a9a" stroke-width="0.9" fill="none"/>
<use href="#mouse" fill="url(#mouseG)" filter="url(#mot1)"/>
<ellipse cx="0" cy="7" rx="1.4" ry="1.4" fill="url(#blobB)"/>
<ellipse cx="3.5" cy="25" rx="1.4" ry="1.4" fill="url(#blobB)"/>
</g>
</g>
<text x="125.20" y="437.00" font-size="8.0" font-weight="bold" text-anchor="middle">KO</text>
<line x1="97.50" y1="440.60" x2="152.90" y2="440.60" stroke="#5a5a5a" stroke-width="1.3"/>
<text x="103.80" y="448.80" font-size="6.0" text-anchor="middle" fill="#c8102e" stroke="#c8102e" stroke-width="0.1">Aza</text>
<text x="118.10" y="448.80" font-size="6.0" text-anchor="middle" fill="#c8102e" stroke="#c8102e" stroke-width="0.1">Aza</text>
<text x="132.30" y="448.80" font-size="6.0" text-anchor="middle" fill="#333" stroke="#333" stroke-width="0.1">ctrl.</text>
<text x="146.50" y="448.80" font-size="6.0" text-anchor="middle" fill="#333" stroke="#333" stroke-width="0.1">ctrl.</text>
<rect x="97.50" y="451.50" width="55.40" height="34.70" fill="#161616"/>
<clipPath id="mcH10"><rect x="97.5" y="451.50" width="55.4" height="34.7"/></clipPath>
<g clip-path="url(#mcH10)">
<g transform="translate(105.00 452.90) rotate(2.5) scale(0.96 1)">
<path d="M-4.2,25.5 L-6.4,30.5 M4.2,25.5 L6.2,30.8 M0,28 L0.3,34 M-3.6,9.8 L-5.0,11.2 M3.6,9.8 L5.0,11.2" stroke="#9a9a9a" stroke-width="0.9" fill="none"/>
<use href="#mouse" fill="url(#mouseG)" filter="url(#mot2)"/>
</g>
<g transform="translate(117.80 452.90) rotate(0.2) scale(0.96 1)">
<path d="M-4.2,25.5 L-6.4,30.5 M4.2,25.5 L6.2,30.8 M0,28 L0.3,34 M-3.6,9.8 L-5.0,11.2 M3.6,9.8 L5.0,11.2" stroke="#9a9a9a" stroke-width="0.9" fill="none"/>
<use href="#mouse" fill="url(#mouseG)" filter="url(#mot1)"/>
</g>
<g transform="translate(131.20 452.90) rotate(-0.9) scale(0.96 1)">
<path d="M-4.2,25.5 L-6.4,30.5 M4.2,25.5 L6.2,30.8 M0,28 L0.3,34 M-3.6,9.8 L-5.0,11.2 M3.6,9.8 L5.0,11.2" stroke="#9a9a9a" stroke-width="0.9" fill="none"/>
<use href="#mouse" fill="url(#mouseG)" filter="url(#mot5)"/>
</g>
<g transform="translate(145.10 452.90) rotate(-2.3) scale(0.96 1)">
<path d="M-4.2,25.5 L-6.4,30.5 M4.2,25.5 L6.2,30.8 M0,28 L0.3,34 M-3.6,9.8 L-5.0,11.2 M3.6,9.8 L5.0,11.2" stroke="#9a9a9a" stroke-width="0.9" fill="none"/>
<use href="#mouse" fill="url(#mouseG)" filter="url(#mot1)"/>
</g>
</g>
<rect x="97.50" y="487.60" width="55.40" height="34.30" fill="#161616"/>
<clipPath id="mcH11"><rect x="97.5" y="487.60" width="55.4" height="34.3"/></clipPath>
<g clip-path="url(#mcH11)">
<g transform="translate(105.00 489.00) rotate(-2.1) scale(0.96 1)">
<path d="M-4.2,25.5 L-6.4,30.5 M4.2,25.5 L6.2,30.8 M0,28 L0.3,34 M-3.6,9.8 L-5.0,11.2 M3.6,9.8 L5.0,11.2" stroke="#9a9a9a" stroke-width="0.9" fill="none"/>
<use href="#mouse" fill="url(#mouseG)" filter="url(#mot5)"/>
<ellipse cx="0" cy="10" rx="4.6" ry="4.6" fill="url(#blobB)"/>
<ellipse cx="-4.5" cy="23.5" rx="3.8" ry="3.8" fill="url(#blobB)"/>
</g>
<g transform="translate(117.80 489.00) rotate(-2.0) scale(0.96 1)">
<path d="M-4.2,25.5 L-6.4,30.5 M4.2,25.5 L6.2,30.8 M0,28 L0.3,34 M-3.6,9.8 L-5.0,11.2 M3.6,9.8 L5.0,11.2" stroke="#9a9a9a" stroke-width="0.9" fill="none"/>
<use href="#mouse" fill="url(#mouseG)" filter="url(#mot3)"/>
<ellipse cx="0" cy="12" rx="2.6" ry="2.6" fill="url(#blobB)"/>
<ellipse cx="-3" cy="25" rx="3" ry="2.6" fill="url(#blobB)"/>
</g>
<g transform="translate(131.20 489.00) rotate(-1.5) scale(0.96 1)">
<path d="M-4.2,25.5 L-6.4,30.5 M4.2,25.5 L6.2,30.8 M0,28 L0.3,34 M-3.6,9.8 L-5.0,11.2 M3.6,9.8 L5.0,11.2" stroke="#9a9a9a" stroke-width="0.9" fill="none"/>
<use href="#mouse" fill="url(#mouseG)" filter="url(#mot0)"/>
<use href="#mouse" fill="#4646cc" clip-path="url(#bc2_0)"/>
<ellipse cx="0" cy="15.0" rx="3.2" ry="10.0" fill="#3c6ee0" fill-opacity="0.45" filter="url(#bl1)"/>
<ellipse cx="0" cy="23" rx="5" ry="4.5" fill="url(#blobL)"/>
<ellipse cx="-1.5" cy="25" rx="3.2" ry="3.0" fill="url(#blobH)"/>
<ellipse cx="2.5" cy="24" rx="2.4" ry="2.4" fill="url(#blobH)"/>
<ellipse cx="-3" cy="19" rx="1.8" ry="1.8" fill="url(#blobC)"/>
</g>
<g transform="translate(145.10 489.00) rotate(-1.0) scale(0.96 1)">
<path d="M-4.2,25.5 L-6.4,30.5 M4.2,25.5 L6.2,30.8 M0,28 L0.3,34 M-3.6,9.8 L-5.0,11.2 M3.6,9.8 L5.0,11.2" stroke="#9a9a9a" stroke-width="0.9" fill="none"/>
<use href="#mouse" fill="url(#mouseG)" filter="url(#mot2)"/>
<use href="#mouse" fill="#4646cc" clip-path="url(#bc2_0)"/>
<ellipse cx="0" cy="15.0" rx="3.2" ry="10.0" fill="#3c6ee0" fill-opacity="0.45" filter="url(#bl1)"/>
<ellipse cx="-1" cy="8" rx="1.8" ry="1.8" fill="url(#blobC)"/>
<ellipse cx="2" cy="10" rx="1.6" ry="1.6" fill="url(#blobC)"/>
<ellipse cx="-2" cy="15" rx="1.8" ry="1.8" fill="url(#blobC)"/>
<ellipse cx="2" cy="19" rx="1.8" ry="1.8" fill="url(#blobC)"/>
<ellipse cx="-1" cy="24" rx="2.2" ry="2.2" fill="url(#blobC)"/>
<ellipse cx="3" cy="25" rx="2.8" ry="2.6" fill="url(#blobH)"/>
</g>
</g>
<text x="187.70" y="437.00" font-size="8.0" font-weight="bold" text-anchor="middle">R248Q/–</text>
<line x1="160.00" y1="440.60" x2="215.40" y2="440.60" stroke="#5a5a5a" stroke-width="1.3"/>
<text x="166.30" y="448.80" font-size="6.0" text-anchor="middle" fill="#c8102e" stroke="#c8102e" stroke-width="0.1">Aza</text>
<text x="180.60" y="448.80" font-size="6.0" text-anchor="middle" fill="#333" stroke="#333" stroke-width="0.1">ctrl.</text>
<text x="194.80" y="448.80" font-size="6.0" text-anchor="middle" fill="#c8102e" stroke="#c8102e" stroke-width="0.1">Aza</text>
<text x="209.00" y="448.80" font-size="6.0" text-anchor="middle" fill="#333" stroke="#333" stroke-width="0.1">ctrl.</text>
<rect x="160.00" y="451.50" width="55.40" height="34.70" fill="#161616"/>
<clipPath id="mcH20"><rect x="160.0" y="451.50" width="55.4" height="34.7"/></clipPath>
<g clip-path="url(#mcH20)">
<g transform="translate(167.50 452.90) rotate(1.1) scale(0.96 1)">
<path d="M-4.2,25.5 L-6.4,30.5 M4.2,25.5 L6.2,30.8 M0,28 L0.3,34 M-3.6,9.8 L-5.0,11.2 M3.6,9.8 L5.0,11.2" stroke="#9a9a9a" stroke-width="0.9" fill="none"/>
<use href="#mouse" fill="url(#mouseG)" filter="url(#mot0)"/>
</g>
<g transform="translate(180.30 452.90) rotate(-2.5) scale(0.96 1)">
<path d="M-4.2,25.5 L-6.4,30.5 M4.2,25.5 L6.2,30.8 M0,28 L0.3,34 M-3.6,9.8 L-5.0,11.2 M3.6,9.8 L5.0,11.2" stroke="#9a9a9a" stroke-width="0.9" fill="none"/>
<use href="#mouse" fill="url(#mouseG)" filter="url(#mot5)"/>
</g>
<g transform="translate(193.70 452.90) rotate(-2.2) scale(0.96 1)">
<path d="M-4.2,25.5 L-6.4,30.5 M4.2,25.5 L6.2,30.8 M0,28 L0.3,34 M-3.6,9.8 L-5.0,11.2 M3.6,9.8 L5.0,11.2" stroke="#9a9a9a" stroke-width="0.9" fill="none"/>
<use href="#mouse" fill="url(#mouseG)" filter="url(#mot3)"/>
</g>
<g transform="translate(207.60 452.90) rotate(-1.1) scale(0.96 1)">
<path d="M-4.2,25.5 L-6.4,30.5 M4.2,25.5 L6.2,30.8 M0,28 L0.3,34 M-3.6,9.8 L-5.0,11.2 M3.6,9.8 L5.0,11.2" stroke="#9a9a9a" stroke-width="0.9" fill="none"/>
<use href="#mouse" fill="url(#mouseG)" filter="url(#mot5)"/>
</g>
</g>
<rect x="160.00" y="487.60" width="55.40" height="34.30" fill="#161616"/>
<clipPath id="mcH21"><rect x="160.0" y="487.60" width="55.4" height="34.3"/></clipPath>
<g clip-path="url(#mcH21)">
<g transform="translate(167.50 489.00) rotate(-0.1) scale(0.96 1)">
<path d="M-4.2,25.5 L-6.4,30.5 M4.2,25.5 L6.2,30.8 M0,28 L0.3,34 M-3.6,9.8 L-5.0,11.2 M3.6,9.8 L5.0,11.2" stroke="#9a9a9a" stroke-width="0.9" fill="none"/>
<use href="#mouse" fill="url(#mouseG)" filter="url(#mot5)"/>
<ellipse cx="0" cy="10" rx="1.8" ry="1.6" fill="url(#blobB)"/>
</g>
<g transform="translate(180.30 489.00) rotate(0.9) scale(0.96 1)">
<path d="M-4.2,25.5 L-6.4,30.5 M4.2,25.5 L6.2,30.8 M0,28 L0.3,34 M-3.6,9.8 L-5.0,11.2 M3.6,9.8 L5.0,11.2" stroke="#9a9a9a" stroke-width="0.9" fill="none"/>
<use href="#mouse" fill="url(#mouseG)" filter="url(#mot2)"/>
<use href="#mouse" fill="#4646cc" clip-path="url(#bc6_0)"/>
<ellipse cx="0" cy="17.0" rx="3.2" ry="8.5" fill="#3c6ee0" fill-opacity="0.45" filter="url(#bl1)"/>
<ellipse cx="-1" cy="24" rx="3.4" ry="2.6" fill="url(#blobC)"/>
<ellipse cx="2.5" cy="25" rx="2" ry="2" fill="url(#blobC)"/>
</g>
<g transform="translate(193.70 489.00) rotate(-2.5) scale(0.96 1)">
<path d="M-4.2,25.5 L-6.4,30.5 M4.2,25.5 L6.2,30.8 M0,28 L0.3,34 M-3.6,9.8 L-5.0,11.2 M3.6,9.8 L5.0,11.2" stroke="#9a9a9a" stroke-width="0.9" fill="none"/>
<use href="#mouse" fill="url(#mouseG)" filter="url(#mot0)"/>
<ellipse cx="0" cy="9" rx="4.6" ry="4.2" fill="url(#blobB)"/>
<ellipse cx="-2" cy="25" rx="2.2" ry="2.2" fill="url(#blobB)"/>
</g>
<g transform="translate(207.60 489.00) rotate(-0.3) scale(0.96 1)">
<path d="M-4.2,25.5 L-6.4,30.5 M4.2,25.5 L6.2,30.8 M0,28 L0.3,34 M-3.6,9.8 L-5.0,11.2 M3.6,9.8 L5.0,11.2" stroke="#9a9a9a" stroke-width="0.9" fill="none"/>
<use href="#mouse" fill="url(#mouseG)" filter="url(#mot2)"/>
<use href="#mouse" fill="#4646cc" clip-path="url(#bc3_0)"/>
<ellipse cx="0" cy="15.5" rx="3.2" ry="9.6" fill="#3c6ee0" fill-opacity="0.45" filter="url(#bl1)"/>
<ellipse cx="0" cy="24.5" rx="4.4" ry="3" fill="url(#blobC)"/>
<ellipse cx="-1" cy="24.5" rx="2.4" ry="2" fill="url(#blobH)"/>
</g>
</g>
<text x="6.60" y="471.20" font-size="8.2" fill="#222" stroke="#222" stroke-width="0.1">Day 7</text>
<text x="6.60" y="506.20" font-size="8.2" fill="#222" stroke="#222" stroke-width="0.1">Day 16</text>
<text x="7.20" y="555.80" font-size="10.6" font-weight="bold">K</text>
<text x="62.60" y="566.00" font-size="8.0" font-weight="bold" text-anchor="middle">WT</text>
<line x1="34.90" y1="569.60" x2="90.30" y2="569.60" stroke="#5a5a5a" stroke-width="1.3"/>
<text x="41.20" y="577.80" font-size="6.0" text-anchor="middle" fill="#333" stroke="#333" stroke-width="0.1">Aza</text>
<text x="55.50" y="577.80" font-size="6.0" text-anchor="middle" fill="#333" stroke="#333" stroke-width="0.1">Aza</text>
<text x="69.70" y="577.80" font-size="6.0" text-anchor="middle" fill="#c8102e" stroke="#c8102e" stroke-width="0.1">A+V</text>
<text x="83.90" y="577.80" font-size="6.0" text-anchor="middle" fill="#c8102e" stroke="#c8102e" stroke-width="0.1">A+V</text>
<rect x="34.90" y="580.50" width="55.40" height="34.70" fill="#161616"/>
<clipPath id="mcK00"><rect x="34.9" y="580.50" width="55.4" height="34.7"/></clipPath>
<g clip-path="url(#mcK00)">
<g transform="translate(42.40 581.90) rotate(0.3) scale(0.96 1)">
<path d="M-4.2,25.5 L-6.4,30.5 M4.2,25.5 L6.2,30.8 M0,28 L0.3,34 M-3.6,9.8 L-5.0,11.2 M3.6,9.8 L5.0,11.2" stroke="#9a9a9a" stroke-width="0.9" fill="none"/>
<use href="#mouse" fill="url(#mouseG)" filter="url(#mot4)"/>
</g>
<g transform="translate(55.20 581.90) rotate(-0.6) scale(0.96 1)">
<path d="M-4.2,25.5 L-6.4,30.5 M4.2,25.5 L6.2,30.8 M0,28 L0.3,34 M-3.6,9.8 L-5.0,11.2 M3.6,9.8 L5.0,11.2" stroke="#9a9a9a" stroke-width="0.9" fill="none"/>
<use href="#mouse" fill="url(#mouseG)" filter="url(#mot1)"/>
</g>
<g transform="translate(68.60 581.90) rotate(0.8) scale(0.96 1)">
<path d="M-4.2,25.5 L-6.4,30.5 M4.2,25.5 L6.2,30.8 M0,28 L0.3,34 M-3.6,9.8 L-5.0,11.2 M3.6,9.8 L5.0,11.2" stroke="#9a9a9a" stroke-width="0.9" fill="none"/>
<use href="#mouse" fill="url(#mouseG)" filter="url(#mot1)"/>
</g>
<g transform="translate(82.50 581.90) rotate(2.7) scale(0.96 1)">
<path d="M-4.2,25.5 L-6.4,30.5 M4.2,25.5 L6.2,30.8 M0,28 L0.3,34 M-3.6,9.8 L-5.0,11.2 M3.6,9.8 L5.0,11.2" stroke="#9a9a9a" stroke-width="0.9" fill="none"/>
<use href="#mouse" fill="url(#mouseG)" filter="url(#mot5)"/>
</g>
</g>
<rect x="34.90" y="616.60" width="55.40" height="34.30" fill="#161616"/>
<clipPath id="mcK01"><rect x="34.9" y="616.60" width="55.4" height="34.3"/></clipPath>
<g clip-path="url(#mcK01)">
<g transform="translate(42.40 618.00) rotate(-0.0) scale(0.96 1)">
<path d="M-4.2,25.5 L-6.4,30.5 M4.2,25.5 L6.2,30.8 M0,28 L0.3,34 M-3.6,9.8 L-5.0,11.2 M3.6,9.8 L5.0,11.2" stroke="#9a9a9a" stroke-width="0.9" fill="none"/>
<use href="#mouse" fill="url(#mouseG)" filter="url(#mot5)"/>
<ellipse cx="-0.5" cy="11" rx="1.4" ry="1.4" fill="url(#blobB)"/>
</g>
<g transform="translate(55.20 618.00) rotate(-2.1) scale(0.96 1)">
<path d="M-4.2,25.5 L-6.4,30.5 M4.2,25.5 L6.2,30.8 M0,28 L0.3,34 M-3.6,9.8 L-5.0,11.2 M3.6,9.8 L5.0,11.2" stroke="#9a9a9a" stroke-width="0.9" fill="none"/>
<use href="#mouse" fill="url(#mouseG)" filter="url(#mot2)"/>
<ellipse cx="4.2" cy="23.5" rx="1.7" ry="1.7" fill="url(#blobB)"/>
</g>
<g transform="translate(68.60 618.00) rotate(1.0) scale(0.96 1)">
<path d="M-4.2,25.5 L-6.4,30.5 M4.2,25.5 L6.2,30.8 M0,28 L0.3,34 M-3.6,9.8 L-5.0,11.2 M3.6,9.8 L5.0,11.2" stroke="#9a9a9a" stroke-width="0.9" fill="none"/>
<use href="#mouse" fill="url(#mouseG)" filter="url(#mot4)"/>
</g>
<g transform="translate(82.50 618.00) rotate(0.0) scale(0.96 1)">
<path d="M-4.2,25.5 L-6.4,30.5 M4.2,25.5 L6.2,30.8 M0,28 L0.3,34 M-3.6,9.8 L-5.0,11.2 M3.6,9.8 L5.0,11.2" stroke="#9a9a9a" stroke-width="0.9" fill="none"/>
<use href="#mouse" fill="url(#mouseG)" filter="url(#mot5)"/>
</g>
</g>
<text x="125.20" y="566.00" font-size="8.0" font-weight="bold" text-anchor="middle">KO</text>
<line x1="97.50" y1="569.60" x2="152.90" y2="569.60" stroke="#5a5a5a" stroke-width="1.3"/>
<text x="103.80" y="577.80" font-size="6.0" text-anchor="middle" fill="#333" stroke="#333" stroke-width="0.1">Aza</text>
<text x="118.10" y="577.80" font-size="6.0" text-anchor="middle" fill="#c8102e" stroke="#c8102e" stroke-width="0.1">A+V</text>
<text x="132.30" y="577.80" font-size="6.0" text-anchor="middle" fill="#333" stroke="#333" stroke-width="0.1">Aza</text>
<text x="146.50" y="577.80" font-size="6.0" text-anchor="middle" fill="#c8102e" stroke="#c8102e" stroke-width="0.1">A+V</text>
<rect x="97.50" y="580.50" width="55.40" height="34.70" fill="#161616"/>
<clipPath id="mcK10"><rect x="97.5" y="580.50" width="55.4" height="34.7"/></clipPath>
<g clip-path="url(#mcK10)">
<g transform="translate(105.00 581.90) rotate(-1.0) scale(0.96 1)">
<path d="M-4.2,25.5 L-6.4,30.5 M4.2,25.5 L6.2,30.8 M0,28 L0.3,34 M-3.6,9.8 L-5.0,11.2 M3.6,9.8 L5.0,11.2" stroke="#9a9a9a" stroke-width="0.9" fill="none"/>
<use href="#mouse" fill="url(#mouseG)" filter="url(#mot1)"/>
</g>
<g transform="translate(117.80 581.90) rotate(-3.0) scale(0.96 1)">
<path d="M-4.2,25.5 L-6.4,30.5 M4.2,25.5 L6.2,30.8 M0,28 L0.3,34 M-3.6,9.8 L-5.0,11.2 M3.6,9.8 L5.0,11.2" stroke="#9a9a9a" stroke-width="0.9" fill="none"/>
<use href="#mouse" fill="url(#mouseG)" filter="url(#mot4)"/>
</g>
<g transform="translate(131.20 581.90) rotate(-2.3) scale(0.96 1)">
<path d="M-4.2,25.5 L-6.4,30.5 M4.2,25.5 L6.2,30.8 M0,28 L0.3,34 M-3.6,9.8 L-5.0,11.2 M3.6,9.8 L5.0,11.2" stroke="#9a9a9a" stroke-width="0.9" fill="none"/>
<use href="#mouse" fill="url(#mouseG)" filter="url(#mot3)"/>
</g>
<g transform="translate(145.10 581.90) rotate(0.0) scale(0.96 1)">
<path d="M-4.2,25.5 L-6.4,30.5 M4.2,25.5 L6.2,30.8 M0,28 L0.3,34 M-3.6,9.8 L-5.0,11.2 M3.6,9.8 L5.0,11.2" stroke="#9a9a9a" stroke-width="0.9" fill="none"/>
<use href="#mouse" fill="url(#mouseG)" filter="url(#mot3)"/>
</g>
</g>
<rect x="97.50" y="616.60" width="55.40" height="34.30" fill="#161616"/>
<clipPath id="mcK11"><rect x="97.5" y="616.60" width="55.4" height="34.3"/></clipPath>
<g clip-path="url(#mcK11)">
<g transform="translate(105.00 618.00) rotate(1.6) scale(0.96 1)">
<path d="M-4.2,25.5 L-6.4,30.5 M4.2,25.5 L6.2,30.8 M0,28 L0.3,34 M-3.6,9.8 L-5.0,11.2 M3.6,9.8 L5.0,11.2" stroke="#9a9a9a" stroke-width="0.9" fill="none"/>
<use href="#mouse" fill="url(#mouseG)" filter="url(#mot5)"/>
<ellipse cx="-0.5" cy="10" rx="2.4" ry="2.4" fill="url(#blobB)"/>
<ellipse cx="-3" cy="25.5" rx="3.0" ry="2.6" fill="url(#blobB)"/>
</g>
<g transform="translate(117.80 618.00) rotate(-2.2) scale(0.96 1)">
<path d="M-4.2,25.5 L-6.4,30.5 M4.2,25.5 L6.2,30.8 M0,28 L0.3,34 M-3.6,9.8 L-5.0,11.2 M3.6,9.8 L5.0,11.2" stroke="#9a9a9a" stroke-width="0.9" fill="none"/>
<use href="#mouse" fill="url(#mouseG)" filter="url(#mot1)"/>
<ellipse cx="0" cy="8" rx="2.4" ry="2.4" fill="url(#blobB)"/>
<ellipse cx="-2" cy="25.5" rx="2.6" ry="2.4" fill="url(#blobB)"/>
</g>
<g transform="translate(131.20 618.00) rotate(-2.6) scale(0.96 1)">
<path d="M-4.2,25.5 L-6.4,30.5 M4.2,25.5 L6.2,30.8 M0,28 L0.3,34 M-3.6,9.8 L-5.0,11.2 M3.6,9.8 L5.0,11.2" stroke="#9a9a9a" stroke-width="0.9" fill="none"/>
<use href="#mouse" fill="url(#mouseG)" filter="url(#mot0)"/>
<ellipse cx="0" cy="12" rx="2.6" ry="2.6" fill="url(#blobB)"/>
<ellipse cx="1" cy="29" rx="2.0" ry="1.8" fill="url(#blobB)"/>
</g>
<g transform="translate(145.10 618.00) rotate(1.2) scale(0.96 1)">
<path d="M-4.2,25.5 L-6.4,30.5 M4.2,25.5 L6.2,30.8 M0,28 L0.3,34 M-3.6,9.8 L-5.0,11.2 M3.6,9.8 L5.0,11.2" stroke="#9a9a9a" stroke-width="0.9" fill="none"/>
<use href="#mouse" fill="url(#mouseG)" filter="url(#mot2)"/>
<ellipse cx="1" cy="29" rx="2.0" ry="1.8" fill="url(#blobB)"/>
</g>
</g>
<text x="187.70" y="566.00" font-size="8.0" font-weight="bold" text-anchor="middle">R248Q/–</text>
<line x1="160.00" y1="569.60" x2="215.40" y2="569.60" stroke="#5a5a5a" stroke-width="1.3"/>
<text x="166.30" y="577.80" font-size="6.0" text-anchor="middle" fill="#c8102e" stroke="#c8102e" stroke-width="0.1">A+V</text>
<text x="180.60" y="577.80" font-size="6.0" text-anchor="middle" fill="#333" stroke="#333" stroke-width="0.1">Aza</text>
<text x="194.80" y="577.80" font-size="6.0" text-anchor="middle" fill="#c8102e" stroke="#c8102e" stroke-width="0.1">A+V</text>
<text x="209.00" y="577.80" font-size="6.0" text-anchor="middle" fill="#333" stroke="#333" stroke-width="0.1">Aza</text>
<rect x="160.00" y="580.50" width="55.40" height="34.70" fill="#161616"/>
<clipPath id="mcK20"><rect x="160.0" y="580.50" width="55.4" height="34.7"/></clipPath>
<g clip-path="url(#mcK20)">
<g transform="translate(167.50 581.90) rotate(0.7) scale(0.96 1)">
<path d="M-4.2,25.5 L-6.4,30.5 M4.2,25.5 L6.2,30.8 M0,28 L0.3,34 M-3.6,9.8 L-5.0,11.2 M3.6,9.8 L5.0,11.2" stroke="#9a9a9a" stroke-width="0.9" fill="none"/>
<use href="#mouse" fill="url(#mouseG)" filter="url(#mot5)"/>
</g>
<g transform="translate(180.30 581.90) rotate(2.7) scale(0.96 1)">
<path d="M-4.2,25.5 L-6.4,30.5 M4.2,25.5 L6.2,30.8 M0,28 L0.3,34 M-3.6,9.8 L-5.0,11.2 M3.6,9.8 L5.0,11.2" stroke="#9a9a9a" stroke-width="0.9" fill="none"/>
<use href="#mouse" fill="url(#mouseG)" filter="url(#mot0)"/>
</g>
<g transform="translate(193.70 581.90) rotate(1.5) scale(0.96 1)">
<path d="M-4.2,25.5 L-6.4,30.5 M4.2,25.5 L6.2,30.8 M0,28 L0.3,34 M-3.6,9.8 L-5.0,11.2 M3.6,9.8 L5.0,11.2" stroke="#9a9a9a" stroke-width="0.9" fill="none"/>
<use href="#mouse" fill="url(#mouseG)" filter="url(#mot5)"/>
</g>
<g transform="translate(207.60 581.90) rotate(-2.3) scale(0.96 1)">
<path d="M-4.2,25.5 L-6.4,30.5 M4.2,25.5 L6.2,30.8 M0,28 L0.3,34 M-3.6,9.8 L-5.0,11.2 M3.6,9.8 L5.0,11.2" stroke="#9a9a9a" stroke-width="0.9" fill="none"/>
<use href="#mouse" fill="url(#mouseG)" filter="url(#mot0)"/>
</g>
</g>
<rect x="160.00" y="616.60" width="55.40" height="34.30" fill="#161616"/>
<clipPath id="mcK21"><rect x="160.0" y="616.60" width="55.4" height="34.3"/></clipPath>
<g clip-path="url(#mcK21)">
<g transform="translate(167.50 618.00) rotate(-2.5) scale(0.96 1)">
<path d="M-4.2,25.5 L-6.4,30.5 M4.2,25.5 L6.2,30.8 M0,28 L0.3,34 M-3.6,9.8 L-5.0,11.2 M3.6,9.8 L5.0,11.2" stroke="#9a9a9a" stroke-width="0.9" fill="none"/>
<use href="#mouse" fill="url(#mouseG)" filter="url(#mot4)"/>
<ellipse cx="-3.5" cy="27" rx="3.8" ry="3.4" fill="url(#blobB)"/>
<ellipse cx="3.5" cy="27.5" rx="2.6" ry="2.6" fill="url(#blobB)"/>
<ellipse cx="-1.5" cy="9" rx="1.1" ry="1.1" fill="url(#blobB)"/>
<ellipse cx="1.5" cy="9" rx="1.1" ry="1.1" fill="url(#blobB)"/>
</g>
<g transform="translate(180.30 618.00) rotate(2.1) scale(0.96 1)">
<path d="M-4.2,25.5 L-6.4,30.5 M4.2,25.5 L6.2,30.8 M0,28 L0.3,34 M-3.6,9.8 L-5.0,11.2 M3.6,9.8 L5.0,11.2" stroke="#9a9a9a" stroke-width="0.9" fill="none"/>
<use href="#mouse" fill="url(#mouseG)" filter="url(#mot3)"/>
<ellipse cx="-1.5" cy="12.5" rx="2.5" ry="2.5" fill="url(#blobB)"/>
<ellipse cx="-0.5" cy="27" rx="3.8" ry="3.4" fill="url(#blobB)"/>
<ellipse cx="4.5" cy="25.5" rx="2.2" ry="2.6" fill="url(#blobB)"/>
</g>
<g transform="translate(193.70 618.00) rotate(-2.8) scale(0.96 1)">
<path d="M-4.2,25.5 L-6.4,30.5 M4.2,25.5 L6.2,30.8 M0,28 L0.3,34 M-3.6,9.8 L-5.0,11.2 M3.6,9.8 L5.0,11.2" stroke="#9a9a9a" stroke-width="0.9" fill="none"/>
<use href="#mouse" fill="url(#mouseG)" filter="url(#mot3)"/>
<ellipse cx="1" cy="11" rx="2.3" ry="3.0" fill="url(#blobB)"/>
<ellipse cx="-3.5" cy="27" rx="2.0" ry="2.0" fill="url(#blobB)"/>
<ellipse cx="3.5" cy="27" rx="2.6" ry="2.6" fill="url(#blobB)"/>
</g>
<g transform="translate(207.60 618.00) rotate(-1.6) scale(0.96 1)">
<path d="M-4.2,25.5 L-6.4,30.5 M4.2,25.5 L6.2,30.8 M0,28 L0.3,34 M-3.6,9.8 L-5.0,11.2 M3.6,9.8 L5.0,11.2" stroke="#9a9a9a" stroke-width="0.9" fill="none"/>
<use href="#mouse" fill="url(#mouseG)" filter="url(#mot2)"/>
<ellipse cx="1" cy="13.5" rx="2.6" ry="2.6" fill="url(#blobB)"/>
<ellipse cx="-1" cy="26.5" rx="4.4" ry="3.2" fill="url(#blobB)"/>
<ellipse cx="5" cy="26" rx="2.4" ry="2.6" fill="url(#blobB)"/>
</g>
</g>
<text x="6.60" y="600.20" font-size="8.2" fill="#222" stroke="#222" stroke-width="0.1">Day 7</text>
<text x="6.60" y="635.20" font-size="8.2" fill="#222" stroke="#222" stroke-width="0.1">Day 16</text>
<defs><clipPath id="bc5_5"><rect x="-9" y="5.5" width="18" height="40"/></clipPath><clipPath id="bc5_0"><rect x="-9" y="5" width="18" height="40"/></clipPath><clipPath id="bc6_0"><rect x="-9" y="6" width="18" height="40"/></clipPath><clipPath id="bc3_0"><rect x="-9" y="3" width="18" height="40"/></clipPath><clipPath id="bc4_0"><rect x="-9" y="4" width="18" height="40"/></clipPath><clipPath id="bc7_0"><rect x="-9" y="7" width="18" height="40"/></clipPath><clipPath id="bc2_0"><rect x="-9" y="2" width="18" height="40"/></clipPath></defs>
<text x="225.60" y="298.80" font-size="10.6" font-weight="bold">F</text>
<line x1="234.00" y1="305.60" x2="243.60" y2="305.60" stroke="#d8405e" stroke-width="0.9" stroke-dasharray="1.2,0.8"/>
<rect x="237.65" y="304.45" width="2.30" height="2.30" fill="#d8405e"/>
<text x="245.80" y="308.40" font-size="6.3" fill="#1a1a1a" stroke="#1a1a1a" stroke-width="0.1" transform="translate(245.80 0) scale(0.9 1) translate(-245.80 0)">WT ctrl.</text>
<line x1="234.00" y1="314.50" x2="243.60" y2="314.50" stroke="#cc1f40" stroke-width="1.0"/>
<rect x="237.65" y="313.35" width="2.30" height="2.30" fill="#cc1f40"/>
<text x="245.80" y="317.30" font-size="6.3" fill="#1a1a1a" stroke="#1a1a1a" stroke-width="0.1" transform="translate(245.80 0) scale(0.9 1) translate(-245.80 0)">WT Dec</text>
<line x1="269.90" y1="305.60" x2="279.40" y2="305.60" stroke="#3a70b0" stroke-width="0.9" stroke-dasharray="1.2,0.8"/>
<rect x="273.50" y="304.45" width="2.30" height="2.30" fill="#3a70b0"/>
<text x="281.60" y="308.40" font-size="6.3" fill="#1a1a1a" stroke="#1a1a1a" stroke-width="0.1" transform="translate(281.60 0) scale(0.9 1) translate(-281.60 0)">KO ctrl.</text>
<line x1="269.90" y1="314.50" x2="279.40" y2="314.50" stroke="#1d5494" stroke-width="1.0"/>
<rect x="273.50" y="313.35" width="2.30" height="2.30" fill="#1d5494"/>
<text x="281.60" y="317.30" font-size="6.3" fill="#1a1a1a" stroke="#1a1a1a" stroke-width="0.1" transform="translate(281.60 0) scale(0.9 1) translate(-281.60 0)">KO Dec</text>
<line x1="306.30" y1="305.60" x2="315.40" y2="305.60" stroke="#50c458" stroke-width="0.9" stroke-dasharray="1.2,0.8"/>
<rect x="309.70" y="304.45" width="2.30" height="2.30" fill="#50c458"/>
<text x="317.40" y="308.40" font-size="6.3" fill="#1a1a1a" stroke="#1a1a1a" stroke-width="0.1" transform="translate(317.40 0) scale(0.9 1) translate(-317.40 0)">R248Q/– ctrl.</text>
<line x1="306.30" y1="314.50" x2="315.40" y2="314.50" stroke="#38b048" stroke-width="1.0"/>
<rect x="309.70" y="313.35" width="2.30" height="2.30" fill="#38b048"/>
<text x="317.40" y="317.30" font-size="6.3" fill="#1a1a1a" stroke="#1a1a1a" stroke-width="0.1" transform="translate(317.40 0) scale(0.9 1) translate(-317.40 0)">R248Q/– Dec</text>
<line x1="251.60" y1="324.00" x2="251.60" y2="383.00" stroke="#111" stroke-width="0.9"/>
<line x1="251.20" y1="382.60" x2="336.20" y2="382.60" stroke="#111" stroke-width="0.9"/>
<line x1="251.38" y1="382.60" x2="251.38" y2="385.00" stroke="#111" stroke-width="0.8"/>
<line x1="258.80" y1="382.60" x2="258.80" y2="385.00" stroke="#111" stroke-width="0.8"/>
<line x1="266.22" y1="382.60" x2="266.22" y2="385.00" stroke="#111" stroke-width="0.8"/>
<line x1="273.64" y1="382.60" x2="273.64" y2="385.00" stroke="#111" stroke-width="0.8"/>
<line x1="281.06" y1="382.60" x2="281.06" y2="385.00" stroke="#111" stroke-width="0.8"/>
<line x1="288.48" y1="382.60" x2="288.48" y2="385.00" stroke="#111" stroke-width="0.8"/>
<line x1="295.90" y1="382.60" x2="295.90" y2="385.00" stroke="#111" stroke-width="0.8"/>
<line x1="303.32" y1="382.60" x2="303.32" y2="385.00" stroke="#111" stroke-width="0.8"/>
<line x1="310.74" y1="382.60" x2="310.74" y2="385.00" stroke="#111" stroke-width="0.8"/>
<line x1="318.16" y1="382.60" x2="318.16" y2="385.00" stroke="#111" stroke-width="0.8"/>
<line x1="325.58" y1="382.60" x2="325.58" y2="385.00" stroke="#111" stroke-width="0.8"/>
<line x1="333.00" y1="382.60" x2="333.00" y2="385.00" stroke="#111" stroke-width="0.8"/>
<text x="258.80" y="394.30" font-size="7.8" text-anchor="middle" stroke="#111" stroke-width="0.25" textLength="2.2" lengthAdjust="spacingAndGlyphs">7</text>
<text x="266.22" y="394.30" font-size="7.8" text-anchor="middle" stroke="#111" stroke-width="0.25" textLength="2.2" lengthAdjust="spacingAndGlyphs">8</text>
<text x="273.64" y="394.30" font-size="7.8" text-anchor="middle" stroke="#111" stroke-width="0.25" textLength="2.2" lengthAdjust="spacingAndGlyphs">9</text>
<text x="281.06" y="394.30" font-size="7.8" text-anchor="middle" stroke="#111" stroke-width="0.25" textLength="4.8" lengthAdjust="spacingAndGlyphs">10</text>
<text x="288.48" y="394.30" font-size="7.8" text-anchor="middle" stroke="#111" stroke-width="0.25" textLength="4.8" lengthAdjust="spacingAndGlyphs">11</text>
<text x="295.90" y="394.30" font-size="7.8" text-anchor="middle" stroke="#111" stroke-width="0.25" textLength="4.8" lengthAdjust="spacingAndGlyphs">12</text>
<text x="303.32" y="394.30" font-size="7.8" text-anchor="middle" stroke="#111" stroke-width="0.25" textLength="4.8" lengthAdjust="spacingAndGlyphs">13</text>
<text x="310.74" y="394.30" font-size="7.8" text-anchor="middle" stroke="#111" stroke-width="0.25" textLength="4.8" lengthAdjust="spacingAndGlyphs">14</text>
<text x="318.16" y="394.30" font-size="7.8" text-anchor="middle" stroke="#111" stroke-width="0.25" textLength="4.8" lengthAdjust="spacingAndGlyphs">15</text>
<text x="325.58" y="394.30" font-size="7.8" text-anchor="middle" stroke="#111" stroke-width="0.25" textLength="4.8" lengthAdjust="spacingAndGlyphs">16</text>
<line x1="249.00" y1="328.20" x2="251.60" y2="328.20" stroke="#111" stroke-width="0.8"/>
<text x="243.40" y="331.50" font-size="7.8" text-anchor="end" stroke="#111" stroke-width="0.25" textLength="4.3" lengthAdjust="spacingAndGlyphs">10</text>
<text x="244.00" y="327.70" font-size="5.3" fill="#1a1a1a" stroke="#1a1a1a" stroke-width="0.1" textLength="1.5" lengthAdjust="spacingAndGlyphs">9</text>
<line x1="249.00" y1="346.10" x2="251.60" y2="346.10" stroke="#111" stroke-width="0.8"/>
<text x="243.40" y="349.40" font-size="7.8" text-anchor="end" stroke="#111" stroke-width="0.25" textLength="4.3" lengthAdjust="spacingAndGlyphs">10</text>
<text x="244.00" y="345.60" font-size="5.3" fill="#1a1a1a" stroke="#1a1a1a" stroke-width="0.1" textLength="1.5" lengthAdjust="spacingAndGlyphs">8</text>
<line x1="249.00" y1="364.20" x2="251.60" y2="364.20" stroke="#111" stroke-width="0.8"/>
<text x="243.40" y="367.50" font-size="7.8" text-anchor="end" stroke="#111" stroke-width="0.25" textLength="4.3" lengthAdjust="spacingAndGlyphs">10</text>
<text x="244.00" y="363.70" font-size="5.3" fill="#1a1a1a" stroke="#1a1a1a" stroke-width="0.1" textLength="1.5" lengthAdjust="spacingAndGlyphs">7</text>
<line x1="249.00" y1="382.60" x2="251.60" y2="382.60" stroke="#111" stroke-width="0.8"/>
<text x="243.40" y="385.90" font-size="7.8" text-anchor="end" stroke="#111" stroke-width="0.25" textLength="4.3" lengthAdjust="spacingAndGlyphs">10</text>
<text x="244.00" y="382.10" font-size="5.3" fill="#1a1a1a" stroke="#1a1a1a" stroke-width="0.1" textLength="1.5" lengthAdjust="spacingAndGlyphs">6</text>
<text x="231.70" y="355.60" font-size="8.8" text-anchor="middle" stroke="#111" stroke-width="0.3" textLength="41.8" lengthAdjust="spacingAndGlyphs" transform="rotate(-90 231.70 355.60)">Total flux [p/s]</text>
<text x="292.00" y="405.20" font-size="7.0" text-anchor="middle" stroke="#111" stroke-width="0.3" textLength="12.6" lengthAdjust="spacingAndGlyphs">Days</text>
<path d="M258.80,378.60 L295.90,348.30 L325.58,334.40" stroke="#d8405e" stroke-width="1.0" fill="none" stroke-dasharray="1.5,1.0"/>
<rect x="257.40" y="377.20" width="2.80" height="2.80" fill="#d8405e"/>
<rect x="294.50" y="346.90" width="2.80" height="2.80" fill="#d8405e"/>
<rect x="324.18" y="333.00" width="2.80" height="2.80" fill="#d8405e"/>
<path d="M258.80,374.20 L295.90,344.80 L325.58,330.20" stroke="#3a70b0" stroke-width="1.0" fill="none" stroke-dasharray="1.5,1.0"/>
<rect x="257.40" y="372.80" width="2.80" height="2.80" fill="#3a70b0"/>
<rect x="294.50" y="343.40" width="2.80" height="2.80" fill="#3a70b0"/>
<rect x="324.18" y="328.80" width="2.80" height="2.80" fill="#3a70b0"/>
<path d="M258.80,375.00 L295.90,345.60 L325.58,331.60" stroke="#50c458" stroke-width="1.0" fill="none" stroke-dasharray="1.5,1.0"/>
<rect x="257.40" y="373.60" width="2.80" height="2.80" fill="#50c458"/>
<rect x="294.50" y="344.20" width="2.80" height="2.80" fill="#50c458"/>
<rect x="324.18" y="330.20" width="2.80" height="2.80" fill="#50c458"/>
<path d="M258.80,375.40 L295.90,346.50 L325.58,333.30" stroke="#38b048" stroke-width="1.3" fill="none"/>
<rect x="257.40" y="374.00" width="2.80" height="2.80" fill="#38b048"/>
<rect x="294.50" y="345.10" width="2.80" height="2.80" fill="#38b048"/>
<rect x="324.18" y="331.90" width="2.80" height="2.80" fill="#38b048"/>
<path d="M258.80,374.20 L295.90,346.10 L325.58,335.50" stroke="#1d5494" stroke-width="1.3" fill="none"/>
<rect x="257.40" y="372.80" width="2.80" height="2.80" fill="#1d5494"/>
<rect x="294.50" y="344.70" width="2.80" height="2.80" fill="#1d5494"/>
<rect x="324.18" y="334.10" width="2.80" height="2.80" fill="#1d5494"/>
<path d="M258.80,376.00 L295.90,361.60 L325.58,349.20" stroke="#cc1f40" stroke-width="1.3" fill="none"/>
<rect x="257.40" y="374.60" width="2.80" height="2.80" fill="#cc1f40"/>
<rect x="294.50" y="360.20" width="2.80" height="2.80" fill="#cc1f40"/>
<rect x="324.18" y="347.80" width="2.80" height="2.80" fill="#cc1f40"/>
<path d="M329.10,333.70 L330.70,333.70 L330.70,348.70 L329.10,348.70" stroke="#333" stroke-width="0.6" fill="none"/>
<text x="332.60" y="344.40" font-size="5.6" fill="#222" stroke="#222" stroke-width="0.1">*</text>
<text x="225.60" y="426.60" font-size="10.6" font-weight="bold">I</text>
<line x1="234.00" y1="435.30" x2="243.60" y2="435.30" stroke="#d8405e" stroke-width="0.9" stroke-dasharray="1.2,0.8"/>
<rect x="237.65" y="434.15" width="2.30" height="2.30" fill="#d8405e"/>
<text x="245.80" y="438.10" font-size="6.3" fill="#1a1a1a" stroke="#1a1a1a" stroke-width="0.1" transform="translate(245.80 0) scale(0.9 1) translate(-245.80 0)">WT ctrl.</text>
<line x1="234.00" y1="444.20" x2="243.60" y2="444.20" stroke="#cc1f40" stroke-width="1.0"/>
<rect x="237.65" y="443.05" width="2.30" height="2.30" fill="#cc1f40"/>
<text x="245.80" y="447.00" font-size="6.3" fill="#1a1a1a" stroke="#1a1a1a" stroke-width="0.1" transform="translate(245.80 0) scale(0.9 1) translate(-245.80 0)">WT Aza</text>
<line x1="269.90" y1="435.30" x2="279.40" y2="435.30" stroke="#3a70b0" stroke-width="0.9" stroke-dasharray="1.2,0.8"/>
<rect x="273.50" y="434.15" width="2.30" height="2.30" fill="#3a70b0"/>
<text x="281.60" y="438.10" font-size="6.3" fill="#1a1a1a" stroke="#1a1a1a" stroke-width="0.1" transform="translate(281.60 0) scale(0.9 1) translate(-281.60 0)">KO ctrl.</text>
<line x1="269.90" y1="444.20" x2="279.40" y2="444.20" stroke="#1d5494" stroke-width="1.0"/>
<rect x="273.50" y="443.05" width="2.30" height="2.30" fill="#1d5494"/>
<text x="281.60" y="447.00" font-size="6.3" fill="#1a1a1a" stroke="#1a1a1a" stroke-width="0.1" transform="translate(281.60 0) scale(0.9 1) translate(-281.60 0)">KO Aza</text>
<line x1="306.30" y1="435.30" x2="315.40" y2="435.30" stroke="#50c458" stroke-width="0.9" stroke-dasharray="1.2,0.8"/>
<rect x="309.70" y="434.15" width="2.30" height="2.30" fill="#50c458"/>
<text x="317.40" y="438.10" font-size="6.3" fill="#1a1a1a" stroke="#1a1a1a" stroke-width="0.1" transform="translate(317.40 0) scale(0.9 1) translate(-317.40 0)">R248Q/– ctrl.</text>
<line x1="306.30" y1="444.20" x2="315.40" y2="444.20" stroke="#38b048" stroke-width="1.0"/>
<rect x="309.70" y="443.05" width="2.30" height="2.30" fill="#38b048"/>
<text x="317.40" y="447.00" font-size="6.3" fill="#1a1a1a" stroke="#1a1a1a" stroke-width="0.1" transform="translate(317.40 0) scale(0.9 1) translate(-317.40 0)">R248Q/– Aza</text>
<line x1="251.60" y1="455.50" x2="251.60" y2="509.70" stroke="#111" stroke-width="0.9"/>
<line x1="251.20" y1="509.30" x2="336.20" y2="509.30" stroke="#111" stroke-width="0.9"/>
<line x1="251.38" y1="509.30" x2="251.38" y2="511.70" stroke="#111" stroke-width="0.8"/>
<line x1="258.80" y1="509.30" x2="258.80" y2="511.70" stroke="#111" stroke-width="0.8"/>
<line x1="266.22" y1="509.30" x2="266.22" y2="511.70" stroke="#111" stroke-width="0.8"/>
<line x1="273.64" y1="509.30" x2="273.64" y2="511.70" stroke="#111" stroke-width="0.8"/>
<line x1="281.06" y1="509.30" x2="281.06" y2="511.70" stroke="#111" stroke-width="0.8"/>
<line x1="288.48" y1="509.30" x2="288.48" y2="511.70" stroke="#111" stroke-width="0.8"/>
<line x1="295.90" y1="509.30" x2="295.90" y2="511.70" stroke="#111" stroke-width="0.8"/>
<line x1="303.32" y1="509.30" x2="303.32" y2="511.70" stroke="#111" stroke-width="0.8"/>
<line x1="310.74" y1="509.30" x2="310.74" y2="511.70" stroke="#111" stroke-width="0.8"/>
<line x1="318.16" y1="509.30" x2="318.16" y2="511.70" stroke="#111" stroke-width="0.8"/>
<line x1="325.58" y1="509.30" x2="325.58" y2="511.70" stroke="#111" stroke-width="0.8"/>
<line x1="333.00" y1="509.30" x2="333.00" y2="511.70" stroke="#111" stroke-width="0.8"/>
<text x="258.80" y="521.00" font-size="7.8" text-anchor="middle" stroke="#111" stroke-width="0.25" textLength="2.2" lengthAdjust="spacingAndGlyphs">7</text>
<text x="266.22" y="521.00" font-size="7.8" text-anchor="middle" stroke="#111" stroke-width="0.25" textLength="2.2" lengthAdjust="spacingAndGlyphs">8</text>
<text x="273.64" y="521.00" font-size="7.8" text-anchor="middle" stroke="#111" stroke-width="0.25" textLength="2.2" lengthAdjust="spacingAndGlyphs">9</text>
<text x="281.06" y="521.00" font-size="7.8" text-anchor="middle" stroke="#111" stroke-width="0.25" textLength="4.8" lengthAdjust="spacingAndGlyphs">10</text>
<text x="288.48" y="521.00" font-size="7.8" text-anchor="middle" stroke="#111" stroke-width="0.25" textLength="4.8" lengthAdjust="spacingAndGlyphs">11</text>
<text x="295.90" y="521.00" font-size="7.8" text-anchor="middle" stroke="#111" stroke-width="0.25" textLength="4.8" lengthAdjust="spacingAndGlyphs">12</text>
<text x="303.32" y="521.00" font-size="7.8" text-anchor="middle" stroke="#111" stroke-width="0.25" textLength="4.8" lengthAdjust="spacingAndGlyphs">13</text>
<text x="310.74" y="521.00" font-size="7.8" text-anchor="middle" stroke="#111" stroke-width="0.25" textLength="4.8" lengthAdjust="spacingAndGlyphs">14</text>
<text x="318.16" y="521.00" font-size="7.8" text-anchor="middle" stroke="#111" stroke-width="0.25" textLength="4.8" lengthAdjust="spacingAndGlyphs">15</text>
<text x="325.58" y="521.00" font-size="7.8" text-anchor="middle" stroke="#111" stroke-width="0.25" textLength="4.8" lengthAdjust="spacingAndGlyphs">16</text>
<line x1="249.00" y1="460.00" x2="251.60" y2="460.00" stroke="#111" stroke-width="0.8"/>
<text x="243.40" y="463.30" font-size="7.8" text-anchor="end" stroke="#111" stroke-width="0.25" textLength="4.3" lengthAdjust="spacingAndGlyphs">10</text>
<text x="244.00" y="459.50" font-size="5.3" fill="#1a1a1a" stroke="#1a1a1a" stroke-width="0.1" textLength="1.5" lengthAdjust="spacingAndGlyphs">9</text>
<line x1="249.00" y1="476.50" x2="251.60" y2="476.50" stroke="#111" stroke-width="0.8"/>
<text x="243.40" y="479.80" font-size="7.8" text-anchor="end" stroke="#111" stroke-width="0.25" textLength="4.3" lengthAdjust="spacingAndGlyphs">10</text>
<text x="244.00" y="476.00" font-size="5.3" fill="#1a1a1a" stroke="#1a1a1a" stroke-width="0.1" textLength="1.5" lengthAdjust="spacingAndGlyphs">8</text>
<line x1="249.00" y1="493.10" x2="251.60" y2="493.10" stroke="#111" stroke-width="0.8"/>
<text x="243.40" y="496.40" font-size="7.8" text-anchor="end" stroke="#111" stroke-width="0.25" textLength="4.3" lengthAdjust="spacingAndGlyphs">10</text>
<text x="244.00" y="492.60" font-size="5.3" fill="#1a1a1a" stroke="#1a1a1a" stroke-width="0.1" textLength="1.5" lengthAdjust="spacingAndGlyphs">7</text>
<line x1="249.00" y1="509.30" x2="251.60" y2="509.30" stroke="#111" stroke-width="0.8"/>
<text x="243.40" y="512.60" font-size="7.8" text-anchor="end" stroke="#111" stroke-width="0.25" textLength="4.3" lengthAdjust="spacingAndGlyphs">10</text>
<text x="244.00" y="508.80" font-size="5.3" fill="#1a1a1a" stroke="#1a1a1a" stroke-width="0.1" textLength="1.5" lengthAdjust="spacingAndGlyphs">6</text>
<text x="231.70" y="484.70" font-size="8.8" text-anchor="middle" stroke="#111" stroke-width="0.3" textLength="41.8" lengthAdjust="spacingAndGlyphs" transform="rotate(-90 231.70 484.70)">Total flux [p/s]</text>
<text x="292.00" y="531.90" font-size="7.0" text-anchor="middle" stroke="#111" stroke-width="0.3" textLength="12.6" lengthAdjust="spacingAndGlyphs">Days</text>
<path d="M258.80,504.20 L295.90,483.20 L325.58,463.90" stroke="#d8405e" stroke-width="1.0" fill="none" stroke-dasharray="1.5,1.0"/>
<rect x="257.40" y="502.80" width="2.80" height="2.80" fill="#d8405e"/>
<rect x="294.50" y="481.80" width="2.80" height="2.80" fill="#d8405e"/>
<rect x="324.18" y="462.50" width="2.80" height="2.80" fill="#d8405e"/>
<path d="M258.80,503.00 L295.90,476.10 L325.58,461.00" stroke="#50c458" stroke-width="1.0" fill="none" stroke-dasharray="1.5,1.0"/>
<rect x="257.40" y="501.60" width="2.80" height="2.80" fill="#50c458"/>
<rect x="294.50" y="474.70" width="2.80" height="2.80" fill="#50c458"/>
<rect x="324.18" y="459.60" width="2.80" height="2.80" fill="#50c458"/>
<path d="M258.80,501.30 L295.90,473.20 L325.58,458.80" stroke="#3a70b0" stroke-width="1.0" fill="none" stroke-dasharray="1.5,1.0"/>
<rect x="257.40" y="499.90" width="2.80" height="2.80" fill="#3a70b0"/>
<rect x="294.50" y="471.80" width="2.80" height="2.80" fill="#3a70b0"/>
<rect x="324.18" y="457.40" width="2.80" height="2.80" fill="#3a70b0"/>
<path d="M258.80,503.00 L295.90,486.50 L325.58,479.40" stroke="#38b048" stroke-width="1.3" fill="none"/>
<rect x="257.40" y="501.60" width="2.80" height="2.80" fill="#38b048"/>
<rect x="294.50" y="485.10" width="2.80" height="2.80" fill="#38b048"/>
<rect x="324.18" y="478.00" width="2.80" height="2.80" fill="#38b048"/>
<path d="M258.80,501.30 L295.90,478.30 L325.58,473.70" stroke="#1d5494" stroke-width="1.3" fill="none"/>
<rect x="257.40" y="499.90" width="2.80" height="2.80" fill="#1d5494"/>
<rect x="294.50" y="476.90" width="2.80" height="2.80" fill="#1d5494"/>
<rect x="324.18" y="472.30" width="2.80" height="2.80" fill="#1d5494"/>
<path d="M258.80,504.20 L295.90,503.50 L325.58,491.40" stroke="#cc1f40" stroke-width="1.3" fill="none"/>
<rect x="257.40" y="502.80" width="2.80" height="2.80" fill="#cc1f40"/>
<rect x="294.50" y="502.10" width="2.80" height="2.80" fill="#cc1f40"/>
<rect x="324.18" y="490.00" width="2.80" height="2.80" fill="#cc1f40"/>
<path d="M328.60,460.00 L330.20,460.00 L330.20,475.30 L328.60,475.30" stroke="#333" stroke-width="0.6" fill="none"/>
<text x="332.00" y="471.00" font-size="5.6" fill="#222" stroke="#222" stroke-width="0.1">*</text>
<path d="M328.60,477.30 L330.20,477.30 L330.20,490.40 L328.60,490.40" stroke="#333" stroke-width="0.6" fill="none"/>
<text x="332.00" y="485.60" font-size="5.6" fill="#222" stroke="#222" stroke-width="0.1">*</text>
<path d="M334.40,460.00 L336.00,460.00 L336.00,490.40 L334.40,490.40" stroke="#333" stroke-width="0.6" fill="none"/>
<text x="338.00" y="478.50" font-size="5.6" fill="#222" stroke="#222" stroke-width="0.1">*</text>
<text x="225.60" y="555.70" font-size="10.6" font-weight="bold">L</text>
<line x1="234.00" y1="562.30" x2="243.60" y2="562.30" stroke="#d8405e" stroke-width="0.9" stroke-dasharray="1.2,0.8"/>
<rect x="237.65" y="561.15" width="2.30" height="2.30" fill="#d8405e"/>
<text x="245.80" y="565.10" font-size="6.3" fill="#1a1a1a" stroke="#1a1a1a" stroke-width="0.1" transform="translate(245.80 0) scale(0.9 1) translate(-245.80 0)">WT Aza</text>
<line x1="234.00" y1="571.20" x2="243.60" y2="571.20" stroke="#cc1f40" stroke-width="1.0"/>
<rect x="237.65" y="570.05" width="2.30" height="2.30" fill="#cc1f40"/>
<text x="245.80" y="574.00" font-size="6.3" fill="#1a1a1a" stroke="#1a1a1a" stroke-width="0.1" transform="translate(245.80 0) scale(0.9 1) translate(-245.80 0)">WT A+V</text>
<line x1="269.90" y1="562.30" x2="279.40" y2="562.30" stroke="#3a70b0" stroke-width="0.9" stroke-dasharray="1.2,0.8"/>
<rect x="273.50" y="561.15" width="2.30" height="2.30" fill="#3a70b0"/>
<text x="281.60" y="565.10" font-size="6.3" fill="#1a1a1a" stroke="#1a1a1a" stroke-width="0.1" transform="translate(281.60 0) scale(0.9 1) translate(-281.60 0)">KO Aza</text>
<line x1="269.90" y1="571.20" x2="279.40" y2="571.20" stroke="#1d5494" stroke-width="1.0"/>
<rect x="273.50" y="570.05" width="2.30" height="2.30" fill="#1d5494"/>
<text x="281.60" y="574.00" font-size="6.3" fill="#1a1a1a" stroke="#1a1a1a" stroke-width="0.1" transform="translate(281.60 0) scale(0.9 1) translate(-281.60 0)">KO A+V</text>
<line x1="306.30" y1="562.30" x2="315.40" y2="562.30" stroke="#50c458" stroke-width="0.9" stroke-dasharray="1.2,0.8"/>
<rect x="309.70" y="561.15" width="2.30" height="2.30" fill="#50c458"/>
<text x="317.40" y="565.10" font-size="6.3" fill="#1a1a1a" stroke="#1a1a1a" stroke-width="0.1" transform="translate(317.40 0) scale(0.9 1) translate(-317.40 0)">R248Q/– Aza</text>
<line x1="306.30" y1="571.20" x2="315.40" y2="571.20" stroke="#38b048" stroke-width="1.0"/>
<rect x="309.70" y="570.05" width="2.30" height="2.30" fill="#38b048"/>
<text x="317.40" y="574.00" font-size="6.3" fill="#1a1a1a" stroke="#1a1a1a" stroke-width="0.1" transform="translate(317.40 0) scale(0.9 1) translate(-317.40 0)">R248Q/– A+V</text>
<line x1="251.60" y1="581.30" x2="251.60" y2="638.90" stroke="#111" stroke-width="0.9"/>
<line x1="251.20" y1="638.50" x2="336.20" y2="638.50" stroke="#111" stroke-width="0.9"/>
<line x1="251.38" y1="638.50" x2="251.38" y2="640.90" stroke="#111" stroke-width="0.8"/>
<line x1="258.80" y1="638.50" x2="258.80" y2="640.90" stroke="#111" stroke-width="0.8"/>
<line x1="266.22" y1="638.50" x2="266.22" y2="640.90" stroke="#111" stroke-width="0.8"/>
<line x1="273.64" y1="638.50" x2="273.64" y2="640.90" stroke="#111" stroke-width="0.8"/>
<line x1="281.06" y1="638.50" x2="281.06" y2="640.90" stroke="#111" stroke-width="0.8"/>
<line x1="288.48" y1="638.50" x2="288.48" y2="640.90" stroke="#111" stroke-width="0.8"/>
<line x1="295.90" y1="638.50" x2="295.90" y2="640.90" stroke="#111" stroke-width="0.8"/>
<line x1="303.32" y1="638.50" x2="303.32" y2="640.90" stroke="#111" stroke-width="0.8"/>
<line x1="310.74" y1="638.50" x2="310.74" y2="640.90" stroke="#111" stroke-width="0.8"/>
<line x1="318.16" y1="638.50" x2="318.16" y2="640.90" stroke="#111" stroke-width="0.8"/>
<line x1="325.58" y1="638.50" x2="325.58" y2="640.90" stroke="#111" stroke-width="0.8"/>
<line x1="333.00" y1="638.50" x2="333.00" y2="640.90" stroke="#111" stroke-width="0.8"/>
<text x="258.80" y="650.20" font-size="7.8" text-anchor="middle" stroke="#111" stroke-width="0.25" textLength="2.2" lengthAdjust="spacingAndGlyphs">7</text>
<text x="266.22" y="650.20" font-size="7.8" text-anchor="middle" stroke="#111" stroke-width="0.25" textLength="2.2" lengthAdjust="spacingAndGlyphs">8</text>
<text x="273.64" y="650.20" font-size="7.8" text-anchor="middle" stroke="#111" stroke-width="0.25" textLength="2.2" lengthAdjust="spacingAndGlyphs">9</text>
<text x="281.06" y="650.20" font-size="7.8" text-anchor="middle" stroke="#111" stroke-width="0.25" textLength="4.8" lengthAdjust="spacingAndGlyphs">10</text>
<text x="288.48" y="650.20" font-size="7.8" text-anchor="middle" stroke="#111" stroke-width="0.25" textLength="4.8" lengthAdjust="spacingAndGlyphs">11</text>
<text x="295.90" y="650.20" font-size="7.8" text-anchor="middle" stroke="#111" stroke-width="0.25" textLength="4.8" lengthAdjust="spacingAndGlyphs">12</text>
<text x="303.32" y="650.20" font-size="7.8" text-anchor="middle" stroke="#111" stroke-width="0.25" textLength="4.8" lengthAdjust="spacingAndGlyphs">13</text>
<text x="310.74" y="650.20" font-size="7.8" text-anchor="middle" stroke="#111" stroke-width="0.25" textLength="4.8" lengthAdjust="spacingAndGlyphs">14</text>
<text x="318.16" y="650.20" font-size="7.8" text-anchor="middle" stroke="#111" stroke-width="0.25" textLength="4.8" lengthAdjust="spacingAndGlyphs">15</text>
<text x="325.58" y="650.20" font-size="7.8" text-anchor="middle" stroke="#111" stroke-width="0.25" textLength="4.8" lengthAdjust="spacingAndGlyphs">16</text>
<line x1="249.00" y1="584.50" x2="251.60" y2="584.50" stroke="#111" stroke-width="0.8"/>
<text x="243.40" y="587.80" font-size="7.8" text-anchor="end" stroke="#111" stroke-width="0.25" textLength="4.3" lengthAdjust="spacingAndGlyphs">10</text>
<text x="244.00" y="584.00" font-size="5.3" fill="#1a1a1a" stroke="#1a1a1a" stroke-width="0.1" textLength="1.5" lengthAdjust="spacingAndGlyphs">9</text>
<line x1="249.00" y1="597.80" x2="251.60" y2="597.80" stroke="#111" stroke-width="0.8"/>
<text x="243.40" y="601.10" font-size="7.8" text-anchor="end" stroke="#111" stroke-width="0.25" textLength="4.3" lengthAdjust="spacingAndGlyphs">10</text>
<text x="244.00" y="597.30" font-size="5.3" fill="#1a1a1a" stroke="#1a1a1a" stroke-width="0.1" textLength="1.5" lengthAdjust="spacingAndGlyphs">8</text>
<line x1="249.00" y1="611.40" x2="251.60" y2="611.40" stroke="#111" stroke-width="0.8"/>
<text x="243.40" y="614.70" font-size="7.8" text-anchor="end" stroke="#111" stroke-width="0.25" textLength="4.3" lengthAdjust="spacingAndGlyphs">10</text>
<text x="244.00" y="610.90" font-size="5.3" fill="#1a1a1a" stroke="#1a1a1a" stroke-width="0.1" textLength="1.5" lengthAdjust="spacingAndGlyphs">7</text>
<line x1="249.00" y1="625.10" x2="251.60" y2="625.10" stroke="#111" stroke-width="0.8"/>
<text x="243.40" y="628.40" font-size="7.8" text-anchor="end" stroke="#111" stroke-width="0.25" textLength="4.3" lengthAdjust="spacingAndGlyphs">10</text>
<text x="244.00" y="624.60" font-size="5.3" fill="#1a1a1a" stroke="#1a1a1a" stroke-width="0.1" textLength="1.5" lengthAdjust="spacingAndGlyphs">6</text>
<line x1="249.00" y1="638.50" x2="251.60" y2="638.50" stroke="#111" stroke-width="0.8"/>
<text x="243.40" y="641.80" font-size="7.8" text-anchor="end" stroke="#111" stroke-width="0.25" textLength="4.3" lengthAdjust="spacingAndGlyphs">10</text>
<text x="244.00" y="638.00" font-size="5.3" fill="#1a1a1a" stroke="#1a1a1a" stroke-width="0.1" textLength="1.5" lengthAdjust="spacingAndGlyphs">5</text>
<text x="231.70" y="612.20" font-size="8.8" text-anchor="middle" stroke="#111" stroke-width="0.3" textLength="41.8" lengthAdjust="spacingAndGlyphs" transform="rotate(-90 231.70 612.20)">Total flux [p/s]</text>
<text x="292.00" y="661.10" font-size="7.0" text-anchor="middle" stroke="#111" stroke-width="0.3" textLength="12.6" lengthAdjust="spacingAndGlyphs">Days</text>
<path d="M258.80,622.00 L295.90,617.30 L325.58,616.30" stroke="#d8405e" stroke-width="1.0" fill="none" stroke-dasharray="1.5,1.0"/>
<rect x="257.40" y="620.60" width="2.80" height="2.80" fill="#d8405e"/>
<rect x="294.50" y="615.90" width="2.80" height="2.80" fill="#d8405e"/>
<rect x="324.18" y="614.90" width="2.80" height="2.80" fill="#d8405e"/>
<path d="M258.80,620.50 L295.90,602.50 L325.58,598.70" stroke="#50c458" stroke-width="1.0" fill="none" stroke-dasharray="1.5,1.0"/>
<rect x="257.40" y="619.10" width="2.80" height="2.80" fill="#50c458"/>
<rect x="294.50" y="601.10" width="2.80" height="2.80" fill="#50c458"/>
<rect x="324.18" y="597.30" width="2.80" height="2.80" fill="#50c458"/>
<path d="M258.80,619.80 L295.90,601.40 L325.58,595.70" stroke="#3a70b0" stroke-width="1.0" fill="none" stroke-dasharray="1.5,1.0"/>
<rect x="257.40" y="618.40" width="2.80" height="2.80" fill="#3a70b0"/>
<rect x="294.50" y="600.00" width="2.80" height="2.80" fill="#3a70b0"/>
<rect x="324.18" y="594.30" width="2.80" height="2.80" fill="#3a70b0"/>
<path d="M258.80,620.50 L295.90,611.00 L325.58,609.90" stroke="#38b048" stroke-width="1.3" fill="none"/>
<rect x="257.40" y="619.10" width="2.80" height="2.80" fill="#38b048"/>
<rect x="294.50" y="609.60" width="2.80" height="2.80" fill="#38b048"/>
<rect x="324.18" y="608.50" width="2.80" height="2.80" fill="#38b048"/>
<path d="M258.80,619.80 L295.90,608.80 L325.58,607.40" stroke="#1d5494" stroke-width="1.3" fill="none"/>
<rect x="257.40" y="618.40" width="2.80" height="2.80" fill="#1d5494"/>
<rect x="294.50" y="607.40" width="2.80" height="2.80" fill="#1d5494"/>
<rect x="324.18" y="606.00" width="2.80" height="2.80" fill="#1d5494"/>
<path d="M258.80,622.00 L295.90,623.70 L325.58,626.80" stroke="#cc1f40" stroke-width="1.3" fill="none"/>
<rect x="257.40" y="620.60" width="2.80" height="2.80" fill="#cc1f40"/>
<rect x="294.50" y="622.30" width="2.80" height="2.80" fill="#cc1f40"/>
<rect x="324.18" y="625.40" width="2.80" height="2.80" fill="#cc1f40"/>
<path d="M327.30,596.20 L328.90,596.20 L328.90,607.80 L327.30,607.80" stroke="#333" stroke-width="0.6" fill="none"/>
<text x="330.40" y="605.20" font-size="5.6" fill="#222" stroke="#222" stroke-width="0.1">**</text>
<path d="M331.10,608.80 L332.70,608.80 L332.70,615.20 L331.10,615.20" stroke="#333" stroke-width="0.6" fill="none"/>
<text x="334.40" y="614.90" font-size="5.6" fill="#222" stroke="#222" stroke-width="0.1">**</text>
<path d="M327.30,616.30 L328.90,616.30 L328.90,627.50 L327.30,627.50" stroke="#333" stroke-width="0.6" fill="none"/>
<text x="330.40" y="624.80" font-size="5.6" fill="#222" stroke="#222" stroke-width="0.1">**</text>
<path d="M339.50,596.20 L341.10,596.20 L341.10,627.50 L339.50,627.50" stroke="#333" stroke-width="0.6" fill="none"/>
<text x="342.40" y="614.90" font-size="5.6" fill="#222" stroke="#222" stroke-width="0.1">***</text>
<text x="363.80" y="297.60" font-size="10.6" font-weight="bold">G</text>
<line x1="388.50" y1="306.10" x2="398.30" y2="306.10" stroke="#d8405e" stroke-width="0.9" stroke-dasharray="1.2,0.8"/>
<rect x="392.25" y="304.95" width="2.30" height="2.30" fill="#d8405e"/>
<text x="400.80" y="308.90" font-size="6.3" fill="#1a1a1a" stroke="#1a1a1a" stroke-width="0.1" transform="translate(400.80 0) scale(0.9 1) translate(-400.80 0)">WT ctrl.</text>
<line x1="388.50" y1="315.20" x2="398.30" y2="315.20" stroke="#cc1f40" stroke-width="1.0"/>
<rect x="392.25" y="314.05" width="2.30" height="2.30" fill="#cc1f40"/>
<text x="400.80" y="318.00" font-size="6.3" fill="#1a1a1a" stroke="#1a1a1a" stroke-width="0.1" transform="translate(400.80 0) scale(0.9 1) translate(-400.80 0)">WT Dec</text>
<line x1="425.80" y1="306.10" x2="435.40" y2="306.10" stroke="#3a70b0" stroke-width="0.9" stroke-dasharray="1.2,0.8"/>
<rect x="429.45" y="304.95" width="2.30" height="2.30" fill="#3a70b0"/>
<text x="437.30" y="308.90" font-size="6.3" fill="#1a1a1a" stroke="#1a1a1a" stroke-width="0.1" transform="translate(437.30 0) scale(0.9 1) translate(-437.30 0)">KO ctrl.</text>
<line x1="425.80" y1="315.20" x2="435.40" y2="315.20" stroke="#1d5494" stroke-width="1.0"/>
<rect x="429.45" y="314.05" width="2.30" height="2.30" fill="#1d5494"/>
<text x="437.30" y="318.00" font-size="6.3" fill="#1a1a1a" stroke="#1a1a1a" stroke-width="0.1" transform="translate(437.30 0) scale(0.9 1) translate(-437.30 0)">KO Dec</text>
<line x1="462.30" y1="306.10" x2="471.60" y2="306.10" stroke="#50c458" stroke-width="0.9" stroke-dasharray="1.2,0.8"/>
<rect x="465.80" y="304.95" width="2.30" height="2.30" fill="#50c458"/>
<text x="473.80" y="308.90" font-size="6.3" fill="#1a1a1a" stroke="#1a1a1a" stroke-width="0.1" transform="translate(473.80 0) scale(0.9 1) translate(-473.80 0)">R248Q/– ctrl.</text>
<line x1="462.30" y1="315.20" x2="471.60" y2="315.20" stroke="#38b048" stroke-width="1.0"/>
<rect x="465.80" y="314.05" width="2.30" height="2.30" fill="#38b048"/>
<text x="473.80" y="318.00" font-size="6.3" fill="#1a1a1a" stroke="#1a1a1a" stroke-width="0.1" transform="translate(473.80 0) scale(0.9 1) translate(-473.80 0)">R248Q/– Dec</text>
<rect x="422.16" y="328.10" width="17.92" height="54.20" fill="#f9d9a6"/>
<text x="431.00" y="336.90" font-size="7.9" font-weight="bold" text-anchor="middle">Dec</text>
<text x="431.00" y="345.80" font-size="7.9" font-weight="bold" text-anchor="middle">(5d)</text>
<path d="M390.80,328.10 L475.92,328.10 L475.92,349.78 L480.40,349.78 L480.40,360.62 L484.88,360.62 L484.88,382.30" stroke="#d8405e" stroke-width="0.9" fill="none" stroke-dasharray="1.2,0.8"/>
<path d="M390.80,328.10 L471.44,328.10 L471.44,349.78 L475.92,349.78 L475.92,371.46 L480.40,371.46 L480.40,382.30" stroke="#50c458" stroke-width="0.9" fill="none" stroke-dasharray="1.2,0.8"/>
<path d="M390.80,328.10 L475.92,328.10 L475.92,349.78 L476.82,349.78 L476.82,382.30" stroke="#3a70b0" stroke-width="0.9" fill="none" stroke-dasharray="1.2,0.8"/>
<path d="M390.80,328.10 L471.44,328.10 L471.44,360.62 L475.92,360.62 L475.92,371.46 L480.40,371.46 L480.40,382.30" stroke="#38b048" stroke-width="1.3" fill="none"/>
<path d="M390.80,328.10 L471.44,328.10 L471.44,360.62 L475.92,360.62 L475.92,371.46 L480.40,371.46 L480.40,382.30" stroke="#1d5494" stroke-width="1.3" fill="none"/>
<path d="M390.80,328.10 L484.88,328.10 L484.88,349.78 L493.84,349.78 L493.84,360.62 L507.28,360.62 L507.28,382.30" stroke="#cc1f40" stroke-width="1.5" fill="none"/>
<line x1="390.80" y1="324.40" x2="390.80" y2="382.70" stroke="#111" stroke-width="0.9"/>
<line x1="390.40" y1="382.30" x2="511.30" y2="382.30" stroke="#111" stroke-width="0.9"/>
<line x1="388.20" y1="382.30" x2="390.80" y2="382.30" stroke="#111" stroke-width="0.8"/>
<text x="384.40" y="384.45" font-size="6.0" text-anchor="end" fill="#1a1a1a" stroke="#1a1a1a" stroke-width="0.1">0</text>
<line x1="388.20" y1="371.46" x2="390.80" y2="371.46" stroke="#111" stroke-width="0.8"/>
<text x="384.40" y="373.61" font-size="6.0" text-anchor="end" fill="#1a1a1a" stroke="#1a1a1a" stroke-width="0.1">20</text>
<line x1="388.20" y1="360.62" x2="390.80" y2="360.62" stroke="#111" stroke-width="0.8"/>
<text x="384.40" y="362.77" font-size="6.0" text-anchor="end" fill="#1a1a1a" stroke="#1a1a1a" stroke-width="0.1">40</text>
<line x1="388.20" y1="349.78" x2="390.80" y2="349.78" stroke="#111" stroke-width="0.8"/>
<text x="384.40" y="351.93" font-size="6.0" text-anchor="end" fill="#1a1a1a" stroke="#1a1a1a" stroke-width="0.1">60</text>
<line x1="388.20" y1="338.94" x2="390.80" y2="338.94" stroke="#111" stroke-width="0.8"/>
<text x="384.40" y="341.09" font-size="6.0" text-anchor="end" fill="#1a1a1a" stroke="#1a1a1a" stroke-width="0.1">80</text>
<line x1="388.20" y1="328.10" x2="390.80" y2="328.10" stroke="#111" stroke-width="0.8"/>
<text x="384.40" y="330.25" font-size="6.0" text-anchor="end" fill="#1a1a1a" stroke="#1a1a1a" stroke-width="0.1">100</text>
<line x1="390.80" y1="382.30" x2="390.80" y2="384.30" stroke="#111" stroke-width="0.8"/>
<text x="390.80" y="392.90" font-size="6.6" text-anchor="middle" fill="#1a1a1a" stroke="#1a1a1a" stroke-width="0.1" textLength="3.0" lengthAdjust="spacingAndGlyphs">0</text>
<line x1="399.76" y1="382.30" x2="399.76" y2="384.30" stroke="#111" stroke-width="0.8"/>
<text x="399.76" y="392.90" font-size="6.6" text-anchor="middle" fill="#1a1a1a" stroke="#1a1a1a" stroke-width="0.1" textLength="3.0" lengthAdjust="spacingAndGlyphs">2</text>
<line x1="408.72" y1="382.30" x2="408.72" y2="384.30" stroke="#111" stroke-width="0.8"/>
<text x="408.72" y="392.90" font-size="6.6" text-anchor="middle" fill="#1a1a1a" stroke="#1a1a1a" stroke-width="0.1" textLength="3.0" lengthAdjust="spacingAndGlyphs">4</text>
<line x1="417.68" y1="382.30" x2="417.68" y2="384.30" stroke="#111" stroke-width="0.8"/>
<text x="417.68" y="392.90" font-size="6.6" text-anchor="middle" fill="#1a1a1a" stroke="#1a1a1a" stroke-width="0.1" textLength="3.0" lengthAdjust="spacingAndGlyphs">6</text>
<line x1="426.64" y1="382.30" x2="426.64" y2="384.30" stroke="#111" stroke-width="0.8"/>
<text x="426.64" y="392.90" font-size="6.6" text-anchor="middle" fill="#1a1a1a" stroke="#1a1a1a" stroke-width="0.1" textLength="3.0" lengthAdjust="spacingAndGlyphs">8</text>
<line x1="435.60" y1="382.30" x2="435.60" y2="384.30" stroke="#111" stroke-width="0.8"/>
<text x="435.60" y="392.90" font-size="6.6" text-anchor="middle" fill="#1a1a1a" stroke="#1a1a1a" stroke-width="0.1" textLength="6.2" lengthAdjust="spacingAndGlyphs">10</text>
<line x1="444.56" y1="382.30" x2="444.56" y2="384.30" stroke="#111" stroke-width="0.8"/>
<text x="444.56" y="392.90" font-size="6.6" text-anchor="middle" fill="#1a1a1a" stroke="#1a1a1a" stroke-width="0.1" textLength="6.2" lengthAdjust="spacingAndGlyphs">12</text>
<line x1="453.52" y1="382.30" x2="453.52" y2="384.30" stroke="#111" stroke-width="0.8"/>
<text x="453.52" y="392.90" font-size="6.6" text-anchor="middle" fill="#1a1a1a" stroke="#1a1a1a" stroke-width="0.1" textLength="6.2" lengthAdjust="spacingAndGlyphs">14</text>
<line x1="462.48" y1="382.30" x2="462.48" y2="384.30" stroke="#111" stroke-width="0.8"/>
<text x="462.48" y="392.90" font-size="6.6" text-anchor="middle" fill="#1a1a1a" stroke="#1a1a1a" stroke-width="0.1" textLength="6.2" lengthAdjust="spacingAndGlyphs">16</text>
<line x1="471.44" y1="382.30" x2="471.44" y2="384.30" stroke="#111" stroke-width="0.8"/>
<text x="471.44" y="392.90" font-size="6.6" text-anchor="middle" fill="#1a1a1a" stroke="#1a1a1a" stroke-width="0.1" textLength="6.2" lengthAdjust="spacingAndGlyphs">18</text>
<line x1="480.40" y1="382.30" x2="480.40" y2="384.30" stroke="#111" stroke-width="0.8"/>
<text x="480.40" y="392.90" font-size="6.6" text-anchor="middle" fill="#1a1a1a" stroke="#1a1a1a" stroke-width="0.1" textLength="6.2" lengthAdjust="spacingAndGlyphs">20</text>
<line x1="489.36" y1="382.30" x2="489.36" y2="384.30" stroke="#111" stroke-width="0.8"/>
<text x="489.36" y="392.90" font-size="6.6" text-anchor="middle" fill="#1a1a1a" stroke="#1a1a1a" stroke-width="0.1" textLength="6.2" lengthAdjust="spacingAndGlyphs">22</text>
<line x1="498.32" y1="382.30" x2="498.32" y2="384.30" stroke="#111" stroke-width="0.8"/>
<text x="498.32" y="392.90" font-size="6.6" text-anchor="middle" fill="#1a1a1a" stroke="#1a1a1a" stroke-width="0.1" textLength="6.2" lengthAdjust="spacingAndGlyphs">24</text>
<line x1="507.28" y1="382.30" x2="507.28" y2="384.30" stroke="#111" stroke-width="0.8"/>
<text x="507.28" y="392.90" font-size="6.6" text-anchor="middle" fill="#1a1a1a" stroke="#1a1a1a" stroke-width="0.1" textLength="6.2" lengthAdjust="spacingAndGlyphs">26</text>
<text x="370.70" y="355.50" font-size="8.7" text-anchor="middle" stroke="#111" stroke-width="0.3" textLength="35.5" lengthAdjust="spacingAndGlyphs" transform="rotate(-90 370.70 355.50)">Survival [%]</text>
<text x="449.20" y="405.70" font-size="7.0" text-anchor="middle" stroke="#111" stroke-width="0.3" textLength="12.6" lengthAdjust="spacingAndGlyphs">Days</text>
<text x="493.30" y="374.20" font-size="6.2" stroke="#111" stroke-width="0.3">*</text>
<text x="363.80" y="427.00" font-size="10.6" font-weight="bold">J</text>
<line x1="390.00" y1="435.40" x2="399.80" y2="435.40" stroke="#d8405e" stroke-width="0.9" stroke-dasharray="1.2,0.8"/>
<rect x="393.75" y="434.25" width="2.30" height="2.30" fill="#d8405e"/>
<text x="402.30" y="438.20" font-size="6.3" fill="#1a1a1a" stroke="#1a1a1a" stroke-width="0.1" transform="translate(402.30 0) scale(0.9 1) translate(-402.30 0)">WT ctrl.</text>
<line x1="390.00" y1="444.50" x2="399.80" y2="444.50" stroke="#cc1f40" stroke-width="1.0"/>
<rect x="393.75" y="443.35" width="2.30" height="2.30" fill="#cc1f40"/>
<text x="402.30" y="447.30" font-size="6.3" fill="#1a1a1a" stroke="#1a1a1a" stroke-width="0.1" transform="translate(402.30 0) scale(0.9 1) translate(-402.30 0)">WT Aza</text>
<line x1="427.30" y1="435.40" x2="436.90" y2="435.40" stroke="#3a70b0" stroke-width="0.9" stroke-dasharray="1.2,0.8"/>
<rect x="430.95" y="434.25" width="2.30" height="2.30" fill="#3a70b0"/>
<text x="438.80" y="438.20" font-size="6.3" fill="#1a1a1a" stroke="#1a1a1a" stroke-width="0.1" transform="translate(438.80 0) scale(0.9 1) translate(-438.80 0)">KO ctrl.</text>
<line x1="427.30" y1="444.50" x2="436.90" y2="444.50" stroke="#1d5494" stroke-width="1.0"/>
<rect x="430.95" y="443.35" width="2.30" height="2.30" fill="#1d5494"/>
<text x="438.80" y="447.30" font-size="6.3" fill="#1a1a1a" stroke="#1a1a1a" stroke-width="0.1" transform="translate(438.80 0) scale(0.9 1) translate(-438.80 0)">KO Aza</text>
<line x1="463.80" y1="435.40" x2="473.10" y2="435.40" stroke="#50c458" stroke-width="0.9" stroke-dasharray="1.2,0.8"/>
<rect x="467.30" y="434.25" width="2.30" height="2.30" fill="#50c458"/>
<text x="475.30" y="438.20" font-size="6.3" fill="#1a1a1a" stroke="#1a1a1a" stroke-width="0.1" transform="translate(475.30 0) scale(0.9 1) translate(-475.30 0)">R248Q/– ctrl.</text>
<line x1="463.80" y1="444.50" x2="473.10" y2="444.50" stroke="#38b048" stroke-width="1.0"/>
<rect x="467.30" y="443.35" width="2.30" height="2.30" fill="#38b048"/>
<text x="475.30" y="447.30" font-size="6.3" fill="#1a1a1a" stroke="#1a1a1a" stroke-width="0.1" transform="translate(475.30 0) scale(0.9 1) translate(-475.30 0)">R248Q/– Aza</text>
<rect x="413.20" y="456.20" width="22.40" height="54.00" fill="#f9d9a6"/>
<text x="425.00" y="464.60" font-size="7.9" font-weight="bold" text-anchor="middle">Aza</text>
<text x="425.00" y="473.40" font-size="7.9" font-weight="bold" text-anchor="middle">(7d)</text>
<path d="M390.80,456.20 L448.40,456.20 L448.40,463.76 L451.60,463.76 L451.60,479.42 L454.80,479.42 L454.80,502.64 L458.00,502.64 L458.00,510.20" stroke="#3a70b0" stroke-width="0.9" fill="none" stroke-dasharray="1.2,0.8"/>
<path d="M390.80,456.20 L454.80,456.20 L454.80,486.98 L458.00,486.98 L458.00,494.54 L461.20,494.54 L461.20,510.20" stroke="#d8405e" stroke-width="0.9" fill="none" stroke-dasharray="1.2,0.8"/>
<path d="M390.80,456.20 L454.80,456.20 L454.80,477.80 L458.00,477.80 L458.00,499.40 L461.20,499.40 L461.20,510.20" stroke="#50c458" stroke-width="0.9" fill="none" stroke-dasharray="1.2,0.8"/>
<path d="M390.80,456.20 L470.80,456.20 L470.80,477.80 L474.00,477.80 L474.00,488.60 L477.20,488.60 L477.20,510.20" stroke="#38b048" stroke-width="1.3" fill="none"/>
<path d="M390.80,456.20 L470.80,456.20 L470.80,488.60 L474.00,488.60 L474.00,499.40 L483.60,499.40 L483.60,510.20" stroke="#1d5494" stroke-width="1.3" fill="none"/>
<path d="M390.80,456.20 L486.80,456.20 L486.80,471.86 L490.00,471.86 L490.00,486.98 L496.40,486.98 L496.40,494.54 L502.80,494.54 L502.80,502.64 L506.00,502.64 L506.00,510.20" stroke="#cc1f40" stroke-width="1.5" fill="none"/>
<line x1="390.80" y1="453.20" x2="390.80" y2="510.60" stroke="#111" stroke-width="0.9"/>
<line x1="390.40" y1="510.20" x2="509.40" y2="510.20" stroke="#111" stroke-width="0.9"/>
<line x1="388.20" y1="510.20" x2="390.80" y2="510.20" stroke="#111" stroke-width="0.8"/>
<text x="384.40" y="512.35" font-size="6.0" text-anchor="end" fill="#1a1a1a" stroke="#1a1a1a" stroke-width="0.1">0</text>
<line x1="388.20" y1="499.40" x2="390.80" y2="499.40" stroke="#111" stroke-width="0.8"/>
<text x="384.40" y="501.55" font-size="6.0" text-anchor="end" fill="#1a1a1a" stroke="#1a1a1a" stroke-width="0.1">20</text>
<line x1="388.20" y1="488.60" x2="390.80" y2="488.60" stroke="#111" stroke-width="0.8"/>
<text x="384.40" y="490.75" font-size="6.0" text-anchor="end" fill="#1a1a1a" stroke="#1a1a1a" stroke-width="0.1">40</text>
<line x1="388.20" y1="477.80" x2="390.80" y2="477.80" stroke="#111" stroke-width="0.8"/>
<text x="384.40" y="479.95" font-size="6.0" text-anchor="end" fill="#1a1a1a" stroke="#1a1a1a" stroke-width="0.1">60</text>
<line x1="388.20" y1="467.00" x2="390.80" y2="467.00" stroke="#111" stroke-width="0.8"/>
<text x="384.40" y="469.15" font-size="6.0" text-anchor="end" fill="#1a1a1a" stroke="#1a1a1a" stroke-width="0.1">80</text>
<line x1="388.20" y1="456.20" x2="390.80" y2="456.20" stroke="#111" stroke-width="0.8"/>
<text x="384.40" y="458.35" font-size="6.0" text-anchor="end" fill="#1a1a1a" stroke="#1a1a1a" stroke-width="0.1">100</text>
<line x1="390.80" y1="510.20" x2="390.80" y2="512.20" stroke="#111" stroke-width="0.8"/>
<text x="390.80" y="520.80" font-size="6.6" text-anchor="middle" fill="#1a1a1a" stroke="#1a1a1a" stroke-width="0.1" textLength="3.0" lengthAdjust="spacingAndGlyphs">0</text>
<line x1="397.20" y1="510.20" x2="397.20" y2="512.20" stroke="#111" stroke-width="0.8"/>
<line x1="403.60" y1="510.20" x2="403.60" y2="512.20" stroke="#111" stroke-width="0.8"/>
<text x="403.60" y="520.80" font-size="6.6" text-anchor="middle" fill="#1a1a1a" stroke="#1a1a1a" stroke-width="0.1" textLength="3.0" lengthAdjust="spacingAndGlyphs">4</text>
<line x1="410.00" y1="510.20" x2="410.00" y2="512.20" stroke="#111" stroke-width="0.8"/>
<line x1="416.40" y1="510.20" x2="416.40" y2="512.20" stroke="#111" stroke-width="0.8"/>
<text x="416.40" y="520.80" font-size="6.6" text-anchor="middle" fill="#1a1a1a" stroke="#1a1a1a" stroke-width="0.1" textLength="3.0" lengthAdjust="spacingAndGlyphs">8</text>
<line x1="422.80" y1="510.20" x2="422.80" y2="512.20" stroke="#111" stroke-width="0.8"/>
<line x1="429.20" y1="510.20" x2="429.20" y2="512.20" stroke="#111" stroke-width="0.8"/>
<text x="429.20" y="520.80" font-size="6.6" text-anchor="middle" fill="#1a1a1a" stroke="#1a1a1a" stroke-width="0.1" textLength="6.2" lengthAdjust="spacingAndGlyphs">12</text>
<line x1="435.60" y1="510.20" x2="435.60" y2="512.20" stroke="#111" stroke-width="0.8"/>
<line x1="442.00" y1="510.20" x2="442.00" y2="512.20" stroke="#111" stroke-width="0.8"/>
<text x="442.00" y="520.80" font-size="6.6" text-anchor="middle" fill="#1a1a1a" stroke="#1a1a1a" stroke-width="0.1" textLength="6.2" lengthAdjust="spacingAndGlyphs">16</text>
<line x1="448.40" y1="510.20" x2="448.40" y2="512.20" stroke="#111" stroke-width="0.8"/>
<line x1="454.80" y1="510.20" x2="454.80" y2="512.20" stroke="#111" stroke-width="0.8"/>
<text x="454.80" y="520.80" font-size="6.6" text-anchor="middle" fill="#1a1a1a" stroke="#1a1a1a" stroke-width="0.1" textLength="6.2" lengthAdjust="spacingAndGlyphs">20</text>
<line x1="461.20" y1="510.20" x2="461.20" y2="512.20" stroke="#111" stroke-width="0.8"/>
<line x1="467.60" y1="510.20" x2="467.60" y2="512.20" stroke="#111" stroke-width="0.8"/>
<text x="467.60" y="520.80" font-size="6.6" text-anchor="middle" fill="#1a1a1a" stroke="#1a1a1a" stroke-width="0.1" textLength="6.2" lengthAdjust="spacingAndGlyphs">24</text>
<line x1="474.00" y1="510.20" x2="474.00" y2="512.20" stroke="#111" stroke-width="0.8"/>
<line x1="480.40" y1="510.20" x2="480.40" y2="512.20" stroke="#111" stroke-width="0.8"/>
<text x="480.40" y="520.80" font-size="6.6" text-anchor="middle" fill="#1a1a1a" stroke="#1a1a1a" stroke-width="0.1" textLength="6.2" lengthAdjust="spacingAndGlyphs">28</text>
<line x1="486.80" y1="510.20" x2="486.80" y2="512.20" stroke="#111" stroke-width="0.8"/>
<line x1="493.20" y1="510.20" x2="493.20" y2="512.20" stroke="#111" stroke-width="0.8"/>
<text x="493.20" y="520.80" font-size="6.6" text-anchor="middle" fill="#1a1a1a" stroke="#1a1a1a" stroke-width="0.1" textLength="6.2" lengthAdjust="spacingAndGlyphs">32</text>
<line x1="499.60" y1="510.20" x2="499.60" y2="512.20" stroke="#111" stroke-width="0.8"/>
<line x1="506.00" y1="510.20" x2="506.00" y2="512.20" stroke="#111" stroke-width="0.8"/>
<text x="506.00" y="520.80" font-size="6.6" text-anchor="middle" fill="#1a1a1a" stroke="#1a1a1a" stroke-width="0.1" textLength="6.2" lengthAdjust="spacingAndGlyphs">36</text>
<text x="370.70" y="483.50" font-size="8.7" text-anchor="middle" stroke="#111" stroke-width="0.3" textLength="35.5" lengthAdjust="spacingAndGlyphs" transform="rotate(-90 370.70 483.50)">Survival [%]</text>
<text x="449.20" y="533.60" font-size="7.0" text-anchor="middle" stroke="#111" stroke-width="0.3" textLength="12.6" lengthAdjust="spacingAndGlyphs">Days</text>
<text x="465.20" y="496.40" font-size="6.2" stroke="#111" stroke-width="0.3">**</text>
<text x="484.00" y="496.40" font-size="6.2" stroke="#111" stroke-width="0.3">***</text>
<text x="363.80" y="556.00" font-size="10.6" font-weight="bold">M</text>
<line x1="390.70" y1="562.50" x2="400.50" y2="562.50" stroke="#d8405e" stroke-width="0.9" stroke-dasharray="1.2,0.8"/>
<rect x="394.45" y="561.35" width="2.30" height="2.30" fill="#d8405e"/>
<text x="403.00" y="565.30" font-size="6.3" fill="#1a1a1a" stroke="#1a1a1a" stroke-width="0.1" transform="translate(403.00 0) scale(0.9 1) translate(-403.00 0)">WT Aza</text>
<line x1="390.70" y1="571.60" x2="400.50" y2="571.60" stroke="#cc1f40" stroke-width="1.0"/>
<rect x="394.45" y="570.45" width="2.30" height="2.30" fill="#cc1f40"/>
<text x="403.00" y="574.40" font-size="6.3" fill="#1a1a1a" stroke="#1a1a1a" stroke-width="0.1" transform="translate(403.00 0) scale(0.9 1) translate(-403.00 0)">WT A+V</text>
<line x1="428.00" y1="562.50" x2="437.60" y2="562.50" stroke="#3a70b0" stroke-width="0.9" stroke-dasharray="1.2,0.8"/>
<rect x="431.65" y="561.35" width="2.30" height="2.30" fill="#3a70b0"/>
<text x="439.50" y="565.30" font-size="6.3" fill="#1a1a1a" stroke="#1a1a1a" stroke-width="0.1" transform="translate(439.50 0) scale(0.9 1) translate(-439.50 0)">KO Aza</text>
<line x1="428.00" y1="571.60" x2="437.60" y2="571.60" stroke="#1d5494" stroke-width="1.0"/>
<rect x="431.65" y="570.45" width="2.30" height="2.30" fill="#1d5494"/>
<text x="439.50" y="574.40" font-size="6.3" fill="#1a1a1a" stroke="#1a1a1a" stroke-width="0.1" transform="translate(439.50 0) scale(0.9 1) translate(-439.50 0)">KO A+V</text>
<line x1="464.50" y1="562.50" x2="473.80" y2="562.50" stroke="#50c458" stroke-width="0.9" stroke-dasharray="1.2,0.8"/>
<rect x="468.00" y="561.35" width="2.30" height="2.30" fill="#50c458"/>
<text x="476.00" y="565.30" font-size="6.3" fill="#1a1a1a" stroke="#1a1a1a" stroke-width="0.1" transform="translate(476.00 0) scale(0.9 1) translate(-476.00 0)">R248Q/– Aza</text>
<line x1="464.50" y1="571.60" x2="473.80" y2="571.60" stroke="#38b048" stroke-width="1.0"/>
<rect x="468.00" y="570.45" width="2.30" height="2.30" fill="#38b048"/>
<text x="476.00" y="574.40" font-size="6.3" fill="#1a1a1a" stroke="#1a1a1a" stroke-width="0.1" transform="translate(476.00 0) scale(0.9 1) translate(-476.00 0)">R248Q/– A+V</text>
<rect x="407.34" y="584.00" width="16.54" height="27.60" fill="#f9d9a6"/>
<text x="415.80" y="594.40" font-size="7.9" font-weight="bold" text-anchor="middle">Aza</text>
<text x="415.80" y="603.20" font-size="7.9" font-weight="bold" text-anchor="middle">(7d)</text>
<rect x="407.34" y="611.60" width="33.08" height="27.60" fill="#c9ebc9"/>
<text x="424.60" y="624.20" font-size="7.9" font-weight="bold" text-anchor="middle">Ven</text>
<text x="424.60" y="633.20" font-size="7.9" font-weight="bold" text-anchor="middle">(14d)</text>
<path d="M390.80,584.00 L447.51,584.00 L447.51,591.73 L449.88,591.73 L449.88,607.74 L452.24,607.74 L452.24,615.46 L454.60,615.46 L454.60,631.47 L456.96,631.47 L456.96,639.20" stroke="#3a70b0" stroke-width="0.9" fill="none" stroke-dasharray="1.2,0.8"/>
<path d="M390.80,584.00 L447.51,584.00 L447.51,591.73 L449.88,591.73 L449.88,600.01 L452.24,600.01 L452.24,623.19 L456.96,623.19 L456.96,639.20" stroke="#50c458" stroke-width="0.9" fill="none" stroke-dasharray="1.2,0.8"/>
<path d="M390.80,584.00 L466.42,584.00 L466.42,591.73 L468.78,591.73 L468.78,607.74 L473.50,607.74 L473.50,615.46 L475.87,615.46 L475.87,628.16 L478.23,628.16 L478.23,639.20" stroke="#d8405e" stroke-width="0.9" fill="none" stroke-dasharray="1.2,0.8"/>
<path d="M390.80,584.00 L459.33,584.00 L459.33,600.01 L461.69,600.01 L461.69,622.64 L464.05,622.64 L464.05,631.47 L468.78,631.47 L468.78,639.20" stroke="#38b048" stroke-width="1.3" fill="none"/>
<path d="M390.80,584.00 L459.33,584.00 L459.33,600.01 L461.69,600.01 L461.69,622.64 L464.05,622.64 L464.05,631.47 L466.42,631.47 L466.42,639.20" stroke="#1d5494" stroke-width="1.3" fill="none"/>
<path d="M390.80,584.00 L480.59,584.00 L480.59,592.28 L482.96,592.28 L482.96,602.22 L508.95,602.22 L508.95,602.22" stroke="#cc1f40" stroke-width="1.5" fill="none"/>
<line x1="390.80" y1="581.00" x2="390.80" y2="639.60" stroke="#111" stroke-width="0.9"/>
<line x1="390.40" y1="639.20" x2="512.00" y2="639.20" stroke="#111" stroke-width="0.9"/>
<line x1="388.20" y1="639.20" x2="390.80" y2="639.20" stroke="#111" stroke-width="0.8"/>
<text x="384.40" y="641.35" font-size="6.0" text-anchor="end" fill="#1a1a1a" stroke="#1a1a1a" stroke-width="0.1">0</text>
<line x1="388.20" y1="628.16" x2="390.80" y2="628.16" stroke="#111" stroke-width="0.8"/>
<text x="384.40" y="630.31" font-size="6.0" text-anchor="end" fill="#1a1a1a" stroke="#1a1a1a" stroke-width="0.1">20</text>
<line x1="388.20" y1="617.12" x2="390.80" y2="617.12" stroke="#111" stroke-width="0.8"/>
<text x="384.40" y="619.27" font-size="6.0" text-anchor="end" fill="#1a1a1a" stroke="#1a1a1a" stroke-width="0.1">40</text>
<line x1="388.20" y1="606.08" x2="390.80" y2="606.08" stroke="#111" stroke-width="0.8"/>
<text x="384.40" y="608.23" font-size="6.0" text-anchor="end" fill="#1a1a1a" stroke="#1a1a1a" stroke-width="0.1">60</text>
<line x1="388.20" y1="595.04" x2="390.80" y2="595.04" stroke="#111" stroke-width="0.8"/>
<text x="384.40" y="597.19" font-size="6.0" text-anchor="end" fill="#1a1a1a" stroke="#1a1a1a" stroke-width="0.1">80</text>
<line x1="388.20" y1="584.00" x2="390.80" y2="584.00" stroke="#111" stroke-width="0.8"/>
<text x="384.40" y="586.15" font-size="6.0" text-anchor="end" fill="#1a1a1a" stroke="#1a1a1a" stroke-width="0.1">100</text>
<line x1="390.80" y1="639.20" x2="390.80" y2="641.20" stroke="#111" stroke-width="0.8"/>
<text x="390.80" y="649.80" font-size="6.6" text-anchor="middle" fill="#1a1a1a" stroke="#1a1a1a" stroke-width="0.1" textLength="3.0" lengthAdjust="spacingAndGlyphs">0</text>
<line x1="395.53" y1="639.20" x2="395.53" y2="641.20" stroke="#111" stroke-width="0.8"/>
<line x1="400.25" y1="639.20" x2="400.25" y2="641.20" stroke="#111" stroke-width="0.8"/>
<text x="400.25" y="649.80" font-size="6.6" text-anchor="middle" fill="#1a1a1a" stroke="#1a1a1a" stroke-width="0.1" textLength="3.0" lengthAdjust="spacingAndGlyphs">4</text>
<line x1="404.98" y1="639.20" x2="404.98" y2="641.20" stroke="#111" stroke-width="0.8"/>
<line x1="409.70" y1="639.20" x2="409.70" y2="641.20" stroke="#111" stroke-width="0.8"/>
<text x="409.70" y="649.80" font-size="6.6" text-anchor="middle" fill="#1a1a1a" stroke="#1a1a1a" stroke-width="0.1" textLength="3.0" lengthAdjust="spacingAndGlyphs">8</text>
<line x1="414.43" y1="639.20" x2="414.43" y2="641.20" stroke="#111" stroke-width="0.8"/>
<line x1="419.16" y1="639.20" x2="419.16" y2="641.20" stroke="#111" stroke-width="0.8"/>
<text x="419.16" y="649.80" font-size="6.6" text-anchor="middle" fill="#1a1a1a" stroke="#1a1a1a" stroke-width="0.1" textLength="6.2" lengthAdjust="spacingAndGlyphs">12</text>
<line x1="423.88" y1="639.20" x2="423.88" y2="641.20" stroke="#111" stroke-width="0.8"/>
<line x1="428.61" y1="639.20" x2="428.61" y2="641.20" stroke="#111" stroke-width="0.8"/>
<text x="428.61" y="649.80" font-size="6.6" text-anchor="middle" fill="#1a1a1a" stroke="#1a1a1a" stroke-width="0.1" textLength="6.2" lengthAdjust="spacingAndGlyphs">16</text>
<line x1="433.33" y1="639.20" x2="433.33" y2="641.20" stroke="#111" stroke-width="0.8"/>
<line x1="438.06" y1="639.20" x2="438.06" y2="641.20" stroke="#111" stroke-width="0.8"/>
<text x="438.06" y="649.80" font-size="6.6" text-anchor="middle" fill="#1a1a1a" stroke="#1a1a1a" stroke-width="0.1" textLength="6.2" lengthAdjust="spacingAndGlyphs">20</text>
<line x1="442.79" y1="639.20" x2="442.79" y2="641.20" stroke="#111" stroke-width="0.8"/>
<line x1="447.51" y1="639.20" x2="447.51" y2="641.20" stroke="#111" stroke-width="0.8"/>
<text x="447.51" y="649.80" font-size="6.6" text-anchor="middle" fill="#1a1a1a" stroke="#1a1a1a" stroke-width="0.1" textLength="6.2" lengthAdjust="spacingAndGlyphs">24</text>
<line x1="452.24" y1="639.20" x2="452.24" y2="641.20" stroke="#111" stroke-width="0.8"/>
<line x1="456.96" y1="639.20" x2="456.96" y2="641.20" stroke="#111" stroke-width="0.8"/>
<text x="456.96" y="649.80" font-size="6.6" text-anchor="middle" fill="#1a1a1a" stroke="#1a1a1a" stroke-width="0.1" textLength="6.2" lengthAdjust="spacingAndGlyphs">28</text>
<line x1="461.69" y1="639.20" x2="461.69" y2="641.20" stroke="#111" stroke-width="0.8"/>
<line x1="466.42" y1="639.20" x2="466.42" y2="641.20" stroke="#111" stroke-width="0.8"/>
<text x="466.42" y="649.80" font-size="6.6" text-anchor="middle" fill="#1a1a1a" stroke="#1a1a1a" stroke-width="0.1" textLength="6.2" lengthAdjust="spacingAndGlyphs">32</text>
<line x1="471.14" y1="639.20" x2="471.14" y2="641.20" stroke="#111" stroke-width="0.8"/>
<line x1="475.87" y1="639.20" x2="475.87" y2="641.20" stroke="#111" stroke-width="0.8"/>
<text x="475.87" y="649.80" font-size="6.6" text-anchor="middle" fill="#1a1a1a" stroke="#1a1a1a" stroke-width="0.1" textLength="6.2" lengthAdjust="spacingAndGlyphs">36</text>
<line x1="480.59" y1="639.20" x2="480.59" y2="641.20" stroke="#111" stroke-width="0.8"/>
<line x1="485.32" y1="639.20" x2="485.32" y2="641.20" stroke="#111" stroke-width="0.8"/>
<text x="485.32" y="649.80" font-size="6.6" text-anchor="middle" fill="#1a1a1a" stroke="#1a1a1a" stroke-width="0.1" textLength="6.2" lengthAdjust="spacingAndGlyphs">40</text>
<line x1="490.05" y1="639.20" x2="490.05" y2="641.20" stroke="#111" stroke-width="0.8"/>
<line x1="494.77" y1="639.20" x2="494.77" y2="641.20" stroke="#111" stroke-width="0.8"/>
<text x="494.77" y="649.80" font-size="6.6" text-anchor="middle" fill="#1a1a1a" stroke="#1a1a1a" stroke-width="0.1" textLength="6.2" lengthAdjust="spacingAndGlyphs">44</text>
<line x1="499.50" y1="639.20" x2="499.50" y2="641.20" stroke="#111" stroke-width="0.8"/>
<line x1="504.22" y1="639.20" x2="504.22" y2="641.20" stroke="#111" stroke-width="0.8"/>
<text x="504.22" y="649.80" font-size="6.6" text-anchor="middle" fill="#1a1a1a" stroke="#1a1a1a" stroke-width="0.1" textLength="6.2" lengthAdjust="spacingAndGlyphs">48</text>
<line x1="508.95" y1="639.20" x2="508.95" y2="641.20" stroke="#111" stroke-width="0.8"/>
<text x="370.70" y="611.90" font-size="8.7" text-anchor="middle" stroke="#111" stroke-width="0.3" textLength="35.5" lengthAdjust="spacingAndGlyphs" transform="rotate(-90 370.70 611.90)">Survival [%]</text>
<text x="449.20" y="662.60" font-size="7.0" text-anchor="middle" stroke="#111" stroke-width="0.3" textLength="12.6" lengthAdjust="spacingAndGlyphs">Days</text>
<text x="452.60" y="591.80" font-size="6.2" stroke="#111" stroke-width="0.3">***</text>
<text x="469.80" y="629.60" font-size="6.2" stroke="#111" stroke-width="0.3">***</text>
<text x="495.00" y="612.40" font-size="6.2" stroke="#111" stroke-width="0.3">***</text>
<rect x="0.5" y="0.5" width="519" height="669" fill="none" stroke="#000" stroke-width="1.2"/>
</svg>
</body></html>
